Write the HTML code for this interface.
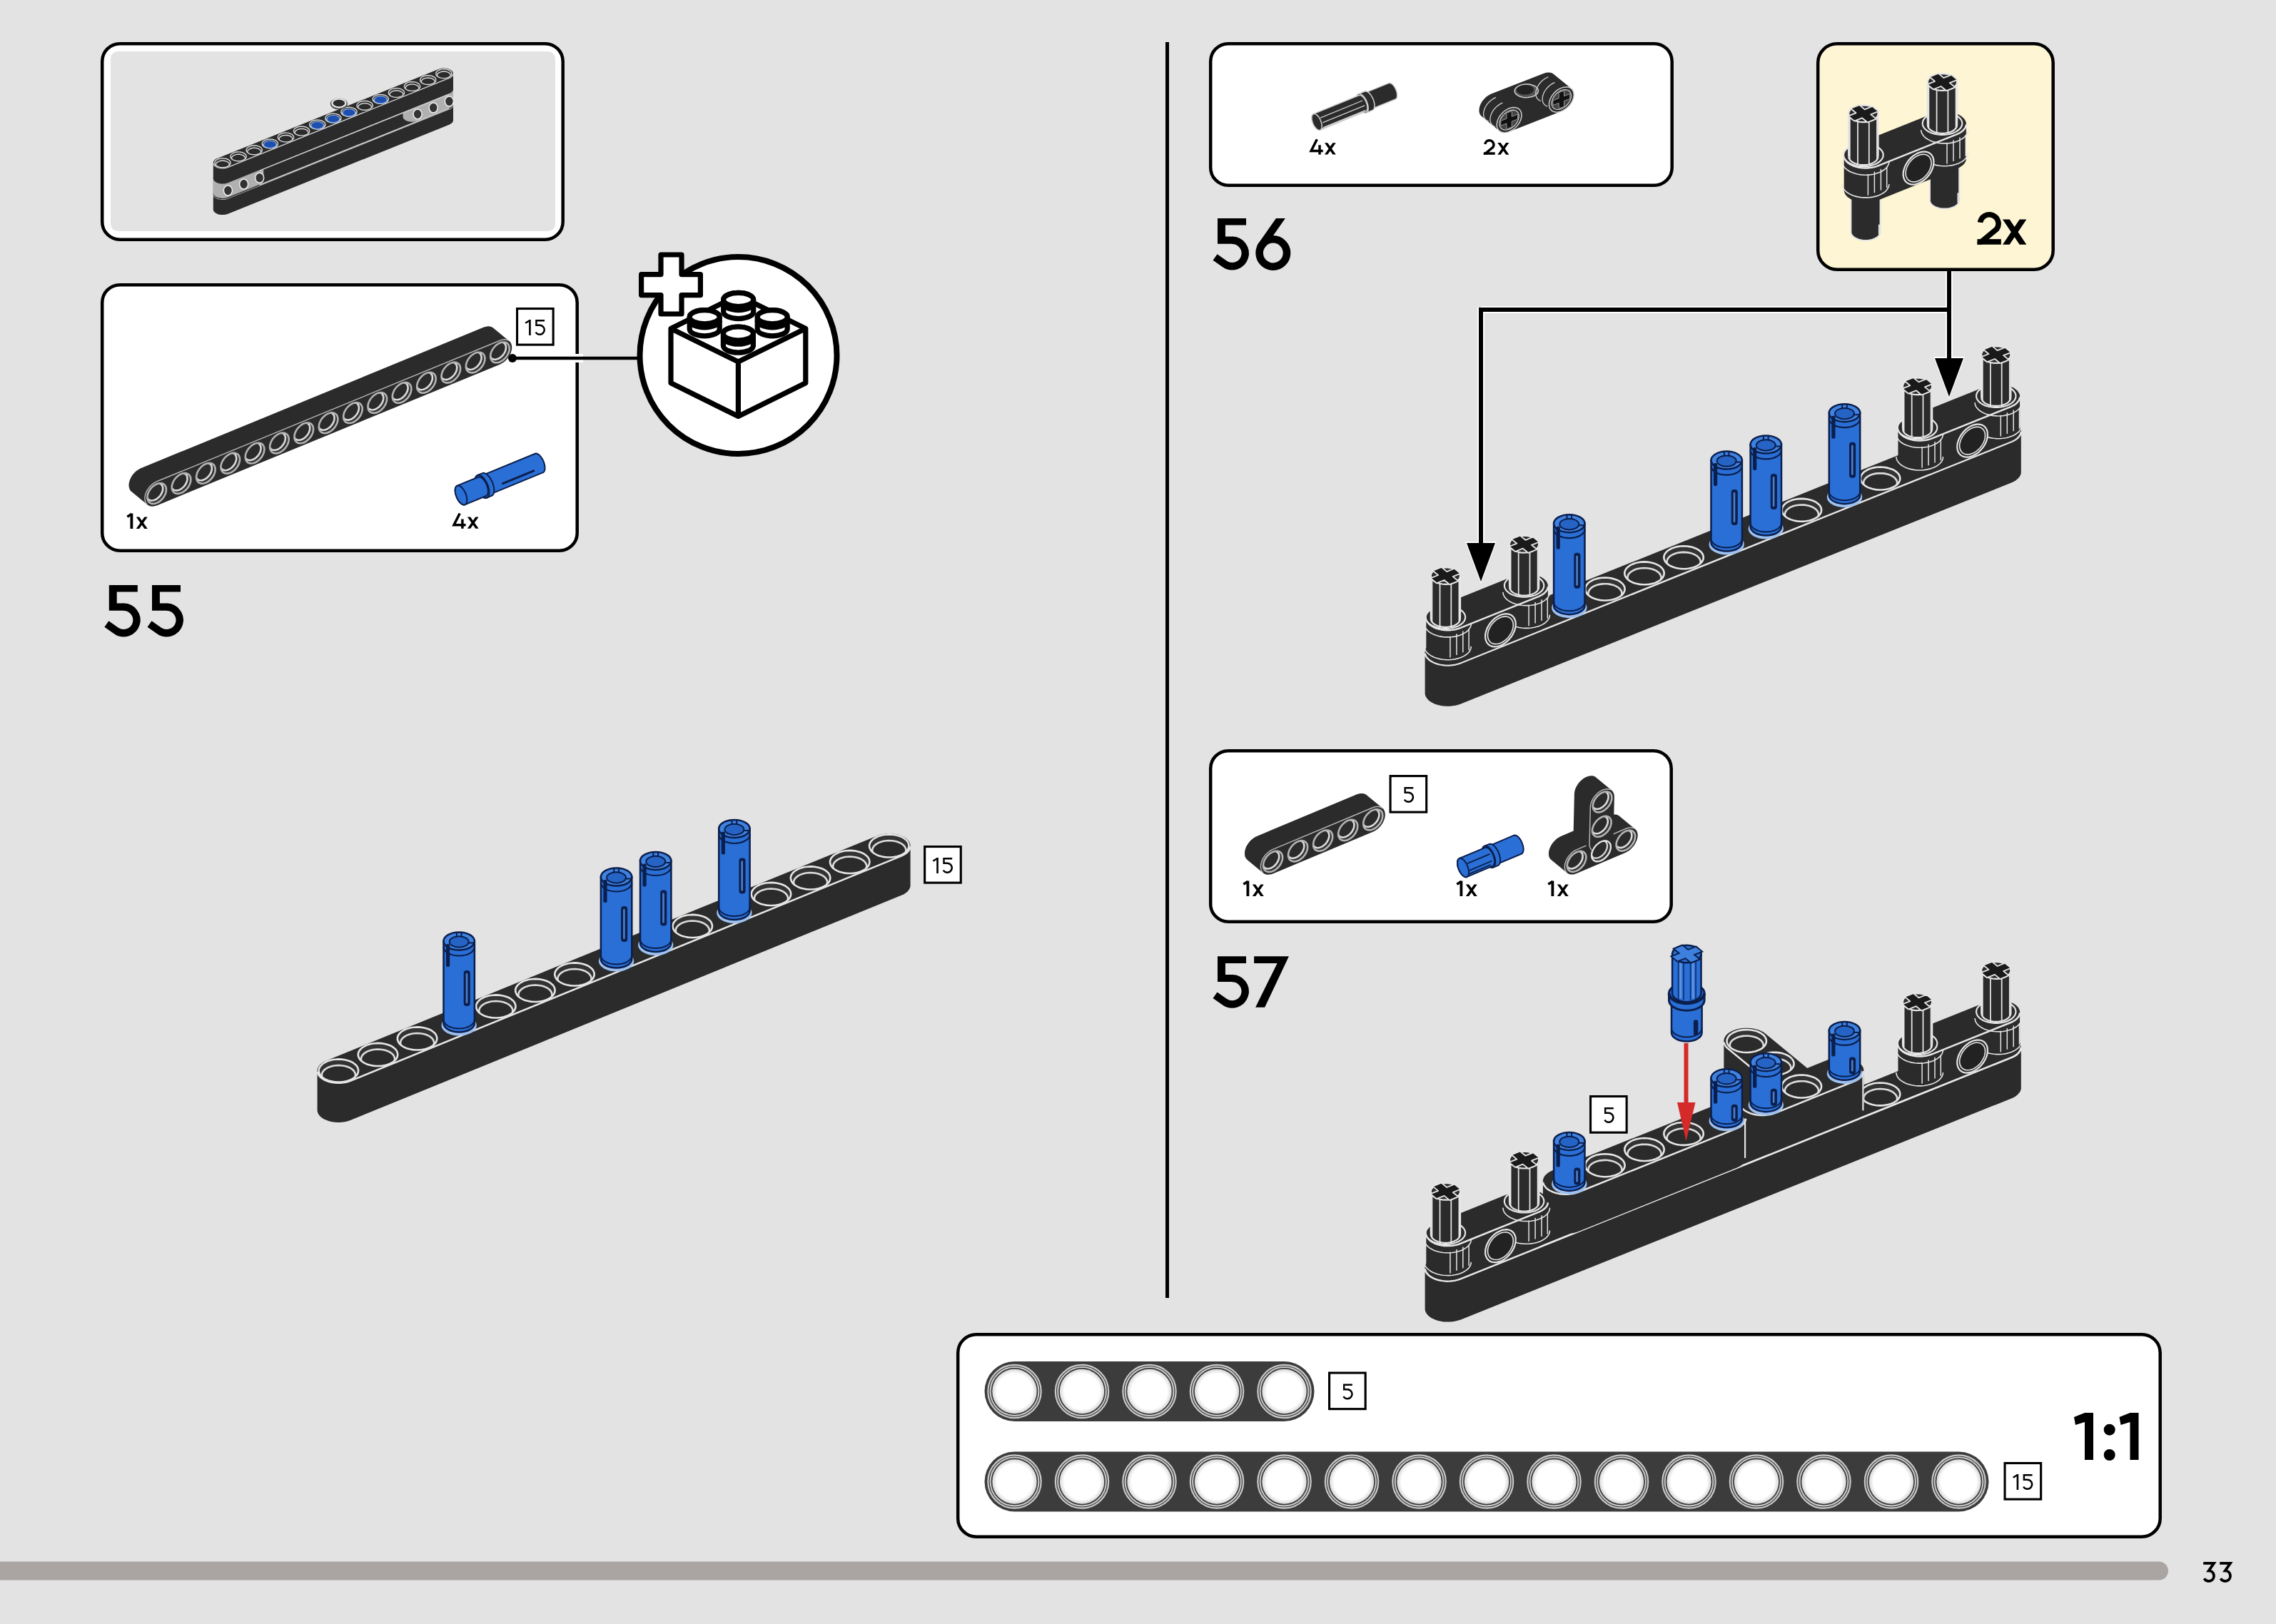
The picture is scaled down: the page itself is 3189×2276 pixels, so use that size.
<!DOCTYPE html><html><head><meta charset="utf-8"><style>
html,body{margin:0;padding:0;background:#e3e3e3;}
svg{display:block;font-family:"Liberation Sans",sans-serif;}
</style></head><body>
<svg width="3189" height="2276" viewBox="0 0 3189 2276" xmlns="http://www.w3.org/2000/svg">
<rect width="3189" height="2276" fill="#e3e3e3"/>
<defs><radialGradient id="holeg"><stop offset="0.8" stop-color="#fff"/><stop offset="1" stop-color="#d8d8d8"/></radialGradient></defs>
<rect x="1633" y="59" width="5" height="1760" fill="#000"/>
<rect x="143.2" y="61.2" width="645.5" height="274.5" rx="24.8" fill="#fff" stroke="#000" stroke-width="4.5"/>
<rect x="155" y="72" width="623" height="252" rx="10" fill="#e3e3e3"/>
<rect x="143.2" y="399.2" width="665.5" height="372.5" rx="24.8" fill="#fff" stroke="#000" stroke-width="4.5"/>
<rect x="1696.2" y="61.2" width="646.5" height="198.5" rx="24.8" fill="#fff" stroke="#000" stroke-width="4.5"/>
<rect x="2547.2" y="61.2" width="329.5" height="316.5" rx="26.8" fill="#fdf5d3" stroke="#000" stroke-width="4.5"/>
<rect x="1696.2" y="1052.2" width="645.5" height="239.5" rx="24.8" fill="#fff" stroke="#000" stroke-width="4.5"/>
<rect x="1342.2" y="1870.2" width="1684.5" height="283.5" rx="25.8" fill="#fff" stroke="#000" stroke-width="4.5"/>
<line x1="803" y1="502" x2="817" y2="502" stroke="#fff" stroke-width="12"/>
<line x1="718" y1="502" x2="900" y2="502" stroke="#000" stroke-width="4.5"/>
<circle cx="718" cy="502" r="6" fill="#000"/>
<circle cx="1034.5" cy="498" r="138" fill="#fff" stroke="#000" stroke-width="8"/>
<path d="M940,460.5 L1034.4,414 L1128.8,460.5 L1128.8,536.7 L1034.4,583.5 L940,536.7 Z" fill="#fff" stroke="#000" stroke-width="7.2" stroke-linejoin="round"/>
<path d="M940,460.5 L1034.4,507 L1128.8,460.5 M1034.4,507 L1034.4,583.5" fill="none" stroke="#000" stroke-width="7.2" stroke-linejoin="round"/>
<path d="M1013.7,420 L1013.7,437 A21,9.6 0 0 0 1055.7,437 L1055.7,420 A21,9.6 0 0 0 1013.7,420 Z" fill="#fff" stroke="#000" stroke-width="7.2"/><ellipse cx="1034.7" cy="420" rx="21" ry="9.6" fill="#fff" stroke="#000" stroke-width="7.2"/><path d="M1013.7,425 A21,9.6 0 0 0 1055.7,425" fill="none" stroke="#000" stroke-width="7.2"/>
<path d="M966.2,444.3 L966.2,461.3 A21,9.6 0 0 0 1008.2,461.3 L1008.2,444.3 A21,9.6 0 0 0 966.2,444.3 Z" fill="#fff" stroke="#000" stroke-width="7.2"/><ellipse cx="987.2" cy="444.3" rx="21" ry="9.6" fill="#fff" stroke="#000" stroke-width="7.2"/><path d="M966.2,449.3 A21,9.6 0 0 0 1008.2,449.3" fill="none" stroke="#000" stroke-width="7.2"/>
<path d="M1061.2,444.3 L1061.2,461.3 A21,9.6 0 0 0 1103.2,461.3 L1103.2,444.3 A21,9.6 0 0 0 1061.2,444.3 Z" fill="#fff" stroke="#000" stroke-width="7.2"/><ellipse cx="1082.2" cy="444.3" rx="21" ry="9.6" fill="#fff" stroke="#000" stroke-width="7.2"/><path d="M1061.2,449.3 A21,9.6 0 0 0 1103.2,449.3" fill="none" stroke="#000" stroke-width="7.2"/>
<path d="M1013.4000000000001,467.6 L1013.4000000000001,484.6 A21,9.6 0 0 0 1055.4,484.6 L1055.4,467.6 A21,9.6 0 0 0 1013.4000000000001,467.6 Z" fill="#fff" stroke="#000" stroke-width="7.2"/><ellipse cx="1034.4" cy="467.6" rx="21" ry="9.6" fill="#fff" stroke="#000" stroke-width="7.2"/><path d="M1013.4000000000001,472.6 A21,9.6 0 0 0 1055.4,472.6" fill="none" stroke="#000" stroke-width="7.2"/>
<path d="M926,357 L955,357 L955,384.6 L981.4,384.6 L981.4,413.6 L955,413.6 L955,440 L926,440 L926,413.6 L898.6,413.6 L898.6,384.6 L926,384.6 Z" fill="#fff" stroke="#000" stroke-width="7.2" stroke-linejoin="round"/>
<rect x="-20" y="2188.5" width="3058" height="26" rx="13" fill="#aaa5a2"/>
<path d="M152.8,819.9 H192.8 V829.6 H163.70000000000002 V845.6 H174.3 V855.8 H152.8 Z" fill="#000"/><path d="M173.3,850.8 A18.2,18.2 0 1 1 162.86,883.91 L149.35,874.44" fill="none" stroke="#000" stroke-width="10.4"/><path d="M213,819.9 H253 V829.6 H223.9 V845.6 H234.5 V855.8 H213 Z" fill="#000"/><path d="M233.5,850.8 A18.2,18.2 0 1 1 223.06,883.91 L209.55,874.44" fill="none" stroke="#000" stroke-width="10.4"/>
<path d="M1706,305.9 H1746 V315.59999999999997 H1716.9 V331.59999999999997 H1727.5 V341.79999999999995 H1706 Z" fill="#000"/><path d="M1726.5,336.8 A18.2,18.2 0 1 1 1716.06,369.91 L1702.55,360.44" fill="none" stroke="#000" stroke-width="10.4"/><circle cx="1783.8" cy="354.5" r="19.2" fill="none" stroke="#000" stroke-width="10.6"/><path d="M1770.12,349.80 L1800.86,305.90 L1787.92,305.90 L1761.44,343.72 Z" fill="#000"/>
<path d="M1706,1340.2 H1746 V1349.9 H1716.9 V1365.9 H1727.5 V1376.1000000000001 H1706 Z" fill="#000"/><path d="M1726.5,1371.1 A18.2,18.2 0 1 1 1716.06,1404.21 L1702.55,1394.74" fill="none" stroke="#000" stroke-width="10.4"/><path d="M1757.1,1340.2 H1805.8999999999999 L1772.1,1411.7 H1759.1 L1789.6,1349.9 H1757.1 Z" fill="#000"/>
<path d="M3087.20,2190.80 H3102.00 L3094.70,2201.30 A7.30,7.30 0 1 1 3088.38,2212.25" stroke="#000" stroke-width="3.80" fill="none" stroke-linejoin="miter"/><path d="M3110.20,2190.80 H3125.00 L3117.70,2201.30 A7.30,7.30 0 1 1 3111.38,2212.25" stroke="#000" stroke-width="3.80" fill="none" stroke-linejoin="miter"/>
<path d="M2921,1980 L2933,1980 L2933,2046 L2921,2046 L2921,1993 L2908,1997 L2906,1986 Z" fill="#000"/><path d="M2984.5,1980 L2996.5,1980 L2996.5,2046 L2984.5,2046 L2984.5,1993 L2971.5,1997 L2969.5,1986 Z" fill="#000"/>
<circle cx="2955.7" cy="2003.7" r="8" fill="#000"/><circle cx="2955.7" cy="2039" r="8" fill="#000"/>
<clipPath id="c1"><rect x="2770.5" y="292" width="45.7" height="50.7"/></clipPath><path d="M2774.61,311.81 A12.79,12.79 0 1 1 2797.75,320.92 L2770.36,343.77" stroke="#000" stroke-width="7.60" fill="none" clip-path="url(#c1)"/><rect x="2770.50" y="335.10" width="33.33" height="7.60" fill="#000"/><path d="M2806.00,307.51 H2815.67 L2839.36,342.70 H2829.69 Z" fill="#000"/><path d="M2839.36,307.51 H2829.69 L2806.00,342.70 H2815.67 Z" fill="#000"/>
<path d="M184.38,719.50 V741.00" stroke="#000" stroke-width="3.85" fill="none"/><path d="M178.29,724.21 L184.38,720.38" stroke="#000" stroke-width="3.50" fill="none"/><path d="M190.80,724.45 H195.14 L206.75,741.00 H202.41 Z" fill="#000"/><path d="M206.75,724.45 H202.41 L190.80,741.00 H195.14 Z" fill="#000"/>
<path d="M644.20,719.50 L636.00,735.70 H652.60" stroke="#000" stroke-width="3.50" fill="none" stroke-linejoin="miter"/><path d="M647.90,727.50 V740.80" stroke="#000" stroke-width="3.50" fill="none"/><path d="M654.81,724.40 H659.15 L670.62,740.80 H666.28 Z" fill="#000"/><path d="M670.62,724.40 H666.28 L654.81,740.80 H659.15 Z" fill="#000"/>
<path d="M1845.30,195.30 L1837.10,211.50 H1853.70" stroke="#000" stroke-width="3.50" fill="none" stroke-linejoin="miter"/><path d="M1849.00,203.30 V216.60" stroke="#000" stroke-width="3.50" fill="none"/><path d="M1855.91,200.20 H1860.25 L1871.72,216.60 H1867.38 Z" fill="#000"/><path d="M1871.72,200.20 H1867.38 L1855.91,216.60 H1860.25 Z" fill="#000"/>
<clipPath id="c2"><rect x="2078.8" y="190" width="21.8" height="26.8"/></clipPath><path d="M2080.76,202.00 A6.10,6.10 0 1 1 2091.80,206.35 L2078.74,217.30" stroke="#000" stroke-width="3.50" fill="none" clip-path="url(#c2)"/><rect x="2078.80" y="213.30" width="15.90" height="3.50" fill="#000"/><path d="M2098.27,200.01 H2102.61 L2114.44,216.80 H2110.10 Z" fill="#000"/><path d="M2114.44,200.01 H2110.10 L2098.27,216.80 H2102.61 Z" fill="#000"/>
<path d="M1748.38,1234.50 V1256.00" stroke="#000" stroke-width="3.85" fill="none"/><path d="M1742.29,1239.21 L1748.38,1235.38" stroke="#000" stroke-width="3.50" fill="none"/><path d="M1754.80,1239.44 H1759.14 L1770.75,1256.00 H1766.41 Z" fill="#000"/><path d="M1770.75,1239.44 H1766.41 L1754.80,1256.00 H1759.14 Z" fill="#000"/>
<path d="M2047.38,1234.50 V1256.00" stroke="#000" stroke-width="3.85" fill="none"/><path d="M2041.29,1239.21 L2047.38,1235.38" stroke="#000" stroke-width="3.50" fill="none"/><path d="M2053.80,1239.44 H2058.14 L2069.75,1256.00 H2065.41 Z" fill="#000"/><path d="M2069.75,1239.44 H2065.41 L2053.80,1256.00 H2058.14 Z" fill="#000"/>
<path d="M2175.38,1234.50 V1256.00" stroke="#000" stroke-width="3.85" fill="none"/><path d="M2169.29,1239.21 L2175.38,1235.38" stroke="#000" stroke-width="3.50" fill="none"/><path d="M2181.80,1239.44 H2186.14 L2197.75,1256.00 H2193.41 Z" fill="#000"/><path d="M2197.75,1239.44 H2193.41 L2181.80,1256.00 H2186.14 Z" fill="#000"/>
<rect x="724.55" y="432.55" width="50.60" height="50.60" fill="#fff" stroke="#000" stroke-width="3.1"/>
<path d="M742.43,448.00 V470.00" stroke="#000" stroke-width="2.64" fill="none"/><path d="M736.20,452.82 L742.43,448.90" stroke="#000" stroke-width="2.40" fill="none"/><path d="M763.06,449.20 H751.40 V455.74 H756.13 A6.53,6.53 0 1 1 750.59,465.73" stroke="#000" stroke-width="2.40" fill="none"/>
<rect x="1295.65" y="1186.55" width="50.60" height="50.60" fill="#fff" stroke="#000" stroke-width="3.1"/>
<path d="M1313.53,1202.00 V1224.00" stroke="#000" stroke-width="2.64" fill="none"/><path d="M1307.30,1206.82 L1313.53,1202.90" stroke="#000" stroke-width="2.40" fill="none"/><path d="M1334.16,1203.20 H1322.50 V1209.74 H1327.23 A6.53,6.53 0 1 1 1321.69,1219.73" stroke="#000" stroke-width="2.40" fill="none"/>
<rect x="1948.05" y="1087.55" width="50.60" height="50.60" fill="#fff" stroke="#000" stroke-width="3.1"/>
<path d="M1980.31,1104.20 H1968.65 V1110.74 H1973.38 A6.53,6.53 0 1 1 1967.84,1120.73" stroke="#000" stroke-width="2.40" fill="none"/>
<rect x="1862.55" y="1924.05" width="50.60" height="50.60" fill="#fff" stroke="#000" stroke-width="3.1"/>
<path d="M1894.81,1940.70 H1883.15 V1947.24 H1887.88 A6.53,6.53 0 1 1 1882.34,1957.23" stroke="#000" stroke-width="2.40" fill="none"/>
<rect x="2809.05" y="2050.55" width="50.60" height="50.60" fill="#fff" stroke="#000" stroke-width="3.1"/>
<path d="M2826.93,2066.00 V2088.00" stroke="#000" stroke-width="2.64" fill="none"/><path d="M2820.70,2070.82 L2826.93,2066.90" stroke="#000" stroke-width="2.40" fill="none"/><path d="M2847.56,2067.20 H2835.90 V2073.74 H2840.63 A6.53,6.53 0 1 1 2835.09,2083.73" stroke="#000" stroke-width="2.40" fill="none"/>
<path d="M444.6,1499.8 L445.0,1497.6 L445.9,1495.4 L447.4,1493.3 L449.2,1491.3 L451.5,1489.5 L454.2,1487.8 L457.3,1486.4 L1228.7,1171.4 L1232.0,1170.2 L1235.6,1169.3 L1239.3,1168.7 L1243.2,1168.3 L1247.1,1168.2 L1251.0,1168.5 L1254.8,1169.0 L1258.4,1169.8 L1261.8,1170.9 L1265.0,1172.2 L1267.8,1173.8 L1270.2,1175.5 L1272.3,1177.4 L1273.8,1179.5 L1274.9,1181.7 L1275.5,1183.9 L1275.6,1186.2 L1275.6,1241.4 L1275.2,1243.6 L1274.3,1245.8 L1272.8,1247.9 L1271.0,1249.9 L1268.7,1251.7 L1266.0,1253.4 L1262.9,1254.8 L491.5,1569.8 L488.2,1571.0 L484.6,1571.9 L480.9,1572.5 L477.0,1572.9 L473.1,1573.0 L469.2,1572.7 L465.4,1572.2 L461.8,1571.4 L458.4,1570.3 L455.2,1569.0 L452.4,1567.4 L449.9,1565.7 L447.9,1563.8 L446.4,1561.7 L445.3,1559.5 L444.7,1557.3 L444.6,1555.0Z" fill="#2b2b2b"/>
<path d="M444.7,1502.1 L445.3,1504.3 L446.4,1506.5 L447.9,1508.6 L449.9,1510.5 L452.4,1512.2 L455.2,1513.8 L458.4,1515.1 L461.8,1516.2 L465.4,1517.0 L469.2,1517.5 L473.1,1517.8 L477.0,1517.7 L480.9,1517.3 L484.6,1516.7 L488.2,1515.8 L491.5,1514.6 L1262.9,1199.6 L1266.0,1198.2 L1268.7,1196.5 L1271.0,1194.7 L1272.8,1192.7 L1274.3,1190.6 L1275.2,1188.4 L1275.6,1186.2" fill="none" stroke="#e6e6e6" stroke-width="2.5" stroke-linejoin="round"/>
<clipPath id="c3"><path d="M497.1,1491.2 L494.3,1489.2 L490.9,1487.5 L487.1,1486.2 L483.0,1485.2 L478.7,1484.6 L474.2,1484.4 L469.8,1484.7 L465.4,1485.3 L461.3,1486.4 L457.6,1487.8 L454.3,1489.5 L451.5,1491.5 L449.3,1493.8 L447.7,1496.2 L446.8,1498.8 L446.7,1501.3 L447.3,1503.9 L448.5,1506.4 L450.5,1508.7 L453.0,1510.8 L456.1,1512.6 L459.7,1514.2 L463.7,1515.3 L467.9,1516.1 L472.3,1516.5 L476.8,1516.5 L481.2,1516.0 L485.4,1515.2 L489.4,1514.0 L492.9,1512.4 L496.0,1510.5 L498.5,1508.4 L500.4,1506.0 L501.6,1503.5 L502.1,1501.0 L501.9,1498.4 L501.0,1495.8 L499.4,1493.4 L497.1,1491.2Z"/></clipPath><path d="M497.1,1491.2 L494.3,1489.2 L490.9,1487.5 L487.1,1486.2 L483.0,1485.2 L478.7,1484.6 L474.2,1484.4 L469.8,1484.7 L465.4,1485.3 L461.3,1486.4 L457.6,1487.8 L454.3,1489.5 L451.5,1491.5 L449.3,1493.8 L447.7,1496.2 L446.8,1498.8 L446.7,1501.3 L447.3,1503.9 L448.5,1506.4 L450.5,1508.7 L453.0,1510.8 L456.1,1512.6 L459.7,1514.2 L463.7,1515.3 L467.9,1516.1 L472.3,1516.5 L476.8,1516.5 L481.2,1516.0 L485.4,1515.2 L489.4,1514.0 L492.9,1512.4 L496.0,1510.5 L498.5,1508.4 L500.4,1506.0 L501.6,1503.5 L502.1,1501.0 L501.9,1498.4 L501.0,1495.8 L499.4,1493.4 L497.1,1491.2Z" fill="#333"/><g clip-path="url(#c3)"><path d="M493.7,1498.8 L491.3,1497.1 L488.4,1495.7 L485.2,1494.5 L481.7,1493.7 L478.0,1493.2 L474.2,1493.1 L470.5,1493.3 L466.8,1493.8 L463.3,1494.7 L460.1,1495.9 L457.3,1497.4 L454.9,1499.1 L453.0,1501.0 L451.7,1503.1 L451.0,1505.2 L450.8,1507.4 L451.3,1509.6 L452.4,1511.7 L454.1,1513.7 L456.2,1515.5 L458.9,1517.0 L461.9,1518.3 L465.3,1519.3 L468.9,1520.0 L472.7,1520.3 L476.4,1520.3 L480.2,1519.9 L483.8,1519.2 L487.1,1518.2 L490.2,1516.8 L492.8,1515.2 L494.9,1513.4 L496.5,1511.4 L497.5,1509.3 L498.0,1507.1 L497.8,1504.9 L497.0,1502.8 L495.6,1500.7 L493.7,1498.8Z" fill="#2b2b2b" stroke="#dcdcdc" stroke-width="2.60"/></g><path d="M497.1,1491.2 L494.3,1489.2 L490.9,1487.5 L487.1,1486.2 L483.0,1485.2 L478.7,1484.6 L474.2,1484.4 L469.8,1484.7 L465.4,1485.3 L461.3,1486.4 L457.6,1487.8 L454.3,1489.5 L451.5,1491.5 L449.3,1493.8 L447.7,1496.2 L446.8,1498.8 L446.7,1501.3 L447.3,1503.9 L448.5,1506.4 L450.5,1508.7 L453.0,1510.8 L456.1,1512.6 L459.7,1514.2 L463.7,1515.3 L467.9,1516.1 L472.3,1516.5 L476.8,1516.5 L481.2,1516.0 L485.4,1515.2 L489.4,1514.0 L492.9,1512.4 L496.0,1510.5 L498.5,1508.4 L500.4,1506.0 L501.6,1503.5 L502.1,1501.0 L501.9,1498.4 L501.0,1495.8 L499.4,1493.4 L497.1,1491.2Z" fill="none" stroke="#e6e6e6" stroke-width="2.6"/>
<clipPath id="c4"><path d="M552.2,1468.7 L549.4,1466.7 L546.0,1465.0 L542.2,1463.7 L538.1,1462.7 L533.8,1462.1 L529.3,1461.9 L524.9,1462.2 L520.5,1462.8 L516.4,1463.9 L512.7,1465.3 L509.4,1467.0 L506.6,1469.0 L504.4,1471.3 L502.8,1473.7 L501.9,1476.3 L501.8,1478.8 L502.4,1481.4 L503.6,1483.9 L505.6,1486.2 L508.1,1488.3 L511.2,1490.1 L514.8,1491.7 L518.8,1492.8 L523.0,1493.6 L527.4,1494.0 L531.9,1494.0 L536.3,1493.5 L540.5,1492.7 L544.5,1491.5 L548.0,1489.9 L551.1,1488.0 L553.6,1485.9 L555.5,1483.5 L556.7,1481.0 L557.2,1478.5 L557.0,1475.9 L556.1,1473.3 L554.5,1470.9 L552.2,1468.7Z"/></clipPath><path d="M552.2,1468.7 L549.4,1466.7 L546.0,1465.0 L542.2,1463.7 L538.1,1462.7 L533.8,1462.1 L529.3,1461.9 L524.9,1462.2 L520.5,1462.8 L516.4,1463.9 L512.7,1465.3 L509.4,1467.0 L506.6,1469.0 L504.4,1471.3 L502.8,1473.7 L501.9,1476.3 L501.8,1478.8 L502.4,1481.4 L503.6,1483.9 L505.6,1486.2 L508.1,1488.3 L511.2,1490.1 L514.8,1491.7 L518.8,1492.8 L523.0,1493.6 L527.4,1494.0 L531.9,1494.0 L536.3,1493.5 L540.5,1492.7 L544.5,1491.5 L548.0,1489.9 L551.1,1488.0 L553.6,1485.9 L555.5,1483.5 L556.7,1481.0 L557.2,1478.5 L557.0,1475.9 L556.1,1473.3 L554.5,1470.9 L552.2,1468.7Z" fill="#333"/><g clip-path="url(#c4)"><path d="M548.8,1476.3 L546.4,1474.6 L543.5,1473.2 L540.3,1472.0 L536.8,1471.2 L533.1,1470.7 L529.3,1470.6 L525.6,1470.8 L521.9,1471.3 L518.4,1472.2 L515.2,1473.4 L512.4,1474.9 L510.0,1476.6 L508.1,1478.5 L506.8,1480.6 L506.1,1482.7 L505.9,1484.9 L506.4,1487.1 L507.5,1489.2 L509.2,1491.2 L511.3,1493.0 L514.0,1494.5 L517.0,1495.8 L520.4,1496.8 L524.0,1497.5 L527.8,1497.8 L531.5,1497.8 L535.3,1497.4 L538.9,1496.7 L542.2,1495.7 L545.3,1494.3 L547.9,1492.7 L550.0,1490.9 L551.6,1488.9 L552.6,1486.8 L553.1,1484.6 L552.9,1482.4 L552.1,1480.3 L550.7,1478.2 L548.8,1476.3Z" fill="#2b2b2b" stroke="#dcdcdc" stroke-width="2.60"/></g><path d="M552.2,1468.7 L549.4,1466.7 L546.0,1465.0 L542.2,1463.7 L538.1,1462.7 L533.8,1462.1 L529.3,1461.9 L524.9,1462.2 L520.5,1462.8 L516.4,1463.9 L512.7,1465.3 L509.4,1467.0 L506.6,1469.0 L504.4,1471.3 L502.8,1473.7 L501.9,1476.3 L501.8,1478.8 L502.4,1481.4 L503.6,1483.9 L505.6,1486.2 L508.1,1488.3 L511.2,1490.1 L514.8,1491.7 L518.8,1492.8 L523.0,1493.6 L527.4,1494.0 L531.9,1494.0 L536.3,1493.5 L540.5,1492.7 L544.5,1491.5 L548.0,1489.9 L551.1,1488.0 L553.6,1485.9 L555.5,1483.5 L556.7,1481.0 L557.2,1478.5 L557.0,1475.9 L556.1,1473.3 L554.5,1470.9 L552.2,1468.7Z" fill="none" stroke="#e6e6e6" stroke-width="2.6"/>
<clipPath id="c5"><path d="M607.3,1446.2 L604.5,1444.2 L601.1,1442.5 L597.3,1441.2 L593.2,1440.2 L588.9,1439.6 L584.4,1439.4 L580.0,1439.7 L575.6,1440.3 L571.5,1441.4 L567.8,1442.8 L564.5,1444.5 L561.7,1446.5 L559.5,1448.8 L557.9,1451.2 L557.0,1453.8 L556.9,1456.3 L557.5,1458.9 L558.7,1461.4 L560.7,1463.7 L563.2,1465.8 L566.3,1467.6 L569.9,1469.2 L573.9,1470.3 L578.1,1471.1 L582.5,1471.5 L587.0,1471.5 L591.4,1471.0 L595.6,1470.2 L599.6,1469.0 L603.1,1467.4 L606.2,1465.5 L608.7,1463.4 L610.6,1461.0 L611.8,1458.5 L612.3,1456.0 L612.1,1453.4 L611.2,1450.8 L609.6,1448.4 L607.3,1446.2Z"/></clipPath><path d="M607.3,1446.2 L604.5,1444.2 L601.1,1442.5 L597.3,1441.2 L593.2,1440.2 L588.9,1439.6 L584.4,1439.4 L580.0,1439.7 L575.6,1440.3 L571.5,1441.4 L567.8,1442.8 L564.5,1444.5 L561.7,1446.5 L559.5,1448.8 L557.9,1451.2 L557.0,1453.8 L556.9,1456.3 L557.5,1458.9 L558.7,1461.4 L560.7,1463.7 L563.2,1465.8 L566.3,1467.6 L569.9,1469.2 L573.9,1470.3 L578.1,1471.1 L582.5,1471.5 L587.0,1471.5 L591.4,1471.0 L595.6,1470.2 L599.6,1469.0 L603.1,1467.4 L606.2,1465.5 L608.7,1463.4 L610.6,1461.0 L611.8,1458.5 L612.3,1456.0 L612.1,1453.4 L611.2,1450.8 L609.6,1448.4 L607.3,1446.2Z" fill="#333"/><g clip-path="url(#c5)"><path d="M603.9,1453.8 L601.5,1452.1 L598.6,1450.7 L595.4,1449.5 L591.9,1448.7 L588.2,1448.2 L584.4,1448.1 L580.7,1448.3 L577.0,1448.8 L573.5,1449.7 L570.3,1450.9 L567.5,1452.4 L565.1,1454.1 L563.2,1456.0 L561.9,1458.1 L561.2,1460.2 L561.0,1462.4 L561.5,1464.6 L562.6,1466.7 L564.3,1468.7 L566.4,1470.5 L569.1,1472.0 L572.1,1473.3 L575.5,1474.3 L579.1,1475.0 L582.9,1475.3 L586.6,1475.3 L590.4,1474.9 L594.0,1474.2 L597.3,1473.2 L600.4,1471.8 L603.0,1470.2 L605.1,1468.4 L606.7,1466.4 L607.7,1464.3 L608.2,1462.1 L608.0,1459.9 L607.2,1457.8 L605.8,1455.7 L603.9,1453.8Z" fill="#2b2b2b" stroke="#dcdcdc" stroke-width="2.60"/></g><path d="M607.3,1446.2 L604.5,1444.2 L601.1,1442.5 L597.3,1441.2 L593.2,1440.2 L588.9,1439.6 L584.4,1439.4 L580.0,1439.7 L575.6,1440.3 L571.5,1441.4 L567.8,1442.8 L564.5,1444.5 L561.7,1446.5 L559.5,1448.8 L557.9,1451.2 L557.0,1453.8 L556.9,1456.3 L557.5,1458.9 L558.7,1461.4 L560.7,1463.7 L563.2,1465.8 L566.3,1467.6 L569.9,1469.2 L573.9,1470.3 L578.1,1471.1 L582.5,1471.5 L587.0,1471.5 L591.4,1471.0 L595.6,1470.2 L599.6,1469.0 L603.1,1467.4 L606.2,1465.5 L608.7,1463.4 L610.6,1461.0 L611.8,1458.5 L612.3,1456.0 L612.1,1453.4 L611.2,1450.8 L609.6,1448.4 L607.3,1446.2Z" fill="none" stroke="#e6e6e6" stroke-width="2.6"/>
<clipPath id="c6"><path d="M717.5,1401.2 L714.7,1399.2 L711.3,1397.5 L707.5,1396.2 L703.4,1395.2 L699.1,1394.6 L694.6,1394.4 L690.2,1394.7 L685.8,1395.3 L681.7,1396.4 L678.0,1397.8 L674.7,1399.5 L671.9,1401.5 L669.7,1403.8 L668.1,1406.2 L667.2,1408.8 L667.1,1411.3 L667.7,1413.9 L668.9,1416.4 L670.9,1418.7 L673.4,1420.8 L676.5,1422.6 L680.1,1424.2 L684.1,1425.3 L688.3,1426.1 L692.7,1426.5 L697.2,1426.5 L701.6,1426.0 L705.8,1425.2 L709.8,1424.0 L713.3,1422.4 L716.4,1420.5 L718.9,1418.4 L720.8,1416.0 L722.0,1413.5 L722.5,1411.0 L722.3,1408.4 L721.4,1405.8 L719.8,1403.4 L717.5,1401.2Z"/></clipPath><path d="M717.5,1401.2 L714.7,1399.2 L711.3,1397.5 L707.5,1396.2 L703.4,1395.2 L699.1,1394.6 L694.6,1394.4 L690.2,1394.7 L685.8,1395.3 L681.7,1396.4 L678.0,1397.8 L674.7,1399.5 L671.9,1401.5 L669.7,1403.8 L668.1,1406.2 L667.2,1408.8 L667.1,1411.3 L667.7,1413.9 L668.9,1416.4 L670.9,1418.7 L673.4,1420.8 L676.5,1422.6 L680.1,1424.2 L684.1,1425.3 L688.3,1426.1 L692.7,1426.5 L697.2,1426.5 L701.6,1426.0 L705.8,1425.2 L709.8,1424.0 L713.3,1422.4 L716.4,1420.5 L718.9,1418.4 L720.8,1416.0 L722.0,1413.5 L722.5,1411.0 L722.3,1408.4 L721.4,1405.8 L719.8,1403.4 L717.5,1401.2Z" fill="#333"/><g clip-path="url(#c6)"><path d="M714.1,1408.8 L711.7,1407.1 L708.8,1405.7 L705.6,1404.5 L702.1,1403.7 L698.4,1403.2 L694.6,1403.1 L690.9,1403.3 L687.2,1403.8 L683.7,1404.7 L680.5,1405.9 L677.7,1407.4 L675.3,1409.1 L673.4,1411.0 L672.1,1413.1 L671.4,1415.2 L671.2,1417.4 L671.7,1419.6 L672.8,1421.7 L674.5,1423.7 L676.6,1425.5 L679.3,1427.0 L682.3,1428.3 L685.7,1429.3 L689.3,1430.0 L693.1,1430.3 L696.8,1430.3 L700.6,1429.9 L704.2,1429.2 L707.5,1428.2 L710.6,1426.8 L713.2,1425.2 L715.3,1423.4 L716.9,1421.4 L717.9,1419.3 L718.4,1417.1 L718.2,1414.9 L717.4,1412.8 L716.0,1410.7 L714.1,1408.8Z" fill="#2b2b2b" stroke="#dcdcdc" stroke-width="2.60"/></g><path d="M717.5,1401.2 L714.7,1399.2 L711.3,1397.5 L707.5,1396.2 L703.4,1395.2 L699.1,1394.6 L694.6,1394.4 L690.2,1394.7 L685.8,1395.3 L681.7,1396.4 L678.0,1397.8 L674.7,1399.5 L671.9,1401.5 L669.7,1403.8 L668.1,1406.2 L667.2,1408.8 L667.1,1411.3 L667.7,1413.9 L668.9,1416.4 L670.9,1418.7 L673.4,1420.8 L676.5,1422.6 L680.1,1424.2 L684.1,1425.3 L688.3,1426.1 L692.7,1426.5 L697.2,1426.5 L701.6,1426.0 L705.8,1425.2 L709.8,1424.0 L713.3,1422.4 L716.4,1420.5 L718.9,1418.4 L720.8,1416.0 L722.0,1413.5 L722.5,1411.0 L722.3,1408.4 L721.4,1405.8 L719.8,1403.4 L717.5,1401.2Z" fill="none" stroke="#e6e6e6" stroke-width="2.6"/>
<clipPath id="c7"><path d="M772.6,1378.7 L769.8,1376.7 L766.4,1375.0 L762.6,1373.7 L758.5,1372.7 L754.2,1372.1 L749.7,1371.9 L745.3,1372.2 L740.9,1372.8 L736.8,1373.9 L733.1,1375.3 L729.8,1377.0 L727.0,1379.0 L724.8,1381.3 L723.2,1383.7 L722.3,1386.3 L722.2,1388.8 L722.8,1391.4 L724.0,1393.9 L726.0,1396.2 L728.5,1398.3 L731.6,1400.1 L735.2,1401.7 L739.2,1402.8 L743.4,1403.6 L747.8,1404.0 L752.3,1404.0 L756.7,1403.5 L760.9,1402.7 L764.9,1401.5 L768.4,1399.9 L771.5,1398.0 L774.0,1395.9 L775.9,1393.5 L777.1,1391.0 L777.6,1388.5 L777.4,1385.9 L776.5,1383.3 L774.9,1380.9 L772.6,1378.7Z"/></clipPath><path d="M772.6,1378.7 L769.8,1376.7 L766.4,1375.0 L762.6,1373.7 L758.5,1372.7 L754.2,1372.1 L749.7,1371.9 L745.3,1372.2 L740.9,1372.8 L736.8,1373.9 L733.1,1375.3 L729.8,1377.0 L727.0,1379.0 L724.8,1381.3 L723.2,1383.7 L722.3,1386.3 L722.2,1388.8 L722.8,1391.4 L724.0,1393.9 L726.0,1396.2 L728.5,1398.3 L731.6,1400.1 L735.2,1401.7 L739.2,1402.8 L743.4,1403.6 L747.8,1404.0 L752.3,1404.0 L756.7,1403.5 L760.9,1402.7 L764.9,1401.5 L768.4,1399.9 L771.5,1398.0 L774.0,1395.9 L775.9,1393.5 L777.1,1391.0 L777.6,1388.5 L777.4,1385.9 L776.5,1383.3 L774.9,1380.9 L772.6,1378.7Z" fill="#333"/><g clip-path="url(#c7)"><path d="M769.2,1386.3 L766.8,1384.6 L763.9,1383.2 L760.7,1382.0 L757.2,1381.2 L753.5,1380.7 L749.7,1380.6 L746.0,1380.8 L742.3,1381.3 L738.8,1382.2 L735.6,1383.4 L732.8,1384.9 L730.4,1386.6 L728.5,1388.5 L727.2,1390.6 L726.5,1392.7 L726.3,1394.9 L726.8,1397.1 L727.9,1399.2 L729.6,1401.2 L731.7,1403.0 L734.4,1404.5 L737.4,1405.8 L740.8,1406.8 L744.4,1407.5 L748.2,1407.8 L751.9,1407.8 L755.7,1407.4 L759.3,1406.7 L762.6,1405.7 L765.7,1404.3 L768.3,1402.7 L770.4,1400.9 L772.0,1398.9 L773.0,1396.8 L773.5,1394.6 L773.3,1392.4 L772.5,1390.3 L771.1,1388.2 L769.2,1386.3Z" fill="#2b2b2b" stroke="#dcdcdc" stroke-width="2.60"/></g><path d="M772.6,1378.7 L769.8,1376.7 L766.4,1375.0 L762.6,1373.7 L758.5,1372.7 L754.2,1372.1 L749.7,1371.9 L745.3,1372.2 L740.9,1372.8 L736.8,1373.9 L733.1,1375.3 L729.8,1377.0 L727.0,1379.0 L724.8,1381.3 L723.2,1383.7 L722.3,1386.3 L722.2,1388.8 L722.8,1391.4 L724.0,1393.9 L726.0,1396.2 L728.5,1398.3 L731.6,1400.1 L735.2,1401.7 L739.2,1402.8 L743.4,1403.6 L747.8,1404.0 L752.3,1404.0 L756.7,1403.5 L760.9,1402.7 L764.9,1401.5 L768.4,1399.9 L771.5,1398.0 L774.0,1395.9 L775.9,1393.5 L777.1,1391.0 L777.6,1388.5 L777.4,1385.9 L776.5,1383.3 L774.9,1380.9 L772.6,1378.7Z" fill="none" stroke="#e6e6e6" stroke-width="2.6"/>
<clipPath id="c8"><path d="M827.7,1356.2 L824.9,1354.2 L821.5,1352.5 L817.7,1351.2 L813.6,1350.2 L809.3,1349.6 L804.8,1349.4 L800.4,1349.7 L796.0,1350.3 L791.9,1351.4 L788.2,1352.8 L784.9,1354.5 L782.1,1356.5 L779.9,1358.8 L778.3,1361.2 L777.4,1363.8 L777.3,1366.3 L777.9,1368.9 L779.1,1371.4 L781.1,1373.7 L783.6,1375.8 L786.7,1377.6 L790.3,1379.2 L794.3,1380.3 L798.5,1381.1 L802.9,1381.5 L807.4,1381.5 L811.8,1381.0 L816.0,1380.2 L820.0,1379.0 L823.5,1377.4 L826.6,1375.5 L829.1,1373.4 L831.0,1371.0 L832.2,1368.5 L832.7,1366.0 L832.5,1363.4 L831.6,1360.8 L830.0,1358.4 L827.7,1356.2Z"/></clipPath><path d="M827.7,1356.2 L824.9,1354.2 L821.5,1352.5 L817.7,1351.2 L813.6,1350.2 L809.3,1349.6 L804.8,1349.4 L800.4,1349.7 L796.0,1350.3 L791.9,1351.4 L788.2,1352.8 L784.9,1354.5 L782.1,1356.5 L779.9,1358.8 L778.3,1361.2 L777.4,1363.8 L777.3,1366.3 L777.9,1368.9 L779.1,1371.4 L781.1,1373.7 L783.6,1375.8 L786.7,1377.6 L790.3,1379.2 L794.3,1380.3 L798.5,1381.1 L802.9,1381.5 L807.4,1381.5 L811.8,1381.0 L816.0,1380.2 L820.0,1379.0 L823.5,1377.4 L826.6,1375.5 L829.1,1373.4 L831.0,1371.0 L832.2,1368.5 L832.7,1366.0 L832.5,1363.4 L831.6,1360.8 L830.0,1358.4 L827.7,1356.2Z" fill="#333"/><g clip-path="url(#c8)"><path d="M824.3,1363.8 L821.9,1362.1 L819.0,1360.7 L815.8,1359.5 L812.3,1358.7 L808.6,1358.2 L804.8,1358.1 L801.1,1358.3 L797.4,1358.8 L793.9,1359.7 L790.7,1360.9 L787.9,1362.4 L785.5,1364.1 L783.6,1366.0 L782.3,1368.1 L781.6,1370.2 L781.4,1372.4 L781.9,1374.6 L783.0,1376.7 L784.7,1378.7 L786.8,1380.5 L789.5,1382.0 L792.5,1383.3 L795.9,1384.3 L799.5,1385.0 L803.3,1385.3 L807.0,1385.3 L810.8,1384.9 L814.4,1384.2 L817.7,1383.2 L820.8,1381.8 L823.4,1380.2 L825.5,1378.4 L827.1,1376.4 L828.1,1374.3 L828.6,1372.1 L828.4,1369.9 L827.6,1367.8 L826.2,1365.7 L824.3,1363.8Z" fill="#2b2b2b" stroke="#dcdcdc" stroke-width="2.60"/></g><path d="M827.7,1356.2 L824.9,1354.2 L821.5,1352.5 L817.7,1351.2 L813.6,1350.2 L809.3,1349.6 L804.8,1349.4 L800.4,1349.7 L796.0,1350.3 L791.9,1351.4 L788.2,1352.8 L784.9,1354.5 L782.1,1356.5 L779.9,1358.8 L778.3,1361.2 L777.4,1363.8 L777.3,1366.3 L777.9,1368.9 L779.1,1371.4 L781.1,1373.7 L783.6,1375.8 L786.7,1377.6 L790.3,1379.2 L794.3,1380.3 L798.5,1381.1 L802.9,1381.5 L807.4,1381.5 L811.8,1381.0 L816.0,1380.2 L820.0,1379.0 L823.5,1377.4 L826.6,1375.5 L829.1,1373.4 L831.0,1371.0 L832.2,1368.5 L832.7,1366.0 L832.5,1363.4 L831.6,1360.8 L830.0,1358.4 L827.7,1356.2Z" fill="none" stroke="#e6e6e6" stroke-width="2.6"/>
<clipPath id="c9"><path d="M993.0,1288.7 L990.2,1286.7 L986.8,1285.0 L983.0,1283.7 L978.9,1282.7 L974.6,1282.1 L970.1,1281.9 L965.7,1282.2 L961.3,1282.8 L957.2,1283.9 L953.5,1285.3 L950.2,1287.0 L947.4,1289.0 L945.2,1291.3 L943.6,1293.7 L942.7,1296.3 L942.6,1298.8 L943.2,1301.4 L944.4,1303.9 L946.4,1306.2 L948.9,1308.3 L952.0,1310.1 L955.6,1311.7 L959.6,1312.8 L963.8,1313.6 L968.2,1314.0 L972.7,1314.0 L977.1,1313.5 L981.3,1312.7 L985.3,1311.5 L988.8,1309.9 L991.9,1308.0 L994.4,1305.9 L996.3,1303.5 L997.5,1301.0 L998.0,1298.5 L997.8,1295.9 L996.9,1293.3 L995.3,1290.9 L993.0,1288.7Z"/></clipPath><path d="M993.0,1288.7 L990.2,1286.7 L986.8,1285.0 L983.0,1283.7 L978.9,1282.7 L974.6,1282.1 L970.1,1281.9 L965.7,1282.2 L961.3,1282.8 L957.2,1283.9 L953.5,1285.3 L950.2,1287.0 L947.4,1289.0 L945.2,1291.3 L943.6,1293.7 L942.7,1296.3 L942.6,1298.8 L943.2,1301.4 L944.4,1303.9 L946.4,1306.2 L948.9,1308.3 L952.0,1310.1 L955.6,1311.7 L959.6,1312.8 L963.8,1313.6 L968.2,1314.0 L972.7,1314.0 L977.1,1313.5 L981.3,1312.7 L985.3,1311.5 L988.8,1309.9 L991.9,1308.0 L994.4,1305.9 L996.3,1303.5 L997.5,1301.0 L998.0,1298.5 L997.8,1295.9 L996.9,1293.3 L995.3,1290.9 L993.0,1288.7Z" fill="#333"/><g clip-path="url(#c9)"><path d="M989.6,1296.3 L987.2,1294.6 L984.3,1293.2 L981.1,1292.0 L977.6,1291.2 L973.9,1290.7 L970.1,1290.6 L966.4,1290.8 L962.7,1291.3 L959.2,1292.2 L956.0,1293.4 L953.2,1294.9 L950.8,1296.6 L948.9,1298.5 L947.6,1300.6 L946.9,1302.7 L946.7,1304.9 L947.2,1307.1 L948.3,1309.2 L950.0,1311.2 L952.1,1313.0 L954.8,1314.5 L957.8,1315.8 L961.2,1316.8 L964.8,1317.5 L968.6,1317.8 L972.3,1317.8 L976.1,1317.4 L979.7,1316.7 L983.0,1315.7 L986.1,1314.3 L988.7,1312.7 L990.8,1310.9 L992.4,1308.9 L993.4,1306.8 L993.9,1304.6 L993.7,1302.4 L992.9,1300.3 L991.5,1298.2 L989.6,1296.3Z" fill="#2b2b2b" stroke="#dcdcdc" stroke-width="2.60"/></g><path d="M993.0,1288.7 L990.2,1286.7 L986.8,1285.0 L983.0,1283.7 L978.9,1282.7 L974.6,1282.1 L970.1,1281.9 L965.7,1282.2 L961.3,1282.8 L957.2,1283.9 L953.5,1285.3 L950.2,1287.0 L947.4,1289.0 L945.2,1291.3 L943.6,1293.7 L942.7,1296.3 L942.6,1298.8 L943.2,1301.4 L944.4,1303.9 L946.4,1306.2 L948.9,1308.3 L952.0,1310.1 L955.6,1311.7 L959.6,1312.8 L963.8,1313.6 L968.2,1314.0 L972.7,1314.0 L977.1,1313.5 L981.3,1312.7 L985.3,1311.5 L988.8,1309.9 L991.9,1308.0 L994.4,1305.9 L996.3,1303.5 L997.5,1301.0 L998.0,1298.5 L997.8,1295.9 L996.9,1293.3 L995.3,1290.9 L993.0,1288.7Z" fill="none" stroke="#e6e6e6" stroke-width="2.6"/>
<clipPath id="c10"><path d="M1103.2,1243.7 L1100.4,1241.7 L1097.0,1240.0 L1093.2,1238.7 L1089.1,1237.7 L1084.8,1237.1 L1080.3,1236.9 L1075.9,1237.2 L1071.5,1237.8 L1067.4,1238.9 L1063.7,1240.3 L1060.4,1242.0 L1057.6,1244.0 L1055.4,1246.3 L1053.8,1248.7 L1052.9,1251.3 L1052.8,1253.8 L1053.4,1256.4 L1054.6,1258.9 L1056.6,1261.2 L1059.1,1263.3 L1062.2,1265.1 L1065.8,1266.7 L1069.8,1267.8 L1074.0,1268.6 L1078.4,1269.0 L1082.9,1269.0 L1087.3,1268.5 L1091.5,1267.7 L1095.5,1266.5 L1099.0,1264.9 L1102.1,1263.0 L1104.6,1260.9 L1106.5,1258.5 L1107.7,1256.0 L1108.2,1253.5 L1108.0,1250.9 L1107.1,1248.3 L1105.5,1245.9 L1103.2,1243.7Z"/></clipPath><path d="M1103.2,1243.7 L1100.4,1241.7 L1097.0,1240.0 L1093.2,1238.7 L1089.1,1237.7 L1084.8,1237.1 L1080.3,1236.9 L1075.9,1237.2 L1071.5,1237.8 L1067.4,1238.9 L1063.7,1240.3 L1060.4,1242.0 L1057.6,1244.0 L1055.4,1246.3 L1053.8,1248.7 L1052.9,1251.3 L1052.8,1253.8 L1053.4,1256.4 L1054.6,1258.9 L1056.6,1261.2 L1059.1,1263.3 L1062.2,1265.1 L1065.8,1266.7 L1069.8,1267.8 L1074.0,1268.6 L1078.4,1269.0 L1082.9,1269.0 L1087.3,1268.5 L1091.5,1267.7 L1095.5,1266.5 L1099.0,1264.9 L1102.1,1263.0 L1104.6,1260.9 L1106.5,1258.5 L1107.7,1256.0 L1108.2,1253.5 L1108.0,1250.9 L1107.1,1248.3 L1105.5,1245.9 L1103.2,1243.7Z" fill="#333"/><g clip-path="url(#c10)"><path d="M1099.8,1251.3 L1097.4,1249.6 L1094.5,1248.2 L1091.3,1247.0 L1087.8,1246.2 L1084.1,1245.7 L1080.3,1245.6 L1076.6,1245.8 L1072.9,1246.3 L1069.4,1247.2 L1066.2,1248.4 L1063.4,1249.9 L1061.0,1251.6 L1059.1,1253.5 L1057.8,1255.6 L1057.1,1257.7 L1056.9,1259.9 L1057.4,1262.1 L1058.5,1264.2 L1060.2,1266.2 L1062.3,1268.0 L1065.0,1269.5 L1068.0,1270.8 L1071.4,1271.8 L1075.0,1272.5 L1078.8,1272.8 L1082.5,1272.8 L1086.3,1272.4 L1089.9,1271.7 L1093.2,1270.7 L1096.3,1269.3 L1098.9,1267.7 L1101.0,1265.9 L1102.6,1263.9 L1103.6,1261.8 L1104.1,1259.6 L1103.9,1257.4 L1103.1,1255.3 L1101.7,1253.2 L1099.8,1251.3Z" fill="#2b2b2b" stroke="#dcdcdc" stroke-width="2.60"/></g><path d="M1103.2,1243.7 L1100.4,1241.7 L1097.0,1240.0 L1093.2,1238.7 L1089.1,1237.7 L1084.8,1237.1 L1080.3,1236.9 L1075.9,1237.2 L1071.5,1237.8 L1067.4,1238.9 L1063.7,1240.3 L1060.4,1242.0 L1057.6,1244.0 L1055.4,1246.3 L1053.8,1248.7 L1052.9,1251.3 L1052.8,1253.8 L1053.4,1256.4 L1054.6,1258.9 L1056.6,1261.2 L1059.1,1263.3 L1062.2,1265.1 L1065.8,1266.7 L1069.8,1267.8 L1074.0,1268.6 L1078.4,1269.0 L1082.9,1269.0 L1087.3,1268.5 L1091.5,1267.7 L1095.5,1266.5 L1099.0,1264.9 L1102.1,1263.0 L1104.6,1260.9 L1106.5,1258.5 L1107.7,1256.0 L1108.2,1253.5 L1108.0,1250.9 L1107.1,1248.3 L1105.5,1245.9 L1103.2,1243.7Z" fill="none" stroke="#e6e6e6" stroke-width="2.6"/>
<clipPath id="c11"><path d="M1158.3,1221.2 L1155.5,1219.2 L1152.1,1217.5 L1148.3,1216.2 L1144.2,1215.2 L1139.9,1214.6 L1135.4,1214.4 L1131.0,1214.7 L1126.6,1215.3 L1122.5,1216.4 L1118.8,1217.8 L1115.5,1219.5 L1112.7,1221.5 L1110.5,1223.8 L1108.9,1226.2 L1108.0,1228.8 L1107.9,1231.3 L1108.5,1233.9 L1109.7,1236.4 L1111.7,1238.7 L1114.2,1240.8 L1117.3,1242.6 L1120.9,1244.2 L1124.9,1245.3 L1129.1,1246.1 L1133.5,1246.5 L1138.0,1246.5 L1142.4,1246.0 L1146.6,1245.2 L1150.6,1244.0 L1154.1,1242.4 L1157.2,1240.5 L1159.7,1238.4 L1161.6,1236.0 L1162.8,1233.5 L1163.3,1231.0 L1163.1,1228.4 L1162.2,1225.8 L1160.6,1223.4 L1158.3,1221.2Z"/></clipPath><path d="M1158.3,1221.2 L1155.5,1219.2 L1152.1,1217.5 L1148.3,1216.2 L1144.2,1215.2 L1139.9,1214.6 L1135.4,1214.4 L1131.0,1214.7 L1126.6,1215.3 L1122.5,1216.4 L1118.8,1217.8 L1115.5,1219.5 L1112.7,1221.5 L1110.5,1223.8 L1108.9,1226.2 L1108.0,1228.8 L1107.9,1231.3 L1108.5,1233.9 L1109.7,1236.4 L1111.7,1238.7 L1114.2,1240.8 L1117.3,1242.6 L1120.9,1244.2 L1124.9,1245.3 L1129.1,1246.1 L1133.5,1246.5 L1138.0,1246.5 L1142.4,1246.0 L1146.6,1245.2 L1150.6,1244.0 L1154.1,1242.4 L1157.2,1240.5 L1159.7,1238.4 L1161.6,1236.0 L1162.8,1233.5 L1163.3,1231.0 L1163.1,1228.4 L1162.2,1225.8 L1160.6,1223.4 L1158.3,1221.2Z" fill="#333"/><g clip-path="url(#c11)"><path d="M1154.9,1228.8 L1152.5,1227.1 L1149.6,1225.7 L1146.4,1224.5 L1142.9,1223.7 L1139.2,1223.2 L1135.4,1223.1 L1131.7,1223.3 L1128.0,1223.8 L1124.5,1224.7 L1121.3,1225.9 L1118.5,1227.4 L1116.1,1229.1 L1114.2,1231.0 L1112.9,1233.1 L1112.2,1235.2 L1112.0,1237.4 L1112.5,1239.6 L1113.6,1241.7 L1115.3,1243.7 L1117.4,1245.5 L1120.1,1247.0 L1123.1,1248.3 L1126.5,1249.3 L1130.1,1250.0 L1133.9,1250.3 L1137.6,1250.3 L1141.4,1249.9 L1145.0,1249.2 L1148.3,1248.2 L1151.4,1246.8 L1154.0,1245.2 L1156.1,1243.4 L1157.7,1241.4 L1158.7,1239.3 L1159.2,1237.1 L1159.0,1234.9 L1158.2,1232.8 L1156.8,1230.7 L1154.9,1228.8Z" fill="#2b2b2b" stroke="#dcdcdc" stroke-width="2.60"/></g><path d="M1158.3,1221.2 L1155.5,1219.2 L1152.1,1217.5 L1148.3,1216.2 L1144.2,1215.2 L1139.9,1214.6 L1135.4,1214.4 L1131.0,1214.7 L1126.6,1215.3 L1122.5,1216.4 L1118.8,1217.8 L1115.5,1219.5 L1112.7,1221.5 L1110.5,1223.8 L1108.9,1226.2 L1108.0,1228.8 L1107.9,1231.3 L1108.5,1233.9 L1109.7,1236.4 L1111.7,1238.7 L1114.2,1240.8 L1117.3,1242.6 L1120.9,1244.2 L1124.9,1245.3 L1129.1,1246.1 L1133.5,1246.5 L1138.0,1246.5 L1142.4,1246.0 L1146.6,1245.2 L1150.6,1244.0 L1154.1,1242.4 L1157.2,1240.5 L1159.7,1238.4 L1161.6,1236.0 L1162.8,1233.5 L1163.3,1231.0 L1163.1,1228.4 L1162.2,1225.8 L1160.6,1223.4 L1158.3,1221.2Z" fill="none" stroke="#e6e6e6" stroke-width="2.6"/>
<clipPath id="c12"><path d="M1213.4,1198.7 L1210.6,1196.7 L1207.2,1195.0 L1203.4,1193.7 L1199.3,1192.7 L1195.0,1192.1 L1190.5,1191.9 L1186.1,1192.2 L1181.7,1192.8 L1177.6,1193.9 L1173.9,1195.3 L1170.6,1197.0 L1167.8,1199.0 L1165.6,1201.3 L1164.0,1203.7 L1163.1,1206.3 L1163.0,1208.8 L1163.6,1211.4 L1164.8,1213.9 L1166.8,1216.2 L1169.3,1218.3 L1172.4,1220.1 L1176.0,1221.7 L1180.0,1222.8 L1184.2,1223.6 L1188.6,1224.0 L1193.1,1224.0 L1197.5,1223.5 L1201.7,1222.7 L1205.7,1221.5 L1209.2,1219.9 L1212.3,1218.0 L1214.8,1215.9 L1216.7,1213.5 L1217.9,1211.0 L1218.4,1208.5 L1218.2,1205.9 L1217.3,1203.3 L1215.7,1200.9 L1213.4,1198.7Z"/></clipPath><path d="M1213.4,1198.7 L1210.6,1196.7 L1207.2,1195.0 L1203.4,1193.7 L1199.3,1192.7 L1195.0,1192.1 L1190.5,1191.9 L1186.1,1192.2 L1181.7,1192.8 L1177.6,1193.9 L1173.9,1195.3 L1170.6,1197.0 L1167.8,1199.0 L1165.6,1201.3 L1164.0,1203.7 L1163.1,1206.3 L1163.0,1208.8 L1163.6,1211.4 L1164.8,1213.9 L1166.8,1216.2 L1169.3,1218.3 L1172.4,1220.1 L1176.0,1221.7 L1180.0,1222.8 L1184.2,1223.6 L1188.6,1224.0 L1193.1,1224.0 L1197.5,1223.5 L1201.7,1222.7 L1205.7,1221.5 L1209.2,1219.9 L1212.3,1218.0 L1214.8,1215.9 L1216.7,1213.5 L1217.9,1211.0 L1218.4,1208.5 L1218.2,1205.9 L1217.3,1203.3 L1215.7,1200.9 L1213.4,1198.7Z" fill="#333"/><g clip-path="url(#c12)"><path d="M1210.0,1206.3 L1207.6,1204.6 L1204.7,1203.2 L1201.5,1202.0 L1198.0,1201.2 L1194.3,1200.7 L1190.5,1200.6 L1186.8,1200.8 L1183.1,1201.3 L1179.6,1202.2 L1176.4,1203.4 L1173.6,1204.9 L1171.2,1206.6 L1169.3,1208.5 L1168.0,1210.6 L1167.3,1212.7 L1167.1,1214.9 L1167.6,1217.1 L1168.7,1219.2 L1170.4,1221.2 L1172.5,1223.0 L1175.2,1224.5 L1178.2,1225.8 L1181.6,1226.8 L1185.2,1227.5 L1189.0,1227.8 L1192.7,1227.8 L1196.5,1227.4 L1200.1,1226.7 L1203.4,1225.7 L1206.5,1224.3 L1209.1,1222.7 L1211.2,1220.9 L1212.8,1218.9 L1213.8,1216.8 L1214.3,1214.6 L1214.1,1212.4 L1213.3,1210.3 L1211.9,1208.2 L1210.0,1206.3Z" fill="#2b2b2b" stroke="#dcdcdc" stroke-width="2.60"/></g><path d="M1213.4,1198.7 L1210.6,1196.7 L1207.2,1195.0 L1203.4,1193.7 L1199.3,1192.7 L1195.0,1192.1 L1190.5,1191.9 L1186.1,1192.2 L1181.7,1192.8 L1177.6,1193.9 L1173.9,1195.3 L1170.6,1197.0 L1167.8,1199.0 L1165.6,1201.3 L1164.0,1203.7 L1163.1,1206.3 L1163.0,1208.8 L1163.6,1211.4 L1164.8,1213.9 L1166.8,1216.2 L1169.3,1218.3 L1172.4,1220.1 L1176.0,1221.7 L1180.0,1222.8 L1184.2,1223.6 L1188.6,1224.0 L1193.1,1224.0 L1197.5,1223.5 L1201.7,1222.7 L1205.7,1221.5 L1209.2,1219.9 L1212.3,1218.0 L1214.8,1215.9 L1216.7,1213.5 L1217.9,1211.0 L1218.4,1208.5 L1218.2,1205.9 L1217.3,1203.3 L1215.7,1200.9 L1213.4,1198.7Z" fill="none" stroke="#e6e6e6" stroke-width="2.6"/>
<clipPath id="c13"><path d="M1268.5,1176.2 L1265.7,1174.2 L1262.3,1172.5 L1258.5,1171.2 L1254.4,1170.2 L1250.1,1169.6 L1245.6,1169.4 L1241.2,1169.7 L1236.8,1170.3 L1232.7,1171.4 L1229.0,1172.8 L1225.7,1174.5 L1222.9,1176.5 L1220.7,1178.8 L1219.1,1181.2 L1218.2,1183.8 L1218.1,1186.3 L1218.7,1188.9 L1219.9,1191.4 L1221.9,1193.7 L1224.4,1195.8 L1227.5,1197.6 L1231.1,1199.2 L1235.1,1200.3 L1239.3,1201.1 L1243.7,1201.5 L1248.2,1201.5 L1252.6,1201.0 L1256.8,1200.2 L1260.8,1199.0 L1264.3,1197.4 L1267.4,1195.5 L1269.9,1193.4 L1271.8,1191.0 L1273.0,1188.5 L1273.5,1186.0 L1273.3,1183.4 L1272.4,1180.8 L1270.8,1178.4 L1268.5,1176.2Z"/></clipPath><path d="M1268.5,1176.2 L1265.7,1174.2 L1262.3,1172.5 L1258.5,1171.2 L1254.4,1170.2 L1250.1,1169.6 L1245.6,1169.4 L1241.2,1169.7 L1236.8,1170.3 L1232.7,1171.4 L1229.0,1172.8 L1225.7,1174.5 L1222.9,1176.5 L1220.7,1178.8 L1219.1,1181.2 L1218.2,1183.8 L1218.1,1186.3 L1218.7,1188.9 L1219.9,1191.4 L1221.9,1193.7 L1224.4,1195.8 L1227.5,1197.6 L1231.1,1199.2 L1235.1,1200.3 L1239.3,1201.1 L1243.7,1201.5 L1248.2,1201.5 L1252.6,1201.0 L1256.8,1200.2 L1260.8,1199.0 L1264.3,1197.4 L1267.4,1195.5 L1269.9,1193.4 L1271.8,1191.0 L1273.0,1188.5 L1273.5,1186.0 L1273.3,1183.4 L1272.4,1180.8 L1270.8,1178.4 L1268.5,1176.2Z" fill="#333"/><g clip-path="url(#c13)"><path d="M1265.1,1183.8 L1262.7,1182.1 L1259.8,1180.7 L1256.6,1179.5 L1253.1,1178.7 L1249.4,1178.2 L1245.6,1178.1 L1241.9,1178.3 L1238.2,1178.8 L1234.7,1179.7 L1231.5,1180.9 L1228.7,1182.4 L1226.3,1184.1 L1224.4,1186.0 L1223.1,1188.1 L1222.4,1190.2 L1222.2,1192.4 L1222.7,1194.6 L1223.8,1196.7 L1225.5,1198.7 L1227.6,1200.5 L1230.3,1202.0 L1233.3,1203.3 L1236.7,1204.3 L1240.3,1205.0 L1244.1,1205.3 L1247.8,1205.3 L1251.6,1204.9 L1255.2,1204.2 L1258.5,1203.2 L1261.6,1201.8 L1264.2,1200.2 L1266.3,1198.4 L1267.9,1196.4 L1268.9,1194.3 L1269.4,1192.1 L1269.2,1189.9 L1268.4,1187.8 L1267.0,1185.7 L1265.1,1183.8Z" fill="#2b2b2b" stroke="#dcdcdc" stroke-width="2.60"/></g><path d="M1268.5,1176.2 L1265.7,1174.2 L1262.3,1172.5 L1258.5,1171.2 L1254.4,1170.2 L1250.1,1169.6 L1245.6,1169.4 L1241.2,1169.7 L1236.8,1170.3 L1232.7,1171.4 L1229.0,1172.8 L1225.7,1174.5 L1222.9,1176.5 L1220.7,1178.8 L1219.1,1181.2 L1218.2,1183.8 L1218.1,1186.3 L1218.7,1188.9 L1219.9,1191.4 L1221.9,1193.7 L1224.4,1195.8 L1227.5,1197.6 L1231.1,1199.2 L1235.1,1200.3 L1239.3,1201.1 L1243.7,1201.5 L1248.2,1201.5 L1252.6,1201.0 L1256.8,1200.2 L1260.8,1199.0 L1264.3,1197.4 L1267.4,1195.5 L1269.9,1193.4 L1271.8,1191.0 L1273.0,1188.5 L1273.5,1186.0 L1273.3,1183.4 L1272.4,1180.8 L1270.8,1178.4 L1268.5,1176.2Z" fill="none" stroke="#e6e6e6" stroke-width="2.6"/>
<ellipse cx="1028.9" cy="1279.5" rx="24.7" ry="14.5" fill="#9cc0f0"/>
<path d="M1007.2,1161.5 L1007.2,1276.5 A21.7,12.5 0 0 0 1050.6,1276.5 L1050.6,1161.5 Z" fill="#2a6fd6" stroke="#0b1f4d" stroke-width="2.5"/>
<path d="M1007.2,1271.5 A21.7,12.5 0 0 0 1050.6,1271.5" fill="none" stroke="#0b1f4d" stroke-width="2"/>
<path d="M1007.2,1169.5 A21.7,12.5 0 0 0 1050.6,1169.5" fill="none" stroke="#0b1f4d" stroke-width="2.2"/>
<ellipse cx="1028.9" cy="1161.5" rx="21.7" ry="12.5" fill="#3f82e0" stroke="#0b1f4d" stroke-width="2.5"/>
<ellipse cx="1028.9" cy="1162.5" rx="13.5" ry="7.7" fill="#2563c4" stroke="#0b1f4d" stroke-width="2"/>
<path d="M1025.6,1149.0 L1025.6,1155.9 M1032.2,1149.0 L1032.2,1155.9" stroke="#0b1f4d" stroke-width="2"/>
<path d="M1040.8,1164.0 L1050.6,1164.0" stroke="#0b1f4d" stroke-width="2"/>
<rect x="1010.7" y="1165.5" width="5.2" height="32" fill="#0b1f4d" rx="2"/>
<rect x="1035.4" y="1202.5" width="9.1" height="50.0" fill="#0b1f4d" rx="4"/>
<rect x="1038.4" y="1206.5" width="2.6" height="42.0" fill="#4d7fc9" rx="1"/>
<ellipse cx="918.7" cy="1324.5" rx="24.7" ry="14.5" fill="#9cc0f0"/>
<path d="M897.0,1206.5 L897.0,1321.5 A21.7,12.5 0 0 0 940.4,1321.5 L940.4,1206.5 Z" fill="#2a6fd6" stroke="#0b1f4d" stroke-width="2.5"/>
<path d="M897.0,1316.5 A21.7,12.5 0 0 0 940.4,1316.5" fill="none" stroke="#0b1f4d" stroke-width="2"/>
<path d="M897.0,1214.5 A21.7,12.5 0 0 0 940.4,1214.5" fill="none" stroke="#0b1f4d" stroke-width="2.2"/>
<ellipse cx="918.7" cy="1206.5" rx="21.7" ry="12.5" fill="#3f82e0" stroke="#0b1f4d" stroke-width="2.5"/>
<ellipse cx="918.7" cy="1207.5" rx="13.5" ry="7.7" fill="#2563c4" stroke="#0b1f4d" stroke-width="2"/>
<path d="M915.4,1194.0 L915.4,1200.9 M922.0,1194.0 L922.0,1200.9" stroke="#0b1f4d" stroke-width="2"/>
<path d="M930.6,1209.0 L940.4,1209.0" stroke="#0b1f4d" stroke-width="2"/>
<rect x="900.5" y="1210.5" width="5.2" height="32" fill="#0b1f4d" rx="2"/>
<rect x="925.2" y="1247.5" width="9.1" height="50.0" fill="#0b1f4d" rx="4"/>
<rect x="928.2" y="1251.5" width="2.6" height="42.0" fill="#4d7fc9" rx="1"/>
<ellipse cx="863.6" cy="1347.0" rx="24.7" ry="14.5" fill="#9cc0f0"/>
<path d="M841.9,1229.0 L841.9,1344.0 A21.7,12.5 0 0 0 885.3,1344.0 L885.3,1229.0 Z" fill="#2a6fd6" stroke="#0b1f4d" stroke-width="2.5"/>
<path d="M841.9,1339.0 A21.7,12.5 0 0 0 885.3,1339.0" fill="none" stroke="#0b1f4d" stroke-width="2"/>
<path d="M841.9,1237.0 A21.7,12.5 0 0 0 885.3,1237.0" fill="none" stroke="#0b1f4d" stroke-width="2.2"/>
<ellipse cx="863.6" cy="1229.0" rx="21.7" ry="12.5" fill="#3f82e0" stroke="#0b1f4d" stroke-width="2.5"/>
<ellipse cx="863.6" cy="1230.0" rx="13.5" ry="7.7" fill="#2563c4" stroke="#0b1f4d" stroke-width="2"/>
<path d="M860.3,1216.5 L860.3,1223.4 M866.9,1216.5 L866.9,1223.4" stroke="#0b1f4d" stroke-width="2"/>
<path d="M875.5,1231.5 L885.3,1231.5" stroke="#0b1f4d" stroke-width="2"/>
<rect x="845.4" y="1233.0" width="5.2" height="32" fill="#0b1f4d" rx="2"/>
<rect x="870.1" y="1270.0" width="9.1" height="50.0" fill="#0b1f4d" rx="4"/>
<rect x="873.1" y="1274.0" width="2.6" height="42.0" fill="#4d7fc9" rx="1"/>
<ellipse cx="643.2" cy="1437.0" rx="24.7" ry="14.5" fill="#9cc0f0"/>
<path d="M621.5,1319.0 L621.5,1434.0 A21.7,12.5 0 0 0 664.9,1434.0 L664.9,1319.0 Z" fill="#2a6fd6" stroke="#0b1f4d" stroke-width="2.5"/>
<path d="M621.5,1429.0 A21.7,12.5 0 0 0 664.9,1429.0" fill="none" stroke="#0b1f4d" stroke-width="2"/>
<path d="M621.5,1327.0 A21.7,12.5 0 0 0 664.9,1327.0" fill="none" stroke="#0b1f4d" stroke-width="2.2"/>
<ellipse cx="643.2" cy="1319.0" rx="21.7" ry="12.5" fill="#3f82e0" stroke="#0b1f4d" stroke-width="2.5"/>
<ellipse cx="643.2" cy="1320.0" rx="13.5" ry="7.7" fill="#2563c4" stroke="#0b1f4d" stroke-width="2"/>
<path d="M639.9,1306.5 L639.9,1313.4 M646.5,1306.5 L646.5,1313.4" stroke="#0b1f4d" stroke-width="2"/>
<path d="M655.1,1321.5 L664.9,1321.5" stroke="#0b1f4d" stroke-width="2"/>
<rect x="625.0" y="1323.0" width="5.2" height="32" fill="#0b1f4d" rx="2"/>
<rect x="649.7" y="1360.0" width="9.1" height="50.0" fill="#0b1f4d" rx="4"/>
<rect x="652.7" y="1364.0" width="2.6" height="42.0" fill="#4d7fc9" rx="1"/>
<path d="M180.5,680.0 L180.6,677.7 L181.1,675.4 L181.8,673.0 L182.7,670.7 L183.9,668.4 L185.4,666.1 L187.0,664.0 L188.9,662.0 L190.8,660.2 L192.9,658.7 L195.1,657.4 L197.2,656.3 L678.0,458.6 L680.2,457.9 L682.3,457.4 L684.4,457.3 L686.4,457.4 L688.2,457.9 L689.8,458.7 L691.3,459.8 L713.7,478.2 L715.0,479.6 L715.9,481.1 L716.6,482.9 L717.1,484.9 L717.2,487.0 L717.1,489.3 L716.6,491.6 L715.9,494.0 L715.0,496.3 L713.7,498.7 L712.3,500.9 L710.6,503.0 L708.8,505.0 L706.9,506.8 L704.8,508.3 L702.6,509.6 L700.5,510.7 L219.7,708.4 L217.5,709.1 L215.4,709.6 L213.3,709.7 L211.3,709.6 L209.5,709.1 L207.9,708.3 L206.4,707.3 L183.9,688.8 L182.7,687.4 L181.8,685.9 L181.1,684.1 L180.6,682.1Z" fill="#2b2b2b"/>
<path d="M712.3,477.2 L710.7,476.4 L708.8,476.0 L706.9,475.8 L704.8,475.9 L702.6,476.4 L700.5,477.2 L219.7,674.8 L217.5,675.9 L215.4,677.2 L213.3,678.7 L211.3,680.5 L209.5,682.5 L207.9,684.6 L206.4,686.9 L205.2,689.2 L204.2,691.5 L203.5,693.9 L203.1,696.2 L203.0,698.5 L203.1,700.6 L203.5,702.6 L204.2,704.4 L205.2,705.9 L206.4,707.3" fill="none" stroke="#b4b4b4" stroke-width="1.5" stroke-linejoin="round"/>
<clipPath id="c14"><path d="M233.0,686.1 L232.8,684.1 L232.3,682.2 L231.5,680.6 L230.3,679.2 L228.9,678.2 L227.3,677.5 L225.4,677.2 L223.4,677.3 L221.3,677.7 L219.2,678.5 L217.0,679.6 L215.0,681.1 L213.0,682.8 L211.3,684.7 L209.7,686.9 L208.5,689.1 L207.5,691.4 L206.8,693.7 L206.4,696.0 L206.4,698.1 L206.8,700.1 L207.5,701.9 L208.5,703.3 L209.7,704.5 L211.3,705.4 L213.0,705.9 L215.0,706.0 L217.0,705.8 L219.2,705.1 L221.3,704.2 L223.4,702.9 L225.4,701.3 L227.3,699.5 L228.9,697.4 L230.3,695.2 L231.5,692.9 L232.3,690.6 L232.8,688.3 L233.0,686.1Z"/></clipPath><path d="M233.0,686.1 L232.8,684.1 L232.3,682.2 L231.5,680.6 L230.3,679.2 L228.9,678.2 L227.3,677.5 L225.4,677.2 L223.4,677.3 L221.3,677.7 L219.2,678.5 L217.0,679.6 L215.0,681.1 L213.0,682.8 L211.3,684.7 L209.7,686.9 L208.5,689.1 L207.5,691.4 L206.8,693.7 L206.4,696.0 L206.4,698.1 L206.8,700.1 L207.5,701.9 L208.5,703.3 L209.7,704.5 L211.3,705.4 L213.0,705.9 L215.0,706.0 L217.0,705.8 L219.2,705.1 L221.3,704.2 L223.4,702.9 L225.4,701.3 L227.3,699.5 L228.9,697.4 L230.3,695.2 L231.5,692.9 L232.3,690.6 L232.8,688.3 L233.0,686.1Z" fill="#333"/><g clip-path="url(#c14)"><path d="M228.2,684.6 L228.1,682.9 L227.6,681.3 L226.9,679.9 L225.9,678.8 L224.7,677.9 L223.3,677.3 L221.7,677.1 L220.0,677.1 L218.3,677.5 L216.4,678.2 L214.6,679.1 L212.9,680.3 L211.2,681.8 L209.7,683.5 L208.4,685.3 L207.3,687.2 L206.5,689.1 L205.9,691.1 L205.6,693.0 L205.6,694.8 L205.9,696.5 L206.5,698.0 L207.3,699.3 L208.4,700.3 L209.7,701.0 L211.2,701.4 L212.9,701.5 L214.6,701.3 L216.4,700.8 L218.3,700.0 L220.0,698.9 L221.7,697.5 L223.3,696.0 L224.7,694.2 L225.9,692.4 L226.9,690.4 L227.6,688.5 L228.1,686.5 L228.2,684.6Z" fill="#2b2b2b" stroke="#dcdcdc" stroke-width="2.60"/></g><path d="M233.0,686.1 L232.8,684.1 L232.3,682.2 L231.5,680.6 L230.3,679.2 L228.9,678.2 L227.3,677.5 L225.4,677.2 L223.4,677.3 L221.3,677.7 L219.2,678.5 L217.0,679.6 L215.0,681.1 L213.0,682.8 L211.3,684.7 L209.7,686.9 L208.5,689.1 L207.5,691.4 L206.8,693.7 L206.4,696.0 L206.4,698.1 L206.8,700.1 L207.5,701.9 L208.5,703.3 L209.7,704.5 L211.3,705.4 L213.0,705.9 L215.0,706.0 L217.0,705.8 L219.2,705.1 L221.3,704.2 L223.4,702.9 L225.4,701.3 L227.3,699.5 L228.9,697.4 L230.3,695.2 L231.5,692.9 L232.3,690.6 L232.8,688.3 L233.0,686.1Z" fill="none" stroke="#b4b4b4" stroke-width="2.6"/>
<clipPath id="c15"><path d="M267.3,672.0 L267.2,669.9 L266.7,668.1 L265.8,666.4 L264.7,665.1 L263.3,664.1 L261.6,663.4 L259.7,663.1 L257.7,663.2 L255.6,663.6 L253.5,664.4 L251.4,665.5 L249.3,667.0 L247.4,668.7 L245.6,670.6 L244.1,672.7 L242.8,675.0 L241.8,677.3 L241.1,679.6 L240.8,681.9 L240.8,684.0 L241.1,686.0 L241.8,687.7 L242.8,689.2 L244.1,690.4 L245.6,691.3 L247.4,691.8 L249.3,691.9 L251.4,691.6 L253.5,691.0 L255.6,690.1 L257.7,688.8 L259.7,687.2 L261.6,685.3 L263.3,683.3 L264.7,681.1 L265.8,678.8 L266.7,676.5 L267.2,674.2 L267.3,672.0Z"/></clipPath><path d="M267.3,672.0 L267.2,669.9 L266.7,668.1 L265.8,666.4 L264.7,665.1 L263.3,664.1 L261.6,663.4 L259.7,663.1 L257.7,663.2 L255.6,663.6 L253.5,664.4 L251.4,665.5 L249.3,667.0 L247.4,668.7 L245.6,670.6 L244.1,672.7 L242.8,675.0 L241.8,677.3 L241.1,679.6 L240.8,681.9 L240.8,684.0 L241.1,686.0 L241.8,687.7 L242.8,689.2 L244.1,690.4 L245.6,691.3 L247.4,691.8 L249.3,691.9 L251.4,691.6 L253.5,691.0 L255.6,690.1 L257.7,688.8 L259.7,687.2 L261.6,685.3 L263.3,683.3 L264.7,681.1 L265.8,678.8 L266.7,676.5 L267.2,674.2 L267.3,672.0Z" fill="#333"/><g clip-path="url(#c15)"><path d="M262.5,670.5 L262.4,668.8 L262.0,667.2 L261.2,665.8 L260.3,664.6 L259.1,663.8 L257.7,663.2 L256.1,662.9 L254.4,663.0 L252.6,663.4 L250.8,664.0 L249.0,665.0 L247.2,666.2 L245.6,667.7 L244.1,669.3 L242.8,671.1 L241.7,673.0 L240.8,675.0 L240.2,677.0 L240.0,678.9 L240.0,680.7 L240.2,682.4 L240.8,683.9 L241.7,685.2 L242.8,686.2 L244.1,686.9 L245.6,687.3 L247.2,687.4 L249.0,687.2 L250.8,686.7 L252.6,685.9 L254.4,684.8 L256.1,683.4 L257.7,681.8 L259.1,680.1 L260.3,678.3 L261.2,676.3 L262.0,674.3 L262.4,672.4 L262.5,670.5Z" fill="#2b2b2b" stroke="#dcdcdc" stroke-width="2.60"/></g><path d="M267.3,672.0 L267.2,669.9 L266.7,668.1 L265.8,666.4 L264.7,665.1 L263.3,664.1 L261.6,663.4 L259.7,663.1 L257.7,663.2 L255.6,663.6 L253.5,664.4 L251.4,665.5 L249.3,667.0 L247.4,668.7 L245.6,670.6 L244.1,672.7 L242.8,675.0 L241.8,677.3 L241.1,679.6 L240.8,681.9 L240.8,684.0 L241.1,686.0 L241.8,687.7 L242.8,689.2 L244.1,690.4 L245.6,691.3 L247.4,691.8 L249.3,691.9 L251.4,691.6 L253.5,691.0 L255.6,690.1 L257.7,688.8 L259.7,687.2 L261.6,685.3 L263.3,683.3 L264.7,681.1 L265.8,678.8 L266.7,676.5 L267.2,674.2 L267.3,672.0Z" fill="none" stroke="#b4b4b4" stroke-width="2.6"/>
<clipPath id="c16"><path d="M301.7,657.9 L301.5,655.8 L301.0,653.9 L300.2,652.3 L299.0,651.0 L297.6,650.0 L295.9,649.3 L294.1,649.0 L292.1,649.0 L290.0,649.5 L287.8,650.3 L285.7,651.4 L283.7,652.8 L281.7,654.6 L280.0,656.5 L278.4,658.6 L277.1,660.9 L276.1,663.2 L275.5,665.5 L275.1,667.7 L275.1,669.9 L275.5,671.9 L276.1,673.6 L277.1,675.1 L278.4,676.3 L280.0,677.1 L281.7,677.6 L283.7,677.8 L285.7,677.5 L287.8,676.9 L290.0,675.9 L292.1,674.6 L294.1,673.1 L295.9,671.2 L297.6,669.2 L299.0,667.0 L300.2,664.7 L301.0,662.4 L301.5,660.1 L301.7,657.9Z"/></clipPath><path d="M301.7,657.9 L301.5,655.8 L301.0,653.9 L300.2,652.3 L299.0,651.0 L297.6,650.0 L295.9,649.3 L294.1,649.0 L292.1,649.0 L290.0,649.5 L287.8,650.3 L285.7,651.4 L283.7,652.8 L281.7,654.6 L280.0,656.5 L278.4,658.6 L277.1,660.9 L276.1,663.2 L275.5,665.5 L275.1,667.7 L275.1,669.9 L275.5,671.9 L276.1,673.6 L277.1,675.1 L278.4,676.3 L280.0,677.1 L281.7,677.6 L283.7,677.8 L285.7,677.5 L287.8,676.9 L290.0,675.9 L292.1,674.6 L294.1,673.1 L295.9,671.2 L297.6,669.2 L299.0,667.0 L300.2,664.7 L301.0,662.4 L301.5,660.1 L301.7,657.9Z" fill="#333"/><g clip-path="url(#c16)"><path d="M296.9,656.4 L296.7,654.6 L296.3,653.0 L295.6,651.7 L294.6,650.5 L293.4,649.7 L292.0,649.1 L290.4,648.8 L288.7,648.9 L286.9,649.2 L285.1,649.9 L283.3,650.9 L281.6,652.1 L279.9,653.6 L278.4,655.2 L277.1,657.0 L276.0,658.9 L275.2,660.9 L274.6,662.9 L274.3,664.8 L274.3,666.6 L274.6,668.3 L275.2,669.8 L276.0,671.0 L277.1,672.0 L278.4,672.8 L279.9,673.2 L281.6,673.3 L283.3,673.1 L285.1,672.6 L286.9,671.7 L288.7,670.6 L290.4,669.3 L292.0,667.7 L293.4,666.0 L294.6,664.1 L295.6,662.2 L296.3,660.2 L296.7,658.3 L296.9,656.4Z" fill="#2b2b2b" stroke="#dcdcdc" stroke-width="2.60"/></g><path d="M301.7,657.9 L301.5,655.8 L301.0,653.9 L300.2,652.3 L299.0,651.0 L297.6,650.0 L295.9,649.3 L294.1,649.0 L292.1,649.0 L290.0,649.5 L287.8,650.3 L285.7,651.4 L283.7,652.8 L281.7,654.6 L280.0,656.5 L278.4,658.6 L277.1,660.9 L276.1,663.2 L275.5,665.5 L275.1,667.7 L275.1,669.9 L275.5,671.9 L276.1,673.6 L277.1,675.1 L278.4,676.3 L280.0,677.1 L281.7,677.6 L283.7,677.8 L285.7,677.5 L287.8,676.9 L290.0,675.9 L292.1,674.6 L294.1,673.1 L295.9,671.2 L297.6,669.2 L299.0,667.0 L300.2,664.7 L301.0,662.4 L301.5,660.1 L301.7,657.9Z" fill="none" stroke="#b4b4b4" stroke-width="2.6"/>
<clipPath id="c17"><path d="M336.0,643.8 L335.9,641.7 L335.3,639.8 L334.5,638.2 L333.4,636.9 L331.9,635.8 L330.3,635.2 L328.4,634.9 L326.4,634.9 L324.3,635.3 L322.2,636.1 L320.1,637.3 L318.0,638.7 L316.1,640.4 L314.3,642.4 L312.8,644.5 L311.5,646.7 L310.5,649.0 L309.8,651.4 L309.5,653.6 L309.5,655.8 L309.8,657.7 L310.5,659.5 L311.5,661.0 L312.8,662.2 L314.3,663.0 L316.1,663.5 L318.0,663.6 L320.1,663.4 L322.2,662.8 L324.3,661.8 L326.4,660.5 L328.4,658.9 L330.3,657.1 L331.9,655.1 L333.4,652.9 L334.5,650.6 L335.3,648.3 L335.9,646.0 L336.0,643.8Z"/></clipPath><path d="M336.0,643.8 L335.9,641.7 L335.3,639.8 L334.5,638.2 L333.4,636.9 L331.9,635.8 L330.3,635.2 L328.4,634.9 L326.4,634.9 L324.3,635.3 L322.2,636.1 L320.1,637.3 L318.0,638.7 L316.1,640.4 L314.3,642.4 L312.8,644.5 L311.5,646.7 L310.5,649.0 L309.8,651.4 L309.5,653.6 L309.5,655.8 L309.8,657.7 L310.5,659.5 L311.5,661.0 L312.8,662.2 L314.3,663.0 L316.1,663.5 L318.0,663.6 L320.1,663.4 L322.2,662.8 L324.3,661.8 L326.4,660.5 L328.4,658.9 L330.3,657.1 L331.9,655.1 L333.4,652.9 L334.5,650.6 L335.3,648.3 L335.9,646.0 L336.0,643.8Z" fill="#333"/><g clip-path="url(#c17)"><path d="M331.2,642.3 L331.1,640.5 L330.6,638.9 L329.9,637.5 L329.0,636.4 L327.7,635.5 L326.3,635.0 L324.8,634.7 L323.1,634.7 L321.3,635.1 L319.5,635.8 L317.6,636.8 L315.9,638.0 L314.3,639.4 L312.8,641.1 L311.4,642.9 L310.4,644.8 L309.5,646.8 L308.9,648.7 L308.6,650.7 L308.6,652.5 L308.9,654.2 L309.5,655.6 L310.4,656.9 L311.4,657.9 L312.8,658.6 L314.3,659.1 L315.9,659.2 L317.6,659.0 L319.5,658.4 L321.3,657.6 L323.1,656.5 L324.8,655.2 L326.3,653.6 L327.7,651.9 L329.0,650.0 L329.9,648.1 L330.6,646.1 L331.1,644.2 L331.2,642.3Z" fill="#2b2b2b" stroke="#dcdcdc" stroke-width="2.60"/></g><path d="M336.0,643.8 L335.9,641.7 L335.3,639.8 L334.5,638.2 L333.4,636.9 L331.9,635.8 L330.3,635.2 L328.4,634.9 L326.4,634.9 L324.3,635.3 L322.2,636.1 L320.1,637.3 L318.0,638.7 L316.1,640.4 L314.3,642.4 L312.8,644.5 L311.5,646.7 L310.5,649.0 L309.8,651.4 L309.5,653.6 L309.5,655.8 L309.8,657.7 L310.5,659.5 L311.5,661.0 L312.8,662.2 L314.3,663.0 L316.1,663.5 L318.0,663.6 L320.1,663.4 L322.2,662.8 L324.3,661.8 L326.4,660.5 L328.4,658.9 L330.3,657.1 L331.9,655.1 L333.4,652.9 L334.5,650.6 L335.3,648.3 L335.9,646.0 L336.0,643.8Z" fill="none" stroke="#b4b4b4" stroke-width="2.6"/>
<clipPath id="c18"><path d="M370.4,629.6 L370.2,627.6 L369.7,625.7 L368.8,624.1 L367.7,622.7 L366.3,621.7 L364.6,621.0 L362.8,620.7 L360.8,620.8 L358.7,621.2 L356.5,622.0 L354.4,623.2 L352.3,624.6 L350.4,626.3 L348.6,628.3 L347.1,630.4 L345.8,632.6 L344.8,634.9 L344.1,637.2 L343.8,639.5 L343.8,641.6 L344.1,643.6 L344.8,645.4 L345.8,646.9 L347.1,648.1 L348.6,648.9 L350.4,649.4 L352.3,649.5 L354.4,649.3 L356.5,648.7 L358.7,647.7 L360.8,646.4 L362.8,644.8 L364.6,643.0 L366.3,640.9 L367.7,638.8 L368.8,636.5 L369.7,634.2 L370.2,631.9 L370.4,629.6Z"/></clipPath><path d="M370.4,629.6 L370.2,627.6 L369.7,625.7 L368.8,624.1 L367.7,622.7 L366.3,621.7 L364.6,621.0 L362.8,620.7 L360.8,620.8 L358.7,621.2 L356.5,622.0 L354.4,623.2 L352.3,624.6 L350.4,626.3 L348.6,628.3 L347.1,630.4 L345.8,632.6 L344.8,634.9 L344.1,637.2 L343.8,639.5 L343.8,641.6 L344.1,643.6 L344.8,645.4 L345.8,646.9 L347.1,648.1 L348.6,648.9 L350.4,649.4 L352.3,649.5 L354.4,649.3 L356.5,648.7 L358.7,647.7 L360.8,646.4 L362.8,644.8 L364.6,643.0 L366.3,640.9 L367.7,638.8 L368.8,636.5 L369.7,634.2 L370.2,631.9 L370.4,629.6Z" fill="#333"/><g clip-path="url(#c18)"><path d="M365.6,628.2 L365.4,626.4 L365.0,624.8 L364.3,623.4 L363.3,622.3 L362.1,621.4 L360.7,620.8 L359.1,620.6 L357.4,620.6 L355.6,621.0 L353.8,621.7 L352.0,622.6 L350.2,623.9 L348.6,625.3 L347.1,627.0 L345.8,628.8 L344.7,630.7 L343.8,632.6 L343.3,634.6 L343.0,636.5 L343.0,638.4 L343.3,640.0 L343.8,641.5 L344.7,642.8 L345.8,643.8 L347.1,644.5 L348.6,644.9 L350.2,645.1 L352.0,644.8 L353.8,644.3 L355.6,643.5 L357.4,642.4 L359.1,641.0 L360.7,639.5 L362.1,637.8 L363.3,635.9 L364.3,634.0 L365.0,632.0 L365.4,630.0 L365.6,628.2Z" fill="#2b2b2b" stroke="#dcdcdc" stroke-width="2.60"/></g><path d="M370.4,629.6 L370.2,627.6 L369.7,625.7 L368.8,624.1 L367.7,622.7 L366.3,621.7 L364.6,621.0 L362.8,620.7 L360.8,620.8 L358.7,621.2 L356.5,622.0 L354.4,623.2 L352.3,624.6 L350.4,626.3 L348.6,628.3 L347.1,630.4 L345.8,632.6 L344.8,634.9 L344.1,637.2 L343.8,639.5 L343.8,641.6 L344.1,643.6 L344.8,645.4 L345.8,646.9 L347.1,648.1 L348.6,648.9 L350.4,649.4 L352.3,649.5 L354.4,649.3 L356.5,648.7 L358.7,647.7 L360.8,646.4 L362.8,644.8 L364.6,643.0 L366.3,640.9 L367.7,638.8 L368.8,636.5 L369.7,634.2 L370.2,631.9 L370.4,629.6Z" fill="none" stroke="#b4b4b4" stroke-width="2.6"/>
<clipPath id="c19"><path d="M404.7,615.5 L404.5,613.5 L404.0,611.6 L403.2,610.0 L402.0,608.6 L400.6,607.6 L399.0,606.9 L397.1,606.6 L395.1,606.7 L393.0,607.1 L390.9,607.9 L388.7,609.0 L386.7,610.5 L384.7,612.2 L383.0,614.1 L381.4,616.3 L380.2,618.5 L379.2,620.8 L378.5,623.1 L378.1,625.4 L378.1,627.5 L378.5,629.5 L379.2,631.3 L380.2,632.7 L381.4,633.9 L383.0,634.8 L384.7,635.3 L386.7,635.4 L388.7,635.2 L390.9,634.5 L393.0,633.6 L395.1,632.3 L397.1,630.7 L399.0,628.9 L400.6,626.8 L402.0,624.6 L403.2,622.3 L404.0,620.0 L404.5,617.7 L404.7,615.5Z"/></clipPath><path d="M404.7,615.5 L404.5,613.5 L404.0,611.6 L403.2,610.0 L402.0,608.6 L400.6,607.6 L399.0,606.9 L397.1,606.6 L395.1,606.7 L393.0,607.1 L390.9,607.9 L388.7,609.0 L386.7,610.5 L384.7,612.2 L383.0,614.1 L381.4,616.3 L380.2,618.5 L379.2,620.8 L378.5,623.1 L378.1,625.4 L378.1,627.5 L378.5,629.5 L379.2,631.3 L380.2,632.7 L381.4,633.9 L383.0,634.8 L384.7,635.3 L386.7,635.4 L388.7,635.2 L390.9,634.5 L393.0,633.6 L395.1,632.3 L397.1,630.7 L399.0,628.9 L400.6,626.8 L402.0,624.6 L403.2,622.3 L404.0,620.0 L404.5,617.7 L404.7,615.5Z" fill="#333"/><g clip-path="url(#c19)"><path d="M399.9,614.0 L399.8,612.3 L399.3,610.7 L398.6,609.3 L397.6,608.2 L396.4,607.3 L395.0,606.7 L393.4,606.5 L391.7,606.5 L390.0,606.9 L388.1,607.6 L386.3,608.5 L384.6,609.7 L382.9,611.2 L381.4,612.9 L380.1,614.7 L379.0,616.6 L378.2,618.5 L377.6,620.5 L377.3,622.4 L377.3,624.2 L377.6,625.9 L378.2,627.4 L379.0,628.7 L380.1,629.7 L381.4,630.4 L382.9,630.8 L384.6,630.9 L386.3,630.7 L388.1,630.2 L390.0,629.4 L391.7,628.3 L393.4,626.9 L395.0,625.4 L396.4,623.6 L397.6,621.8 L398.6,619.8 L399.3,617.9 L399.8,615.9 L399.9,614.0Z" fill="#2b2b2b" stroke="#dcdcdc" stroke-width="2.60"/></g><path d="M404.7,615.5 L404.5,613.5 L404.0,611.6 L403.2,610.0 L402.0,608.6 L400.6,607.6 L399.0,606.9 L397.1,606.6 L395.1,606.7 L393.0,607.1 L390.9,607.9 L388.7,609.0 L386.7,610.5 L384.7,612.2 L383.0,614.1 L381.4,616.3 L380.2,618.5 L379.2,620.8 L378.5,623.1 L378.1,625.4 L378.1,627.5 L378.5,629.5 L379.2,631.3 L380.2,632.7 L381.4,633.9 L383.0,634.8 L384.7,635.3 L386.7,635.4 L388.7,635.2 L390.9,634.5 L393.0,633.6 L395.1,632.3 L397.1,630.7 L399.0,628.9 L400.6,626.8 L402.0,624.6 L403.2,622.3 L404.0,620.0 L404.5,617.7 L404.7,615.5Z" fill="none" stroke="#b4b4b4" stroke-width="2.6"/>
<clipPath id="c20"><path d="M439.0,601.4 L438.9,599.3 L438.4,597.5 L437.5,595.8 L436.4,594.5 L435.0,593.5 L433.3,592.8 L431.4,592.5 L429.4,592.6 L427.3,593.0 L425.2,593.8 L423.1,594.9 L421.0,596.4 L419.1,598.1 L417.3,600.0 L415.8,602.1 L414.5,604.4 L413.5,606.7 L412.8,609.0 L412.5,611.3 L412.5,613.4 L412.8,615.4 L413.5,617.1 L414.5,618.6 L415.8,619.8 L417.3,620.7 L419.1,621.2 L421.0,621.3 L423.1,621.0 L425.2,620.4 L427.3,619.5 L429.4,618.2 L431.4,616.6 L433.3,614.7 L435.0,612.7 L436.4,610.5 L437.5,608.2 L438.4,605.9 L438.9,603.6 L439.0,601.4Z"/></clipPath><path d="M439.0,601.4 L438.9,599.3 L438.4,597.5 L437.5,595.8 L436.4,594.5 L435.0,593.5 L433.3,592.8 L431.4,592.5 L429.4,592.6 L427.3,593.0 L425.2,593.8 L423.1,594.9 L421.0,596.4 L419.1,598.1 L417.3,600.0 L415.8,602.1 L414.5,604.4 L413.5,606.7 L412.8,609.0 L412.5,611.3 L412.5,613.4 L412.8,615.4 L413.5,617.1 L414.5,618.6 L415.8,619.8 L417.3,620.7 L419.1,621.2 L421.0,621.3 L423.1,621.0 L425.2,620.4 L427.3,619.5 L429.4,618.2 L431.4,616.6 L433.3,614.7 L435.0,612.7 L436.4,610.5 L437.5,608.2 L438.4,605.9 L438.9,603.6 L439.0,601.4Z" fill="#333"/><g clip-path="url(#c20)"><path d="M434.2,599.9 L434.1,598.2 L433.7,596.6 L432.9,595.2 L432.0,594.0 L430.8,593.2 L429.4,592.6 L427.8,592.3 L426.1,592.4 L424.3,592.8 L422.5,593.4 L420.7,594.4 L418.9,595.6 L417.3,597.1 L415.8,598.7 L414.5,600.5 L413.4,602.4 L412.5,604.4 L411.9,606.4 L411.7,608.3 L411.7,610.1 L411.9,611.8 L412.5,613.3 L413.4,614.6 L414.5,615.6 L415.8,616.3 L417.3,616.7 L418.9,616.8 L420.7,616.6 L422.5,616.1 L424.3,615.3 L426.1,614.2 L427.8,612.8 L429.4,611.2 L430.8,609.5 L432.0,607.7 L432.9,605.7 L433.7,603.7 L434.1,601.8 L434.2,599.9Z" fill="#2b2b2b" stroke="#dcdcdc" stroke-width="2.60"/></g><path d="M439.0,601.4 L438.9,599.3 L438.4,597.5 L437.5,595.8 L436.4,594.5 L435.0,593.5 L433.3,592.8 L431.4,592.5 L429.4,592.6 L427.3,593.0 L425.2,593.8 L423.1,594.9 L421.0,596.4 L419.1,598.1 L417.3,600.0 L415.8,602.1 L414.5,604.4 L413.5,606.7 L412.8,609.0 L412.5,611.3 L412.5,613.4 L412.8,615.4 L413.5,617.1 L414.5,618.6 L415.8,619.8 L417.3,620.7 L419.1,621.2 L421.0,621.3 L423.1,621.0 L425.2,620.4 L427.3,619.5 L429.4,618.2 L431.4,616.6 L433.3,614.7 L435.0,612.7 L436.4,610.5 L437.5,608.2 L438.4,605.9 L438.9,603.6 L439.0,601.4Z" fill="none" stroke="#b4b4b4" stroke-width="2.6"/>
<clipPath id="c21"><path d="M473.4,587.3 L473.2,585.2 L472.7,583.3 L471.9,581.7 L470.7,580.4 L469.3,579.4 L467.6,578.7 L465.8,578.4 L463.8,578.4 L461.7,578.9 L459.5,579.7 L457.4,580.8 L455.4,582.2 L453.4,584.0 L451.7,585.9 L450.1,588.0 L448.8,590.3 L447.8,592.6 L447.2,594.9 L446.8,597.1 L446.8,599.3 L447.2,601.3 L447.8,603.0 L448.8,604.5 L450.1,605.7 L451.7,606.5 L453.4,607.0 L455.4,607.2 L457.4,606.9 L459.5,606.3 L461.7,605.3 L463.8,604.0 L465.8,602.5 L467.6,600.6 L469.3,598.6 L470.7,596.4 L471.9,594.1 L472.7,591.8 L473.2,589.5 L473.4,587.3Z"/></clipPath><path d="M473.4,587.3 L473.2,585.2 L472.7,583.3 L471.9,581.7 L470.7,580.4 L469.3,579.4 L467.6,578.7 L465.8,578.4 L463.8,578.4 L461.7,578.9 L459.5,579.7 L457.4,580.8 L455.4,582.2 L453.4,584.0 L451.7,585.9 L450.1,588.0 L448.8,590.3 L447.8,592.6 L447.2,594.9 L446.8,597.1 L446.8,599.3 L447.2,601.3 L447.8,603.0 L448.8,604.5 L450.1,605.7 L451.7,606.5 L453.4,607.0 L455.4,607.2 L457.4,606.9 L459.5,606.3 L461.7,605.3 L463.8,604.0 L465.8,602.5 L467.6,600.6 L469.3,598.6 L470.7,596.4 L471.9,594.1 L472.7,591.8 L473.2,589.5 L473.4,587.3Z" fill="#333"/><g clip-path="url(#c21)"><path d="M468.6,585.8 L468.4,584.0 L468.0,582.4 L467.3,581.1 L466.3,579.9 L465.1,579.1 L463.7,578.5 L462.1,578.2 L460.4,578.3 L458.6,578.6 L456.8,579.3 L455.0,580.3 L453.3,581.5 L451.6,583.0 L450.1,584.6 L448.8,586.4 L447.7,588.3 L446.9,590.3 L446.3,592.3 L446.0,594.2 L446.0,596.0 L446.3,597.7 L446.9,599.2 L447.7,600.4 L448.8,601.4 L450.1,602.2 L451.6,602.6 L453.3,602.7 L455.0,602.5 L456.8,602.0 L458.6,601.1 L460.4,600.0 L462.1,598.7 L463.7,597.1 L465.1,595.4 L466.3,593.5 L467.3,591.6 L468.0,589.6 L468.4,587.7 L468.6,585.8Z" fill="#2b2b2b" stroke="#dcdcdc" stroke-width="2.60"/></g><path d="M473.4,587.3 L473.2,585.2 L472.7,583.3 L471.9,581.7 L470.7,580.4 L469.3,579.4 L467.6,578.7 L465.8,578.4 L463.8,578.4 L461.7,578.9 L459.5,579.7 L457.4,580.8 L455.4,582.2 L453.4,584.0 L451.7,585.9 L450.1,588.0 L448.8,590.3 L447.8,592.6 L447.2,594.9 L446.8,597.1 L446.8,599.3 L447.2,601.3 L447.8,603.0 L448.8,604.5 L450.1,605.7 L451.7,606.5 L453.4,607.0 L455.4,607.2 L457.4,606.9 L459.5,606.3 L461.7,605.3 L463.8,604.0 L465.8,602.5 L467.6,600.6 L469.3,598.6 L470.7,596.4 L471.9,594.1 L472.7,591.8 L473.2,589.5 L473.4,587.3Z" fill="none" stroke="#b4b4b4" stroke-width="2.6"/>
<clipPath id="c22"><path d="M507.7,573.2 L507.6,571.1 L507.0,569.2 L506.2,567.6 L505.1,566.3 L503.6,565.2 L502.0,564.6 L500.1,564.3 L498.1,564.3 L496.0,564.7 L493.9,565.5 L491.8,566.7 L489.7,568.1 L487.8,569.8 L486.0,571.8 L484.5,573.9 L483.2,576.1 L482.2,578.4 L481.5,580.8 L481.2,583.0 L481.2,585.2 L481.5,587.1 L482.2,588.9 L483.2,590.4 L484.5,591.6 L486.0,592.4 L487.8,592.9 L489.7,593.0 L491.8,592.8 L493.9,592.2 L496.0,591.2 L498.1,589.9 L500.1,588.3 L502.0,586.5 L503.6,584.5 L505.1,582.3 L506.2,580.0 L507.0,577.7 L507.6,575.4 L507.7,573.2Z"/></clipPath><path d="M507.7,573.2 L507.6,571.1 L507.0,569.2 L506.2,567.6 L505.1,566.3 L503.6,565.2 L502.0,564.6 L500.1,564.3 L498.1,564.3 L496.0,564.7 L493.9,565.5 L491.8,566.7 L489.7,568.1 L487.8,569.8 L486.0,571.8 L484.5,573.9 L483.2,576.1 L482.2,578.4 L481.5,580.8 L481.2,583.0 L481.2,585.2 L481.5,587.1 L482.2,588.9 L483.2,590.4 L484.5,591.6 L486.0,592.4 L487.8,592.9 L489.7,593.0 L491.8,592.8 L493.9,592.2 L496.0,591.2 L498.1,589.9 L500.1,588.3 L502.0,586.5 L503.6,584.5 L505.1,582.3 L506.2,580.0 L507.0,577.7 L507.6,575.4 L507.7,573.2Z" fill="#333"/><g clip-path="url(#c22)"><path d="M502.9,571.7 L502.8,569.9 L502.3,568.3 L501.6,566.9 L500.7,565.8 L499.4,564.9 L498.0,564.4 L496.5,564.1 L494.8,564.1 L493.0,564.5 L491.2,565.2 L489.3,566.2 L487.6,567.4 L486.0,568.8 L484.5,570.5 L483.1,572.3 L482.1,574.2 L481.2,576.2 L480.6,578.1 L480.3,580.1 L480.3,581.9 L480.6,583.6 L481.2,585.0 L482.1,586.3 L483.1,587.3 L484.5,588.0 L486.0,588.5 L487.6,588.6 L489.3,588.4 L491.2,587.8 L493.0,587.0 L494.8,585.9 L496.5,584.6 L498.0,583.0 L499.4,581.3 L500.7,579.4 L501.6,577.5 L502.3,575.5 L502.8,573.6 L502.9,571.7Z" fill="#2b2b2b" stroke="#dcdcdc" stroke-width="2.60"/></g><path d="M507.7,573.2 L507.6,571.1 L507.0,569.2 L506.2,567.6 L505.1,566.3 L503.6,565.2 L502.0,564.6 L500.1,564.3 L498.1,564.3 L496.0,564.7 L493.9,565.5 L491.8,566.7 L489.7,568.1 L487.8,569.8 L486.0,571.8 L484.5,573.9 L483.2,576.1 L482.2,578.4 L481.5,580.8 L481.2,583.0 L481.2,585.2 L481.5,587.1 L482.2,588.9 L483.2,590.4 L484.5,591.6 L486.0,592.4 L487.8,592.9 L489.7,593.0 L491.8,592.8 L493.9,592.2 L496.0,591.2 L498.1,589.9 L500.1,588.3 L502.0,586.5 L503.6,584.5 L505.1,582.3 L506.2,580.0 L507.0,577.7 L507.6,575.4 L507.7,573.2Z" fill="none" stroke="#b4b4b4" stroke-width="2.6"/>
<clipPath id="c23"><path d="M542.1,559.0 L541.9,557.0 L541.4,555.1 L540.5,553.5 L539.4,552.1 L538.0,551.1 L536.3,550.4 L534.5,550.1 L532.5,550.2 L530.4,550.6 L528.2,551.4 L526.1,552.6 L524.0,554.0 L522.1,555.7 L520.3,557.7 L518.8,559.8 L517.5,562.0 L516.5,564.3 L515.8,566.6 L515.5,568.9 L515.5,571.0 L515.8,573.0 L516.5,574.8 L517.5,576.3 L518.8,577.5 L520.3,578.3 L522.1,578.8 L524.0,578.9 L526.1,578.7 L528.2,578.1 L530.4,577.1 L532.5,575.8 L534.5,574.2 L536.3,572.4 L538.0,570.3 L539.4,568.2 L540.5,565.9 L541.4,563.6 L541.9,561.3 L542.1,559.0Z"/></clipPath><path d="M542.1,559.0 L541.9,557.0 L541.4,555.1 L540.5,553.5 L539.4,552.1 L538.0,551.1 L536.3,550.4 L534.5,550.1 L532.5,550.2 L530.4,550.6 L528.2,551.4 L526.1,552.6 L524.0,554.0 L522.1,555.7 L520.3,557.7 L518.8,559.8 L517.5,562.0 L516.5,564.3 L515.8,566.6 L515.5,568.9 L515.5,571.0 L515.8,573.0 L516.5,574.8 L517.5,576.3 L518.8,577.5 L520.3,578.3 L522.1,578.8 L524.0,578.9 L526.1,578.7 L528.2,578.1 L530.4,577.1 L532.5,575.8 L534.5,574.2 L536.3,572.4 L538.0,570.3 L539.4,568.2 L540.5,565.9 L541.4,563.6 L541.9,561.3 L542.1,559.0Z" fill="#333"/><g clip-path="url(#c23)"><path d="M537.3,557.6 L537.1,555.8 L536.7,554.2 L536.0,552.8 L535.0,551.7 L533.8,550.8 L532.4,550.2 L530.8,550.0 L529.1,550.0 L527.3,550.4 L525.5,551.1 L523.7,552.0 L521.9,553.3 L520.3,554.7 L518.8,556.4 L517.5,558.2 L516.4,560.1 L515.5,562.0 L515.0,564.0 L514.7,565.9 L514.7,567.8 L515.0,569.4 L515.5,570.9 L516.4,572.2 L517.5,573.2 L518.8,573.9 L520.3,574.3 L521.9,574.5 L523.7,574.2 L525.5,573.7 L527.3,572.9 L529.1,571.8 L530.8,570.4 L532.4,568.9 L533.8,567.2 L535.0,565.3 L536.0,563.4 L536.7,561.4 L537.1,559.4 L537.3,557.6Z" fill="#2b2b2b" stroke="#dcdcdc" stroke-width="2.60"/></g><path d="M542.1,559.0 L541.9,557.0 L541.4,555.1 L540.5,553.5 L539.4,552.1 L538.0,551.1 L536.3,550.4 L534.5,550.1 L532.5,550.2 L530.4,550.6 L528.2,551.4 L526.1,552.6 L524.0,554.0 L522.1,555.7 L520.3,557.7 L518.8,559.8 L517.5,562.0 L516.5,564.3 L515.8,566.6 L515.5,568.9 L515.5,571.0 L515.8,573.0 L516.5,574.8 L517.5,576.3 L518.8,577.5 L520.3,578.3 L522.1,578.8 L524.0,578.9 L526.1,578.7 L528.2,578.1 L530.4,577.1 L532.5,575.8 L534.5,574.2 L536.3,572.4 L538.0,570.3 L539.4,568.2 L540.5,565.9 L541.4,563.6 L541.9,561.3 L542.1,559.0Z" fill="none" stroke="#b4b4b4" stroke-width="2.6"/>
<clipPath id="c24"><path d="M576.4,544.9 L576.2,542.9 L575.7,541.0 L574.9,539.4 L573.7,538.0 L572.3,537.0 L570.7,536.3 L568.8,536.0 L566.8,536.1 L564.7,536.5 L562.6,537.3 L560.4,538.4 L558.4,539.9 L556.4,541.6 L554.7,543.5 L553.1,545.7 L551.9,547.9 L550.9,550.2 L550.2,552.5 L549.8,554.8 L549.8,556.9 L550.2,558.9 L550.9,560.7 L551.9,562.1 L553.1,563.3 L554.7,564.2 L556.4,564.7 L558.4,564.8 L560.4,564.6 L562.6,563.9 L564.7,563.0 L566.8,561.7 L568.8,560.1 L570.7,558.3 L572.3,556.2 L573.7,554.0 L574.9,551.7 L575.7,549.4 L576.2,547.1 L576.4,544.9Z"/></clipPath><path d="M576.4,544.9 L576.2,542.9 L575.7,541.0 L574.9,539.4 L573.7,538.0 L572.3,537.0 L570.7,536.3 L568.8,536.0 L566.8,536.1 L564.7,536.5 L562.6,537.3 L560.4,538.4 L558.4,539.9 L556.4,541.6 L554.7,543.5 L553.1,545.7 L551.9,547.9 L550.9,550.2 L550.2,552.5 L549.8,554.8 L549.8,556.9 L550.2,558.9 L550.9,560.7 L551.9,562.1 L553.1,563.3 L554.7,564.2 L556.4,564.7 L558.4,564.8 L560.4,564.6 L562.6,563.9 L564.7,563.0 L566.8,561.7 L568.8,560.1 L570.7,558.3 L572.3,556.2 L573.7,554.0 L574.9,551.7 L575.7,549.4 L576.2,547.1 L576.4,544.9Z" fill="#333"/><g clip-path="url(#c24)"><path d="M571.6,543.4 L571.5,541.7 L571.0,540.1 L570.3,538.7 L569.3,537.6 L568.1,536.7 L566.7,536.1 L565.1,535.9 L563.4,535.9 L561.7,536.3 L559.8,537.0 L558.0,537.9 L556.3,539.1 L554.6,540.6 L553.1,542.3 L551.8,544.1 L550.7,546.0 L549.9,547.9 L549.3,549.9 L549.0,551.8 L549.0,553.6 L549.3,555.3 L549.9,556.8 L550.7,558.1 L551.8,559.1 L553.1,559.8 L554.6,560.2 L556.3,560.3 L558.0,560.1 L559.8,559.6 L561.7,558.8 L563.4,557.7 L565.1,556.3 L566.7,554.8 L568.1,553.0 L569.3,551.2 L570.3,549.2 L571.0,547.3 L571.5,545.3 L571.6,543.4Z" fill="#2b2b2b" stroke="#dcdcdc" stroke-width="2.60"/></g><path d="M576.4,544.9 L576.2,542.9 L575.7,541.0 L574.9,539.4 L573.7,538.0 L572.3,537.0 L570.7,536.3 L568.8,536.0 L566.8,536.1 L564.7,536.5 L562.6,537.3 L560.4,538.4 L558.4,539.9 L556.4,541.6 L554.7,543.5 L553.1,545.7 L551.9,547.9 L550.9,550.2 L550.2,552.5 L549.8,554.8 L549.8,556.9 L550.2,558.9 L550.9,560.7 L551.9,562.1 L553.1,563.3 L554.7,564.2 L556.4,564.7 L558.4,564.8 L560.4,564.6 L562.6,563.9 L564.7,563.0 L566.8,561.7 L568.8,560.1 L570.7,558.3 L572.3,556.2 L573.7,554.0 L574.9,551.7 L575.7,549.4 L576.2,547.1 L576.4,544.9Z" fill="none" stroke="#b4b4b4" stroke-width="2.6"/>
<clipPath id="c25"><path d="M610.7,530.8 L610.6,528.7 L610.1,526.9 L609.2,525.2 L608.1,523.9 L606.7,522.9 L605.0,522.2 L603.1,521.9 L601.1,522.0 L599.0,522.4 L596.9,523.2 L594.8,524.3 L592.7,525.8 L590.8,527.5 L589.0,529.4 L587.5,531.5 L586.2,533.8 L585.2,536.1 L584.5,538.4 L584.2,540.7 L584.2,542.8 L584.5,544.8 L585.2,546.5 L586.2,548.0 L587.5,549.2 L589.0,550.1 L590.8,550.6 L592.7,550.7 L594.8,550.4 L596.9,549.8 L599.0,548.9 L601.1,547.6 L603.1,546.0 L605.0,544.1 L606.7,542.1 L608.1,539.9 L609.2,537.6 L610.1,535.3 L610.6,533.0 L610.7,530.8Z"/></clipPath><path d="M610.7,530.8 L610.6,528.7 L610.1,526.9 L609.2,525.2 L608.1,523.9 L606.7,522.9 L605.0,522.2 L603.1,521.9 L601.1,522.0 L599.0,522.4 L596.9,523.2 L594.8,524.3 L592.7,525.8 L590.8,527.5 L589.0,529.4 L587.5,531.5 L586.2,533.8 L585.2,536.1 L584.5,538.4 L584.2,540.7 L584.2,542.8 L584.5,544.8 L585.2,546.5 L586.2,548.0 L587.5,549.2 L589.0,550.1 L590.8,550.6 L592.7,550.7 L594.8,550.4 L596.9,549.8 L599.0,548.9 L601.1,547.6 L603.1,546.0 L605.0,544.1 L606.7,542.1 L608.1,539.9 L609.2,537.6 L610.1,535.3 L610.6,533.0 L610.7,530.8Z" fill="#333"/><g clip-path="url(#c25)"><path d="M605.9,529.3 L605.8,527.6 L605.4,526.0 L604.6,524.6 L603.7,523.4 L602.5,522.6 L601.1,522.0 L599.5,521.7 L597.8,521.8 L596.0,522.2 L594.2,522.8 L592.4,523.8 L590.6,525.0 L589.0,526.5 L587.5,528.1 L586.2,529.9 L585.1,531.8 L584.2,533.8 L583.6,535.8 L583.4,537.7 L583.4,539.5 L583.6,541.2 L584.2,542.7 L585.1,544.0 L586.2,545.0 L587.5,545.7 L589.0,546.1 L590.6,546.2 L592.4,546.0 L594.2,545.5 L596.0,544.7 L597.8,543.6 L599.5,542.2 L601.1,540.6 L602.5,538.9 L603.7,537.1 L604.6,535.1 L605.4,533.1 L605.8,531.2 L605.9,529.3Z" fill="#2b2b2b" stroke="#dcdcdc" stroke-width="2.60"/></g><path d="M610.7,530.8 L610.6,528.7 L610.1,526.9 L609.2,525.2 L608.1,523.9 L606.7,522.9 L605.0,522.2 L603.1,521.9 L601.1,522.0 L599.0,522.4 L596.9,523.2 L594.8,524.3 L592.7,525.8 L590.8,527.5 L589.0,529.4 L587.5,531.5 L586.2,533.8 L585.2,536.1 L584.5,538.4 L584.2,540.7 L584.2,542.8 L584.5,544.8 L585.2,546.5 L586.2,548.0 L587.5,549.2 L589.0,550.1 L590.8,550.6 L592.7,550.7 L594.8,550.4 L596.9,549.8 L599.0,548.9 L601.1,547.6 L603.1,546.0 L605.0,544.1 L606.7,542.1 L608.1,539.9 L609.2,537.6 L610.1,535.3 L610.6,533.0 L610.7,530.8Z" fill="none" stroke="#b4b4b4" stroke-width="2.6"/>
<clipPath id="c26"><path d="M645.1,516.7 L644.9,514.6 L644.4,512.7 L643.6,511.1 L642.4,509.8 L641.0,508.8 L639.3,508.1 L637.5,507.8 L635.5,507.8 L633.4,508.3 L631.2,509.1 L629.1,510.2 L627.1,511.6 L625.1,513.4 L623.4,515.3 L621.8,517.4 L620.5,519.7 L619.5,522.0 L618.9,524.3 L618.5,526.5 L618.5,528.7 L618.9,530.7 L619.5,532.4 L620.5,533.9 L621.8,535.1 L623.4,535.9 L625.1,536.4 L627.1,536.6 L629.1,536.3 L631.2,535.7 L633.4,534.7 L635.5,533.4 L637.5,531.9 L639.3,530.0 L641.0,528.0 L642.4,525.8 L643.6,523.5 L644.4,521.2 L644.9,518.9 L645.1,516.7Z"/></clipPath><path d="M645.1,516.7 L644.9,514.6 L644.4,512.7 L643.6,511.1 L642.4,509.8 L641.0,508.8 L639.3,508.1 L637.5,507.8 L635.5,507.8 L633.4,508.3 L631.2,509.1 L629.1,510.2 L627.1,511.6 L625.1,513.4 L623.4,515.3 L621.8,517.4 L620.5,519.7 L619.5,522.0 L618.9,524.3 L618.5,526.5 L618.5,528.7 L618.9,530.7 L619.5,532.4 L620.5,533.9 L621.8,535.1 L623.4,535.9 L625.1,536.4 L627.1,536.6 L629.1,536.3 L631.2,535.7 L633.4,534.7 L635.5,533.4 L637.5,531.9 L639.3,530.0 L641.0,528.0 L642.4,525.8 L643.6,523.5 L644.4,521.2 L644.9,518.9 L645.1,516.7Z" fill="#333"/><g clip-path="url(#c26)"><path d="M640.3,515.2 L640.1,513.4 L639.7,511.8 L639.0,510.5 L638.0,509.3 L636.8,508.5 L635.4,507.9 L633.8,507.6 L632.1,507.7 L630.3,508.0 L628.5,508.7 L626.7,509.7 L625.0,510.9 L623.3,512.4 L621.8,514.0 L620.5,515.8 L619.4,517.7 L618.6,519.7 L618.0,521.7 L617.7,523.6 L617.7,525.4 L618.0,527.1 L618.6,528.6 L619.4,529.8 L620.5,530.8 L621.8,531.6 L623.3,532.0 L625.0,532.1 L626.7,531.9 L628.5,531.4 L630.3,530.5 L632.1,529.4 L633.8,528.1 L635.4,526.5 L636.8,524.8 L638.0,522.9 L639.0,521.0 L639.7,519.0 L640.1,517.1 L640.3,515.2Z" fill="#2b2b2b" stroke="#dcdcdc" stroke-width="2.60"/></g><path d="M645.1,516.7 L644.9,514.6 L644.4,512.7 L643.6,511.1 L642.4,509.8 L641.0,508.8 L639.3,508.1 L637.5,507.8 L635.5,507.8 L633.4,508.3 L631.2,509.1 L629.1,510.2 L627.1,511.6 L625.1,513.4 L623.4,515.3 L621.8,517.4 L620.5,519.7 L619.5,522.0 L618.9,524.3 L618.5,526.5 L618.5,528.7 L618.9,530.7 L619.5,532.4 L620.5,533.9 L621.8,535.1 L623.4,535.9 L625.1,536.4 L627.1,536.6 L629.1,536.3 L631.2,535.7 L633.4,534.7 L635.5,533.4 L637.5,531.9 L639.3,530.0 L641.0,528.0 L642.4,525.8 L643.6,523.5 L644.4,521.2 L644.9,518.9 L645.1,516.7Z" fill="none" stroke="#b4b4b4" stroke-width="2.6"/>
<clipPath id="c27"><path d="M679.4,502.6 L679.3,500.5 L678.7,498.6 L677.9,497.0 L676.8,495.7 L675.3,494.6 L673.7,494.0 L671.8,493.7 L669.8,493.7 L667.7,494.1 L665.6,494.9 L663.5,496.1 L661.4,497.5 L659.5,499.2 L657.7,501.2 L656.2,503.3 L654.9,505.5 L653.9,507.8 L653.2,510.2 L652.9,512.4 L652.9,514.6 L653.2,516.5 L653.9,518.3 L654.9,519.8 L656.2,521.0 L657.7,521.8 L659.5,522.3 L661.4,522.4 L663.5,522.2 L665.6,521.6 L667.7,520.6 L669.8,519.3 L671.8,517.7 L673.7,515.9 L675.3,513.9 L676.8,511.7 L677.9,509.4 L678.7,507.1 L679.3,504.8 L679.4,502.6Z"/></clipPath><path d="M679.4,502.6 L679.3,500.5 L678.7,498.6 L677.9,497.0 L676.8,495.7 L675.3,494.6 L673.7,494.0 L671.8,493.7 L669.8,493.7 L667.7,494.1 L665.6,494.9 L663.5,496.1 L661.4,497.5 L659.5,499.2 L657.7,501.2 L656.2,503.3 L654.9,505.5 L653.9,507.8 L653.2,510.2 L652.9,512.4 L652.9,514.6 L653.2,516.5 L653.9,518.3 L654.9,519.8 L656.2,521.0 L657.7,521.8 L659.5,522.3 L661.4,522.4 L663.5,522.2 L665.6,521.6 L667.7,520.6 L669.8,519.3 L671.8,517.7 L673.7,515.9 L675.3,513.9 L676.8,511.7 L677.9,509.4 L678.7,507.1 L679.3,504.8 L679.4,502.6Z" fill="#333"/><g clip-path="url(#c27)"><path d="M674.6,501.1 L674.5,499.3 L674.0,497.7 L673.3,496.3 L672.4,495.2 L671.1,494.3 L669.7,493.8 L668.2,493.5 L666.5,493.5 L664.7,493.9 L662.9,494.6 L661.0,495.6 L659.3,496.8 L657.7,498.2 L656.2,499.9 L654.8,501.7 L653.8,503.6 L652.9,505.6 L652.3,507.5 L652.0,509.5 L652.0,511.3 L652.3,513.0 L652.9,514.4 L653.8,515.7 L654.8,516.7 L656.2,517.4 L657.7,517.9 L659.3,518.0 L661.0,517.8 L662.9,517.2 L664.7,516.4 L666.5,515.3 L668.2,514.0 L669.7,512.4 L671.1,510.7 L672.4,508.8 L673.3,506.9 L674.0,504.9 L674.5,503.0 L674.6,501.1Z" fill="#2b2b2b" stroke="#dcdcdc" stroke-width="2.60"/></g><path d="M679.4,502.6 L679.3,500.5 L678.7,498.6 L677.9,497.0 L676.8,495.7 L675.3,494.6 L673.7,494.0 L671.8,493.7 L669.8,493.7 L667.7,494.1 L665.6,494.9 L663.5,496.1 L661.4,497.5 L659.5,499.2 L657.7,501.2 L656.2,503.3 L654.9,505.5 L653.9,507.8 L653.2,510.2 L652.9,512.4 L652.9,514.6 L653.2,516.5 L653.9,518.3 L654.9,519.8 L656.2,521.0 L657.7,521.8 L659.5,522.3 L661.4,522.4 L663.5,522.2 L665.6,521.6 L667.7,520.6 L669.8,519.3 L671.8,517.7 L673.7,515.9 L675.3,513.9 L676.8,511.7 L677.9,509.4 L678.7,507.1 L679.3,504.8 L679.4,502.6Z" fill="none" stroke="#b4b4b4" stroke-width="2.6"/>
<clipPath id="c28"><path d="M713.8,488.4 L713.6,486.4 L713.1,484.5 L712.2,482.9 L711.1,481.5 L709.7,480.5 L708.0,479.8 L706.2,479.5 L704.2,479.6 L702.1,480.0 L699.9,480.8 L697.8,482.0 L695.7,483.4 L693.8,485.1 L692.0,487.1 L690.5,489.2 L689.2,491.4 L688.2,493.7 L687.5,496.0 L687.2,498.3 L687.2,500.4 L687.5,502.4 L688.2,504.2 L689.2,505.7 L690.5,506.9 L692.0,507.7 L693.8,508.2 L695.7,508.3 L697.8,508.1 L699.9,507.5 L702.1,506.5 L704.2,505.2 L706.2,503.6 L708.0,501.8 L709.7,499.7 L711.1,497.6 L712.2,495.3 L713.1,493.0 L713.6,490.7 L713.8,488.4Z"/></clipPath><path d="M713.8,488.4 L713.6,486.4 L713.1,484.5 L712.2,482.9 L711.1,481.5 L709.7,480.5 L708.0,479.8 L706.2,479.5 L704.2,479.6 L702.1,480.0 L699.9,480.8 L697.8,482.0 L695.7,483.4 L693.8,485.1 L692.0,487.1 L690.5,489.2 L689.2,491.4 L688.2,493.7 L687.5,496.0 L687.2,498.3 L687.2,500.4 L687.5,502.4 L688.2,504.2 L689.2,505.7 L690.5,506.9 L692.0,507.7 L693.8,508.2 L695.7,508.3 L697.8,508.1 L699.9,507.5 L702.1,506.5 L704.2,505.2 L706.2,503.6 L708.0,501.8 L709.7,499.7 L711.1,497.6 L712.2,495.3 L713.1,493.0 L713.6,490.7 L713.8,488.4Z" fill="#333"/><g clip-path="url(#c28)"><path d="M709.0,487.0 L708.8,485.2 L708.4,483.6 L707.7,482.2 L706.7,481.1 L705.5,480.2 L704.1,479.6 L702.5,479.4 L700.8,479.4 L699.0,479.8 L697.2,480.5 L695.4,481.4 L693.6,482.7 L692.0,484.1 L690.5,485.8 L689.2,487.6 L688.1,489.5 L687.2,491.4 L686.7,493.4 L686.4,495.3 L686.4,497.2 L686.7,498.8 L687.2,500.3 L688.1,501.6 L689.2,502.6 L690.5,503.3 L692.0,503.7 L693.6,503.9 L695.4,503.6 L697.2,503.1 L699.0,502.3 L700.8,501.2 L702.5,499.8 L704.1,498.3 L705.5,496.6 L706.7,494.7 L707.7,492.8 L708.4,490.8 L708.8,488.8 L709.0,487.0Z" fill="#2b2b2b" stroke="#dcdcdc" stroke-width="2.60"/></g><path d="M713.8,488.4 L713.6,486.4 L713.1,484.5 L712.2,482.9 L711.1,481.5 L709.7,480.5 L708.0,479.8 L706.2,479.5 L704.2,479.6 L702.1,480.0 L699.9,480.8 L697.8,482.0 L695.7,483.4 L693.8,485.1 L692.0,487.1 L690.5,489.2 L689.2,491.4 L688.2,493.7 L687.5,496.0 L687.2,498.3 L687.2,500.4 L687.5,502.4 L688.2,504.2 L689.2,505.7 L690.5,506.9 L692.0,507.7 L693.8,508.2 L695.7,508.3 L697.8,508.1 L699.9,507.5 L702.1,506.5 L704.2,505.2 L706.2,503.6 L708.0,501.8 L709.7,499.7 L711.1,497.6 L712.2,495.3 L713.1,493.0 L713.6,490.7 L713.8,488.4Z" fill="none" stroke="#b4b4b4" stroke-width="2.6"/>
<path d="M665.0,675.1 L665.2,673.4 L665.6,672.0 L666.3,670.8 L667.1,670.0 L668.0,669.4 L749.9,635.8 L751.0,635.6 L752.2,635.8 L753.5,636.3 L754.9,637.2 L756.2,638.3 L757.5,639.8 L758.8,641.5 L759.9,643.3 L761.0,645.4 L761.9,647.5 L762.6,649.7 L763.1,651.8 L763.4,653.9 L763.5,655.9 L763.4,657.7 L763.1,659.2 L762.6,660.5 L761.9,661.5 L761.0,662.2 L679.1,695.9 L678.0,696.2 L676.9,696.2 L675.6,695.9 L674.3,695.2 L673.0,694.2 L671.6,692.9 L670.4,691.3 L669.1,689.5 L668.0,687.6 L667.1,685.5 L666.3,683.3 L665.6,681.1 L665.2,679.0 L665.0,677.0Z" fill="#2a6fd6" stroke="#0b1f4d" stroke-width="2" stroke-linejoin="round"/>
<path d="M681.6,689.5 L681.5,691.3 L681.2,692.9 L680.7,694.2 L680.0,695.2 L679.1,695.9 L678.0,696.2 L676.9,696.2 L675.6,695.9 L674.3,695.2 L673.0,694.2 L671.6,692.9 L670.3,691.3 L669.1,689.5 L668.0,687.6 L667.1,685.5 L666.3,683.3 L665.6,681.1 L665.2,679.0 L665.0,677.0 L665.0,675.1 L665.2,673.4 L665.6,672.0 L666.3,670.8 L667.1,670.0 L668.0,669.4 L669.1,669.3 L670.3,669.4 L671.6,670.0 L673.0,670.8 L674.3,672.0 L675.6,673.4 L676.9,675.1 L678.0,677.0 L679.1,679.0 L680.0,681.2 L680.7,683.3 L681.2,685.5 L681.5,687.6 L681.6,689.5Z" fill="#2a6fd6" stroke="#0b1f4d" stroke-width="2"/>
<path d="M665.7,672.7 L665.9,670.7 L666.5,669.0 L667.2,667.6 L668.1,666.6 L669.3,665.9 L676.1,663.1 L677.4,662.9 L678.9,663.1 L680.4,663.8 L682.0,664.8 L683.6,666.2 L685.2,667.9 L686.6,669.9 L688.0,672.1 L689.3,674.6 L690.3,677.1 L691.2,679.7 L691.8,682.3 L692.2,684.8 L692.3,687.1 L692.2,689.2 L691.8,691.1 L691.2,692.7 L690.3,693.9 L689.3,694.7 L682.5,697.5 L681.2,697.9 L679.8,697.9 L678.3,697.5 L676.8,696.7 L675.2,695.5 L673.6,693.9 L672.1,692.0 L670.6,689.9 L669.3,687.5 L668.1,685.1 L667.2,682.5 L666.5,679.9 L665.9,677.4 L665.7,674.9Z" fill="#2a6fd6" stroke="#0b1f4d" stroke-width="2" stroke-linejoin="round"/>
<path d="M685.5,689.9 L685.4,692.0 L685.0,693.9 L684.4,695.5 L683.5,696.7 L682.4,697.5 L681.2,697.9 L679.8,697.9 L678.3,697.5 L676.8,696.7 L675.2,695.5 L673.6,693.9 L672.1,692.0 L670.6,689.9 L669.3,687.6 L668.1,685.1 L667.2,682.5 L666.4,679.9 L665.9,677.4 L665.7,674.9 L665.7,672.7 L665.9,670.7 L666.4,669.0 L667.2,667.6 L668.1,666.6 L669.3,665.9 L670.6,665.7 L672.1,665.9 L673.6,666.6 L675.2,667.6 L676.8,669.0 L678.3,670.7 L679.8,672.7 L681.2,674.9 L682.4,677.4 L683.5,679.9 L684.4,682.5 L685.0,685.1 L685.4,687.6 L685.5,689.9Z" fill="#2a6fd6" stroke="#0b1f4d" stroke-width="2"/>
<path d="M637.7,686.3 L637.9,684.6 L638.4,683.2 L639.0,682.0 L639.8,681.2 L640.7,680.7 L670.3,668.5 L671.4,668.3 L672.6,668.5 L673.9,669.0 L675.2,669.9 L676.6,671.0 L677.9,672.5 L679.1,674.2 L680.3,676.1 L681.3,678.1 L682.2,680.2 L682.9,682.4 L683.5,684.5 L683.8,686.6 L683.9,688.6 L683.8,690.4 L683.5,692.0 L682.9,693.3 L682.2,694.3 L681.3,695.0 L651.8,707.1 L650.7,707.5 L649.6,707.5 L648.3,707.1 L647.0,706.4 L645.7,705.4 L644.3,704.1 L643.0,702.5 L641.8,700.8 L640.7,698.8 L639.8,696.7 L639.0,694.5 L638.4,692.4 L637.9,690.2 L637.7,688.2Z" fill="#2a6fd6" stroke="#0b1f4d" stroke-width="2" stroke-linejoin="round"/>
<path d="M654.3,700.8 L654.2,702.5 L653.9,704.1 L653.4,705.4 L652.7,706.4 L651.8,707.1 L650.7,707.5 L649.6,707.5 L648.3,707.1 L647.0,706.4 L645.7,705.4 L644.3,704.1 L643.0,702.5 L641.8,700.8 L640.7,698.8 L639.8,696.7 L639.0,694.5 L638.3,692.4 L637.9,690.2 L637.7,688.2 L637.7,686.3 L637.9,684.6 L638.3,683.2 L639.0,682.0 L639.8,681.2 L640.7,680.7 L641.8,680.5 L643.0,680.7 L644.3,681.2 L645.7,682.0 L647.0,683.2 L648.3,684.6 L649.6,686.3 L650.7,688.2 L651.8,690.2 L652.7,692.4 L653.4,694.5 L653.9,696.7 L654.2,698.8 L654.3,700.8Z" fill="#2a6fd6" stroke="#0b1f4d" stroke-width="2"/>
<path d="M703.4,678.1 L748.9,659.4" stroke="#0b1f4d" stroke-width="3"/>
<path d="M1744.0,1196.0 L1744.1,1193.8 L1744.5,1191.4 L1745.2,1189.0 L1746.2,1186.6 L1747.5,1184.2 L1749.0,1182.0 L1750.6,1179.8 L1752.5,1177.8 L1754.5,1176.0 L1756.6,1174.4 L1758.8,1173.0 L1761.0,1171.9 L1901.2,1113.3 L1903.5,1112.5 L1905.7,1112.1 L1907.8,1111.9 L1909.8,1112.0 L1911.6,1112.5 L1913.3,1113.2 L1914.8,1114.3 L1937.3,1132.8 L1938.5,1134.1 L1939.5,1135.7 L1940.2,1137.5 L1940.6,1139.5 L1940.8,1141.7 L1940.6,1143.9 L1940.2,1146.3 L1939.5,1148.7 L1938.5,1151.1 L1937.3,1153.5 L1935.8,1155.8 L1934.1,1157.9 L1932.2,1159.9 L1930.2,1161.7 L1928.1,1163.3 L1925.9,1164.7 L1923.7,1165.8 L1783.5,1224.4 L1781.3,1225.2 L1779.1,1225.6 L1777.0,1225.8 L1775.0,1225.7 L1773.1,1225.2 L1771.4,1224.5 L1769.9,1223.4 L1747.5,1204.9 L1746.2,1203.6 L1745.2,1202.0 L1744.5,1200.2 L1744.1,1198.2Z" fill="#2b2b2b"/>
<path d="M1937.3,1132.8 L1935.8,1131.8 L1934.1,1131.0 L1932.2,1130.5 L1930.2,1130.4 L1928.1,1130.6 L1925.9,1131.0 L1923.7,1131.8 L1783.5,1190.4 L1781.3,1191.5 L1779.1,1192.9 L1777.0,1194.5 L1775.0,1196.3 L1773.1,1198.3 L1771.4,1200.5 L1769.9,1202.7 L1768.7,1205.1 L1767.7,1207.5 L1767.0,1209.9 L1766.6,1212.3 L1766.4,1214.5 L1766.6,1216.7 L1767.0,1218.7 L1767.7,1220.5 L1768.7,1222.1 L1769.9,1223.4" fill="none" stroke="#b4b4b4" stroke-width="1.5" stroke-linejoin="round"/>
<clipPath id="c29"><path d="M1797.1,1201.7 L1796.9,1199.6 L1796.4,1197.7 L1795.5,1196.1 L1794.4,1194.8 L1792.9,1193.7 L1791.2,1193.1 L1789.3,1192.8 L1787.3,1192.9 L1785.1,1193.3 L1783.0,1194.2 L1780.8,1195.3 L1778.7,1196.8 L1776.7,1198.6 L1774.9,1200.5 L1773.3,1202.7 L1772.0,1205.0 L1771.0,1207.3 L1770.3,1209.7 L1770.0,1212.0 L1770.0,1214.1 L1770.3,1216.1 L1771.0,1217.9 L1772.0,1219.4 L1773.3,1220.6 L1774.9,1221.4 L1776.7,1221.9 L1778.7,1222.0 L1780.8,1221.7 L1783.0,1221.1 L1785.1,1220.1 L1787.3,1218.8 L1789.3,1217.1 L1791.2,1215.3 L1792.9,1213.2 L1794.4,1211.0 L1795.5,1208.6 L1796.4,1206.3 L1796.9,1204.0 L1797.1,1201.7Z"/></clipPath><path d="M1797.1,1201.7 L1796.9,1199.6 L1796.4,1197.7 L1795.5,1196.1 L1794.4,1194.8 L1792.9,1193.7 L1791.2,1193.1 L1789.3,1192.8 L1787.3,1192.9 L1785.1,1193.3 L1783.0,1194.2 L1780.8,1195.3 L1778.7,1196.8 L1776.7,1198.6 L1774.9,1200.5 L1773.3,1202.7 L1772.0,1205.0 L1771.0,1207.3 L1770.3,1209.7 L1770.0,1212.0 L1770.0,1214.1 L1770.3,1216.1 L1771.0,1217.9 L1772.0,1219.4 L1773.3,1220.6 L1774.9,1221.4 L1776.7,1221.9 L1778.7,1222.0 L1780.8,1221.7 L1783.0,1221.1 L1785.1,1220.1 L1787.3,1218.8 L1789.3,1217.1 L1791.2,1215.3 L1792.9,1213.2 L1794.4,1211.0 L1795.5,1208.6 L1796.4,1206.3 L1796.9,1204.0 L1797.1,1201.7Z" fill="#333"/><g clip-path="url(#c29)"><path d="M1792.2,1200.3 L1792.1,1198.5 L1791.6,1196.9 L1790.9,1195.5 L1789.9,1194.3 L1788.7,1193.5 L1787.3,1192.9 L1785.6,1192.7 L1783.9,1192.7 L1782.1,1193.1 L1780.2,1193.8 L1778.4,1194.8 L1776.6,1196.1 L1774.9,1197.6 L1773.4,1199.3 L1772.1,1201.1 L1770.9,1203.0 L1770.1,1205.0 L1769.5,1207.0 L1769.2,1209.0 L1769.2,1210.8 L1769.5,1212.5 L1770.1,1214.0 L1770.9,1215.3 L1772.1,1216.3 L1773.4,1217.0 L1774.9,1217.4 L1776.6,1217.5 L1778.4,1217.3 L1780.2,1216.7 L1782.1,1215.9 L1783.9,1214.8 L1785.6,1213.4 L1787.3,1211.8 L1788.7,1210.0 L1789.9,1208.1 L1790.9,1206.1 L1791.6,1204.1 L1792.1,1202.2 L1792.2,1200.3Z" fill="#2b2b2b" stroke="#dcdcdc" stroke-width="2.60"/></g><path d="M1797.1,1201.7 L1796.9,1199.6 L1796.4,1197.7 L1795.5,1196.1 L1794.4,1194.8 L1792.9,1193.7 L1791.2,1193.1 L1789.3,1192.8 L1787.3,1192.9 L1785.1,1193.3 L1783.0,1194.2 L1780.8,1195.3 L1778.7,1196.8 L1776.7,1198.6 L1774.9,1200.5 L1773.3,1202.7 L1772.0,1205.0 L1771.0,1207.3 L1770.3,1209.7 L1770.0,1212.0 L1770.0,1214.1 L1770.3,1216.1 L1771.0,1217.9 L1772.0,1219.4 L1773.3,1220.6 L1774.9,1221.4 L1776.7,1221.9 L1778.7,1222.0 L1780.8,1221.7 L1783.0,1221.1 L1785.1,1220.1 L1787.3,1218.8 L1789.3,1217.1 L1791.2,1215.3 L1792.9,1213.2 L1794.4,1211.0 L1795.5,1208.6 L1796.4,1206.3 L1796.9,1204.0 L1797.1,1201.7Z" fill="none" stroke="#b4b4b4" stroke-width="2.6"/>
<clipPath id="c30"><path d="M1832.1,1187.1 L1832.0,1185.0 L1831.4,1183.1 L1830.6,1181.5 L1829.4,1180.1 L1828.0,1179.1 L1826.3,1178.4 L1824.4,1178.1 L1822.3,1178.2 L1820.2,1178.7 L1818.0,1179.5 L1815.8,1180.7 L1813.7,1182.2 L1811.8,1183.9 L1810.0,1185.9 L1808.4,1188.1 L1807.1,1190.3 L1806.1,1192.7 L1805.4,1195.0 L1805.0,1197.3 L1805.0,1199.5 L1805.4,1201.5 L1806.1,1203.3 L1807.1,1204.8 L1808.4,1205.9 L1810.0,1206.8 L1811.8,1207.3 L1813.7,1207.4 L1815.8,1207.1 L1818.0,1206.5 L1820.2,1205.5 L1822.3,1204.1 L1824.4,1202.5 L1826.3,1200.6 L1828.0,1198.5 L1829.4,1196.3 L1830.6,1194.0 L1831.4,1191.6 L1832.0,1189.3 L1832.1,1187.1Z"/></clipPath><path d="M1832.1,1187.1 L1832.0,1185.0 L1831.4,1183.1 L1830.6,1181.5 L1829.4,1180.1 L1828.0,1179.1 L1826.3,1178.4 L1824.4,1178.1 L1822.3,1178.2 L1820.2,1178.7 L1818.0,1179.5 L1815.8,1180.7 L1813.7,1182.2 L1811.8,1183.9 L1810.0,1185.9 L1808.4,1188.1 L1807.1,1190.3 L1806.1,1192.7 L1805.4,1195.0 L1805.0,1197.3 L1805.0,1199.5 L1805.4,1201.5 L1806.1,1203.3 L1807.1,1204.8 L1808.4,1205.9 L1810.0,1206.8 L1811.8,1207.3 L1813.7,1207.4 L1815.8,1207.1 L1818.0,1206.5 L1820.2,1205.5 L1822.3,1204.1 L1824.4,1202.5 L1826.3,1200.6 L1828.0,1198.5 L1829.4,1196.3 L1830.6,1194.0 L1831.4,1191.6 L1832.0,1189.3 L1832.1,1187.1Z" fill="#333"/><g clip-path="url(#c30)"><path d="M1827.3,1185.6 L1827.1,1183.8 L1826.7,1182.2 L1826.0,1180.8 L1825.0,1179.7 L1823.7,1178.8 L1822.3,1178.3 L1820.7,1178.0 L1819.0,1178.1 L1817.1,1178.5 L1815.3,1179.2 L1813.4,1180.2 L1811.6,1181.4 L1810.0,1182.9 L1808.4,1184.6 L1807.1,1186.4 L1806.0,1188.4 L1805.1,1190.4 L1804.5,1192.4 L1804.2,1194.3 L1804.2,1196.2 L1804.5,1197.9 L1805.1,1199.4 L1806.0,1200.6 L1807.1,1201.6 L1808.4,1202.4 L1810.0,1202.8 L1811.6,1202.9 L1813.4,1202.6 L1815.3,1202.1 L1817.1,1201.2 L1819.0,1200.1 L1820.7,1198.7 L1822.3,1197.1 L1823.7,1195.4 L1825.0,1193.5 L1826.0,1191.5 L1826.7,1189.5 L1827.1,1187.5 L1827.3,1185.6Z" fill="#2b2b2b" stroke="#dcdcdc" stroke-width="2.60"/></g><path d="M1832.1,1187.1 L1832.0,1185.0 L1831.4,1183.1 L1830.6,1181.5 L1829.4,1180.1 L1828.0,1179.1 L1826.3,1178.4 L1824.4,1178.1 L1822.3,1178.2 L1820.2,1178.7 L1818.0,1179.5 L1815.8,1180.7 L1813.7,1182.2 L1811.8,1183.9 L1810.0,1185.9 L1808.4,1188.1 L1807.1,1190.3 L1806.1,1192.7 L1805.4,1195.0 L1805.0,1197.3 L1805.0,1199.5 L1805.4,1201.5 L1806.1,1203.3 L1807.1,1204.8 L1808.4,1205.9 L1810.0,1206.8 L1811.8,1207.3 L1813.7,1207.4 L1815.8,1207.1 L1818.0,1206.5 L1820.2,1205.5 L1822.3,1204.1 L1824.4,1202.5 L1826.3,1200.6 L1828.0,1198.5 L1829.4,1196.3 L1830.6,1194.0 L1831.4,1191.6 L1832.0,1189.3 L1832.1,1187.1Z" fill="none" stroke="#b4b4b4" stroke-width="2.6"/>
<clipPath id="c31"><path d="M1867.2,1172.4 L1867.0,1170.3 L1866.5,1168.4 L1865.6,1166.8 L1864.5,1165.5 L1863.0,1164.4 L1861.3,1163.8 L1859.4,1163.5 L1857.4,1163.6 L1855.2,1164.0 L1853.1,1164.9 L1850.9,1166.0 L1848.8,1167.5 L1846.8,1169.3 L1845.0,1171.2 L1843.4,1173.4 L1842.1,1175.7 L1841.1,1178.0 L1840.4,1180.4 L1840.1,1182.7 L1840.1,1184.8 L1840.4,1186.8 L1841.1,1188.6 L1842.1,1190.1 L1843.4,1191.3 L1845.0,1192.1 L1846.8,1192.6 L1848.8,1192.7 L1850.9,1192.4 L1853.1,1191.8 L1855.2,1190.8 L1857.4,1189.5 L1859.4,1187.8 L1861.3,1186.0 L1863.0,1183.9 L1864.5,1181.7 L1865.6,1179.3 L1866.5,1177.0 L1867.0,1174.7 L1867.2,1172.4Z"/></clipPath><path d="M1867.2,1172.4 L1867.0,1170.3 L1866.5,1168.4 L1865.6,1166.8 L1864.5,1165.5 L1863.0,1164.4 L1861.3,1163.8 L1859.4,1163.5 L1857.4,1163.6 L1855.2,1164.0 L1853.1,1164.9 L1850.9,1166.0 L1848.8,1167.5 L1846.8,1169.3 L1845.0,1171.2 L1843.4,1173.4 L1842.1,1175.7 L1841.1,1178.0 L1840.4,1180.4 L1840.1,1182.7 L1840.1,1184.8 L1840.4,1186.8 L1841.1,1188.6 L1842.1,1190.1 L1843.4,1191.3 L1845.0,1192.1 L1846.8,1192.6 L1848.8,1192.7 L1850.9,1192.4 L1853.1,1191.8 L1855.2,1190.8 L1857.4,1189.5 L1859.4,1187.8 L1861.3,1186.0 L1863.0,1183.9 L1864.5,1181.7 L1865.6,1179.3 L1866.5,1177.0 L1867.0,1174.7 L1867.2,1172.4Z" fill="#333"/><g clip-path="url(#c31)"><path d="M1862.3,1171.0 L1862.2,1169.2 L1861.7,1167.6 L1861.0,1166.2 L1860.0,1165.0 L1858.8,1164.2 L1857.4,1163.6 L1855.7,1163.4 L1854.0,1163.4 L1852.2,1163.8 L1850.3,1164.5 L1848.5,1165.5 L1846.7,1166.8 L1845.0,1168.3 L1843.5,1170.0 L1842.2,1171.8 L1841.0,1173.7 L1840.2,1175.7 L1839.6,1177.7 L1839.3,1179.7 L1839.3,1181.5 L1839.6,1183.2 L1840.2,1184.7 L1841.0,1186.0 L1842.2,1187.0 L1843.5,1187.7 L1845.0,1188.1 L1846.7,1188.2 L1848.5,1188.0 L1850.3,1187.4 L1852.2,1186.6 L1854.0,1185.5 L1855.7,1184.1 L1857.4,1182.5 L1858.8,1180.7 L1860.0,1178.8 L1861.0,1176.8 L1861.7,1174.8 L1862.2,1172.9 L1862.3,1171.0Z" fill="#2b2b2b" stroke="#dcdcdc" stroke-width="2.60"/></g><path d="M1867.2,1172.4 L1867.0,1170.3 L1866.5,1168.4 L1865.6,1166.8 L1864.5,1165.5 L1863.0,1164.4 L1861.3,1163.8 L1859.4,1163.5 L1857.4,1163.6 L1855.2,1164.0 L1853.1,1164.9 L1850.9,1166.0 L1848.8,1167.5 L1846.8,1169.3 L1845.0,1171.2 L1843.4,1173.4 L1842.1,1175.7 L1841.1,1178.0 L1840.4,1180.4 L1840.1,1182.7 L1840.1,1184.8 L1840.4,1186.8 L1841.1,1188.6 L1842.1,1190.1 L1843.4,1191.3 L1845.0,1192.1 L1846.8,1192.6 L1848.8,1192.7 L1850.9,1192.4 L1853.1,1191.8 L1855.2,1190.8 L1857.4,1189.5 L1859.4,1187.8 L1861.3,1186.0 L1863.0,1183.9 L1864.5,1181.7 L1865.6,1179.3 L1866.5,1177.0 L1867.0,1174.7 L1867.2,1172.4Z" fill="none" stroke="#b4b4b4" stroke-width="2.6"/>
<clipPath id="c32"><path d="M1902.2,1157.8 L1902.1,1155.7 L1901.5,1153.8 L1900.7,1152.2 L1899.5,1150.8 L1898.1,1149.8 L1896.4,1149.1 L1894.5,1148.8 L1892.4,1148.9 L1890.3,1149.4 L1888.1,1150.2 L1885.9,1151.4 L1883.8,1152.9 L1881.9,1154.6 L1880.1,1156.6 L1878.5,1158.8 L1877.2,1161.0 L1876.2,1163.4 L1875.5,1165.7 L1875.1,1168.0 L1875.1,1170.2 L1875.5,1172.2 L1876.2,1174.0 L1877.2,1175.5 L1878.5,1176.6 L1880.1,1177.5 L1881.9,1178.0 L1883.8,1178.1 L1885.9,1177.8 L1888.1,1177.2 L1890.3,1176.2 L1892.4,1174.8 L1894.5,1173.2 L1896.4,1171.3 L1898.1,1169.2 L1899.5,1167.0 L1900.7,1164.7 L1901.5,1162.3 L1902.1,1160.0 L1902.2,1157.8Z"/></clipPath><path d="M1902.2,1157.8 L1902.1,1155.7 L1901.5,1153.8 L1900.7,1152.2 L1899.5,1150.8 L1898.1,1149.8 L1896.4,1149.1 L1894.5,1148.8 L1892.4,1148.9 L1890.3,1149.4 L1888.1,1150.2 L1885.9,1151.4 L1883.8,1152.9 L1881.9,1154.6 L1880.1,1156.6 L1878.5,1158.8 L1877.2,1161.0 L1876.2,1163.4 L1875.5,1165.7 L1875.1,1168.0 L1875.1,1170.2 L1875.5,1172.2 L1876.2,1174.0 L1877.2,1175.5 L1878.5,1176.6 L1880.1,1177.5 L1881.9,1178.0 L1883.8,1178.1 L1885.9,1177.8 L1888.1,1177.2 L1890.3,1176.2 L1892.4,1174.8 L1894.5,1173.2 L1896.4,1171.3 L1898.1,1169.2 L1899.5,1167.0 L1900.7,1164.7 L1901.5,1162.3 L1902.1,1160.0 L1902.2,1157.8Z" fill="#333"/><g clip-path="url(#c32)"><path d="M1897.4,1156.3 L1897.2,1154.5 L1896.8,1152.9 L1896.1,1151.5 L1895.1,1150.4 L1893.8,1149.5 L1892.4,1149.0 L1890.8,1148.7 L1889.1,1148.8 L1887.2,1149.2 L1885.4,1149.9 L1883.5,1150.9 L1881.7,1152.1 L1880.1,1153.6 L1878.5,1155.3 L1877.2,1157.1 L1876.1,1159.1 L1875.2,1161.1 L1874.6,1163.1 L1874.3,1165.0 L1874.3,1166.9 L1874.6,1168.6 L1875.2,1170.1 L1876.1,1171.3 L1877.2,1172.3 L1878.5,1173.1 L1880.1,1173.5 L1881.7,1173.6 L1883.5,1173.3 L1885.4,1172.8 L1887.2,1171.9 L1889.1,1170.8 L1890.8,1169.4 L1892.4,1167.8 L1893.8,1166.1 L1895.1,1164.2 L1896.1,1162.2 L1896.8,1160.2 L1897.2,1158.2 L1897.4,1156.3Z" fill="#2b2b2b" stroke="#dcdcdc" stroke-width="2.60"/></g><path d="M1902.2,1157.8 L1902.1,1155.7 L1901.5,1153.8 L1900.7,1152.2 L1899.5,1150.8 L1898.1,1149.8 L1896.4,1149.1 L1894.5,1148.8 L1892.4,1148.9 L1890.3,1149.4 L1888.1,1150.2 L1885.9,1151.4 L1883.8,1152.9 L1881.9,1154.6 L1880.1,1156.6 L1878.5,1158.8 L1877.2,1161.0 L1876.2,1163.4 L1875.5,1165.7 L1875.1,1168.0 L1875.1,1170.2 L1875.5,1172.2 L1876.2,1174.0 L1877.2,1175.5 L1878.5,1176.6 L1880.1,1177.5 L1881.9,1178.0 L1883.8,1178.1 L1885.9,1177.8 L1888.1,1177.2 L1890.3,1176.2 L1892.4,1174.8 L1894.5,1173.2 L1896.4,1171.3 L1898.1,1169.2 L1899.5,1167.0 L1900.7,1164.7 L1901.5,1162.3 L1902.1,1160.0 L1902.2,1157.8Z" fill="none" stroke="#b4b4b4" stroke-width="2.6"/>
<clipPath id="c33"><path d="M1937.3,1143.1 L1937.1,1141.0 L1936.6,1139.1 L1935.7,1137.5 L1934.6,1136.2 L1933.1,1135.1 L1931.4,1134.5 L1929.5,1134.2 L1927.5,1134.3 L1925.3,1134.7 L1923.2,1135.6 L1921.0,1136.7 L1918.9,1138.2 L1916.9,1140.0 L1915.1,1141.9 L1913.5,1144.1 L1912.2,1146.4 L1911.2,1148.7 L1910.5,1151.1 L1910.2,1153.4 L1910.2,1155.5 L1910.5,1157.5 L1911.2,1159.3 L1912.2,1160.8 L1913.5,1162.0 L1915.1,1162.8 L1916.9,1163.3 L1918.9,1163.4 L1921.0,1163.1 L1923.2,1162.5 L1925.3,1161.5 L1927.5,1160.2 L1929.5,1158.5 L1931.4,1156.7 L1933.1,1154.6 L1934.6,1152.4 L1935.7,1150.0 L1936.6,1147.7 L1937.1,1145.4 L1937.3,1143.1Z"/></clipPath><path d="M1937.3,1143.1 L1937.1,1141.0 L1936.6,1139.1 L1935.7,1137.5 L1934.6,1136.2 L1933.1,1135.1 L1931.4,1134.5 L1929.5,1134.2 L1927.5,1134.3 L1925.3,1134.7 L1923.2,1135.6 L1921.0,1136.7 L1918.9,1138.2 L1916.9,1140.0 L1915.1,1141.9 L1913.5,1144.1 L1912.2,1146.4 L1911.2,1148.7 L1910.5,1151.1 L1910.2,1153.4 L1910.2,1155.5 L1910.5,1157.5 L1911.2,1159.3 L1912.2,1160.8 L1913.5,1162.0 L1915.1,1162.8 L1916.9,1163.3 L1918.9,1163.4 L1921.0,1163.1 L1923.2,1162.5 L1925.3,1161.5 L1927.5,1160.2 L1929.5,1158.5 L1931.4,1156.7 L1933.1,1154.6 L1934.6,1152.4 L1935.7,1150.0 L1936.6,1147.7 L1937.1,1145.4 L1937.3,1143.1Z" fill="#333"/><g clip-path="url(#c33)"><path d="M1932.4,1141.7 L1932.3,1139.9 L1931.8,1138.3 L1931.1,1136.9 L1930.1,1135.7 L1928.9,1134.9 L1927.5,1134.3 L1925.8,1134.1 L1924.1,1134.1 L1922.3,1134.5 L1920.4,1135.2 L1918.6,1136.2 L1916.8,1137.5 L1915.1,1139.0 L1913.6,1140.7 L1912.3,1142.5 L1911.1,1144.4 L1910.3,1146.4 L1909.7,1148.4 L1909.4,1150.4 L1909.4,1152.2 L1909.7,1153.9 L1910.3,1155.4 L1911.1,1156.7 L1912.3,1157.7 L1913.6,1158.4 L1915.1,1158.8 L1916.8,1158.9 L1918.6,1158.7 L1920.4,1158.1 L1922.3,1157.3 L1924.1,1156.2 L1925.8,1154.8 L1927.5,1153.2 L1928.9,1151.4 L1930.1,1149.5 L1931.1,1147.5 L1931.8,1145.5 L1932.3,1143.6 L1932.4,1141.7Z" fill="#2b2b2b" stroke="#dcdcdc" stroke-width="2.60"/></g><path d="M1937.3,1143.1 L1937.1,1141.0 L1936.6,1139.1 L1935.7,1137.5 L1934.6,1136.2 L1933.1,1135.1 L1931.4,1134.5 L1929.5,1134.2 L1927.5,1134.3 L1925.3,1134.7 L1923.2,1135.6 L1921.0,1136.7 L1918.9,1138.2 L1916.9,1140.0 L1915.1,1141.9 L1913.5,1144.1 L1912.2,1146.4 L1911.2,1148.7 L1910.5,1151.1 L1910.2,1153.4 L1910.2,1155.5 L1910.5,1157.5 L1911.2,1159.3 L1912.2,1160.8 L1913.5,1162.0 L1915.1,1162.8 L1916.9,1163.3 L1918.9,1163.4 L1921.0,1163.1 L1923.2,1162.5 L1925.3,1161.5 L1927.5,1160.2 L1929.5,1158.5 L1931.4,1156.7 L1933.1,1154.6 L1934.6,1152.4 L1935.7,1150.0 L1936.6,1147.7 L1937.1,1145.4 L1937.3,1143.1Z" fill="none" stroke="#b4b4b4" stroke-width="2.6"/>
<path d="M2169.9,1196.0 L2170.1,1193.8 L2170.5,1191.5 L2171.3,1189.1 L2172.3,1186.7 L2173.6,1184.3 L2175.1,1182.1 L2176.7,1179.9 L2178.6,1177.9 L2180.6,1176.1 L2182.7,1174.5 L2184.8,1173.2 L2187.0,1172.1 L2255.8,1142.8 L2258.0,1142.0 L2260.2,1141.5 L2262.2,1141.4 L2264.2,1141.5 L2265.9,1141.9 L2267.6,1142.7 L2269.0,1143.7 L2291.4,1162.2 L2292.6,1163.5 L2293.5,1165.1 L2294.2,1166.9 L2294.6,1168.8 L2294.7,1171.0 L2294.5,1173.2 L2294.0,1175.5 L2293.2,1177.9 L2292.2,1180.3 L2291.0,1182.6 L2289.5,1184.9 L2287.8,1187.1 L2285.9,1189.0 L2284.0,1190.9 L2281.9,1192.5 L2279.7,1193.8 L2277.5,1194.9 L2208.7,1224.2 L2206.5,1225.0 L2204.4,1225.5 L2202.3,1225.6 L2200.4,1225.5 L2198.6,1225.0 L2197.0,1224.3 L2195.6,1223.3 L2173.1,1204.8 L2171.9,1203.5 L2171.0,1201.9 L2170.3,1200.1 L2170.0,1198.2Z" fill="#2b2b2b"/>
<path d="M2290.0,1161.2 L2288.4,1160.4 L2286.6,1160.0 L2284.7,1159.9 L2282.6,1160.1 L2280.5,1160.5 L2278.3,1161.3 L2209.5,1190.6 L2207.3,1191.7 L2205.1,1193.0 L2203.0,1194.6 L2201.1,1196.4 L2199.2,1198.4 L2197.5,1200.6 L2196.0,1202.9 L2194.8,1205.2 L2193.8,1207.6 L2193.0,1210.0 L2192.5,1212.3 L2192.3,1214.5 L2192.4,1216.7 L2192.8,1218.6 L2193.5,1220.4 L2194.4,1222.0 L2195.6,1223.3" fill="none" stroke="#b4b4b4" stroke-width="1.5" stroke-linejoin="round"/>
<clipPath id="c34"><path d="M2222.4,1201.7 L2222.3,1199.7 L2221.8,1197.8 L2221.0,1196.2 L2219.9,1194.9 L2218.6,1193.9 L2216.9,1193.2 L2215.1,1192.9 L2213.1,1193.0 L2211.0,1193.5 L2208.9,1194.3 L2206.7,1195.5 L2204.7,1196.9 L2202.7,1198.7 L2200.9,1200.7 L2199.3,1202.8 L2198.0,1205.1 L2197.0,1207.4 L2196.2,1209.7 L2195.8,1212.0 L2195.8,1214.1 L2196.1,1216.1 L2196.7,1217.8 L2197.7,1219.3 L2198.9,1220.5 L2200.4,1221.3 L2202.2,1221.8 L2204.1,1221.9 L2206.1,1221.6 L2208.3,1220.9 L2210.4,1219.9 L2212.5,1218.6 L2214.5,1217.0 L2216.4,1215.1 L2218.1,1213.1 L2219.6,1210.9 L2220.8,1208.6 L2221.6,1206.2 L2222.2,1203.9 L2222.4,1201.7Z"/></clipPath><path d="M2222.4,1201.7 L2222.3,1199.7 L2221.8,1197.8 L2221.0,1196.2 L2219.9,1194.9 L2218.6,1193.9 L2216.9,1193.2 L2215.1,1192.9 L2213.1,1193.0 L2211.0,1193.5 L2208.9,1194.3 L2206.7,1195.5 L2204.7,1196.9 L2202.7,1198.7 L2200.9,1200.7 L2199.3,1202.8 L2198.0,1205.1 L2197.0,1207.4 L2196.2,1209.7 L2195.8,1212.0 L2195.8,1214.1 L2196.1,1216.1 L2196.7,1217.8 L2197.7,1219.3 L2198.9,1220.5 L2200.4,1221.3 L2202.2,1221.8 L2204.1,1221.9 L2206.1,1221.6 L2208.3,1220.9 L2210.4,1219.9 L2212.5,1218.6 L2214.5,1217.0 L2216.4,1215.1 L2218.1,1213.1 L2219.6,1210.9 L2220.8,1208.6 L2221.6,1206.2 L2222.2,1203.9 L2222.4,1201.7Z" fill="#333"/><g clip-path="url(#c34)"><path d="M2217.6,1200.3 L2217.5,1198.5 L2217.1,1196.9 L2216.4,1195.5 L2215.5,1194.4 L2214.3,1193.6 L2212.9,1193.0 L2211.4,1192.8 L2209.7,1192.9 L2207.9,1193.3 L2206.1,1194.0 L2204.3,1195.0 L2202.5,1196.2 L2200.9,1197.7 L2199.3,1199.4 L2198.0,1201.2 L2196.9,1203.1 L2196.0,1205.1 L2195.4,1207.1 L2195.0,1209.0 L2195.0,1210.8 L2195.2,1212.5 L2195.8,1214.0 L2196.6,1215.2 L2197.6,1216.2 L2198.9,1216.9 L2200.4,1217.3 L2202.0,1217.4 L2203.8,1217.2 L2205.6,1216.6 L2207.4,1215.8 L2209.2,1214.6 L2210.9,1213.3 L2212.5,1211.7 L2214.0,1209.9 L2215.2,1208.0 L2216.2,1206.1 L2217.0,1204.1 L2217.4,1202.1 L2217.6,1200.3Z" fill="#2b2b2b" stroke="#dcdcdc" stroke-width="2.60"/></g><path d="M2222.4,1201.7 L2222.3,1199.7 L2221.8,1197.8 L2221.0,1196.2 L2219.9,1194.9 L2218.6,1193.9 L2216.9,1193.2 L2215.1,1192.9 L2213.1,1193.0 L2211.0,1193.5 L2208.9,1194.3 L2206.7,1195.5 L2204.7,1196.9 L2202.7,1198.7 L2200.9,1200.7 L2199.3,1202.8 L2198.0,1205.1 L2197.0,1207.4 L2196.2,1209.7 L2195.8,1212.0 L2195.8,1214.1 L2196.1,1216.1 L2196.7,1217.8 L2197.7,1219.3 L2198.9,1220.5 L2200.4,1221.3 L2202.2,1221.8 L2204.1,1221.9 L2206.1,1221.6 L2208.3,1220.9 L2210.4,1219.9 L2212.5,1218.6 L2214.5,1217.0 L2216.4,1215.1 L2218.1,1213.1 L2219.6,1210.9 L2220.8,1208.6 L2221.6,1206.2 L2222.2,1203.9 L2222.4,1201.7Z" fill="none" stroke="#b4b4b4" stroke-width="2.6"/>
<clipPath id="c35"><path d="M2256.8,1187.1 L2256.7,1185.0 L2256.2,1183.1 L2255.4,1181.5 L2254.3,1180.2 L2253.0,1179.2 L2251.3,1178.6 L2249.5,1178.3 L2247.5,1178.4 L2245.4,1178.8 L2243.3,1179.7 L2241.1,1180.8 L2239.1,1182.3 L2237.1,1184.0 L2235.3,1186.0 L2233.7,1188.2 L2232.4,1190.4 L2231.4,1192.7 L2230.6,1195.1 L2230.2,1197.3 L2230.2,1199.5 L2230.5,1201.5 L2231.1,1203.2 L2232.1,1204.7 L2233.3,1205.8 L2234.8,1206.7 L2236.6,1207.1 L2238.5,1207.2 L2240.5,1206.9 L2242.7,1206.3 L2244.8,1205.3 L2246.9,1204.0 L2248.9,1202.4 L2250.8,1200.5 L2252.5,1198.4 L2254.0,1196.2 L2255.2,1193.9 L2256.0,1191.6 L2256.6,1189.3 L2256.8,1187.1Z"/></clipPath><path d="M2256.8,1187.1 L2256.7,1185.0 L2256.2,1183.1 L2255.4,1181.5 L2254.3,1180.2 L2253.0,1179.2 L2251.3,1178.6 L2249.5,1178.3 L2247.5,1178.4 L2245.4,1178.8 L2243.3,1179.7 L2241.1,1180.8 L2239.1,1182.3 L2237.1,1184.0 L2235.3,1186.0 L2233.7,1188.2 L2232.4,1190.4 L2231.4,1192.7 L2230.6,1195.1 L2230.2,1197.3 L2230.2,1199.5 L2230.5,1201.5 L2231.1,1203.2 L2232.1,1204.7 L2233.3,1205.8 L2234.8,1206.7 L2236.6,1207.1 L2238.5,1207.2 L2240.5,1206.9 L2242.7,1206.3 L2244.8,1205.3 L2246.9,1204.0 L2248.9,1202.4 L2250.8,1200.5 L2252.5,1198.4 L2254.0,1196.2 L2255.2,1193.9 L2256.0,1191.6 L2256.6,1189.3 L2256.8,1187.1Z" fill="#333"/><g clip-path="url(#c35)"><path d="M2252.0,1185.6 L2251.9,1183.9 L2251.5,1182.3 L2250.8,1180.9 L2249.9,1179.8 L2248.7,1178.9 L2247.3,1178.4 L2245.8,1178.1 L2244.1,1178.2 L2242.3,1178.6 L2240.5,1179.3 L2238.7,1180.3 L2236.9,1181.6 L2235.3,1183.0 L2233.7,1184.7 L2232.4,1186.5 L2231.3,1188.5 L2230.4,1190.4 L2229.8,1192.4 L2229.4,1194.3 L2229.4,1196.2 L2229.6,1197.8 L2230.2,1199.3 L2231.0,1200.6 L2232.0,1201.6 L2233.3,1202.3 L2234.8,1202.7 L2236.4,1202.7 L2238.2,1202.5 L2240.0,1202.0 L2241.8,1201.1 L2243.6,1200.0 L2245.3,1198.6 L2246.9,1197.0 L2248.4,1195.3 L2249.6,1193.4 L2250.6,1191.4 L2251.4,1189.4 L2251.8,1187.5 L2252.0,1185.6Z" fill="#2b2b2b" stroke="#dcdcdc" stroke-width="2.60"/></g><path d="M2256.8,1187.1 L2256.7,1185.0 L2256.2,1183.1 L2255.4,1181.5 L2254.3,1180.2 L2253.0,1179.2 L2251.3,1178.6 L2249.5,1178.3 L2247.5,1178.4 L2245.4,1178.8 L2243.3,1179.7 L2241.1,1180.8 L2239.1,1182.3 L2237.1,1184.0 L2235.3,1186.0 L2233.7,1188.2 L2232.4,1190.4 L2231.4,1192.7 L2230.6,1195.1 L2230.2,1197.3 L2230.2,1199.5 L2230.5,1201.5 L2231.1,1203.2 L2232.1,1204.7 L2233.3,1205.8 L2234.8,1206.7 L2236.6,1207.1 L2238.5,1207.2 L2240.5,1206.9 L2242.7,1206.3 L2244.8,1205.3 L2246.9,1204.0 L2248.9,1202.4 L2250.8,1200.5 L2252.5,1198.4 L2254.0,1196.2 L2255.2,1193.9 L2256.0,1191.6 L2256.6,1189.3 L2256.8,1187.1Z" fill="none" stroke="#b4b4b4" stroke-width="2.6"/>
<clipPath id="c36"><path d="M2291.2,1172.4 L2291.1,1170.4 L2290.6,1168.5 L2289.8,1166.9 L2288.7,1165.6 L2287.4,1164.6 L2285.7,1163.9 L2283.9,1163.6 L2281.9,1163.7 L2279.8,1164.2 L2277.7,1165.0 L2275.5,1166.2 L2273.5,1167.6 L2271.5,1169.4 L2269.7,1171.4 L2268.1,1173.5 L2266.8,1175.8 L2265.8,1178.1 L2265.0,1180.4 L2264.6,1182.7 L2264.6,1184.8 L2264.9,1186.8 L2265.5,1188.5 L2266.5,1190.0 L2267.7,1191.2 L2269.2,1192.0 L2271.0,1192.5 L2272.9,1192.6 L2274.9,1192.3 L2277.1,1191.6 L2279.2,1190.6 L2281.3,1189.3 L2283.3,1187.7 L2285.2,1185.8 L2286.9,1183.8 L2288.4,1181.6 L2289.6,1179.3 L2290.4,1176.9 L2291.0,1174.6 L2291.2,1172.4Z"/></clipPath><path d="M2291.2,1172.4 L2291.1,1170.4 L2290.6,1168.5 L2289.8,1166.9 L2288.7,1165.6 L2287.4,1164.6 L2285.7,1163.9 L2283.9,1163.6 L2281.9,1163.7 L2279.8,1164.2 L2277.7,1165.0 L2275.5,1166.2 L2273.5,1167.6 L2271.5,1169.4 L2269.7,1171.4 L2268.1,1173.5 L2266.8,1175.8 L2265.8,1178.1 L2265.0,1180.4 L2264.6,1182.7 L2264.6,1184.8 L2264.9,1186.8 L2265.5,1188.5 L2266.5,1190.0 L2267.7,1191.2 L2269.2,1192.0 L2271.0,1192.5 L2272.9,1192.6 L2274.9,1192.3 L2277.1,1191.6 L2279.2,1190.6 L2281.3,1189.3 L2283.3,1187.7 L2285.2,1185.8 L2286.9,1183.8 L2288.4,1181.6 L2289.6,1179.3 L2290.4,1176.9 L2291.0,1174.6 L2291.2,1172.4Z" fill="#333"/><g clip-path="url(#c36)"><path d="M2286.4,1171.0 L2286.3,1169.2 L2285.9,1167.6 L2285.2,1166.2 L2284.3,1165.1 L2283.1,1164.3 L2281.7,1163.7 L2280.2,1163.5 L2278.5,1163.6 L2276.7,1164.0 L2274.9,1164.7 L2273.1,1165.7 L2271.3,1166.9 L2269.7,1168.4 L2268.1,1170.1 L2266.8,1171.9 L2265.7,1173.8 L2264.8,1175.8 L2264.2,1177.8 L2263.8,1179.7 L2263.8,1181.5 L2264.0,1183.2 L2264.6,1184.7 L2265.4,1185.9 L2266.4,1186.9 L2267.7,1187.6 L2269.2,1188.0 L2270.8,1188.1 L2272.6,1187.9 L2274.4,1187.3 L2276.2,1186.5 L2278.0,1185.3 L2279.7,1184.0 L2281.3,1182.4 L2282.8,1180.6 L2284.0,1178.7 L2285.0,1176.8 L2285.8,1174.8 L2286.2,1172.8 L2286.4,1171.0Z" fill="#2b2b2b" stroke="#dcdcdc" stroke-width="2.60"/></g><path d="M2291.2,1172.4 L2291.1,1170.4 L2290.6,1168.5 L2289.8,1166.9 L2288.7,1165.6 L2287.4,1164.6 L2285.7,1163.9 L2283.9,1163.6 L2281.9,1163.7 L2279.8,1164.2 L2277.7,1165.0 L2275.5,1166.2 L2273.5,1167.6 L2271.5,1169.4 L2269.7,1171.4 L2268.1,1173.5 L2266.8,1175.8 L2265.8,1178.1 L2265.0,1180.4 L2264.6,1182.7 L2264.6,1184.8 L2264.9,1186.8 L2265.5,1188.5 L2266.5,1190.0 L2267.7,1191.2 L2269.2,1192.0 L2271.0,1192.5 L2272.9,1192.6 L2274.9,1192.3 L2277.1,1191.6 L2279.2,1190.6 L2281.3,1189.3 L2283.3,1187.7 L2285.2,1185.8 L2286.9,1183.8 L2288.4,1181.6 L2289.6,1179.3 L2290.4,1176.9 L2291.0,1174.6 L2291.2,1172.4Z" fill="none" stroke="#b4b4b4" stroke-width="2.6"/>
<path d="M2204.7,1164.2 L2205.9,1112.6 L2206.1,1110.3 L2206.5,1108.0 L2207.3,1105.6 L2208.3,1103.2 L2209.6,1100.9 L2211.1,1098.6 L2212.7,1096.5 L2214.6,1094.5 L2216.6,1092.7 L2218.7,1091.1 L2220.8,1089.8 L2223.0,1088.7 L2225.2,1087.9 L2227.3,1087.4 L2229.4,1087.2 L2231.4,1087.3 L2233.2,1087.8 L2234.8,1088.5 L2236.2,1089.6 L2258.6,1108.1 L2259.8,1109.4 L2260.7,1110.9 L2261.4,1112.7 L2261.8,1114.7 L2261.9,1116.8 L2260.7,1168.4 L2260.5,1170.7 L2260.0,1173.0 L2259.2,1175.4 L2258.2,1177.8 L2257.0,1180.1 L2255.5,1182.4 L2253.8,1184.5 L2251.9,1186.5 L2250.0,1188.3 L2247.9,1189.9 L2245.7,1191.2 L2243.5,1192.3 L2241.3,1193.1 L2239.2,1193.6 L2237.1,1193.8 L2235.2,1193.6 L2233.4,1193.2 L2231.8,1192.5 L2230.4,1191.4 L2207.9,1172.9 L2206.7,1171.6 L2205.8,1170.1 L2205.1,1168.3 L2204.8,1166.3Z" fill="#2b2b2b"/>
<path d="M2257.2,1107.0 L2255.6,1106.3 L2253.8,1105.9 L2251.9,1105.7 L2249.8,1105.9 L2247.7,1106.4 L2245.5,1107.2 L2243.3,1108.3 L2241.1,1109.6 L2239.0,1111.2 L2237.1,1113.0 L2235.2,1115.0 L2233.5,1117.1 L2232.0,1119.4 L2230.8,1121.8 L2229.8,1124.1 L2229.0,1126.5 L2228.5,1128.8 L2228.3,1131.1 L2227.1,1182.7 L2227.2,1184.8 L2227.6,1186.8 L2228.3,1188.6 L2229.2,1190.1 L2230.4,1191.4" fill="none" stroke="#b4b4b4" stroke-width="1.5" stroke-linejoin="round"/>
<clipPath id="c37"><path d="M2244.8,1137.3 L2246.9,1136.2 L2249.0,1134.8 L2251.0,1133.1 L2252.9,1131.2 L2254.5,1129.1 L2255.9,1126.9 L2257.0,1124.5 L2257.8,1122.2 L2258.3,1119.9 L2258.4,1117.7 L2258.2,1115.7 L2257.7,1113.9 L2256.8,1112.4 L2255.6,1111.1 L2254.2,1110.2 L2252.5,1109.6 L2250.6,1109.5 L2248.6,1109.6 L2246.5,1110.2 L2244.3,1111.1 L2242.2,1112.4 L2240.2,1113.9 L2238.2,1115.7 L2236.5,1117.7 L2235.0,1119.9 L2233.7,1122.2 L2232.7,1124.5 L2232.1,1126.8 L2231.8,1129.1 L2231.8,1131.2 L2232.2,1133.1 L2232.9,1134.8 L2234.0,1136.2 L2235.3,1137.3 L2236.8,1138.0 L2238.6,1138.4 L2240.6,1138.4 L2242.7,1138.0 L2244.8,1137.3Z"/></clipPath><path d="M2244.8,1137.3 L2246.9,1136.2 L2249.0,1134.8 L2251.0,1133.1 L2252.9,1131.2 L2254.5,1129.1 L2255.9,1126.9 L2257.0,1124.5 L2257.8,1122.2 L2258.3,1119.9 L2258.4,1117.7 L2258.2,1115.7 L2257.7,1113.9 L2256.8,1112.4 L2255.6,1111.1 L2254.2,1110.2 L2252.5,1109.6 L2250.6,1109.5 L2248.6,1109.6 L2246.5,1110.2 L2244.3,1111.1 L2242.2,1112.4 L2240.2,1113.9 L2238.2,1115.7 L2236.5,1117.7 L2235.0,1119.9 L2233.7,1122.2 L2232.7,1124.5 L2232.1,1126.8 L2231.8,1129.1 L2231.8,1131.2 L2232.2,1133.1 L2232.9,1134.8 L2234.0,1136.2 L2235.3,1137.3 L2236.8,1138.0 L2238.6,1138.4 L2240.6,1138.4 L2242.7,1138.0 L2244.8,1137.3Z" fill="#333"/><g clip-path="url(#c37)"><path d="M2242.0,1133.0 L2243.8,1132.0 L2245.6,1130.9 L2247.3,1129.4 L2248.9,1127.8 L2250.3,1126.0 L2251.5,1124.1 L2252.4,1122.1 L2253.1,1120.2 L2253.5,1118.2 L2253.6,1116.4 L2253.4,1114.6 L2253.0,1113.1 L2252.2,1111.8 L2251.2,1110.7 L2250.0,1110.0 L2248.6,1109.5 L2247.0,1109.3 L2245.3,1109.5 L2243.5,1110.0 L2241.6,1110.7 L2239.8,1111.8 L2238.1,1113.1 L2236.5,1114.6 L2235.0,1116.4 L2233.7,1118.2 L2232.6,1120.2 L2231.8,1122.1 L2231.2,1124.1 L2231.0,1126.0 L2231.0,1127.8 L2231.3,1129.4 L2231.9,1130.9 L2232.8,1132.0 L2233.9,1133.0 L2235.3,1133.6 L2236.8,1133.9 L2238.5,1133.9 L2240.2,1133.6 L2242.0,1133.0Z" fill="#2b2b2b" stroke="#dcdcdc" stroke-width="2.60"/></g><path d="M2244.8,1137.3 L2246.9,1136.2 L2249.0,1134.8 L2251.0,1133.1 L2252.9,1131.2 L2254.5,1129.1 L2255.9,1126.9 L2257.0,1124.5 L2257.8,1122.2 L2258.3,1119.9 L2258.4,1117.7 L2258.2,1115.7 L2257.7,1113.9 L2256.8,1112.4 L2255.6,1111.1 L2254.2,1110.2 L2252.5,1109.6 L2250.6,1109.5 L2248.6,1109.6 L2246.5,1110.2 L2244.3,1111.1 L2242.2,1112.4 L2240.2,1113.9 L2238.2,1115.7 L2236.5,1117.7 L2235.0,1119.9 L2233.7,1122.2 L2232.7,1124.5 L2232.1,1126.8 L2231.8,1129.1 L2231.8,1131.2 L2232.2,1133.1 L2232.9,1134.8 L2234.0,1136.2 L2235.3,1137.3 L2236.8,1138.0 L2238.6,1138.4 L2240.6,1138.4 L2242.7,1138.0 L2244.8,1137.3Z" fill="none" stroke="#b4b4b4" stroke-width="2.6"/>
<clipPath id="c38"><path d="M2244.0,1171.7 L2246.1,1170.6 L2248.2,1169.2 L2250.2,1167.5 L2252.1,1165.6 L2253.7,1163.5 L2255.1,1161.3 L2256.2,1158.9 L2257.0,1156.6 L2257.5,1154.3 L2257.6,1152.1 L2257.4,1150.1 L2256.9,1148.3 L2256.0,1146.8 L2254.8,1145.5 L2253.4,1144.6 L2251.7,1144.0 L2249.8,1143.9 L2247.8,1144.0 L2245.7,1144.6 L2243.5,1145.5 L2241.4,1146.8 L2239.4,1148.3 L2237.4,1150.1 L2235.7,1152.1 L2234.2,1154.3 L2232.9,1156.6 L2231.9,1158.9 L2231.3,1161.2 L2231.0,1163.5 L2231.0,1165.6 L2231.4,1167.5 L2232.1,1169.2 L2233.2,1170.6 L2234.5,1171.7 L2236.0,1172.4 L2237.8,1172.8 L2239.8,1172.8 L2241.9,1172.4 L2244.0,1171.7Z"/></clipPath><path d="M2244.0,1171.7 L2246.1,1170.6 L2248.2,1169.2 L2250.2,1167.5 L2252.1,1165.6 L2253.7,1163.5 L2255.1,1161.3 L2256.2,1158.9 L2257.0,1156.6 L2257.5,1154.3 L2257.6,1152.1 L2257.4,1150.1 L2256.9,1148.3 L2256.0,1146.8 L2254.8,1145.5 L2253.4,1144.6 L2251.7,1144.0 L2249.8,1143.9 L2247.8,1144.0 L2245.7,1144.6 L2243.5,1145.5 L2241.4,1146.8 L2239.4,1148.3 L2237.4,1150.1 L2235.7,1152.1 L2234.2,1154.3 L2232.9,1156.6 L2231.9,1158.9 L2231.3,1161.2 L2231.0,1163.5 L2231.0,1165.6 L2231.4,1167.5 L2232.1,1169.2 L2233.2,1170.6 L2234.5,1171.7 L2236.0,1172.4 L2237.8,1172.8 L2239.8,1172.8 L2241.9,1172.4 L2244.0,1171.7Z" fill="#333"/><g clip-path="url(#c38)"><path d="M2241.2,1167.4 L2243.0,1166.4 L2244.8,1165.3 L2246.5,1163.8 L2248.1,1162.2 L2249.5,1160.4 L2250.7,1158.5 L2251.6,1156.5 L2252.3,1154.6 L2252.7,1152.6 L2252.8,1150.8 L2252.6,1149.0 L2252.2,1147.5 L2251.4,1146.2 L2250.4,1145.1 L2249.2,1144.4 L2247.8,1143.9 L2246.2,1143.7 L2244.5,1143.9 L2242.7,1144.4 L2240.8,1145.1 L2239.0,1146.2 L2237.3,1147.5 L2235.7,1149.0 L2234.2,1150.8 L2232.9,1152.6 L2231.8,1154.6 L2231.0,1156.5 L2230.4,1158.5 L2230.2,1160.4 L2230.2,1162.2 L2230.5,1163.8 L2231.1,1165.3 L2232.0,1166.4 L2233.1,1167.4 L2234.5,1168.0 L2236.0,1168.3 L2237.7,1168.3 L2239.4,1168.0 L2241.2,1167.4Z" fill="#2b2b2b" stroke="#dcdcdc" stroke-width="2.60"/></g><path d="M2244.0,1171.7 L2246.1,1170.6 L2248.2,1169.2 L2250.2,1167.5 L2252.1,1165.6 L2253.7,1163.5 L2255.1,1161.3 L2256.2,1158.9 L2257.0,1156.6 L2257.5,1154.3 L2257.6,1152.1 L2257.4,1150.1 L2256.9,1148.3 L2256.0,1146.8 L2254.8,1145.5 L2253.4,1144.6 L2251.7,1144.0 L2249.8,1143.9 L2247.8,1144.0 L2245.7,1144.6 L2243.5,1145.5 L2241.4,1146.8 L2239.4,1148.3 L2237.4,1150.1 L2235.7,1152.1 L2234.2,1154.3 L2232.9,1156.6 L2231.9,1158.9 L2231.3,1161.2 L2231.0,1163.5 L2231.0,1165.6 L2231.4,1167.5 L2232.1,1169.2 L2233.2,1170.6 L2234.5,1171.7 L2236.0,1172.4 L2237.8,1172.8 L2239.8,1172.8 L2241.9,1172.4 L2244.0,1171.7Z" fill="none" stroke="#b4b4b4" stroke-width="2.6"/>
<clipPath id="c39"><path d="M2256.8,1187.1 L2256.7,1185.0 L2256.2,1183.1 L2255.4,1181.5 L2254.3,1180.2 L2253.0,1179.2 L2251.3,1178.6 L2249.5,1178.3 L2247.5,1178.4 L2245.4,1178.8 L2243.3,1179.7 L2241.1,1180.8 L2239.1,1182.3 L2237.1,1184.0 L2235.3,1186.0 L2233.7,1188.2 L2232.4,1190.4 L2231.4,1192.7 L2230.6,1195.1 L2230.2,1197.3 L2230.2,1199.5 L2230.5,1201.5 L2231.1,1203.2 L2232.1,1204.7 L2233.3,1205.8 L2234.8,1206.7 L2236.6,1207.1 L2238.5,1207.2 L2240.5,1206.9 L2242.7,1206.3 L2244.8,1205.3 L2246.9,1204.0 L2248.9,1202.4 L2250.8,1200.5 L2252.5,1198.4 L2254.0,1196.2 L2255.2,1193.9 L2256.0,1191.6 L2256.6,1189.3 L2256.8,1187.1Z"/></clipPath><path d="M2256.8,1187.1 L2256.7,1185.0 L2256.2,1183.1 L2255.4,1181.5 L2254.3,1180.2 L2253.0,1179.2 L2251.3,1178.6 L2249.5,1178.3 L2247.5,1178.4 L2245.4,1178.8 L2243.3,1179.7 L2241.1,1180.8 L2239.1,1182.3 L2237.1,1184.0 L2235.3,1186.0 L2233.7,1188.2 L2232.4,1190.4 L2231.4,1192.7 L2230.6,1195.1 L2230.2,1197.3 L2230.2,1199.5 L2230.5,1201.5 L2231.1,1203.2 L2232.1,1204.7 L2233.3,1205.8 L2234.8,1206.7 L2236.6,1207.1 L2238.5,1207.2 L2240.5,1206.9 L2242.7,1206.3 L2244.8,1205.3 L2246.9,1204.0 L2248.9,1202.4 L2250.8,1200.5 L2252.5,1198.4 L2254.0,1196.2 L2255.2,1193.9 L2256.0,1191.6 L2256.6,1189.3 L2256.8,1187.1Z" fill="#333"/><g clip-path="url(#c39)"><path d="M2252.0,1185.6 L2251.9,1183.9 L2251.5,1182.3 L2250.8,1180.9 L2249.9,1179.8 L2248.7,1178.9 L2247.3,1178.4 L2245.8,1178.1 L2244.1,1178.2 L2242.3,1178.6 L2240.5,1179.3 L2238.7,1180.3 L2236.9,1181.6 L2235.3,1183.0 L2233.7,1184.7 L2232.4,1186.5 L2231.3,1188.5 L2230.4,1190.4 L2229.8,1192.4 L2229.4,1194.3 L2229.4,1196.2 L2229.6,1197.8 L2230.2,1199.3 L2231.0,1200.6 L2232.0,1201.6 L2233.3,1202.3 L2234.8,1202.7 L2236.4,1202.7 L2238.2,1202.5 L2240.0,1202.0 L2241.8,1201.1 L2243.6,1200.0 L2245.3,1198.6 L2246.9,1197.0 L2248.4,1195.3 L2249.6,1193.4 L2250.6,1191.4 L2251.4,1189.4 L2251.8,1187.5 L2252.0,1185.6Z" fill="#2b2b2b" stroke="#dcdcdc" stroke-width="2.20"/></g><path d="M2256.8,1187.1 L2256.7,1185.0 L2256.2,1183.1 L2255.4,1181.5 L2254.3,1180.2 L2253.0,1179.2 L2251.3,1178.6 L2249.5,1178.3 L2247.5,1178.4 L2245.4,1178.8 L2243.3,1179.7 L2241.1,1180.8 L2239.1,1182.3 L2237.1,1184.0 L2235.3,1186.0 L2233.7,1188.2 L2232.4,1190.4 L2231.4,1192.7 L2230.6,1195.1 L2230.2,1197.3 L2230.2,1199.5 L2230.5,1201.5 L2231.1,1203.2 L2232.1,1204.7 L2233.3,1205.8 L2234.8,1206.7 L2236.6,1207.1 L2238.5,1207.2 L2240.5,1206.9 L2242.7,1206.3 L2244.8,1205.3 L2246.9,1204.0 L2248.9,1202.4 L2250.8,1200.5 L2252.5,1198.4 L2254.0,1196.2 L2255.2,1193.9 L2256.0,1191.6 L2256.6,1189.3 L2256.8,1187.1Z" fill="none" stroke="#e6e6e6" stroke-width="2.2"/>
<path d="M2078.0,1193.3 L2078.2,1191.6 L2078.6,1190.2 L2079.2,1189.1 L2080.0,1188.2 L2080.9,1187.8 L2121.4,1170.7 L2122.5,1170.5 L2123.6,1170.7 L2124.9,1171.2 L2126.2,1172.0 L2127.5,1173.1 L2128.7,1174.6 L2130.0,1176.2 L2131.1,1178.0 L2132.1,1180.0 L2132.9,1182.1 L2133.6,1184.2 L2134.2,1186.4 L2134.5,1188.4 L2134.6,1190.3 L2134.5,1192.1 L2134.2,1193.6 L2133.6,1194.9 L2132.9,1195.9 L2132.1,1196.5 L2091.6,1213.6 L2090.6,1214.0 L2089.5,1214.0 L2088.2,1213.6 L2087.0,1213.0 L2085.7,1212.0 L2084.4,1210.7 L2083.1,1209.2 L2082.0,1207.4 L2080.9,1205.5 L2080.0,1203.4 L2079.2,1201.3 L2078.6,1199.2 L2078.2,1197.1 L2078.0,1195.1Z" fill="#2a6fd6" stroke="#0b1f4d" stroke-width="2" stroke-linejoin="round"/>
<path d="M2094.1,1207.4 L2094.0,1209.2 L2093.6,1210.7 L2093.1,1212.0 L2092.4,1213.0 L2091.6,1213.6 L2090.6,1214.0 L2089.5,1214.0 L2088.2,1213.6 L2087.0,1213.0 L2085.7,1212.0 L2084.4,1210.7 L2083.1,1209.1 L2082.0,1207.4 L2080.9,1205.5 L2080.0,1203.4 L2079.2,1201.3 L2078.6,1199.2 L2078.2,1197.1 L2078.0,1195.1 L2078.0,1193.3 L2078.2,1191.6 L2078.6,1190.2 L2079.2,1189.1 L2080.0,1188.3 L2080.9,1187.7 L2082.0,1187.6 L2083.1,1187.8 L2084.4,1188.3 L2085.7,1189.1 L2087.0,1190.2 L2088.2,1191.7 L2089.5,1193.3 L2090.6,1195.2 L2091.6,1197.1 L2092.4,1199.2 L2093.1,1201.4 L2093.6,1203.5 L2094.0,1205.5 L2094.1,1207.4Z" fill="#2a6fd6" stroke="#0b1f4d" stroke-width="2"/>
<path d="M2076.7,1192.1 L2077.0,1190.2 L2077.4,1188.6 L2078.1,1187.3 L2079.0,1186.3 L2080.1,1185.7 L2086.9,1182.9 L2088.1,1182.7 L2089.4,1182.9 L2090.9,1183.5 L2092.4,1184.5 L2093.9,1185.8 L2095.3,1187.4 L2096.7,1189.3 L2098.0,1191.4 L2099.2,1193.7 L2100.2,1196.1 L2101.0,1198.6 L2101.6,1201.0 L2101.9,1203.4 L2102.1,1205.6 L2101.9,1207.6 L2101.6,1209.4 L2101.0,1210.9 L2100.2,1212.0 L2099.2,1212.8 L2092.4,1215.6 L2091.3,1216.0 L2090.0,1216.0 L2088.6,1215.6 L2087.1,1214.8 L2085.6,1213.7 L2084.1,1212.2 L2082.7,1210.4 L2081.3,1208.4 L2080.1,1206.2 L2079.0,1203.8 L2078.1,1201.4 L2077.4,1198.9 L2077.0,1196.5 L2076.7,1194.2Z" fill="#2a6fd6" stroke="#0b1f4d" stroke-width="2" stroke-linejoin="round"/>
<path d="M2095.3,1208.5 L2095.2,1210.5 L2094.8,1212.2 L2094.2,1213.7 L2093.4,1214.8 L2092.4,1215.6 L2091.3,1216.0 L2090.0,1216.0 L2088.6,1215.6 L2087.1,1214.8 L2085.6,1213.7 L2084.1,1212.2 L2082.7,1210.4 L2081.3,1208.4 L2080.1,1206.2 L2079.0,1203.8 L2078.1,1201.4 L2077.4,1198.9 L2077.0,1196.5 L2076.7,1194.2 L2076.7,1192.1 L2077.0,1190.2 L2077.4,1188.6 L2078.1,1187.3 L2079.0,1186.3 L2080.1,1185.7 L2081.3,1185.5 L2082.7,1185.7 L2084.1,1186.3 L2085.6,1187.3 L2087.1,1188.6 L2088.6,1190.2 L2090.0,1192.2 L2091.3,1194.3 L2092.4,1196.6 L2093.4,1199.0 L2094.2,1201.4 L2094.8,1203.9 L2095.2,1206.2 L2095.3,1208.5Z" fill="#2a6fd6" stroke="#0b1f4d" stroke-width="2"/>
<path d="M2042.0,1208.5 L2042.2,1206.8 L2042.6,1205.4 L2043.2,1204.3 L2044.0,1203.5 L2044.9,1203.0 L2080.9,1187.8 L2082.0,1187.6 L2083.1,1187.8 L2084.4,1188.3 L2085.7,1189.1 L2087.0,1190.2 L2088.2,1191.7 L2089.5,1193.3 L2090.6,1195.2 L2091.6,1197.1 L2092.4,1199.2 L2093.1,1201.3 L2093.7,1203.5 L2094.0,1205.5 L2094.1,1207.4 L2094.0,1209.2 L2093.7,1210.7 L2093.1,1212.0 L2092.4,1213.0 L2091.6,1213.6 L2055.6,1228.8 L2054.6,1229.2 L2053.5,1229.2 L2052.2,1228.8 L2051.0,1228.2 L2049.7,1227.2 L2048.4,1225.9 L2047.1,1224.3 L2046.0,1222.6 L2044.9,1220.7 L2044.0,1218.6 L2043.2,1216.5 L2042.6,1214.4 L2042.2,1212.3 L2042.0,1210.3Z" fill="#2a6fd6" stroke="#0b1f4d" stroke-width="2" stroke-linejoin="round"/>
<path d="M2058.1,1222.6 L2058.0,1224.4 L2057.6,1225.9 L2057.1,1227.2 L2056.4,1228.2 L2055.6,1228.8 L2054.6,1229.2 L2053.5,1229.2 L2052.2,1228.8 L2051.0,1228.2 L2049.7,1227.2 L2048.4,1225.9 L2047.1,1224.3 L2046.0,1222.6 L2044.9,1220.7 L2044.0,1218.6 L2043.2,1216.5 L2042.6,1214.4 L2042.2,1212.3 L2042.0,1210.3 L2042.0,1208.5 L2042.2,1206.8 L2042.6,1205.4 L2043.2,1204.3 L2044.0,1203.5 L2044.9,1202.9 L2046.0,1202.8 L2047.1,1203.0 L2048.4,1203.5 L2049.7,1204.3 L2051.0,1205.4 L2052.2,1206.9 L2053.5,1208.5 L2054.6,1210.4 L2055.6,1212.3 L2056.4,1214.4 L2057.1,1216.6 L2057.6,1218.7 L2058.0,1220.7 L2058.1,1222.6Z" fill="#2a6fd6" stroke="#0b1f4d" stroke-width="2"/>
<path d="M2056.0,1210.2 L2087.5,1196.9" stroke="#0b1f4d" stroke-width="1.8"/>
<path d="M2059.1,1219.8 L2090.6,1206.5" stroke="#0b1f4d" stroke-width="1.8"/>
<path d="M2057.2,1225.3 L2088.7,1212.0" stroke="#0b1f4d" stroke-width="1.8"/>
<path d="M1910.5,134.7 L1910.7,133.2 L1911.0,132.0 L1911.6,131.1 L1912.3,130.3 L1913.1,129.9 L1946.1,116.4 L1947.0,116.3 L1948.1,116.5 L1949.2,116.9 L1950.3,117.7 L1951.5,118.7 L1952.6,119.9 L1953.7,121.4 L1954.7,123.0 L1955.5,124.7 L1956.3,126.5 L1956.9,128.4 L1957.4,130.2 L1957.6,132.0 L1957.7,133.7 L1957.6,135.2 L1957.4,136.5 L1956.9,137.6 L1956.3,138.4 L1955.5,139.0 L1922.5,152.5 L1921.7,152.8 L1920.7,152.8 L1919.6,152.4 L1918.5,151.8 L1917.3,150.9 L1916.2,149.8 L1915.1,148.5 L1914.0,146.9 L1913.1,145.2 L1912.3,143.5 L1911.6,141.6 L1911.0,139.8 L1910.7,138.0 L1910.5,136.2Z" fill="#2b2b2b" stroke="#d0d0d0" stroke-width="1.5" stroke-linejoin="round"/>
<path d="M1924.7,147.2 L1924.6,148.7 L1924.4,150.0 L1923.9,151.1 L1923.3,151.9 L1922.5,152.5 L1921.7,152.8 L1920.7,152.7 L1919.6,152.4 L1918.5,151.8 L1917.3,150.9 L1916.2,149.8 L1915.1,148.5 L1914.0,146.9 L1913.1,145.3 L1912.3,143.5 L1911.6,141.6 L1911.0,139.8 L1910.7,138.0 L1910.5,136.2 L1910.5,134.7 L1910.7,133.2 L1911.0,132.0 L1911.6,131.1 L1912.3,130.4 L1913.1,129.9 L1914.0,129.8 L1915.1,130.0 L1916.2,130.4 L1917.3,131.2 L1918.5,132.2 L1919.6,133.4 L1920.7,134.9 L1921.7,136.5 L1922.5,138.2 L1923.3,140.0 L1923.9,141.9 L1924.4,143.7 L1924.6,145.5 L1924.7,147.2Z" fill="#2b2b2b" stroke="#d0d0d0" stroke-width="1.5"/>
<path d="M1900.5,137.1 L1900.7,135.4 L1901.1,134.0 L1901.7,132.9 L1902.5,132.1 L1903.5,131.6 L1912.3,128.0 L1913.4,127.8 L1914.6,128.0 L1915.9,128.6 L1917.3,129.4 L1918.6,130.6 L1919.9,132.1 L1921.2,133.8 L1922.3,135.7 L1923.4,137.7 L1924.3,139.8 L1925.0,142.0 L1925.5,144.2 L1925.9,146.2 L1926.0,148.2 L1925.9,150.0 L1925.5,151.5 L1925.0,152.8 L1924.3,153.8 L1923.4,154.4 L1914.6,158.0 L1913.5,158.4 L1912.4,158.3 L1911.1,158.0 L1909.8,157.3 L1908.5,156.2 L1907.1,154.9 L1905.8,153.3 L1904.6,151.5 L1903.5,149.5 L1902.5,147.4 L1901.7,145.3 L1901.1,143.1 L1900.7,141.0 L1900.5,139.0Z" fill="#2b2b2b" stroke="#d0d0d0" stroke-width="1.5" stroke-linejoin="round"/>
<path d="M1917.2,151.8 L1917.1,153.6 L1916.7,155.1 L1916.2,156.4 L1915.5,157.4 L1914.6,158.0 L1913.6,158.4 L1912.4,158.3 L1911.1,158.0 L1909.8,157.3 L1908.5,156.2 L1907.1,154.9 L1905.8,153.3 L1904.6,151.5 L1903.5,149.5 L1902.5,147.4 L1901.7,145.3 L1901.1,143.1 L1900.7,141.0 L1900.5,139.0 L1900.5,137.1 L1900.7,135.4 L1901.1,134.0 L1901.7,132.9 L1902.5,132.0 L1903.5,131.6 L1904.6,131.4 L1905.8,131.6 L1907.1,132.1 L1908.5,133.0 L1909.8,134.2 L1911.1,135.7 L1912.4,137.4 L1913.6,139.3 L1914.6,141.3 L1915.5,143.4 L1916.2,145.6 L1916.7,147.8 L1917.1,149.8 L1917.2,151.8Z" fill="#2b2b2b" stroke="#d0d0d0" stroke-width="1.5"/>
<path d="M1837.9,164.4 L1838.1,162.9 L1838.4,161.7 L1839.0,160.8 L1839.7,160.1 L1840.5,159.6 L1904.3,133.5 L1905.2,133.4 L1906.3,133.6 L1907.4,134.0 L1908.5,134.8 L1909.7,135.8 L1910.8,137.0 L1911.9,138.5 L1912.8,140.1 L1913.7,141.8 L1914.5,143.7 L1915.1,145.5 L1915.6,147.3 L1915.8,149.1 L1915.9,150.8 L1915.8,152.3 L1915.6,153.6 L1915.1,154.7 L1914.5,155.5 L1913.7,156.1 L1849.9,182.2 L1849.0,182.5 L1848.1,182.4 L1847.0,182.1 L1845.9,181.5 L1844.7,180.7 L1843.6,179.5 L1842.5,178.2 L1841.4,176.6 L1840.5,174.9 L1839.7,173.2 L1839.0,171.3 L1838.4,169.5 L1838.1,167.7 L1837.9,165.9Z" fill="#2b2b2b" stroke="#d0d0d0" stroke-width="1.5" stroke-linejoin="round"/>
<path d="M1852.1,176.9 L1852.0,178.4 L1851.8,179.7 L1851.3,180.8 L1850.7,181.6 L1849.9,182.2 L1849.1,182.5 L1848.1,182.4 L1847.0,182.1 L1845.9,181.5 L1844.7,180.6 L1843.6,179.5 L1842.5,178.2 L1841.4,176.6 L1840.5,175.0 L1839.7,173.2 L1839.0,171.3 L1838.4,169.5 L1838.1,167.7 L1837.9,165.9 L1837.9,164.4 L1838.1,162.9 L1838.4,161.7 L1839.0,160.8 L1839.7,160.1 L1840.5,159.6 L1841.4,159.5 L1842.5,159.7 L1843.6,160.1 L1844.7,160.9 L1845.9,161.9 L1847.0,163.1 L1848.1,164.6 L1849.1,166.2 L1849.9,167.9 L1850.7,169.7 L1851.3,171.6 L1851.8,173.4 L1852.0,175.2 L1852.1,176.9Z" fill="#2b2b2b" stroke="#d0d0d0" stroke-width="1.5"/>
<path d="M1850.1,165.1 L1909.1,141.0" stroke="#d0d0d0" stroke-width="1.3"/>
<path d="M1853.2,171.9 L1912.2,147.8" stroke="#d0d0d0" stroke-width="1.3"/>
<path d="M1854.2,178.7 L1913.1,154.6" stroke="#d0d0d0" stroke-width="1.3"/>
<path d="M1851.4,180.7 L1910.3,156.6" stroke="#d0d0d0" stroke-width="1.3"/>
<path d="M2072.5,152.9 L2073.2,149.4 L2074.6,145.8 L2076.6,142.3 L2079.2,139.0 L2082.1,136.1 L2085.4,133.7 L2088.9,131.8 L2162.1,103.2 L2165.6,102.0 L2169.0,101.5 L2172.2,101.7 L2175.0,102.6 L2177.3,104.2 L2202.1,124.6 L2203.8,126.9 L2204.8,129.6 L2205.2,132.8 L2204.8,136.2 L2203.8,139.8 L2202.1,143.3 L2199.8,146.7 L2197.0,149.8 L2193.8,152.5 L2190.4,154.7 L2186.9,156.2 L2113.7,184.9 L2110.2,185.7 L2106.9,185.9 L2104.0,185.3 L2101.4,184.0 L2076.6,163.6 L2074.6,161.7 L2073.2,159.2 L2072.5,156.2Z" fill="#2b2b2b"/>
<path d="M2152.5,122.0 L2154.1,123.6 L2155.1,125.4 L2155.4,127.3 L2155.0,129.2 L2154.0,131.0 L2152.3,132.6 L2150.1,134.1 L2147.4,135.3 L2144.4,136.1 L2141.1,136.6 L2137.8,136.7 L2134.4,136.4 L2131.3,135.7 L2128.5,134.8 L2126.1,133.5 L2124.2,131.9 L2122.9,130.2 L2122.3,128.3 L2122.3,126.4 L2123.0,124.6 L2124.4,122.8 L2126.4,121.3 L2128.8,120.0 L2131.7,119.0 L2134.8,118.3 L2138.2,118.0 L2141.5,118.1 L2144.8,118.6 L2147.7,119.4 L2150.4,120.5 L2152.5,122.0Z" fill="#555" stroke="#d0d0d0" stroke-width="1.5"/>
<path d="M2147.0,121.9 L2148.2,123.1 L2148.9,124.4 L2149.1,125.8 L2148.8,127.2 L2148.1,128.5 L2146.8,129.7 L2145.2,130.8 L2143.2,131.6 L2141.0,132.2 L2138.6,132.6 L2136.2,132.7 L2133.7,132.5 L2131.4,132.0 L2129.4,131.2 L2127.6,130.3 L2126.2,129.2 L2125.3,127.9 L2124.8,126.5 L2124.9,125.1 L2125.4,123.8 L2126.4,122.5 L2127.8,121.4 L2129.6,120.4 L2131.7,119.7 L2134.0,119.2 L2136.5,119.0 L2138.9,119.0 L2141.3,119.4 L2143.5,120.0 L2145.4,120.8 L2147.0,121.9Z" fill="#222"/>
<path d="M2178.5,115.6 L2176.2,116.6 L2174.0,117.9 L2171.8,119.5 L2169.7,121.2 L2167.8,123.2 L2166.1,125.3 L2164.6,127.5 L2163.3,129.8 L2162.4,132.2 L2161.6,134.5 L2161.2,136.8 L2161.1,139.0 L2161.3,141.1 L2161.8,143.0 L2162.6,144.7 L2163.6,146.2 L2165.0,147.5 L2166.5,148.4 L2168.3,149.1" fill="none" stroke="#d0d0d0" stroke-width="1.3"/>
<path d="M2169.2,107.9 L2166.9,109.0 L2164.7,110.3 L2162.5,111.8 L2160.4,113.6 L2158.5,115.5 L2156.8,117.7 L2155.3,119.9 L2154.0,122.2 L2153.1,124.5 L2152.3,126.8 L2151.9,129.1 L2151.8,131.3 L2152.0,133.4 L2152.5,135.3 L2153.3,137.1 L2154.3,138.6 L2155.7,139.8 L2157.2,140.8 L2159.0,141.5" fill="none" stroke="#d0d0d0" stroke-width="1.3"/>
<path d="M2205.2,132.8 L2204.8,129.6 L2203.8,126.9 L2202.1,124.6 L2199.8,123.0 L2197.0,122.1 L2193.8,121.9 L2190.4,122.4 L2186.9,123.6 L2183.4,125.4 L2180.1,127.9 L2177.2,130.8 L2174.6,134.1 L2172.6,137.6 L2171.2,141.2 L2170.5,144.7 L2170.5,148.0 L2171.2,150.9 L2172.6,153.4 L2174.6,155.4 L2177.2,156.6 L2180.1,157.2 L2183.4,157.1 L2186.9,156.2 L2190.4,154.7 L2193.8,152.5 L2197.0,149.8 L2199.8,146.7 L2202.1,143.3 L2203.8,139.8 L2204.8,136.2 L2205.2,132.8Z" fill="#2b2b2b" stroke="#d0d0d0" stroke-width="1.5"/>
<path d="M2201.5,134.2 L2201.2,131.7 L2200.4,129.5 L2199.1,127.8 L2197.3,126.5 L2195.1,125.8 L2192.6,125.6 L2189.9,126.0 L2187.1,126.9 L2184.4,128.4 L2181.8,130.3 L2179.4,132.6 L2177.4,135.2 L2175.8,138.0 L2174.7,140.8 L2174.1,143.6 L2174.1,146.2 L2174.7,148.5 L2175.8,150.5 L2177.4,152.0 L2179.4,153.0 L2181.8,153.5 L2184.4,153.4 L2187.1,152.7 L2189.9,151.5 L2192.6,149.8 L2195.1,147.7 L2197.3,145.2 L2199.1,142.5 L2200.4,139.7 L2201.2,136.9 L2201.5,134.2Z" fill="#444" stroke="#d0d0d0" stroke-width="1.2"/>
<path d="M2175.9,140.8 L2184.1,137.6 L2184.1,129.8 L2191.5,126.9 L2191.5,134.7 L2199.7,131.5 L2199.7,138.3 L2191.5,141.6 L2191.5,149.3 L2184.1,152.2 L2184.1,144.4 L2175.9,147.7Z" fill="#111" stroke="#999" stroke-width="1"/>
<path d="M2105.3,144.2 L2103.0,145.2 L2100.8,146.6 L2098.6,148.1 L2096.5,149.9 L2094.6,151.8 L2092.9,153.9 L2091.4,156.2 L2090.1,158.5 L2089.2,160.8 L2088.4,163.1 L2088.0,165.4 L2087.9,167.6 L2088.1,169.7 L2088.6,171.6 L2089.4,173.3 L2090.4,174.8 L2091.8,176.1 L2093.3,177.1 L2095.1,177.8" fill="none" stroke="#d0d0d0" stroke-width="1.3"/>
<path d="M2096.0,136.6 L2093.7,137.6 L2091.5,138.9 L2089.3,140.5 L2087.2,142.2 L2085.3,144.2 L2083.6,146.3 L2082.1,148.5 L2080.8,150.8 L2079.9,153.2 L2079.1,155.5 L2078.7,157.8 L2078.6,160.0 L2078.8,162.0 L2079.3,164.0 L2080.1,165.7 L2081.1,167.2 L2082.5,168.4 L2084.0,169.4 L2085.8,170.1" fill="none" stroke="#d0d0d0" stroke-width="1.3"/>
<path d="M2132.0,161.4 L2131.6,158.2 L2130.6,155.5 L2128.9,153.3 L2126.6,151.7 L2123.8,150.7 L2120.6,150.5 L2117.2,151.0 L2113.7,152.2 L2110.2,154.1 L2106.9,156.5 L2104.0,159.4 L2101.4,162.7 L2099.4,166.2 L2098.0,169.8 L2097.3,173.3 L2097.3,176.6 L2098.0,179.6 L2099.4,182.1 L2101.4,184.0 L2104.0,185.3 L2106.9,185.9 L2110.2,185.7 L2113.7,184.9 L2117.2,183.3 L2120.6,181.2 L2123.8,178.5 L2126.6,175.4 L2128.9,172.0 L2130.6,168.4 L2131.6,164.8 L2132.0,161.4Z" fill="#2b2b2b" stroke="#d0d0d0" stroke-width="1.5"/>
<path d="M2128.3,162.8 L2128.0,160.3 L2127.2,158.2 L2125.9,156.4 L2124.1,155.2 L2121.9,154.4 L2119.4,154.2 L2116.7,154.6 L2113.9,155.6 L2111.2,157.1 L2108.6,159.0 L2106.2,161.3 L2104.2,163.9 L2102.6,166.6 L2101.5,169.5 L2100.9,172.2 L2100.9,174.8 L2101.5,177.2 L2102.6,179.2 L2104.2,180.7 L2106.2,181.7 L2108.6,182.1 L2111.2,182.0 L2113.9,181.4 L2116.7,180.1 L2119.4,178.4 L2121.9,176.3 L2124.1,173.9 L2125.9,171.2 L2127.2,168.4 L2128.0,165.5 L2128.3,162.8Z" fill="#444" stroke="#d0d0d0" stroke-width="1.2"/>
<path d="M2102.7,169.4 L2110.9,166.2 L2110.9,158.5 L2118.3,155.6 L2118.3,163.3 L2126.5,160.1 L2126.5,167.0 L2118.3,170.2 L2118.3,177.9 L2110.9,180.8 L2110.9,173.1 L2102.7,176.3Z" fill="#111" stroke="#999" stroke-width="1"/>
<path d="M2704.0,222.0 L2704.1,220.1 L2704.7,218.2 L2705.9,216.4 L2707.6,214.7 L2709.6,213.3 L2712.1,212.0 L2714.9,211.0 L2718.0,210.2 L2721.2,209.7 L2724.5,209.6 L2727.8,209.7 L2731.0,210.2 L2734.1,210.9 L2736.9,211.9 L2739.4,213.2 L2741.5,214.7 L2743.2,216.3 L2744.4,218.1 L2745.1,219.9 L2745.2,221.8 L2745.2,281.2 L2744.8,283.1 L2743.9,284.9 L2742.5,286.6 L2740.7,288.2 L2738.4,289.6 L2735.7,290.8 L2732.8,291.7 L2729.6,292.3 L2726.4,292.6 L2723.0,292.6 L2719.8,292.3 L2716.6,291.7 L2713.7,290.8 L2711.0,289.7 L2708.7,288.3 L2706.8,286.8 L2705.3,285.0 L2704.4,283.2 L2704.0,281.3Z" fill="#2b2b2b"/>
<path d="M2745.2,280.8 L2745.1,282.4 L2744.5,284.0 L2743.5,285.5 L2742.2,286.9 L2740.6,288.3 L2738.7,289.4 L2736.5,290.5 L2734.1,291.3 L2731.5,291.9 L2728.8,292.4 L2726.0,292.6 L2723.2,292.6 L2720.4,292.4 L2717.7,291.9 L2715.1,291.3 L2712.7,290.5 L2710.5,289.4 L2708.6,288.3 L2707.0,286.9 L2705.7,285.5 L2704.7,284.0 L2704.1,282.4 L2704.0,280.8" fill="none" stroke="#e6e6e6" stroke-width="2"/>
<path d="M2745.2,280.8 L2745.2,221.4" stroke="#e6e6e6" stroke-width="2"/>
<path d="M2704.0,280.8 L2704.0,221.4" stroke="#e6e6e6" stroke-width="2"/>
<path d="M2743.5,284.1 L2743.5,270.3" stroke="#e6e6e6" stroke-width="2"/>
<path d="M2593.4,266.2 L2593.5,264.3 L2594.1,262.5 L2595.3,260.7 L2596.9,259.0 L2599.0,257.5 L2601.5,256.3 L2604.3,255.2 L2607.4,254.5 L2610.6,254.0 L2613.9,253.8 L2617.2,254.0 L2620.4,254.4 L2623.5,255.2 L2626.3,256.2 L2628.8,257.5 L2630.9,258.9 L2632.6,260.6 L2633.8,262.4 L2634.5,264.2 L2634.6,266.1 L2634.6,325.5 L2634.2,327.4 L2633.3,329.2 L2631.9,330.9 L2630.1,332.5 L2627.8,333.9 L2625.1,335.0 L2622.2,335.9 L2619.0,336.6 L2615.8,336.9 L2612.4,336.9 L2609.2,336.6 L2606.0,336.0 L2603.1,335.1 L2600.4,334.0 L2598.1,332.6 L2596.2,331.0 L2594.7,329.3 L2593.8,327.5 L2593.4,325.6Z" fill="#2b2b2b"/>
<path d="M2634.6,325.1 L2634.5,326.7 L2633.9,328.3 L2632.9,329.8 L2631.6,331.2 L2630.0,332.5 L2628.1,333.7 L2625.9,334.7 L2623.5,335.6 L2620.9,336.2 L2618.2,336.7 L2615.4,336.9 L2612.6,336.9 L2609.8,336.7 L2607.1,336.2 L2604.5,335.6 L2602.1,334.7 L2599.9,333.7 L2598.0,332.5 L2596.4,331.2 L2595.1,329.8 L2594.1,328.2 L2593.5,326.7 L2593.4,325.0" fill="none" stroke="#e6e6e6" stroke-width="2"/>
<path d="M2634.6,325.1 L2634.6,265.7" stroke="#e6e6e6" stroke-width="2"/>
<path d="M2593.4,325.0 L2593.4,265.7" stroke="#e6e6e6" stroke-width="2"/>
<path d="M2632.9,328.4 L2632.9,314.6" stroke="#e6e6e6" stroke-width="2"/>
<path d="M2583.7,217.3 L2584.1,215.0 L2585.1,212.8 L2586.5,210.7 L2588.4,208.7 L2590.8,206.9 L2593.6,205.2 L2596.7,203.8 L2707.2,159.5 L2710.6,158.3 L2714.3,157.4 L2718.1,156.8 L2722.0,156.5 L2726.0,156.4 L2729.9,156.7 L2733.8,157.2 L2737.5,158.1 L2740.9,159.2 L2744.2,160.5 L2747.0,162.1 L2749.5,163.9 L2751.5,165.8 L2753.1,167.9 L2754.2,170.1 L2754.8,172.3 L2754.9,174.6 L2754.9,222.9 L2754.5,225.2 L2753.5,227.4 L2752.1,229.5 L2750.2,231.5 L2747.8,233.3 L2745.1,235.0 L2741.9,236.4 L2631.3,280.7 L2628.0,281.9 L2624.3,282.8 L2620.5,283.4 L2616.6,283.8 L2612.6,283.8 L2608.7,283.6 L2604.8,283.0 L2601.1,282.2 L2597.7,281.1 L2594.4,279.7 L2591.6,278.1 L2589.1,276.4 L2587.1,274.4 L2585.5,272.3 L2584.4,270.1 L2583.8,267.9 L2583.7,265.6Z" fill="#2b2b2b"/>
<path d="M2583.8,219.6 L2584.4,221.8 L2585.5,224.0 L2587.1,226.1 L2589.1,228.1 L2591.6,229.8 L2594.5,231.4 L2597.6,232.8 L2601.1,233.9 L2604.8,234.7 L2608.7,235.3 L2612.6,235.5 L2616.6,235.5 L2620.5,235.1 L2624.3,234.5 L2628.0,233.6 L2631.4,232.4 L2742.0,188.1 L2745.1,186.7 L2747.8,185.0 L2750.2,183.2 L2752.1,181.2 L2753.5,179.1 L2754.5,176.9 L2754.9,174.6" fill="none" stroke="#e6e6e6" stroke-width="2.5" stroke-linejoin="round"/>
<path d="M2646.9,258.1 L2646.6,260.7 L2645.6,263.2 L2644.1,265.6 L2642.1,267.9 L2639.5,270.0 L2636.4,271.9 L2633.0,273.5 L2629.1,274.9 L2625.0,275.9 L2620.7,276.6 L2616.2,276.9 L2611.8,276.9 L2607.3,276.6 L2603.0,275.9 L2598.9,274.9 L2595.0,273.5 L2591.6,271.9 L2588.5,270.0 L2585.9,267.9 L2583.9,265.6 L2582.4,263.2 L2581.4,260.7 L2581.1,258.1" fill="none" stroke="#e6e6e6" stroke-width="1.6"/>
<path d="M2646.9,226.4 L2646.6,229.0 L2645.6,231.5 L2644.1,233.9 L2642.1,236.2 L2639.5,238.3 L2636.4,240.2 L2633.0,241.8 L2629.1,243.1 L2625.0,244.2 L2620.7,244.9 L2616.2,245.2 L2611.8,245.2 L2607.3,244.9 L2603.0,244.2 L2598.9,243.1 L2595.0,241.8 L2591.6,240.2 L2588.5,238.3 L2585.9,236.2 L2583.9,233.9 L2582.4,231.5 L2581.4,228.9 L2581.1,226.4" fill="none" stroke="#e6e6e6" stroke-width="1.6"/>
<path d="M2617.4,273.8 L2617.4,244.1" stroke="#e6e6e6" stroke-width="1.5"/>
<path d="M2626.4,270.2 L2626.4,240.5" stroke="#e6e6e6" stroke-width="1.5"/>
<path d="M2635.4,266.6 L2635.4,236.9" stroke="#e6e6e6" stroke-width="1.5"/>
<path d="M2643.7,263.3 L2643.7,233.6" stroke="#e6e6e6" stroke-width="1.5"/>
<path d="M2757.5,213.8 L2757.2,216.4 L2756.2,218.9 L2754.7,221.4 L2752.7,223.6 L2750.1,225.8 L2747.0,227.6 L2743.6,229.3 L2739.7,230.6 L2735.6,231.6 L2731.3,232.3 L2726.8,232.7 L2722.4,232.7 L2717.9,232.3 L2713.6,231.6 L2709.5,230.6 L2705.6,229.3 L2702.2,227.6 L2699.1,225.7 L2696.5,223.6 L2694.5,221.4 L2693.0,218.9 L2692.0,216.4 L2691.7,213.8" fill="none" stroke="#e6e6e6" stroke-width="1.6"/>
<path d="M2757.5,182.1 L2757.2,184.7 L2756.2,187.2 L2754.7,189.6 L2752.7,191.9 L2750.1,194.0 L2747.0,195.9 L2743.6,197.5 L2739.7,198.9 L2735.6,199.9 L2731.3,200.6 L2726.8,200.9 L2722.4,200.9 L2717.9,200.6 L2713.6,199.9 L2709.5,198.9 L2705.6,197.5 L2702.2,195.9 L2699.1,194.0 L2696.5,191.9 L2694.5,189.6 L2693.0,187.2 L2692.0,184.7 L2691.7,182.1" fill="none" stroke="#e6e6e6" stroke-width="1.6"/>
<path d="M2728.0,229.5 L2728.0,199.8" stroke="#e6e6e6" stroke-width="1.5"/>
<path d="M2737.0,225.9 L2737.0,196.2" stroke="#e6e6e6" stroke-width="1.5"/>
<path d="M2746.0,222.3 L2746.0,192.6" stroke="#e6e6e6" stroke-width="1.5"/>
<path d="M2754.3,219.0 L2754.3,189.3" stroke="#e6e6e6" stroke-width="1.5"/>
<path d="M2709.5,227.0 L2709.2,223.7 L2708.4,220.7 L2707.1,218.1 L2705.2,215.9 L2702.9,214.2 L2700.3,213.1 L2697.3,212.6 L2694.1,212.7 L2690.7,213.3 L2687.2,214.6 L2683.8,216.4 L2680.5,218.6 L2677.4,221.4 L2674.5,224.5 L2672.1,227.8 L2670.0,231.4 L2668.4,235.1 L2667.3,238.8 L2666.7,242.4 L2666.7,245.9 L2667.3,249.0 L2668.4,251.9 L2670.0,254.3 L2672.1,256.2 L2674.5,257.6 L2677.4,258.4 L2680.5,258.6 L2683.8,258.3 L2687.2,257.3 L2690.7,255.8 L2694.1,253.8 L2697.3,251.2 L2700.3,248.3 L2702.9,245.1 L2705.2,241.6 L2707.1,237.9 L2708.4,234.2 L2709.2,230.6 L2709.5,227.0Z" fill="#2b2b2b" stroke="#e6e6e6" stroke-width="2.2"/>
<path d="M2706.1,228.4 L2705.8,225.6 L2705.1,223.1 L2704.0,220.9 L2702.5,219.1 L2700.5,217.7 L2698.3,216.7 L2695.8,216.3 L2693.1,216.4 L2690.3,216.9 L2687.4,218.0 L2684.5,219.5 L2681.7,221.4 L2679.1,223.7 L2676.7,226.2 L2674.6,229.1 L2672.9,232.1 L2671.6,235.2 L2670.6,238.3 L2670.2,241.3 L2670.2,244.2 L2670.6,246.9 L2671.6,249.2 L2672.9,251.3 L2674.6,252.9 L2676.7,254.0 L2679.1,254.7 L2681.7,254.9 L2684.5,254.6 L2687.4,253.8 L2690.3,252.5 L2693.1,250.8 L2695.8,248.7 L2698.3,246.3 L2700.5,243.5 L2702.5,240.6 L2704.0,237.6 L2705.1,234.4 L2705.8,231.4 L2706.1,228.4Z" fill="#222" stroke="#e6e6e6" stroke-width="1.6"/>
<path d="M2744.3,163.9 L2746.6,166.1 L2748.2,168.5 L2749.1,171.0 L2749.3,173.6 L2748.8,176.1 L2747.5,178.6 L2745.6,180.9 L2743.1,183.0 L2740.0,184.9 L2736.5,186.5 L2732.5,187.7 L2728.3,188.5 L2723.9,188.9 L2719.4,188.9 L2715.0,188.5 L2710.7,187.7 L2706.7,186.5 L2703.1,185.0 L2700.0,183.2 L2697.5,181.0 L2695.5,178.7 L2694.3,176.3 L2693.7,173.7 L2693.9,171.1 L2694.7,168.6 L2696.3,166.2 L2698.5,164.0 L2701.3,162.0 L2704.7,160.3 L2708.4,158.9 L2712.6,157.9 L2716.9,157.2 L2721.4,157.0 L2725.8,157.2 L2730.2,157.8 L2734.3,158.8 L2738.1,160.2 L2741.5,161.9 L2744.3,163.9Z" fill="#2b2b2b" stroke="#e6e6e6" stroke-width="2.2"/>
<path d="M2700.9,115.6 L2701.0,113.7 L2701.6,111.8 L2702.8,110.0 L2704.4,108.3 L2706.5,106.9 L2709.0,105.6 L2711.8,104.6 L2714.9,103.8 L2718.1,103.3 L2721.4,103.2 L2724.7,103.3 L2727.9,103.8 L2731.0,104.5 L2733.8,105.5 L2736.3,106.8 L2738.4,108.2 L2740.1,109.9 L2741.3,111.7 L2742.0,113.5 L2742.1,115.5 L2742.1,175.5 L2741.7,177.4 L2740.8,179.2 L2739.4,180.9 L2737.5,182.5 L2735.2,183.9 L2732.6,185.1 L2729.7,185.9 L2726.5,186.6 L2723.2,186.9 L2719.9,186.9 L2716.6,186.6 L2713.5,186.0 L2710.5,185.1 L2707.9,184.0 L2705.6,182.6 L2703.7,181.0 L2702.2,179.3 L2701.3,177.5 L2700.9,175.6Z" fill="#2b2b2b"/>
<path d="M2742.1,175.1 L2741.9,176.7 L2741.4,178.3 L2740.4,179.8 L2739.1,181.2 L2737.5,182.5 L2735.6,183.7 L2733.4,184.8 L2731.0,185.6 L2728.4,186.2 L2725.7,186.7 L2722.9,186.9 L2720.1,186.9 L2717.3,186.7 L2714.6,186.2 L2712.0,185.6 L2709.6,184.8 L2707.4,183.7 L2705.5,182.5 L2703.8,181.2 L2702.6,179.8 L2701.6,178.3 L2701.0,176.7 L2700.8,175.1" fill="none" stroke="#e6e6e6" stroke-width="2.2"/>
<path d="M2742.1,175.1 L2742.1,115.0" stroke="#e6e6e6" stroke-width="2.2"/>
<path d="M2700.8,175.1 L2700.8,115.0" stroke="#e6e6e6" stroke-width="2.2"/>
<path d="M2740.6,179.6 L2740.6,119.6" stroke="#e6e6e6" stroke-width="1.7600000000000002"/>
<path d="M2729.4,186.0 L2729.4,126.0" stroke="#e6e6e6" stroke-width="1.7600000000000002"/>
<path d="M2713.6,186.0 L2713.6,126.0" stroke="#e6e6e6" stroke-width="1.7600000000000002"/>
<path d="M2702.4,179.6 L2702.4,119.6" stroke="#e6e6e6" stroke-width="1.7600000000000002"/>
<path d="M2738.4,108.3 L2740.1,109.9 L2741.3,111.7 L2742.0,113.6 L2742.1,115.5 L2741.7,117.4 L2740.8,119.2 L2739.4,120.9 L2737.5,122.5 L2735.3,123.9 L2732.6,125.0 L2729.7,125.9 L2726.5,126.5 L2723.2,126.8 L2719.9,126.9 L2716.6,126.6 L2713.5,126.0 L2710.5,125.1 L2707.9,123.9 L2705.6,122.6 L2703.7,121.0 L2702.2,119.3 L2701.3,117.5 L2700.9,115.6 L2701.0,113.7 L2701.6,111.8 L2702.8,110.0 L2704.4,108.3 L2706.5,106.9 L2709.0,105.6 L2711.8,104.6 L2714.9,103.8 L2718.1,103.3 L2721.4,103.2 L2724.7,103.3 L2727.9,103.8 L2731.0,104.5 L2733.8,105.5 L2736.3,106.8 L2738.4,108.3Z" fill="#2b2b2b" stroke="#e6e6e6" stroke-width="2.2"/>
<path d="M2708.8,125.3 L2719.6,121.0 L2727.2,127.2 L2739.4,122.3 L2731.8,116.1 L2742.7,111.8 L2734.2,104.8 L2723.3,109.1 L2715.8,102.9 L2703.6,107.7 L2711.1,114.0 L2700.3,118.3Z" fill="#1a1a1a" stroke="#e6e6e6" stroke-width="1.8" stroke-linejoin="round"/>
<path d="M2633.7,208.1 L2636.0,210.4 L2637.6,212.8 L2638.5,215.3 L2638.7,217.8 L2638.2,220.4 L2636.9,222.9 L2635.0,225.2 L2632.5,227.3 L2629.4,229.2 L2625.9,230.7 L2621.9,231.9 L2617.7,232.8 L2613.3,233.2 L2608.8,233.2 L2604.4,232.8 L2600.1,232.0 L2596.1,230.8 L2592.5,229.3 L2589.4,227.4 L2586.9,225.3 L2584.9,223.0 L2583.7,220.5 L2583.1,218.0 L2583.3,215.4 L2584.1,212.9 L2585.7,210.5 L2587.9,208.3 L2590.7,206.3 L2594.1,204.6 L2597.8,203.2 L2602.0,202.2 L2606.3,201.5 L2610.8,201.3 L2615.2,201.5 L2619.6,202.1 L2623.7,203.1 L2627.5,204.5 L2630.9,206.2 L2633.7,208.1Z" fill="#2b2b2b" stroke="#e6e6e6" stroke-width="2.2"/>
<path d="M2590.3,159.8 L2590.4,157.9 L2591.0,156.1 L2592.2,154.3 L2593.8,152.6 L2595.9,151.1 L2598.4,149.9 L2601.2,148.8 L2604.3,148.1 L2607.5,147.6 L2610.8,147.5 L2614.1,147.6 L2617.3,148.1 L2620.4,148.8 L2623.2,149.8 L2625.7,151.1 L2627.8,152.5 L2629.5,154.2 L2630.7,156.0 L2631.4,157.8 L2631.5,159.7 L2631.5,219.8 L2631.1,221.7 L2630.2,223.5 L2628.8,225.2 L2626.9,226.8 L2624.7,228.2 L2622.0,229.3 L2619.1,230.2 L2615.9,230.8 L2612.7,231.2 L2609.3,231.2 L2606.0,230.9 L2602.9,230.3 L2599.9,229.4 L2597.3,228.3 L2595.0,226.9 L2593.1,225.3 L2591.6,223.6 L2590.7,221.8 L2590.3,219.9Z" fill="#2b2b2b"/>
<path d="M2631.5,219.3 L2631.3,221.0 L2630.8,222.5 L2629.8,224.1 L2628.5,225.5 L2626.9,226.8 L2625.0,228.0 L2622.8,229.0 L2620.4,229.9 L2617.8,230.5 L2615.1,231.0 L2612.3,231.2 L2609.5,231.2 L2606.7,231.0 L2604.0,230.5 L2601.4,229.9 L2599.0,229.0 L2596.8,228.0 L2594.9,226.8 L2593.2,225.5 L2592.0,224.1 L2591.0,222.5 L2590.4,221.0 L2590.2,219.3" fill="none" stroke="#e6e6e6" stroke-width="2.2"/>
<path d="M2631.5,219.3 L2631.5,159.3" stroke="#e6e6e6" stroke-width="2.2"/>
<path d="M2590.2,219.3 L2590.2,159.3" stroke="#e6e6e6" stroke-width="2.2"/>
<path d="M2630.0,223.9 L2630.0,163.9" stroke="#e6e6e6" stroke-width="1.7600000000000002"/>
<path d="M2618.8,230.3 L2618.8,170.3" stroke="#e6e6e6" stroke-width="1.7600000000000002"/>
<path d="M2603.0,230.3 L2603.0,170.3" stroke="#e6e6e6" stroke-width="1.7600000000000002"/>
<path d="M2591.8,223.9 L2591.8,163.9" stroke="#e6e6e6" stroke-width="1.7600000000000002"/>
<path d="M2627.8,152.5 L2629.5,154.2 L2630.7,156.0 L2631.4,157.8 L2631.5,159.7 L2631.1,161.6 L2630.2,163.5 L2628.8,165.2 L2626.9,166.8 L2624.7,168.2 L2622.0,169.3 L2619.1,170.2 L2615.9,170.8 L2612.6,171.1 L2609.3,171.1 L2606.0,170.8 L2602.9,170.2 L2599.9,169.4 L2597.3,168.2 L2595.0,166.9 L2593.1,165.3 L2591.6,163.6 L2590.7,161.7 L2590.3,159.8 L2590.4,157.9 L2591.0,156.1 L2592.2,154.3 L2593.8,152.6 L2595.9,151.1 L2598.4,149.9 L2601.2,148.8 L2604.3,148.1 L2607.5,147.6 L2610.8,147.5 L2614.1,147.6 L2617.3,148.1 L2620.4,148.8 L2623.2,149.8 L2625.7,151.1 L2627.8,152.5Z" fill="#2b2b2b" stroke="#e6e6e6" stroke-width="2.2"/>
<path d="M2598.2,169.6 L2609.0,165.3 L2616.6,171.5 L2628.8,166.6 L2621.2,160.4 L2632.1,156.0 L2623.6,149.0 L2612.7,153.4 L2605.2,147.1 L2593.0,152.0 L2600.5,158.3 L2589.7,162.6Z" fill="#1a1a1a" stroke="#e6e6e6" stroke-width="1.8" stroke-linejoin="round"/>
<path d="M298.8,271.4 L298.9,270.4 L299.4,269.4 L300.0,268.5 L300.8,267.7 L301.8,266.9 L303.0,266.1 L304.4,265.5 L614.3,140.5 L615.8,140.0 L617.4,139.6 L619.0,139.3 L620.7,139.2 L622.5,139.1 L624.2,139.2 L625.8,139.5 L627.4,139.8 L629.0,140.3 L630.3,140.9 L631.6,141.6 L632.6,142.3 L633.5,143.2 L634.2,144.1 L634.7,145.1 L635.0,146.0 L635.0,147.0 L635.0,168.8 L634.8,169.8 L634.4,170.7 L633.8,171.7 L632.9,172.5 L631.9,173.3 L630.7,174.0 L629.4,174.7 L319.4,299.7 L317.9,300.2 L316.4,300.6 L314.7,300.9 L313.0,301.0 L311.3,301.1 L309.6,300.9 L307.9,300.7 L306.3,300.4 L304.8,299.9 L303.4,299.3 L302.2,298.6 L301.1,297.8 L300.2,297.0 L299.5,296.1 L299.1,295.1 L298.8,294.1 L298.8,293.2Z" fill="#2b2b2b"/>
<path d="M298.8,272.4 L299.0,273.4 L299.5,274.3 L300.2,275.2 L301.1,276.1 L302.2,276.8 L303.4,277.5 L304.8,278.1 L306.3,278.6 L307.9,278.9 L309.6,279.2 L311.3,279.3 L313.0,279.3 L314.7,279.1 L316.4,278.8 L318.0,278.4 L319.4,277.9 L629.4,152.9 L630.7,152.3 L631.9,151.6 L632.9,150.8 L633.8,149.9 L634.4,149.0 L634.8,148.0 L635.0,147.0" fill="none" stroke="#d8d8d8" stroke-width="1.3" stroke-linejoin="round"/>
<path d="M298.8,249.6 L298.9,248.7 L299.4,247.7 L300.0,246.8 L300.8,245.9 L301.8,245.1 L303.0,244.4 L304.4,243.8 L614.3,118.7 L615.8,118.2 L617.4,117.8 L619.0,117.5 L620.7,117.4 L622.5,117.4 L624.2,117.5 L625.8,117.7 L627.4,118.1 L629.0,118.5 L630.3,119.1 L631.6,119.8 L632.6,120.6 L633.5,121.4 L634.2,122.3 L634.7,123.3 L635.0,124.3 L635.0,125.3 L635.0,147.0 L634.8,148.0 L634.4,149.0 L633.8,149.9 L632.9,150.8 L631.9,151.6 L630.7,152.3 L629.4,152.9 L319.4,277.9 L317.9,278.4 L316.4,278.8 L314.7,279.1 L313.0,279.3 L311.3,279.3 L309.6,279.2 L307.9,278.9 L306.3,278.6 L304.8,278.1 L303.4,277.5 L302.2,276.9 L301.1,276.1 L300.2,275.2 L299.5,274.3 L299.1,273.4 L298.8,272.4 L298.8,271.4Z" fill="#2b2b2b"/>
<path d="M298.8,250.6 L299.0,251.6 L299.5,252.6 L300.2,253.5 L301.1,254.3 L302.2,255.1 L303.4,255.8 L304.8,256.4 L306.3,256.8 L307.9,257.2 L309.6,257.4 L311.3,257.5 L313.0,257.5 L314.7,257.4 L316.4,257.1 L318.0,256.7 L319.4,256.2 L629.4,131.1 L630.7,130.5 L631.9,129.8 L632.9,129.0 L633.8,128.1 L634.4,127.2 L634.8,126.2 L635.0,125.3" fill="none" stroke="#d8d8d8" stroke-width="1.3" stroke-linejoin="round"/>
<path d="M298.8,250.8 L299.5,248.8 L301.2,246.9 L303.6,245.4 L347.9,227.6 L351.0,226.5 L354.5,225.9 L358.1,226.0 L361.5,226.5 L364.5,227.6 L367.0,229.1 L368.6,230.9 L369.3,233.0 L369.3,252.0 L369.1,254.1 L367.8,256.0 L365.8,257.7 L362.9,259.0 L318.7,276.8 L315.4,277.7 L311.8,277.9 L308.3,277.6 L305.0,276.8 L302.2,275.5 L300.2,273.8 L299.0,271.9 L298.8,269.8Z" fill="#b0b0b0"/>
<ellipse cx="319.4" cy="267.0" rx="6" ry="7" fill="#333" stroke="#eee" stroke-width="1.5"/>
<ellipse cx="341.6" cy="258.1" rx="6" ry="7" fill="#333" stroke="#eee" stroke-width="1.5"/>
<ellipse cx="363.7" cy="249.2" rx="6" ry="7" fill="#333" stroke="#eee" stroke-width="1.5"/>
<path d="M564.5,143.6 L565.2,141.6 L566.9,139.8 L569.3,138.3 L613.6,120.4 L616.7,119.3 L620.1,118.8 L623.7,118.8 L627.2,119.4 L630.2,120.4 L632.6,122.0 L634.3,123.8 L635.0,125.8 L635.0,144.8 L634.7,146.9 L633.5,148.8 L631.4,150.5 L628.6,151.8 L584.4,169.7 L581.1,170.5 L577.5,170.8 L574.0,170.5 L570.7,169.7 L567.9,168.4 L565.9,166.7 L564.7,164.7 L564.5,162.7Z" fill="#b0b0b0"/>
<ellipse cx="585.1" cy="159.9" rx="6" ry="7" fill="#333" stroke="#eee" stroke-width="1.5"/>
<ellipse cx="607.2" cy="151.0" rx="6" ry="7" fill="#333" stroke="#eee" stroke-width="1.5"/>
<ellipse cx="629.4" cy="142.0" rx="6" ry="7" fill="#333" stroke="#eee" stroke-width="1.5"/>
<path d="M363.7,239.1 L629.4,132.0" stroke="#d0d0d0" stroke-width="1.6"/>
<path d="M363.7,259.2 L629.4,152.1" stroke="#d0d0d0" stroke-width="1.6"/>
<path d="M298.8,227.9 L298.9,226.9 L299.4,225.9 L300.0,225.0 L300.8,224.1 L301.8,223.3 L303.0,222.6 L304.4,222.0 L614.3,97.0 L615.8,96.5 L617.4,96.1 L619.0,95.8 L620.7,95.6 L622.5,95.6 L624.2,95.7 L625.8,96.0 L627.4,96.3 L629.0,96.8 L630.3,97.4 L631.6,98.0 L632.6,98.8 L633.5,99.7 L634.2,100.6 L634.7,101.5 L635.0,102.5 L635.0,103.5 L635.0,125.3 L634.8,126.2 L634.4,127.2 L633.8,128.1 L632.9,129.0 L631.9,129.8 L630.7,130.5 L629.4,131.1 L319.4,256.2 L317.9,256.7 L316.4,257.1 L314.7,257.4 L313.0,257.5 L311.3,257.5 L309.6,257.4 L307.9,257.2 L306.3,256.8 L304.8,256.4 L303.4,255.8 L302.2,255.1 L301.1,254.3 L300.2,253.5 L299.5,252.6 L299.1,251.6 L298.8,250.6 L298.8,249.6Z" fill="#2b2b2b"/>
<path d="M298.8,228.9 L299.0,229.8 L299.5,230.8 L300.2,231.7 L301.1,232.6 L302.2,233.3 L303.4,234.0 L304.8,234.6 L306.3,235.1 L307.9,235.4 L309.6,235.7 L311.3,235.8 L313.0,235.7 L314.7,235.6 L316.4,235.3 L318.0,234.9 L319.4,234.4 L629.4,109.4 L630.7,108.8 L631.9,108.0 L632.9,107.2 L633.8,106.4 L634.4,105.4 L634.8,104.5 L635.0,103.5" fill="none" stroke="#d8d8d8" stroke-width="1.3" stroke-linejoin="round"/>
<clipPath id="c40"><path d="M321.0,224.5 L319.9,223.7 L318.5,223.0 L317.0,222.5 L315.4,222.1 L313.6,221.9 L311.8,221.8 L310.1,221.9 L308.3,222.1 L306.7,222.5 L305.2,223.1 L303.8,223.8 L302.7,224.6 L301.8,225.5 L301.2,226.5 L300.8,227.5 L300.8,228.5 L301.0,229.5 L301.5,230.5 L302.3,231.4 L303.3,232.3 L304.6,233.0 L306.0,233.6 L307.6,234.1 L309.3,234.4 L311.1,234.6 L312.8,234.6 L314.6,234.4 L316.3,234.1 L317.9,233.6 L319.3,233.0 L320.6,232.2 L321.6,231.4 L322.3,230.4 L322.8,229.4 L323.0,228.4 L322.9,227.4 L322.6,226.4 L321.9,225.4 L321.0,224.5Z"/></clipPath><path d="M321.0,224.5 L319.9,223.7 L318.5,223.0 L317.0,222.5 L315.4,222.1 L313.6,221.9 L311.8,221.8 L310.1,221.9 L308.3,222.1 L306.7,222.5 L305.2,223.1 L303.8,223.8 L302.7,224.6 L301.8,225.5 L301.2,226.5 L300.8,227.5 L300.8,228.5 L301.0,229.5 L301.5,230.5 L302.3,231.4 L303.3,232.3 L304.6,233.0 L306.0,233.6 L307.6,234.1 L309.3,234.4 L311.1,234.6 L312.8,234.6 L314.6,234.4 L316.3,234.1 L317.9,233.6 L319.3,233.0 L320.6,232.2 L321.6,231.4 L322.3,230.4 L322.8,229.4 L323.0,228.4 L322.9,227.4 L322.6,226.4 L321.9,225.4 L321.0,224.5Z" fill="#333"/><g clip-path="url(#c40)"><path d="M319.7,227.5 L318.7,226.8 L317.5,226.3 L316.3,225.8 L314.9,225.5 L313.4,225.3 L311.9,225.2 L310.3,225.3 L308.9,225.5 L307.5,225.8 L306.2,226.3 L305.0,226.9 L304.1,227.6 L303.3,228.4 L302.8,229.2 L302.5,230.0 L302.4,230.9 L302.6,231.8 L303.1,232.6 L303.7,233.4 L304.6,234.1 L305.7,234.8 L306.9,235.3 L308.2,235.7 L309.7,235.9 L311.2,236.1 L312.7,236.1 L314.2,235.9 L315.7,235.6 L317.0,235.2 L318.2,234.7 L319.3,234.1 L320.1,233.3 L320.8,232.5 L321.2,231.7 L321.4,230.8 L321.3,229.9 L321.0,229.1 L320.4,228.3 L319.7,227.5Z" fill="#2b2b2b" stroke="#dcdcdc" stroke-width="1.40"/></g><path d="M321.0,224.5 L319.9,223.7 L318.5,223.0 L317.0,222.5 L315.4,222.1 L313.6,221.9 L311.8,221.8 L310.1,221.9 L308.3,222.1 L306.7,222.5 L305.2,223.1 L303.8,223.8 L302.7,224.6 L301.8,225.5 L301.2,226.5 L300.8,227.5 L300.8,228.5 L301.0,229.5 L301.5,230.5 L302.3,231.4 L303.3,232.3 L304.6,233.0 L306.0,233.6 L307.6,234.1 L309.3,234.4 L311.1,234.6 L312.8,234.6 L314.6,234.4 L316.3,234.1 L317.9,233.6 L319.3,233.0 L320.6,232.2 L321.6,231.4 L322.3,230.4 L322.8,229.4 L323.0,228.4 L322.9,227.4 L322.6,226.4 L321.9,225.4 L321.0,224.5Z" fill="none" stroke="#d8d8d8" stroke-width="1.4"/>
<clipPath id="c41"><path d="M343.2,215.6 L342.0,214.8 L340.7,214.1 L339.2,213.6 L337.5,213.2 L335.8,212.9 L334.0,212.9 L332.2,213.0 L330.5,213.2 L328.8,213.6 L327.3,214.2 L326.0,214.9 L324.8,215.7 L324.0,216.6 L323.3,217.5 L323.0,218.5 L322.9,219.6 L323.1,220.6 L323.6,221.6 L324.4,222.5 L325.4,223.4 L326.7,224.1 L328.1,224.7 L329.7,225.2 L331.4,225.5 L333.2,225.7 L335.0,225.7 L336.8,225.5 L338.5,225.1 L340.0,224.7 L341.5,224.0 L342.7,223.3 L343.7,222.4 L344.5,221.5 L345.0,220.5 L345.2,219.5 L345.1,218.4 L344.7,217.4 L344.1,216.5 L343.2,215.6Z"/></clipPath><path d="M343.2,215.6 L342.0,214.8 L340.7,214.1 L339.2,213.6 L337.5,213.2 L335.8,212.9 L334.0,212.9 L332.2,213.0 L330.5,213.2 L328.8,213.6 L327.3,214.2 L326.0,214.9 L324.8,215.7 L324.0,216.6 L323.3,217.5 L323.0,218.5 L322.9,219.6 L323.1,220.6 L323.6,221.6 L324.4,222.5 L325.4,223.4 L326.7,224.1 L328.1,224.7 L329.7,225.2 L331.4,225.5 L333.2,225.7 L335.0,225.7 L336.8,225.5 L338.5,225.1 L340.0,224.7 L341.5,224.0 L342.7,223.3 L343.7,222.4 L344.5,221.5 L345.0,220.5 L345.2,219.5 L345.1,218.4 L344.7,217.4 L344.1,216.5 L343.2,215.6Z" fill="#333"/><g clip-path="url(#c41)"><path d="M341.8,218.6 L340.8,217.9 L339.7,217.3 L338.4,216.9 L337.0,216.5 L335.5,216.3 L334.0,216.3 L332.5,216.3 L331.0,216.6 L329.6,216.9 L328.3,217.4 L327.2,218.0 L326.2,218.7 L325.5,219.4 L324.9,220.2 L324.6,221.1 L324.6,222.0 L324.8,222.9 L325.2,223.7 L325.9,224.5 L326.7,225.2 L327.8,225.8 L329.0,226.3 L330.4,226.7 L331.8,227.0 L333.3,227.2 L334.8,227.1 L336.3,227.0 L337.8,226.7 L339.1,226.3 L340.3,225.8 L341.4,225.1 L342.3,224.4 L342.9,223.6 L343.3,222.8 L343.5,221.9 L343.4,221.0 L343.1,220.2 L342.6,219.3 L341.8,218.6Z" fill="#2b2b2b" stroke="#dcdcdc" stroke-width="1.40"/></g><path d="M343.2,215.6 L342.0,214.8 L340.7,214.1 L339.2,213.6 L337.5,213.2 L335.8,212.9 L334.0,212.9 L332.2,213.0 L330.5,213.2 L328.8,213.6 L327.3,214.2 L326.0,214.9 L324.8,215.7 L324.0,216.6 L323.3,217.5 L323.0,218.5 L322.9,219.6 L323.1,220.6 L323.6,221.6 L324.4,222.5 L325.4,223.4 L326.7,224.1 L328.1,224.7 L329.7,225.2 L331.4,225.5 L333.2,225.7 L335.0,225.7 L336.8,225.5 L338.5,225.1 L340.0,224.7 L341.5,224.0 L342.7,223.3 L343.7,222.4 L344.5,221.5 L345.0,220.5 L345.2,219.5 L345.1,218.4 L344.7,217.4 L344.1,216.5 L343.2,215.6Z" fill="none" stroke="#d8d8d8" stroke-width="1.4"/>
<clipPath id="c42"><path d="M365.3,206.7 L364.2,205.9 L362.8,205.2 L361.3,204.6 L359.7,204.2 L357.9,204.0 L356.1,203.9 L354.3,204.0 L352.6,204.3 L351.0,204.7 L349.4,205.2 L348.1,205.9 L347.0,206.7 L346.1,207.6 L345.5,208.6 L345.1,209.6 L345.1,210.6 L345.3,211.7 L345.8,212.7 L346.6,213.6 L347.6,214.4 L348.8,215.2 L350.3,215.8 L351.9,216.3 L353.6,216.6 L355.3,216.7 L357.1,216.7 L358.9,216.6 L360.6,216.2 L362.2,215.7 L363.6,215.1 L364.8,214.4 L365.8,213.5 L366.6,212.6 L367.1,211.6 L367.3,210.5 L367.2,209.5 L366.9,208.5 L366.2,207.5 L365.3,206.7Z"/></clipPath><path d="M365.3,206.7 L364.2,205.9 L362.8,205.2 L361.3,204.6 L359.7,204.2 L357.9,204.0 L356.1,203.9 L354.3,204.0 L352.6,204.3 L351.0,204.7 L349.4,205.2 L348.1,205.9 L347.0,206.7 L346.1,207.6 L345.5,208.6 L345.1,209.6 L345.1,210.6 L345.3,211.7 L345.8,212.7 L346.6,213.6 L347.6,214.4 L348.8,215.2 L350.3,215.8 L351.9,216.3 L353.6,216.6 L355.3,216.7 L357.1,216.7 L358.9,216.6 L360.6,216.2 L362.2,215.7 L363.6,215.1 L364.8,214.4 L365.8,213.5 L366.6,212.6 L367.1,211.6 L367.3,210.5 L367.2,209.5 L366.9,208.5 L366.2,207.5 L365.3,206.7Z" fill="#333"/><g clip-path="url(#c42)"><path d="M363.9,209.7 L363.0,209.0 L361.8,208.4 L360.5,207.9 L359.1,207.6 L357.7,207.4 L356.1,207.3 L354.6,207.4 L353.1,207.6 L351.7,208.0 L350.5,208.5 L349.3,209.0 L348.4,209.7 L347.6,210.5 L347.1,211.3 L346.8,212.2 L346.7,213.1 L346.9,213.9 L347.3,214.8 L348.0,215.6 L348.9,216.3 L349.9,216.9 L351.2,217.4 L352.5,217.8 L354.0,218.1 L355.5,218.2 L357.0,218.2 L358.5,218.1 L359.9,217.8 L361.3,217.4 L362.5,216.8 L363.5,216.2 L364.4,215.5 L365.0,214.7 L365.5,213.8 L365.6,213.0 L365.6,212.1 L365.3,211.2 L364.7,210.4 L363.9,209.7Z" fill="#2b2b2b" stroke="#dcdcdc" stroke-width="1.40"/></g><path d="M365.3,206.7 L364.2,205.9 L362.8,205.2 L361.3,204.6 L359.7,204.2 L357.9,204.0 L356.1,203.9 L354.3,204.0 L352.6,204.3 L351.0,204.7 L349.4,205.2 L348.1,205.9 L347.0,206.7 L346.1,207.6 L345.5,208.6 L345.1,209.6 L345.1,210.6 L345.3,211.7 L345.8,212.7 L346.6,213.6 L347.6,214.4 L348.8,215.2 L350.3,215.8 L351.9,216.3 L353.6,216.6 L355.3,216.7 L357.1,216.7 L358.9,216.6 L360.6,216.2 L362.2,215.7 L363.6,215.1 L364.8,214.4 L365.8,213.5 L366.6,212.6 L367.1,211.6 L367.3,210.5 L367.2,209.5 L366.9,208.5 L366.2,207.5 L365.3,206.7Z" fill="none" stroke="#d8d8d8" stroke-width="1.4"/>
<clipPath id="c43"><path d="M387.5,197.7 L386.3,196.9 L385.0,196.3 L383.4,195.7 L381.8,195.3 L380.1,195.1 L378.3,195.0 L376.5,195.1 L374.7,195.3 L373.1,195.8 L371.6,196.3 L370.3,197.0 L369.1,197.8 L368.2,198.7 L367.6,199.7 L367.3,200.7 L367.2,201.7 L367.4,202.7 L367.9,203.7 L368.7,204.7 L369.7,205.5 L371.0,206.2 L372.4,206.9 L374.0,207.3 L375.7,207.6 L377.5,207.8 L379.3,207.8 L381.0,207.6 L382.7,207.3 L384.3,206.8 L385.7,206.2 L387.0,205.4 L388.0,204.6 L388.7,203.6 L389.2,202.6 L389.4,201.6 L389.4,200.6 L389.0,199.6 L388.4,198.6 L387.5,197.7Z"/></clipPath><path d="M387.5,197.7 L386.3,196.9 L385.0,196.3 L383.4,195.7 L381.8,195.3 L380.1,195.1 L378.3,195.0 L376.5,195.1 L374.7,195.3 L373.1,195.8 L371.6,196.3 L370.3,197.0 L369.1,197.8 L368.2,198.7 L367.6,199.7 L367.3,200.7 L367.2,201.7 L367.4,202.7 L367.9,203.7 L368.7,204.7 L369.7,205.5 L371.0,206.2 L372.4,206.9 L374.0,207.3 L375.7,207.6 L377.5,207.8 L379.3,207.8 L381.0,207.6 L382.7,207.3 L384.3,206.8 L385.7,206.2 L387.0,205.4 L388.0,204.6 L388.7,203.6 L389.2,202.6 L389.4,201.6 L389.4,200.6 L389.0,199.6 L388.4,198.6 L387.5,197.7Z" fill="#333"/><g clip-path="url(#c43)"><path d="M386.1,200.7 L385.1,200.1 L384.0,199.5 L382.7,199.0 L381.3,198.7 L379.8,198.5 L378.3,198.4 L376.8,198.5 L375.3,198.7 L373.9,199.1 L372.6,199.5 L371.5,200.1 L370.5,200.8 L369.8,201.6 L369.2,202.4 L368.9,203.2 L368.9,204.1 L369.1,205.0 L369.5,205.8 L370.1,206.6 L371.0,207.3 L372.1,208.0 L373.3,208.5 L374.7,208.9 L376.1,209.2 L377.6,209.3 L379.1,209.3 L380.6,209.1 L382.1,208.9 L383.4,208.4 L384.6,207.9 L385.7,207.3 L386.5,206.5 L387.2,205.7 L387.6,204.9 L387.8,204.0 L387.7,203.2 L387.4,202.3 L386.9,201.5 L386.1,200.7Z" fill="#2b2b2b" stroke="#dcdcdc" stroke-width="1.40"/></g><path d="M387.5,197.7 L386.3,196.9 L385.0,196.3 L383.4,195.7 L381.8,195.3 L380.1,195.1 L378.3,195.0 L376.5,195.1 L374.7,195.3 L373.1,195.8 L371.6,196.3 L370.3,197.0 L369.1,197.8 L368.2,198.7 L367.6,199.7 L367.3,200.7 L367.2,201.7 L367.4,202.7 L367.9,203.7 L368.7,204.7 L369.7,205.5 L371.0,206.2 L372.4,206.9 L374.0,207.3 L375.7,207.6 L377.5,207.8 L379.3,207.8 L381.0,207.6 L382.7,207.3 L384.3,206.8 L385.7,206.2 L387.0,205.4 L388.0,204.6 L388.7,203.6 L389.2,202.6 L389.4,201.6 L389.4,200.6 L389.0,199.6 L388.4,198.6 L387.5,197.7Z" fill="none" stroke="#d8d8d8" stroke-width="1.4"/>
<clipPath id="c44"><path d="M409.6,188.8 L408.5,188.0 L407.1,187.3 L405.6,186.8 L403.9,186.4 L402.2,186.1 L400.4,186.1 L398.6,186.2 L396.9,186.4 L395.2,186.8 L393.7,187.4 L392.4,188.1 L391.3,188.9 L390.4,189.8 L389.8,190.7 L389.4,191.8 L389.3,192.8 L389.6,193.8 L390.1,194.8 L390.8,195.7 L391.9,196.6 L393.1,197.3 L394.6,197.9 L396.1,198.4 L397.8,198.7 L399.6,198.9 L401.4,198.9 L403.2,198.7 L404.9,198.4 L406.5,197.9 L407.9,197.2 L409.1,196.5 L410.1,195.6 L410.9,194.7 L411.4,193.7 L411.6,192.7 L411.5,191.7 L411.1,190.6 L410.5,189.7 L409.6,188.8Z"/></clipPath><path d="M409.6,188.8 L408.5,188.0 L407.1,187.3 L405.6,186.8 L403.9,186.4 L402.2,186.1 L400.4,186.1 L398.6,186.2 L396.9,186.4 L395.2,186.8 L393.7,187.4 L392.4,188.1 L391.3,188.9 L390.4,189.8 L389.8,190.7 L389.4,191.8 L389.3,192.8 L389.6,193.8 L390.1,194.8 L390.8,195.7 L391.9,196.6 L393.1,197.3 L394.6,197.9 L396.1,198.4 L397.8,198.7 L399.6,198.9 L401.4,198.9 L403.2,198.7 L404.9,198.4 L406.5,197.9 L407.9,197.2 L409.1,196.5 L410.1,195.6 L410.9,194.7 L411.4,193.7 L411.6,192.7 L411.5,191.7 L411.1,190.6 L410.5,189.7 L409.6,188.8Z" fill="#333"/><g clip-path="url(#c44)"><path d="M408.2,191.8 L407.3,191.1 L406.1,190.5 L404.8,190.1 L403.4,189.7 L401.9,189.5 L400.4,189.5 L398.9,189.6 L397.4,189.8 L396.0,190.1 L394.7,190.6 L393.6,191.2 L392.6,191.9 L391.9,192.6 L391.4,193.5 L391.1,194.3 L391.0,195.2 L391.2,196.1 L391.6,196.9 L392.3,197.7 L393.2,198.4 L394.2,199.0 L395.4,199.6 L396.8,200.0 L398.2,200.2 L399.7,200.4 L401.3,200.4 L402.8,200.2 L404.2,199.9 L405.6,199.5 L406.8,199.0 L407.8,198.3 L408.7,197.6 L409.3,196.8 L409.7,196.0 L409.9,195.1 L409.8,194.2 L409.5,193.4 L409.0,192.6 L408.2,191.8Z" fill="#2b2b2b" stroke="#dcdcdc" stroke-width="1.40"/></g><path d="M409.6,188.8 L408.5,188.0 L407.1,187.3 L405.6,186.8 L403.9,186.4 L402.2,186.1 L400.4,186.1 L398.6,186.2 L396.9,186.4 L395.2,186.8 L393.7,187.4 L392.4,188.1 L391.3,188.9 L390.4,189.8 L389.8,190.7 L389.4,191.8 L389.3,192.8 L389.6,193.8 L390.1,194.8 L390.8,195.7 L391.9,196.6 L393.1,197.3 L394.6,197.9 L396.1,198.4 L397.8,198.7 L399.6,198.9 L401.4,198.9 L403.2,198.7 L404.9,198.4 L406.5,197.9 L407.9,197.2 L409.1,196.5 L410.1,195.6 L410.9,194.7 L411.4,193.7 L411.6,192.7 L411.5,191.7 L411.1,190.6 L410.5,189.7 L409.6,188.8Z" fill="none" stroke="#d8d8d8" stroke-width="1.4"/>
<clipPath id="c45"><path d="M431.7,179.9 L430.6,179.1 L429.2,178.4 L427.7,177.8 L426.1,177.5 L424.3,177.2 L422.5,177.1 L420.8,177.2 L419.0,177.5 L417.4,177.9 L415.9,178.5 L414.5,179.1 L413.4,180.0 L412.5,180.8 L411.9,181.8 L411.5,182.8 L411.5,183.9 L411.7,184.9 L412.2,185.9 L413.0,186.8 L414.0,187.6 L415.3,188.4 L416.7,189.0 L418.3,189.5 L420.0,189.8 L421.8,189.9 L423.5,189.9 L425.3,189.8 L427.0,189.4 L428.6,188.9 L430.0,188.3 L431.3,187.6 L432.3,186.7 L433.0,185.8 L433.5,184.8 L433.7,183.8 L433.6,182.7 L433.3,181.7 L432.6,180.8 L431.7,179.9Z"/></clipPath><path d="M431.7,179.9 L430.6,179.1 L429.2,178.4 L427.7,177.8 L426.1,177.5 L424.3,177.2 L422.5,177.1 L420.8,177.2 L419.0,177.5 L417.4,177.9 L415.9,178.5 L414.5,179.1 L413.4,180.0 L412.5,180.8 L411.9,181.8 L411.5,182.8 L411.5,183.9 L411.7,184.9 L412.2,185.9 L413.0,186.8 L414.0,187.6 L415.3,188.4 L416.7,189.0 L418.3,189.5 L420.0,189.8 L421.8,189.9 L423.5,189.9 L425.3,189.8 L427.0,189.4 L428.6,188.9 L430.0,188.3 L431.3,187.6 L432.3,186.7 L433.0,185.8 L433.5,184.8 L433.7,183.8 L433.6,182.7 L433.3,181.7 L432.6,180.8 L431.7,179.9Z" fill="#333"/><g clip-path="url(#c45)"><path d="M430.4,182.9 L429.4,182.2 L428.2,181.6 L427.0,181.2 L425.6,180.8 L424.1,180.6 L422.6,180.5 L421.0,180.6 L419.6,180.8 L418.2,181.2 L416.9,181.7 L415.7,182.3 L414.8,182.9 L414.0,183.7 L413.5,184.5 L413.2,185.4 L413.1,186.3 L413.3,187.1 L413.8,188.0 L414.4,188.8 L415.3,189.5 L416.4,190.1 L417.6,190.6 L418.9,191.0 L420.4,191.3 L421.9,191.4 L423.4,191.4 L424.9,191.3 L426.4,191.0 L427.7,190.6 L428.9,190.0 L430.0,189.4 L430.8,188.7 L431.5,187.9 L431.9,187.0 L432.1,186.2 L432.0,185.3 L431.7,184.4 L431.1,183.6 L430.4,182.9Z" fill="#2b2b2b" stroke="#dcdcdc" stroke-width="1.40"/></g><path d="M431.7,179.9 L430.6,179.1 L429.2,178.4 L427.7,177.8 L426.1,177.5 L424.3,177.2 L422.5,177.1 L420.8,177.2 L419.0,177.5 L417.4,177.9 L415.9,178.5 L414.5,179.1 L413.4,180.0 L412.5,180.8 L411.9,181.8 L411.5,182.8 L411.5,183.9 L411.7,184.9 L412.2,185.9 L413.0,186.8 L414.0,187.6 L415.3,188.4 L416.7,189.0 L418.3,189.5 L420.0,189.8 L421.8,189.9 L423.5,189.9 L425.3,189.8 L427.0,189.4 L428.6,188.9 L430.0,188.3 L431.3,187.6 L432.3,186.7 L433.0,185.8 L433.5,184.8 L433.7,183.8 L433.6,182.7 L433.3,181.7 L432.6,180.8 L431.7,179.9Z" fill="none" stroke="#d8d8d8" stroke-width="1.4"/>
<clipPath id="c46"><path d="M453.9,170.9 L452.7,170.1 L451.4,169.5 L449.9,168.9 L448.2,168.5 L446.5,168.3 L444.7,168.2 L442.9,168.3 L441.2,168.6 L439.5,169.0 L438.0,169.5 L436.7,170.2 L435.5,171.0 L434.7,171.9 L434.0,172.9 L433.7,173.9 L433.6,174.9 L433.8,176.0 L434.3,176.9 L435.1,177.9 L436.1,178.7 L437.4,179.5 L438.8,180.1 L440.4,180.5 L442.1,180.9 L443.9,181.0 L445.7,181.0 L447.5,180.8 L449.2,180.5 L450.7,180.0 L452.2,179.4 L453.4,178.6 L454.4,177.8 L455.2,176.8 L455.7,175.9 L455.9,174.8 L455.8,173.8 L455.4,172.8 L454.8,171.8 L453.9,170.9Z"/></clipPath><path d="M453.9,170.9 L452.7,170.1 L451.4,169.5 L449.9,168.9 L448.2,168.5 L446.5,168.3 L444.7,168.2 L442.9,168.3 L441.2,168.6 L439.5,169.0 L438.0,169.5 L436.7,170.2 L435.5,171.0 L434.7,171.9 L434.0,172.9 L433.7,173.9 L433.6,174.9 L433.8,176.0 L434.3,176.9 L435.1,177.9 L436.1,178.7 L437.4,179.5 L438.8,180.1 L440.4,180.5 L442.1,180.9 L443.9,181.0 L445.7,181.0 L447.5,180.8 L449.2,180.5 L450.7,180.0 L452.2,179.4 L453.4,178.6 L454.4,177.8 L455.2,176.8 L455.7,175.9 L455.9,174.8 L455.8,173.8 L455.4,172.8 L454.8,171.8 L453.9,170.9Z" fill="#333"/><g clip-path="url(#c46)"><path d="M452.5,173.9 L451.5,173.3 L450.4,172.7 L449.1,172.2 L447.7,171.9 L446.2,171.7 L444.7,171.6 L443.2,171.7 L441.7,171.9 L440.3,172.3 L439.0,172.7 L437.9,173.3 L436.9,174.0 L436.2,174.8 L435.6,175.6 L435.3,176.5 L435.3,177.3 L435.5,178.2 L435.9,179.0 L436.6,179.8 L437.4,180.5 L438.5,181.2 L439.7,181.7 L441.1,182.1 L442.5,182.4 L444.0,182.5 L445.5,182.5 L447.0,182.3 L448.5,182.1 L449.8,181.7 L451.0,181.1 L452.1,180.5 L453.0,179.8 L453.6,179.0 L454.0,178.1 L454.2,177.2 L454.1,176.4 L453.8,175.5 L453.3,174.7 L452.5,173.9Z" fill="#2b2b2b" stroke="#dcdcdc" stroke-width="1.40"/></g><path d="M453.9,170.9 L452.7,170.1 L451.4,169.5 L449.9,168.9 L448.2,168.5 L446.5,168.3 L444.7,168.2 L442.9,168.3 L441.2,168.6 L439.5,169.0 L438.0,169.5 L436.7,170.2 L435.5,171.0 L434.7,171.9 L434.0,172.9 L433.7,173.9 L433.6,174.9 L433.8,176.0 L434.3,176.9 L435.1,177.9 L436.1,178.7 L437.4,179.5 L438.8,180.1 L440.4,180.5 L442.1,180.9 L443.9,181.0 L445.7,181.0 L447.5,180.8 L449.2,180.5 L450.7,180.0 L452.2,179.4 L453.4,178.6 L454.4,177.8 L455.2,176.8 L455.7,175.9 L455.9,174.8 L455.8,173.8 L455.4,172.8 L454.8,171.8 L453.9,170.9Z" fill="none" stroke="#d8d8d8" stroke-width="1.4"/>
<clipPath id="c47"><path d="M476.0,162.0 L474.9,161.2 L473.5,160.5 L472.0,160.0 L470.4,159.6 L468.6,159.4 L466.8,159.3 L465.0,159.4 L463.3,159.6 L461.7,160.0 L460.1,160.6 L458.8,161.3 L457.7,162.1 L456.8,163.0 L456.2,164.0 L455.8,165.0 L455.8,166.0 L456.0,167.0 L456.5,168.0 L457.3,168.9 L458.3,169.8 L459.5,170.5 L461.0,171.1 L462.6,171.6 L464.3,171.9 L466.0,172.1 L467.8,172.1 L469.6,171.9 L471.3,171.6 L472.9,171.1 L474.3,170.5 L475.5,169.7 L476.5,168.9 L477.3,167.9 L477.8,166.9 L478.0,165.9 L477.9,164.9 L477.6,163.9 L476.9,162.9 L476.0,162.0Z"/></clipPath><path d="M476.0,162.0 L474.9,161.2 L473.5,160.5 L472.0,160.0 L470.4,159.6 L468.6,159.4 L466.8,159.3 L465.0,159.4 L463.3,159.6 L461.7,160.0 L460.1,160.6 L458.8,161.3 L457.7,162.1 L456.8,163.0 L456.2,164.0 L455.8,165.0 L455.8,166.0 L456.0,167.0 L456.5,168.0 L457.3,168.9 L458.3,169.8 L459.5,170.5 L461.0,171.1 L462.6,171.6 L464.3,171.9 L466.0,172.1 L467.8,172.1 L469.6,171.9 L471.3,171.6 L472.9,171.1 L474.3,170.5 L475.5,169.7 L476.5,168.9 L477.3,167.9 L477.8,166.9 L478.0,165.9 L477.9,164.9 L477.6,163.9 L476.9,162.9 L476.0,162.0Z" fill="#333"/><g clip-path="url(#c47)"><path d="M474.6,165.0 L473.7,164.3 L472.5,163.8 L471.2,163.3 L469.8,163.0 L468.4,162.8 L466.8,162.7 L465.3,162.8 L463.8,163.0 L462.4,163.3 L461.2,163.8 L460.0,164.4 L459.1,165.1 L458.3,165.8 L457.8,166.7 L457.5,167.5 L457.4,168.4 L457.6,169.3 L458.0,170.1 L458.7,170.9 L459.6,171.6 L460.6,172.2 L461.9,172.8 L463.2,173.2 L464.7,173.4 L466.2,173.6 L467.7,173.6 L469.2,173.4 L470.6,173.1 L472.0,172.7 L473.2,172.2 L474.2,171.6 L475.1,170.8 L475.7,170.0 L476.2,169.2 L476.3,168.3 L476.3,167.4 L476.0,166.6 L475.4,165.8 L474.6,165.0Z" fill="#2b2b2b" stroke="#dcdcdc" stroke-width="1.40"/></g><path d="M476.0,162.0 L474.9,161.2 L473.5,160.5 L472.0,160.0 L470.4,159.6 L468.6,159.4 L466.8,159.3 L465.0,159.4 L463.3,159.6 L461.7,160.0 L460.1,160.6 L458.8,161.3 L457.7,162.1 L456.8,163.0 L456.2,164.0 L455.8,165.0 L455.8,166.0 L456.0,167.0 L456.5,168.0 L457.3,168.9 L458.3,169.8 L459.5,170.5 L461.0,171.1 L462.6,171.6 L464.3,171.9 L466.0,172.1 L467.8,172.1 L469.6,171.9 L471.3,171.6 L472.9,171.1 L474.3,170.5 L475.5,169.7 L476.5,168.9 L477.3,167.9 L477.8,166.9 L478.0,165.9 L477.9,164.9 L477.6,163.9 L476.9,162.9 L476.0,162.0Z" fill="none" stroke="#d8d8d8" stroke-width="1.4"/>
<clipPath id="c48"><path d="M498.2,153.1 L497.0,152.3 L495.7,151.6 L494.1,151.1 L492.5,150.7 L490.8,150.4 L489.0,150.3 L487.2,150.4 L485.4,150.7 L483.8,151.1 L482.3,151.7 L481.0,152.4 L479.8,153.2 L478.9,154.1 L478.3,155.0 L478.0,156.0 L477.9,157.1 L478.1,158.1 L478.6,159.1 L479.4,160.0 L480.4,160.9 L481.7,161.6 L483.1,162.2 L484.7,162.7 L486.4,163.0 L488.2,163.2 L490.0,163.1 L491.7,163.0 L493.4,162.6 L495.0,162.2 L496.4,161.5 L497.7,160.8 L498.7,159.9 L499.4,159.0 L499.9,158.0 L500.1,157.0 L500.1,155.9 L499.7,154.9 L499.1,154.0 L498.2,153.1Z"/></clipPath><path d="M498.2,153.1 L497.0,152.3 L495.7,151.6 L494.1,151.1 L492.5,150.7 L490.8,150.4 L489.0,150.3 L487.2,150.4 L485.4,150.7 L483.8,151.1 L482.3,151.7 L481.0,152.4 L479.8,153.2 L478.9,154.1 L478.3,155.0 L478.0,156.0 L477.9,157.1 L478.1,158.1 L478.6,159.1 L479.4,160.0 L480.4,160.9 L481.7,161.6 L483.1,162.2 L484.7,162.7 L486.4,163.0 L488.2,163.2 L490.0,163.1 L491.7,163.0 L493.4,162.6 L495.0,162.2 L496.4,161.5 L497.7,160.8 L498.7,159.9 L499.4,159.0 L499.9,158.0 L500.1,157.0 L500.1,155.9 L499.7,154.9 L499.1,154.0 L498.2,153.1Z" fill="#333"/><g clip-path="url(#c48)"><path d="M496.8,156.1 L495.8,155.4 L494.7,154.8 L493.4,154.4 L492.0,154.0 L490.5,153.8 L489.0,153.8 L487.5,153.8 L486.0,154.1 L484.6,154.4 L483.3,154.9 L482.2,155.5 L481.2,156.1 L480.5,156.9 L479.9,157.7 L479.6,158.6 L479.6,159.5 L479.8,160.3 L480.2,161.2 L480.8,162.0 L481.7,162.7 L482.8,163.3 L484.0,163.8 L485.4,164.2 L486.8,164.5 L488.3,164.6 L489.8,164.6 L491.3,164.5 L492.8,164.2 L494.1,163.8 L495.3,163.3 L496.4,162.6 L497.2,161.9 L497.9,161.1 L498.3,160.3 L498.5,159.4 L498.4,158.5 L498.1,157.7 L497.6,156.8 L496.8,156.1Z" fill="#2b2b2b" stroke="#dcdcdc" stroke-width="1.40"/></g><path d="M498.2,153.1 L497.0,152.3 L495.7,151.6 L494.1,151.1 L492.5,150.7 L490.8,150.4 L489.0,150.3 L487.2,150.4 L485.4,150.7 L483.8,151.1 L482.3,151.7 L481.0,152.4 L479.8,153.2 L478.9,154.1 L478.3,155.0 L478.0,156.0 L477.9,157.1 L478.1,158.1 L478.6,159.1 L479.4,160.0 L480.4,160.9 L481.7,161.6 L483.1,162.2 L484.7,162.7 L486.4,163.0 L488.2,163.2 L490.0,163.1 L491.7,163.0 L493.4,162.6 L495.0,162.2 L496.4,161.5 L497.7,160.8 L498.7,159.9 L499.4,159.0 L499.9,158.0 L500.1,157.0 L500.1,155.9 L499.7,154.9 L499.1,154.0 L498.2,153.1Z" fill="none" stroke="#d8d8d8" stroke-width="1.4"/>
<clipPath id="c49"><path d="M520.3,144.1 L519.2,143.4 L517.8,142.7 L516.3,142.1 L514.6,141.7 L512.9,141.5 L511.1,141.4 L509.3,141.5 L507.6,141.8 L505.9,142.2 L504.4,142.7 L503.1,143.4 L502.0,144.2 L501.1,145.1 L500.5,146.1 L500.1,147.1 L500.0,148.1 L500.3,149.2 L500.8,150.2 L501.5,151.1 L502.6,151.9 L503.8,152.7 L505.3,153.3 L506.8,153.7 L508.5,154.1 L510.3,154.2 L512.1,154.2 L513.9,154.0 L515.6,153.7 L517.2,153.2 L518.6,152.6 L519.8,151.8 L520.8,151.0 L521.6,150.1 L522.1,149.1 L522.3,148.0 L522.2,147.0 L521.8,146.0 L521.2,145.0 L520.3,144.1Z"/></clipPath><path d="M520.3,144.1 L519.2,143.4 L517.8,142.7 L516.3,142.1 L514.6,141.7 L512.9,141.5 L511.1,141.4 L509.3,141.5 L507.6,141.8 L505.9,142.2 L504.4,142.7 L503.1,143.4 L502.0,144.2 L501.1,145.1 L500.5,146.1 L500.1,147.1 L500.0,148.1 L500.3,149.2 L500.8,150.2 L501.5,151.1 L502.6,151.9 L503.8,152.7 L505.3,153.3 L506.8,153.7 L508.5,154.1 L510.3,154.2 L512.1,154.2 L513.9,154.0 L515.6,153.7 L517.2,153.2 L518.6,152.6 L519.8,151.8 L520.8,151.0 L521.6,150.1 L522.1,149.1 L522.3,148.0 L522.2,147.0 L521.8,146.0 L521.2,145.0 L520.3,144.1Z" fill="#333"/><g clip-path="url(#c49)"><path d="M518.9,147.1 L518.0,146.5 L516.8,145.9 L515.5,145.4 L514.1,145.1 L512.6,144.9 L511.1,144.8 L509.6,144.9 L508.1,145.1 L506.7,145.5 L505.4,145.9 L504.3,146.5 L503.3,147.2 L502.6,148.0 L502.1,148.8 L501.8,149.7 L501.7,150.5 L501.9,151.4 L502.3,152.3 L503.0,153.0 L503.9,153.8 L504.9,154.4 L506.1,154.9 L507.5,155.3 L508.9,155.6 L510.4,155.7 L512.0,155.7 L513.5,155.6 L514.9,155.3 L516.3,154.9 L517.5,154.3 L518.5,153.7 L519.4,153.0 L520.0,152.2 L520.4,151.3 L520.6,150.5 L520.5,149.6 L520.2,148.7 L519.7,147.9 L518.9,147.1Z" fill="#2b2b2b" stroke="#dcdcdc" stroke-width="1.40"/></g><path d="M520.3,144.1 L519.2,143.4 L517.8,142.7 L516.3,142.1 L514.6,141.7 L512.9,141.5 L511.1,141.4 L509.3,141.5 L507.6,141.8 L505.9,142.2 L504.4,142.7 L503.1,143.4 L502.0,144.2 L501.1,145.1 L500.5,146.1 L500.1,147.1 L500.0,148.1 L500.3,149.2 L500.8,150.2 L501.5,151.1 L502.6,151.9 L503.8,152.7 L505.3,153.3 L506.8,153.7 L508.5,154.1 L510.3,154.2 L512.1,154.2 L513.9,154.0 L515.6,153.7 L517.2,153.2 L518.6,152.6 L519.8,151.8 L520.8,151.0 L521.6,150.1 L522.1,149.1 L522.3,148.0 L522.2,147.0 L521.8,146.0 L521.2,145.0 L520.3,144.1Z" fill="none" stroke="#d8d8d8" stroke-width="1.4"/>
<clipPath id="c50"><path d="M542.4,135.2 L541.3,134.4 L539.9,133.7 L538.4,133.2 L536.8,132.8 L535.0,132.6 L533.2,132.5 L531.5,132.6 L529.7,132.8 L528.1,133.2 L526.6,133.8 L525.2,134.5 L524.1,135.3 L523.2,136.2 L522.6,137.2 L522.2,138.2 L522.2,139.2 L522.4,140.2 L522.9,141.2 L523.7,142.1 L524.7,143.0 L526.0,143.7 L527.4,144.3 L529.0,144.8 L530.7,145.1 L532.5,145.3 L534.2,145.3 L536.0,145.1 L537.7,144.8 L539.3,144.3 L540.7,143.7 L542.0,142.9 L543.0,142.1 L543.7,141.1 L544.2,140.1 L544.4,139.1 L544.3,138.1 L544.0,137.1 L543.3,136.1 L542.4,135.2Z"/></clipPath><path d="M542.4,135.2 L541.3,134.4 L539.9,133.7 L538.4,133.2 L536.8,132.8 L535.0,132.6 L533.2,132.5 L531.5,132.6 L529.7,132.8 L528.1,133.2 L526.6,133.8 L525.2,134.5 L524.1,135.3 L523.2,136.2 L522.6,137.2 L522.2,138.2 L522.2,139.2 L522.4,140.2 L522.9,141.2 L523.7,142.1 L524.7,143.0 L526.0,143.7 L527.4,144.3 L529.0,144.8 L530.7,145.1 L532.5,145.3 L534.2,145.3 L536.0,145.1 L537.7,144.8 L539.3,144.3 L540.7,143.7 L542.0,142.9 L543.0,142.1 L543.7,141.1 L544.2,140.1 L544.4,139.1 L544.3,138.1 L544.0,137.1 L543.3,136.1 L542.4,135.2Z" fill="#333"/><g clip-path="url(#c50)"><path d="M541.1,138.2 L540.1,137.5 L538.9,137.0 L537.7,136.5 L536.3,136.2 L534.8,136.0 L533.3,135.9 L531.7,136.0 L530.3,136.2 L528.9,136.5 L527.6,137.0 L526.4,137.6 L525.5,138.3 L524.7,139.1 L524.2,139.9 L523.9,140.7 L523.8,141.6 L524.0,142.5 L524.5,143.3 L525.1,144.1 L526.0,144.8 L527.1,145.5 L528.3,146.0 L529.6,146.4 L531.1,146.6 L532.6,146.8 L534.1,146.8 L535.6,146.6 L537.1,146.3 L538.4,145.9 L539.6,145.4 L540.7,144.8 L541.5,144.0 L542.2,143.2 L542.6,142.4 L542.8,141.5 L542.7,140.6 L542.4,139.8 L541.8,139.0 L541.1,138.2Z" fill="#2b2b2b" stroke="#dcdcdc" stroke-width="1.40"/></g><path d="M542.4,135.2 L541.3,134.4 L539.9,133.7 L538.4,133.2 L536.8,132.8 L535.0,132.6 L533.2,132.5 L531.5,132.6 L529.7,132.8 L528.1,133.2 L526.6,133.8 L525.2,134.5 L524.1,135.3 L523.2,136.2 L522.6,137.2 L522.2,138.2 L522.2,139.2 L522.4,140.2 L522.9,141.2 L523.7,142.1 L524.7,143.0 L526.0,143.7 L527.4,144.3 L529.0,144.8 L530.7,145.1 L532.5,145.3 L534.2,145.3 L536.0,145.1 L537.7,144.8 L539.3,144.3 L540.7,143.7 L542.0,142.9 L543.0,142.1 L543.7,141.1 L544.2,140.1 L544.4,139.1 L544.3,138.1 L544.0,137.1 L543.3,136.1 L542.4,135.2Z" fill="none" stroke="#d8d8d8" stroke-width="1.4"/>
<clipPath id="c51"><path d="M564.6,126.3 L563.4,125.5 L562.1,124.8 L560.6,124.3 L558.9,123.9 L557.2,123.6 L555.4,123.6 L553.6,123.7 L551.9,123.9 L550.2,124.3 L548.7,124.9 L547.4,125.6 L546.2,126.4 L545.4,127.3 L544.7,128.2 L544.4,129.2 L544.3,130.3 L544.5,131.3 L545.0,132.3 L545.8,133.2 L546.8,134.1 L548.1,134.8 L549.5,135.4 L551.1,135.9 L552.8,136.2 L554.6,136.4 L556.4,136.4 L558.2,136.2 L559.9,135.8 L561.4,135.4 L562.9,134.7 L564.1,134.0 L565.1,133.1 L565.9,132.2 L566.4,131.2 L566.6,130.2 L566.5,129.1 L566.1,128.1 L565.5,127.2 L564.6,126.3Z"/></clipPath><path d="M564.6,126.3 L563.4,125.5 L562.1,124.8 L560.6,124.3 L558.9,123.9 L557.2,123.6 L555.4,123.6 L553.6,123.7 L551.9,123.9 L550.2,124.3 L548.7,124.9 L547.4,125.6 L546.2,126.4 L545.4,127.3 L544.7,128.2 L544.4,129.2 L544.3,130.3 L544.5,131.3 L545.0,132.3 L545.8,133.2 L546.8,134.1 L548.1,134.8 L549.5,135.4 L551.1,135.9 L552.8,136.2 L554.6,136.4 L556.4,136.4 L558.2,136.2 L559.9,135.8 L561.4,135.4 L562.9,134.7 L564.1,134.0 L565.1,133.1 L565.9,132.2 L566.4,131.2 L566.6,130.2 L566.5,129.1 L566.1,128.1 L565.5,127.2 L564.6,126.3Z" fill="#333"/><g clip-path="url(#c51)"><path d="M563.2,129.3 L562.2,128.6 L561.1,128.0 L559.8,127.6 L558.4,127.2 L556.9,127.0 L555.4,127.0 L553.9,127.0 L552.4,127.3 L551.0,127.6 L549.7,128.1 L548.6,128.7 L547.6,129.4 L546.9,130.1 L546.3,130.9 L546.0,131.8 L546.0,132.7 L546.2,133.6 L546.6,134.4 L547.3,135.2 L548.1,135.9 L549.2,136.5 L550.4,137.0 L551.8,137.4 L553.2,137.7 L554.7,137.9 L556.2,137.8 L557.7,137.7 L559.2,137.4 L560.5,137.0 L561.7,136.5 L562.8,135.8 L563.7,135.1 L564.3,134.3 L564.7,133.5 L564.9,132.6 L564.8,131.7 L564.5,130.9 L564.0,130.0 L563.2,129.3Z" fill="#2b2b2b" stroke="#dcdcdc" stroke-width="1.40"/></g><path d="M564.6,126.3 L563.4,125.5 L562.1,124.8 L560.6,124.3 L558.9,123.9 L557.2,123.6 L555.4,123.6 L553.6,123.7 L551.9,123.9 L550.2,124.3 L548.7,124.9 L547.4,125.6 L546.2,126.4 L545.4,127.3 L544.7,128.2 L544.4,129.2 L544.3,130.3 L544.5,131.3 L545.0,132.3 L545.8,133.2 L546.8,134.1 L548.1,134.8 L549.5,135.4 L551.1,135.9 L552.8,136.2 L554.6,136.4 L556.4,136.4 L558.2,136.2 L559.9,135.8 L561.4,135.4 L562.9,134.7 L564.1,134.0 L565.1,133.1 L565.9,132.2 L566.4,131.2 L566.6,130.2 L566.5,129.1 L566.1,128.1 L565.5,127.2 L564.6,126.3Z" fill="none" stroke="#d8d8d8" stroke-width="1.4"/>
<clipPath id="c52"><path d="M586.7,117.4 L585.6,116.6 L584.2,115.9 L582.7,115.3 L581.1,114.9 L579.3,114.7 L577.5,114.6 L575.7,114.7 L574.0,115.0 L572.4,115.4 L570.8,115.9 L569.5,116.6 L568.4,117.4 L567.5,118.3 L566.9,119.3 L566.5,120.3 L566.5,121.3 L566.7,122.4 L567.2,123.4 L568.0,124.3 L569.0,125.1 L570.2,125.9 L571.7,126.5 L573.3,127.0 L575.0,127.3 L576.7,127.4 L578.5,127.4 L580.3,127.3 L582.0,126.9 L583.6,126.4 L585.0,125.8 L586.2,125.1 L587.2,124.2 L588.0,123.3 L588.5,122.3 L588.7,121.2 L588.6,120.2 L588.3,119.2 L587.6,118.2 L586.7,117.4Z"/></clipPath><path d="M586.7,117.4 L585.6,116.6 L584.2,115.9 L582.7,115.3 L581.1,114.9 L579.3,114.7 L577.5,114.6 L575.7,114.7 L574.0,115.0 L572.4,115.4 L570.8,115.9 L569.5,116.6 L568.4,117.4 L567.5,118.3 L566.9,119.3 L566.5,120.3 L566.5,121.3 L566.7,122.4 L567.2,123.4 L568.0,124.3 L569.0,125.1 L570.2,125.9 L571.7,126.5 L573.3,127.0 L575.0,127.3 L576.7,127.4 L578.5,127.4 L580.3,127.3 L582.0,126.9 L583.6,126.4 L585.0,125.8 L586.2,125.1 L587.2,124.2 L588.0,123.3 L588.5,122.3 L588.7,121.2 L588.6,120.2 L588.3,119.2 L587.6,118.2 L586.7,117.4Z" fill="#333"/><g clip-path="url(#c52)"><path d="M585.3,120.4 L584.4,119.7 L583.2,119.1 L581.9,118.6 L580.5,118.3 L579.1,118.1 L577.5,118.0 L576.0,118.1 L574.5,118.3 L573.1,118.7 L571.9,119.2 L570.7,119.7 L569.8,120.4 L569.0,121.2 L568.5,122.0 L568.2,122.9 L568.1,123.8 L568.3,124.6 L568.7,125.5 L569.4,126.3 L570.3,127.0 L571.3,127.6 L572.6,128.1 L573.9,128.5 L575.4,128.8 L576.9,128.9 L578.4,128.9 L579.9,128.8 L581.3,128.5 L582.7,128.1 L583.9,127.5 L584.9,126.9 L585.8,126.2 L586.4,125.4 L586.9,124.5 L587.0,123.7 L587.0,122.8 L586.7,121.9 L586.1,121.1 L585.3,120.4Z" fill="#2b2b2b" stroke="#dcdcdc" stroke-width="1.40"/></g><path d="M586.7,117.4 L585.6,116.6 L584.2,115.9 L582.7,115.3 L581.1,114.9 L579.3,114.7 L577.5,114.6 L575.7,114.7 L574.0,115.0 L572.4,115.4 L570.8,115.9 L569.5,116.6 L568.4,117.4 L567.5,118.3 L566.9,119.3 L566.5,120.3 L566.5,121.3 L566.7,122.4 L567.2,123.4 L568.0,124.3 L569.0,125.1 L570.2,125.9 L571.7,126.5 L573.3,127.0 L575.0,127.3 L576.7,127.4 L578.5,127.4 L580.3,127.3 L582.0,126.9 L583.6,126.4 L585.0,125.8 L586.2,125.1 L587.2,124.2 L588.0,123.3 L588.5,122.3 L588.7,121.2 L588.6,120.2 L588.3,119.2 L587.6,118.2 L586.7,117.4Z" fill="none" stroke="#d8d8d8" stroke-width="1.4"/>
<clipPath id="c53"><path d="M608.9,108.4 L607.7,107.6 L606.4,107.0 L604.8,106.4 L603.2,106.0 L601.5,105.8 L599.7,105.7 L597.9,105.8 L596.1,106.0 L594.5,106.5 L593.0,107.0 L591.7,107.7 L590.5,108.5 L589.6,109.4 L589.0,110.4 L588.7,111.4 L588.6,112.4 L588.8,113.4 L589.3,114.4 L590.1,115.4 L591.1,116.2 L592.4,116.9 L593.8,117.6 L595.4,118.0 L597.1,118.3 L598.9,118.5 L600.7,118.5 L602.4,118.3 L604.1,118.0 L605.7,117.5 L607.1,116.9 L608.4,116.1 L609.4,115.3 L610.1,114.3 L610.6,113.3 L610.8,112.3 L610.8,111.3 L610.4,110.3 L609.8,109.3 L608.9,108.4Z"/></clipPath><path d="M608.9,108.4 L607.7,107.6 L606.4,107.0 L604.8,106.4 L603.2,106.0 L601.5,105.8 L599.7,105.7 L597.9,105.8 L596.1,106.0 L594.5,106.5 L593.0,107.0 L591.7,107.7 L590.5,108.5 L589.6,109.4 L589.0,110.4 L588.7,111.4 L588.6,112.4 L588.8,113.4 L589.3,114.4 L590.1,115.4 L591.1,116.2 L592.4,116.9 L593.8,117.6 L595.4,118.0 L597.1,118.3 L598.9,118.5 L600.7,118.5 L602.4,118.3 L604.1,118.0 L605.7,117.5 L607.1,116.9 L608.4,116.1 L609.4,115.3 L610.1,114.3 L610.6,113.3 L610.8,112.3 L610.8,111.3 L610.4,110.3 L609.8,109.3 L608.9,108.4Z" fill="#333"/><g clip-path="url(#c53)"><path d="M607.5,111.4 L606.5,110.8 L605.4,110.2 L604.1,109.7 L602.7,109.4 L601.2,109.2 L599.7,109.1 L598.2,109.2 L596.7,109.4 L595.3,109.8 L594.0,110.2 L592.9,110.8 L591.9,111.5 L591.2,112.3 L590.6,113.1 L590.3,113.9 L590.3,114.8 L590.5,115.7 L590.9,116.5 L591.5,117.3 L592.4,118.0 L593.5,118.7 L594.7,119.2 L596.1,119.6 L597.5,119.9 L599.0,120.0 L600.5,120.0 L602.0,119.8 L603.5,119.6 L604.8,119.1 L606.0,118.6 L607.1,118.0 L607.9,117.2 L608.6,116.4 L609.0,115.6 L609.2,114.7 L609.1,113.9 L608.8,113.0 L608.3,112.2 L607.5,111.4Z" fill="#2b2b2b" stroke="#dcdcdc" stroke-width="1.40"/></g><path d="M608.9,108.4 L607.7,107.6 L606.4,107.0 L604.8,106.4 L603.2,106.0 L601.5,105.8 L599.7,105.7 L597.9,105.8 L596.1,106.0 L594.5,106.5 L593.0,107.0 L591.7,107.7 L590.5,108.5 L589.6,109.4 L589.0,110.4 L588.7,111.4 L588.6,112.4 L588.8,113.4 L589.3,114.4 L590.1,115.4 L591.1,116.2 L592.4,116.9 L593.8,117.6 L595.4,118.0 L597.1,118.3 L598.9,118.5 L600.7,118.5 L602.4,118.3 L604.1,118.0 L605.7,117.5 L607.1,116.9 L608.4,116.1 L609.4,115.3 L610.1,114.3 L610.6,113.3 L610.8,112.3 L610.8,111.3 L610.4,110.3 L609.8,109.3 L608.9,108.4Z" fill="none" stroke="#d8d8d8" stroke-width="1.4"/>
<clipPath id="c54"><path d="M631.0,99.5 L629.9,98.7 L628.5,98.0 L627.0,97.5 L625.3,97.1 L623.6,96.8 L621.8,96.8 L620.0,96.9 L618.3,97.1 L616.6,97.5 L615.1,98.1 L613.8,98.8 L612.7,99.6 L611.8,100.5 L611.2,101.4 L610.8,102.5 L610.7,103.5 L611.0,104.5 L611.5,105.5 L612.2,106.4 L613.3,107.3 L614.5,108.0 L616.0,108.6 L617.5,109.1 L619.2,109.4 L621.0,109.6 L622.8,109.6 L624.6,109.4 L626.3,109.1 L627.9,108.6 L629.3,107.9 L630.5,107.2 L631.5,106.3 L632.3,105.4 L632.8,104.4 L633.0,103.4 L632.9,102.4 L632.5,101.3 L631.9,100.4 L631.0,99.5Z"/></clipPath><path d="M631.0,99.5 L629.9,98.7 L628.5,98.0 L627.0,97.5 L625.3,97.1 L623.6,96.8 L621.8,96.8 L620.0,96.9 L618.3,97.1 L616.6,97.5 L615.1,98.1 L613.8,98.8 L612.7,99.6 L611.8,100.5 L611.2,101.4 L610.8,102.5 L610.7,103.5 L611.0,104.5 L611.5,105.5 L612.2,106.4 L613.3,107.3 L614.5,108.0 L616.0,108.6 L617.5,109.1 L619.2,109.4 L621.0,109.6 L622.8,109.6 L624.6,109.4 L626.3,109.1 L627.9,108.6 L629.3,107.9 L630.5,107.2 L631.5,106.3 L632.3,105.4 L632.8,104.4 L633.0,103.4 L632.9,102.4 L632.5,101.3 L631.9,100.4 L631.0,99.5Z" fill="#333"/><g clip-path="url(#c54)"><path d="M629.6,102.5 L628.7,101.8 L627.5,101.2 L626.2,100.8 L624.8,100.4 L623.3,100.2 L621.8,100.2 L620.3,100.3 L618.8,100.5 L617.4,100.8 L616.1,101.3 L615.0,101.9 L614.0,102.6 L613.3,103.3 L612.8,104.2 L612.5,105.0 L612.4,105.9 L612.6,106.8 L613.0,107.6 L613.7,108.4 L614.6,109.1 L615.6,109.7 L616.8,110.3 L618.2,110.7 L619.6,110.9 L621.1,111.1 L622.7,111.1 L624.2,110.9 L625.6,110.6 L627.0,110.2 L628.2,109.7 L629.2,109.0 L630.1,108.3 L630.7,107.5 L631.1,106.7 L631.3,105.8 L631.2,104.9 L630.9,104.1 L630.4,103.3 L629.6,102.5Z" fill="#2b2b2b" stroke="#dcdcdc" stroke-width="1.40"/></g><path d="M631.0,99.5 L629.9,98.7 L628.5,98.0 L627.0,97.5 L625.3,97.1 L623.6,96.8 L621.8,96.8 L620.0,96.9 L618.3,97.1 L616.6,97.5 L615.1,98.1 L613.8,98.8 L612.7,99.6 L611.8,100.5 L611.2,101.4 L610.8,102.5 L610.7,103.5 L611.0,104.5 L611.5,105.5 L612.2,106.4 L613.3,107.3 L614.5,108.0 L616.0,108.6 L617.5,109.1 L619.2,109.4 L621.0,109.6 L622.8,109.6 L624.6,109.4 L626.3,109.1 L627.9,108.6 L629.3,107.9 L630.5,107.2 L631.5,106.3 L632.3,105.4 L632.8,104.4 L633.0,103.4 L632.9,102.4 L632.5,101.3 L631.9,100.4 L631.0,99.5Z" fill="none" stroke="#d8d8d8" stroke-width="1.4"/>
<ellipse cx="378.3" cy="202.4" rx="9" ry="5.2" fill="#1c4fae" stroke="#8fb0e0" stroke-width="1.2"/>
<ellipse cx="444.7" cy="175.6" rx="9" ry="5.2" fill="#1c4fae" stroke="#8fb0e0" stroke-width="1.2"/>
<ellipse cx="466.9" cy="166.7" rx="9" ry="5.2" fill="#1c4fae" stroke="#8fb0e0" stroke-width="1.2"/>
<ellipse cx="489.0" cy="157.8" rx="9" ry="5.2" fill="#1c4fae" stroke="#8fb0e0" stroke-width="1.2"/>
<ellipse cx="533.3" cy="139.9" rx="9" ry="5.2" fill="#1c4fae" stroke="#8fb0e0" stroke-width="1.2"/>
<ellipse cx="474.9" cy="145.5" rx="12" ry="8" fill="#444"/>
<ellipse cx="474.9" cy="144.5" rx="9.5" ry="6" fill="#2b2b2b" stroke="#e0e0e0" stroke-width="2.5"/>
<path d="M1421.5,1908.0 L1799.5,1908.0 A42,42 0 0 1 1799.5,1992.0 L1421.5,1992.0 A42,42 0 0 1 1421.5,1908.0 Z" fill="#3c3c3c"/>
<circle cx="1421.5" cy="1950" r="37.2" fill="none" stroke="#c9c9c9" stroke-width="2.2"/>
<circle cx="1421.5" cy="1950" r="33.9" fill="none" stroke="#c9c9c9" stroke-width="2"/>
<circle cx="1421.5" cy="1950" r="31.2" fill="url(#holeg)"/>
<circle cx="1516.0" cy="1950" r="37.2" fill="none" stroke="#c9c9c9" stroke-width="2.2"/>
<circle cx="1516.0" cy="1950" r="33.9" fill="none" stroke="#c9c9c9" stroke-width="2"/>
<circle cx="1516.0" cy="1950" r="31.2" fill="url(#holeg)"/>
<circle cx="1610.5" cy="1950" r="37.2" fill="none" stroke="#c9c9c9" stroke-width="2.2"/>
<circle cx="1610.5" cy="1950" r="33.9" fill="none" stroke="#c9c9c9" stroke-width="2"/>
<circle cx="1610.5" cy="1950" r="31.2" fill="url(#holeg)"/>
<circle cx="1705.0" cy="1950" r="37.2" fill="none" stroke="#c9c9c9" stroke-width="2.2"/>
<circle cx="1705.0" cy="1950" r="33.9" fill="none" stroke="#c9c9c9" stroke-width="2"/>
<circle cx="1705.0" cy="1950" r="31.2" fill="url(#holeg)"/>
<circle cx="1799.5" cy="1950" r="37.2" fill="none" stroke="#c9c9c9" stroke-width="2.2"/>
<circle cx="1799.5" cy="1950" r="33.9" fill="none" stroke="#c9c9c9" stroke-width="2"/>
<circle cx="1799.5" cy="1950" r="31.2" fill="url(#holeg)"/>
<path d="M1421.5,2034.5 L2744.5,2034.5 A42,42 0 0 1 2744.5,2118.5 L1421.5,2118.5 A42,42 0 0 1 1421.5,2034.5 Z" fill="#3c3c3c"/>
<circle cx="1421.5" cy="2076.5" r="37.2" fill="none" stroke="#c9c9c9" stroke-width="2.2"/>
<circle cx="1421.5" cy="2076.5" r="33.9" fill="none" stroke="#c9c9c9" stroke-width="2"/>
<circle cx="1421.5" cy="2076.5" r="31.2" fill="url(#holeg)"/>
<circle cx="1516.0" cy="2076.5" r="37.2" fill="none" stroke="#c9c9c9" stroke-width="2.2"/>
<circle cx="1516.0" cy="2076.5" r="33.9" fill="none" stroke="#c9c9c9" stroke-width="2"/>
<circle cx="1516.0" cy="2076.5" r="31.2" fill="url(#holeg)"/>
<circle cx="1610.5" cy="2076.5" r="37.2" fill="none" stroke="#c9c9c9" stroke-width="2.2"/>
<circle cx="1610.5" cy="2076.5" r="33.9" fill="none" stroke="#c9c9c9" stroke-width="2"/>
<circle cx="1610.5" cy="2076.5" r="31.2" fill="url(#holeg)"/>
<circle cx="1705.0" cy="2076.5" r="37.2" fill="none" stroke="#c9c9c9" stroke-width="2.2"/>
<circle cx="1705.0" cy="2076.5" r="33.9" fill="none" stroke="#c9c9c9" stroke-width="2"/>
<circle cx="1705.0" cy="2076.5" r="31.2" fill="url(#holeg)"/>
<circle cx="1799.5" cy="2076.5" r="37.2" fill="none" stroke="#c9c9c9" stroke-width="2.2"/>
<circle cx="1799.5" cy="2076.5" r="33.9" fill="none" stroke="#c9c9c9" stroke-width="2"/>
<circle cx="1799.5" cy="2076.5" r="31.2" fill="url(#holeg)"/>
<circle cx="1894.0" cy="2076.5" r="37.2" fill="none" stroke="#c9c9c9" stroke-width="2.2"/>
<circle cx="1894.0" cy="2076.5" r="33.9" fill="none" stroke="#c9c9c9" stroke-width="2"/>
<circle cx="1894.0" cy="2076.5" r="31.2" fill="url(#holeg)"/>
<circle cx="1988.5" cy="2076.5" r="37.2" fill="none" stroke="#c9c9c9" stroke-width="2.2"/>
<circle cx="1988.5" cy="2076.5" r="33.9" fill="none" stroke="#c9c9c9" stroke-width="2"/>
<circle cx="1988.5" cy="2076.5" r="31.2" fill="url(#holeg)"/>
<circle cx="2083.0" cy="2076.5" r="37.2" fill="none" stroke="#c9c9c9" stroke-width="2.2"/>
<circle cx="2083.0" cy="2076.5" r="33.9" fill="none" stroke="#c9c9c9" stroke-width="2"/>
<circle cx="2083.0" cy="2076.5" r="31.2" fill="url(#holeg)"/>
<circle cx="2177.5" cy="2076.5" r="37.2" fill="none" stroke="#c9c9c9" stroke-width="2.2"/>
<circle cx="2177.5" cy="2076.5" r="33.9" fill="none" stroke="#c9c9c9" stroke-width="2"/>
<circle cx="2177.5" cy="2076.5" r="31.2" fill="url(#holeg)"/>
<circle cx="2272.0" cy="2076.5" r="37.2" fill="none" stroke="#c9c9c9" stroke-width="2.2"/>
<circle cx="2272.0" cy="2076.5" r="33.9" fill="none" stroke="#c9c9c9" stroke-width="2"/>
<circle cx="2272.0" cy="2076.5" r="31.2" fill="url(#holeg)"/>
<circle cx="2366.5" cy="2076.5" r="37.2" fill="none" stroke="#c9c9c9" stroke-width="2.2"/>
<circle cx="2366.5" cy="2076.5" r="33.9" fill="none" stroke="#c9c9c9" stroke-width="2"/>
<circle cx="2366.5" cy="2076.5" r="31.2" fill="url(#holeg)"/>
<circle cx="2461.0" cy="2076.5" r="37.2" fill="none" stroke="#c9c9c9" stroke-width="2.2"/>
<circle cx="2461.0" cy="2076.5" r="33.9" fill="none" stroke="#c9c9c9" stroke-width="2"/>
<circle cx="2461.0" cy="2076.5" r="31.2" fill="url(#holeg)"/>
<circle cx="2555.5" cy="2076.5" r="37.2" fill="none" stroke="#c9c9c9" stroke-width="2.2"/>
<circle cx="2555.5" cy="2076.5" r="33.9" fill="none" stroke="#c9c9c9" stroke-width="2"/>
<circle cx="2555.5" cy="2076.5" r="31.2" fill="url(#holeg)"/>
<circle cx="2650.0" cy="2076.5" r="37.2" fill="none" stroke="#c9c9c9" stroke-width="2.2"/>
<circle cx="2650.0" cy="2076.5" r="33.9" fill="none" stroke="#c9c9c9" stroke-width="2"/>
<circle cx="2650.0" cy="2076.5" r="31.2" fill="url(#holeg)"/>
<circle cx="2744.5" cy="2076.5" r="37.2" fill="none" stroke="#c9c9c9" stroke-width="2.2"/>
<circle cx="2744.5" cy="2076.5" r="33.9" fill="none" stroke="#c9c9c9" stroke-width="2"/>
<circle cx="2744.5" cy="2076.5" r="31.2" fill="url(#holeg)"/>
<path d="M1996.6,913.3 L1997.0,910.9 L1998.0,908.5 L1999.5,906.3 L2001.6,904.2 L2004.0,902.2 L2006.9,900.5 L2010.2,899.0 L2781.6,589.0 L2785.2,587.8 L2789.0,586.9 L2793.0,586.2 L2797.1,585.8 L2801.3,585.8 L2805.5,586.0 L2809.5,586.6 L2813.4,587.5 L2817.1,588.6 L2820.4,590.1 L2823.5,591.7 L2826.1,593.6 L2828.2,595.7 L2829.9,597.9 L2831.1,600.2 L2831.7,602.6 L2831.8,605.0 L2831.8,662.2 L2831.4,664.6 L2830.4,667.0 L2828.8,669.2 L2826.8,671.3 L2824.4,673.3 L2821.5,675.0 L2818.2,676.5 L2046.8,986.5 L2043.2,987.7 L2039.4,988.7 L2035.4,989.3 L2031.3,989.7 L2027.1,989.7 L2022.9,989.5 L2018.9,988.9 L2015.0,988.0 L2011.3,986.9 L2008.0,985.4 L2004.9,983.8 L2002.3,981.9 L2000.2,979.8 L1998.5,977.6 L1997.3,975.3 L1996.7,972.9 L1996.6,970.5Z" fill="#2b2b2b"/>
<path d="M1996.7,915.7 L1997.3,918.0 L1998.5,920.4 L2000.2,922.6 L2002.3,924.6 L2004.9,926.5 L2008.0,928.2 L2011.3,929.6 L2015.0,930.8 L2018.9,931.6 L2022.9,932.2 L2027.1,932.5 L2031.3,932.4 L2035.4,932.1 L2039.4,931.4 L2043.2,930.4 L2046.8,929.2 L2818.2,619.2 L2821.5,617.7 L2824.4,616.0 L2826.8,614.1 L2828.8,611.9 L2830.4,609.7 L2831.4,607.4 L2831.8,605.0" fill="none" stroke="#e6e6e6" stroke-width="2.5" stroke-linejoin="round"/>
<clipPath id="c55"><path d="M2271.6,816.4 L2268.8,814.4 L2265.4,812.7 L2261.6,811.4 L2257.5,810.4 L2253.2,809.8 L2248.7,809.6 L2244.3,809.8 L2239.9,810.4 L2235.8,811.4 L2232.1,812.8 L2228.8,814.5 L2226.0,816.5 L2223.8,818.8 L2222.2,821.2 L2221.3,823.7 L2221.2,826.3 L2221.8,828.8 L2223.0,831.3 L2225.0,833.6 L2227.5,835.7 L2230.6,837.5 L2234.2,839.1 L2238.2,840.3 L2242.4,841.1 L2246.8,841.5 L2251.3,841.5 L2255.7,841.0 L2259.9,840.2 L2263.9,839.0 L2267.4,837.4 L2270.5,835.6 L2273.0,833.5 L2274.9,831.1 L2276.1,828.7 L2276.6,826.1 L2276.4,823.5 L2275.5,821.0 L2273.9,818.6 L2271.6,816.4Z"/></clipPath><path d="M2271.6,816.4 L2268.8,814.4 L2265.4,812.7 L2261.6,811.4 L2257.5,810.4 L2253.2,809.8 L2248.7,809.6 L2244.3,809.8 L2239.9,810.4 L2235.8,811.4 L2232.1,812.8 L2228.8,814.5 L2226.0,816.5 L2223.8,818.8 L2222.2,821.2 L2221.3,823.7 L2221.2,826.3 L2221.8,828.8 L2223.0,831.3 L2225.0,833.6 L2227.5,835.7 L2230.6,837.5 L2234.2,839.1 L2238.2,840.3 L2242.4,841.1 L2246.8,841.5 L2251.3,841.5 L2255.7,841.0 L2259.9,840.2 L2263.9,839.0 L2267.4,837.4 L2270.5,835.6 L2273.0,833.5 L2274.9,831.1 L2276.1,828.7 L2276.6,826.1 L2276.4,823.5 L2275.5,821.0 L2273.9,818.6 L2271.6,816.4Z" fill="#333"/><g clip-path="url(#c55)"><path d="M2268.2,824.0 L2265.8,822.3 L2262.9,820.9 L2259.7,819.7 L2256.2,818.9 L2252.5,818.3 L2248.7,818.2 L2245.0,818.4 L2241.3,818.9 L2237.8,819.8 L2234.6,820.9 L2231.8,822.4 L2229.4,824.1 L2227.5,826.0 L2226.2,828.0 L2225.5,830.2 L2225.3,832.4 L2225.8,834.5 L2226.9,836.6 L2228.6,838.6 L2230.7,840.4 L2233.4,842.0 L2236.4,843.3 L2239.8,844.3 L2243.4,844.9 L2247.2,845.3 L2250.9,845.3 L2254.7,844.9 L2258.3,844.2 L2261.6,843.2 L2264.7,841.9 L2267.3,840.3 L2269.4,838.5 L2271.0,836.5 L2272.0,834.4 L2272.5,832.2 L2272.3,830.1 L2271.5,827.9 L2270.1,825.9 L2268.2,824.0Z" fill="#2b2b2b" stroke="#dcdcdc" stroke-width="2.60"/></g><path d="M2271.6,816.4 L2268.8,814.4 L2265.4,812.7 L2261.6,811.4 L2257.5,810.4 L2253.2,809.8 L2248.7,809.6 L2244.3,809.8 L2239.9,810.4 L2235.8,811.4 L2232.1,812.8 L2228.8,814.5 L2226.0,816.5 L2223.8,818.8 L2222.2,821.2 L2221.3,823.7 L2221.2,826.3 L2221.8,828.8 L2223.0,831.3 L2225.0,833.6 L2227.5,835.7 L2230.6,837.5 L2234.2,839.1 L2238.2,840.3 L2242.4,841.1 L2246.8,841.5 L2251.3,841.5 L2255.7,841.0 L2259.9,840.2 L2263.9,839.0 L2267.4,837.4 L2270.5,835.6 L2273.0,833.5 L2274.9,831.1 L2276.1,828.7 L2276.6,826.1 L2276.4,823.5 L2275.5,821.0 L2273.9,818.6 L2271.6,816.4Z" fill="none" stroke="#e6e6e6" stroke-width="2.6"/>
<clipPath id="c56"><path d="M2326.7,794.3 L2323.9,792.3 L2320.5,790.6 L2316.7,789.2 L2312.6,788.2 L2308.3,787.6 L2303.8,787.4 L2299.4,787.6 L2295.0,788.3 L2290.9,789.3 L2287.2,790.7 L2283.9,792.4 L2281.1,794.4 L2278.9,796.6 L2277.3,799.0 L2276.4,801.5 L2276.3,804.1 L2276.9,806.7 L2278.1,809.1 L2280.1,811.4 L2282.6,813.6 L2285.7,815.4 L2289.3,816.9 L2293.3,818.1 L2297.5,818.9 L2301.9,819.3 L2306.4,819.3 L2310.8,818.9 L2315.0,818.1 L2319.0,816.9 L2322.5,815.3 L2325.6,813.4 L2328.1,811.3 L2330.0,809.0 L2331.2,806.5 L2331.7,804.0 L2331.5,801.4 L2330.6,798.9 L2329.0,796.5 L2326.7,794.3Z"/></clipPath><path d="M2326.7,794.3 L2323.9,792.3 L2320.5,790.6 L2316.7,789.2 L2312.6,788.2 L2308.3,787.6 L2303.8,787.4 L2299.4,787.6 L2295.0,788.3 L2290.9,789.3 L2287.2,790.7 L2283.9,792.4 L2281.1,794.4 L2278.9,796.6 L2277.3,799.0 L2276.4,801.5 L2276.3,804.1 L2276.9,806.7 L2278.1,809.1 L2280.1,811.4 L2282.6,813.6 L2285.7,815.4 L2289.3,816.9 L2293.3,818.1 L2297.5,818.9 L2301.9,819.3 L2306.4,819.3 L2310.8,818.9 L2315.0,818.1 L2319.0,816.9 L2322.5,815.3 L2325.6,813.4 L2328.1,811.3 L2330.0,809.0 L2331.2,806.5 L2331.7,804.0 L2331.5,801.4 L2330.6,798.9 L2329.0,796.5 L2326.7,794.3Z" fill="#333"/><g clip-path="url(#c56)"><path d="M2323.3,801.8 L2320.9,800.2 L2318.0,798.7 L2314.8,797.6 L2311.3,796.7 L2307.6,796.2 L2303.8,796.0 L2300.1,796.2 L2296.4,796.8 L2292.9,797.6 L2289.7,798.8 L2286.9,800.3 L2284.5,802.0 L2282.6,803.8 L2281.3,805.9 L2280.6,808.0 L2280.4,810.2 L2280.9,812.4 L2282.0,814.5 L2283.7,816.5 L2285.8,818.2 L2288.5,819.8 L2291.5,821.1 L2294.9,822.1 L2298.5,822.8 L2302.3,823.1 L2306.0,823.1 L2309.8,822.8 L2313.4,822.1 L2316.7,821.0 L2319.8,819.7 L2322.4,818.1 L2324.5,816.3 L2326.1,814.4 L2327.1,812.3 L2327.6,810.1 L2327.4,807.9 L2326.6,805.8 L2325.2,803.7 L2323.3,801.8Z" fill="#2b2b2b" stroke="#dcdcdc" stroke-width="2.60"/></g><path d="M2326.7,794.3 L2323.9,792.3 L2320.5,790.6 L2316.7,789.2 L2312.6,788.2 L2308.3,787.6 L2303.8,787.4 L2299.4,787.6 L2295.0,788.3 L2290.9,789.3 L2287.2,790.7 L2283.9,792.4 L2281.1,794.4 L2278.9,796.6 L2277.3,799.0 L2276.4,801.5 L2276.3,804.1 L2276.9,806.7 L2278.1,809.1 L2280.1,811.4 L2282.6,813.6 L2285.7,815.4 L2289.3,816.9 L2293.3,818.1 L2297.5,818.9 L2301.9,819.3 L2306.4,819.3 L2310.8,818.9 L2315.0,818.1 L2319.0,816.9 L2322.5,815.3 L2325.6,813.4 L2328.1,811.3 L2330.0,809.0 L2331.2,806.5 L2331.7,804.0 L2331.5,801.4 L2330.6,798.9 L2329.0,796.5 L2326.7,794.3Z" fill="none" stroke="#e6e6e6" stroke-width="2.6"/>
<clipPath id="c57"><path d="M2381.8,772.1 L2379.0,770.1 L2375.6,768.4 L2371.8,767.1 L2367.7,766.1 L2363.4,765.5 L2358.9,765.3 L2354.5,765.5 L2350.1,766.1 L2346.0,767.2 L2342.3,768.5 L2339.0,770.3 L2336.2,772.2 L2334.0,774.5 L2332.4,776.9 L2331.5,779.4 L2331.4,782.0 L2332.0,784.5 L2333.2,787.0 L2335.2,789.3 L2337.7,791.4 L2340.8,793.3 L2344.4,794.8 L2348.4,796.0 L2352.6,796.8 L2357.0,797.2 L2361.5,797.2 L2365.9,796.7 L2370.1,795.9 L2374.1,794.7 L2377.6,793.2 L2380.7,791.3 L2383.2,789.2 L2385.1,786.9 L2386.3,784.4 L2386.8,781.8 L2386.6,779.3 L2385.7,776.7 L2384.1,774.3 L2381.8,772.1Z"/></clipPath><path d="M2381.8,772.1 L2379.0,770.1 L2375.6,768.4 L2371.8,767.1 L2367.7,766.1 L2363.4,765.5 L2358.9,765.3 L2354.5,765.5 L2350.1,766.1 L2346.0,767.2 L2342.3,768.5 L2339.0,770.3 L2336.2,772.2 L2334.0,774.5 L2332.4,776.9 L2331.5,779.4 L2331.4,782.0 L2332.0,784.5 L2333.2,787.0 L2335.2,789.3 L2337.7,791.4 L2340.8,793.3 L2344.4,794.8 L2348.4,796.0 L2352.6,796.8 L2357.0,797.2 L2361.5,797.2 L2365.9,796.7 L2370.1,795.9 L2374.1,794.7 L2377.6,793.2 L2380.7,791.3 L2383.2,789.2 L2385.1,786.9 L2386.3,784.4 L2386.8,781.8 L2386.6,779.3 L2385.7,776.7 L2384.1,774.3 L2381.8,772.1Z" fill="#333"/><g clip-path="url(#c57)"><path d="M2378.4,779.7 L2376.0,778.0 L2373.1,776.6 L2369.9,775.4 L2366.4,774.6 L2362.7,774.1 L2358.9,773.9 L2355.2,774.1 L2351.5,774.6 L2348.0,775.5 L2344.8,776.7 L2342.0,778.1 L2339.6,779.8 L2337.7,781.7 L2336.4,783.8 L2335.7,785.9 L2335.5,788.1 L2336.0,790.2 L2337.1,792.3 L2338.8,794.3 L2340.9,796.1 L2343.6,797.7 L2346.6,799.0 L2350.0,800.0 L2353.6,800.7 L2357.4,801.0 L2361.1,801.0 L2364.9,800.6 L2368.5,799.9 L2371.8,798.9 L2374.9,797.6 L2377.5,796.0 L2379.6,794.2 L2381.2,792.2 L2382.2,790.1 L2382.7,788.0 L2382.5,785.8 L2381.7,783.6 L2380.3,781.6 L2378.4,779.7Z" fill="#2b2b2b" stroke="#dcdcdc" stroke-width="2.60"/></g><path d="M2381.8,772.1 L2379.0,770.1 L2375.6,768.4 L2371.8,767.1 L2367.7,766.1 L2363.4,765.5 L2358.9,765.3 L2354.5,765.5 L2350.1,766.1 L2346.0,767.2 L2342.3,768.5 L2339.0,770.3 L2336.2,772.2 L2334.0,774.5 L2332.4,776.9 L2331.5,779.4 L2331.4,782.0 L2332.0,784.5 L2333.2,787.0 L2335.2,789.3 L2337.7,791.4 L2340.8,793.3 L2344.4,794.8 L2348.4,796.0 L2352.6,796.8 L2357.0,797.2 L2361.5,797.2 L2365.9,796.7 L2370.1,795.9 L2374.1,794.7 L2377.6,793.2 L2380.7,791.3 L2383.2,789.2 L2385.1,786.9 L2386.3,784.4 L2386.8,781.8 L2386.6,779.3 L2385.7,776.7 L2384.1,774.3 L2381.8,772.1Z" fill="none" stroke="#e6e6e6" stroke-width="2.6"/>
<clipPath id="c58"><path d="M2547.1,705.7 L2544.3,703.7 L2540.9,702.0 L2537.1,700.7 L2533.0,699.7 L2528.7,699.1 L2524.2,698.9 L2519.8,699.1 L2515.4,699.7 L2511.3,700.7 L2507.6,702.1 L2504.3,703.8 L2501.5,705.8 L2499.3,708.1 L2497.7,710.5 L2496.8,713.0 L2496.7,715.6 L2497.3,718.1 L2498.5,720.6 L2500.5,722.9 L2503.0,725.0 L2506.1,726.8 L2509.7,728.4 L2513.7,729.6 L2517.9,730.4 L2522.3,730.8 L2526.8,730.8 L2531.2,730.3 L2535.4,729.5 L2539.4,728.3 L2542.9,726.7 L2546.0,724.9 L2548.5,722.8 L2550.4,720.4 L2551.6,718.0 L2552.1,715.4 L2551.9,712.8 L2551.0,710.3 L2549.4,707.9 L2547.1,705.7Z"/></clipPath><path d="M2547.1,705.7 L2544.3,703.7 L2540.9,702.0 L2537.1,700.7 L2533.0,699.7 L2528.7,699.1 L2524.2,698.9 L2519.8,699.1 L2515.4,699.7 L2511.3,700.7 L2507.6,702.1 L2504.3,703.8 L2501.5,705.8 L2499.3,708.1 L2497.7,710.5 L2496.8,713.0 L2496.7,715.6 L2497.3,718.1 L2498.5,720.6 L2500.5,722.9 L2503.0,725.0 L2506.1,726.8 L2509.7,728.4 L2513.7,729.6 L2517.9,730.4 L2522.3,730.8 L2526.8,730.8 L2531.2,730.3 L2535.4,729.5 L2539.4,728.3 L2542.9,726.7 L2546.0,724.9 L2548.5,722.8 L2550.4,720.4 L2551.6,718.0 L2552.1,715.4 L2551.9,712.8 L2551.0,710.3 L2549.4,707.9 L2547.1,705.7Z" fill="#333"/><g clip-path="url(#c58)"><path d="M2543.7,713.3 L2541.3,711.6 L2538.4,710.2 L2535.2,709.0 L2531.7,708.2 L2528.0,707.6 L2524.2,707.5 L2520.5,707.7 L2516.8,708.2 L2513.3,709.1 L2510.1,710.2 L2507.3,711.7 L2504.9,713.4 L2503.0,715.3 L2501.7,717.3 L2501.0,719.5 L2500.8,721.7 L2501.3,723.8 L2502.4,725.9 L2504.1,727.9 L2506.2,729.7 L2508.9,731.3 L2511.9,732.6 L2515.3,733.6 L2518.9,734.2 L2522.7,734.6 L2526.4,734.6 L2530.2,734.2 L2533.8,733.5 L2537.1,732.5 L2540.2,731.2 L2542.8,729.6 L2544.9,727.8 L2546.5,725.8 L2547.5,723.7 L2548.0,721.5 L2547.8,719.4 L2547.0,717.2 L2545.6,715.2 L2543.7,713.3Z" fill="#2b2b2b" stroke="#dcdcdc" stroke-width="2.60"/></g><path d="M2547.1,705.7 L2544.3,703.7 L2540.9,702.0 L2537.1,700.7 L2533.0,699.7 L2528.7,699.1 L2524.2,698.9 L2519.8,699.1 L2515.4,699.7 L2511.3,700.7 L2507.6,702.1 L2504.3,703.8 L2501.5,705.8 L2499.3,708.1 L2497.7,710.5 L2496.8,713.0 L2496.7,715.6 L2497.3,718.1 L2498.5,720.6 L2500.5,722.9 L2503.0,725.0 L2506.1,726.8 L2509.7,728.4 L2513.7,729.6 L2517.9,730.4 L2522.3,730.8 L2526.8,730.8 L2531.2,730.3 L2535.4,729.5 L2539.4,728.3 L2542.9,726.7 L2546.0,724.9 L2548.5,722.8 L2550.4,720.4 L2551.6,718.0 L2552.1,715.4 L2551.9,712.8 L2551.0,710.3 L2549.4,707.9 L2547.1,705.7Z" fill="none" stroke="#e6e6e6" stroke-width="2.6"/>
<clipPath id="c59"><path d="M2657.3,661.4 L2654.5,659.4 L2651.1,657.7 L2647.3,656.4 L2643.2,655.4 L2638.9,654.8 L2634.4,654.6 L2630.0,654.8 L2625.6,655.4 L2621.5,656.5 L2617.8,657.8 L2614.5,659.6 L2611.7,661.5 L2609.5,663.8 L2607.9,666.2 L2607.0,668.7 L2606.9,671.3 L2607.5,673.8 L2608.7,676.3 L2610.7,678.6 L2613.2,680.7 L2616.3,682.6 L2619.9,684.1 L2623.9,685.3 L2628.1,686.1 L2632.5,686.5 L2637.0,686.5 L2641.4,686.0 L2645.6,685.2 L2649.6,684.0 L2653.1,682.5 L2656.2,680.6 L2658.7,678.5 L2660.6,676.2 L2661.8,673.7 L2662.3,671.1 L2662.1,668.6 L2661.2,666.0 L2659.6,663.6 L2657.3,661.4Z"/></clipPath><path d="M2657.3,661.4 L2654.5,659.4 L2651.1,657.7 L2647.3,656.4 L2643.2,655.4 L2638.9,654.8 L2634.4,654.6 L2630.0,654.8 L2625.6,655.4 L2621.5,656.5 L2617.8,657.8 L2614.5,659.6 L2611.7,661.5 L2609.5,663.8 L2607.9,666.2 L2607.0,668.7 L2606.9,671.3 L2607.5,673.8 L2608.7,676.3 L2610.7,678.6 L2613.2,680.7 L2616.3,682.6 L2619.9,684.1 L2623.9,685.3 L2628.1,686.1 L2632.5,686.5 L2637.0,686.5 L2641.4,686.0 L2645.6,685.2 L2649.6,684.0 L2653.1,682.5 L2656.2,680.6 L2658.7,678.5 L2660.6,676.2 L2661.8,673.7 L2662.3,671.1 L2662.1,668.6 L2661.2,666.0 L2659.6,663.6 L2657.3,661.4Z" fill="#333"/><g clip-path="url(#c59)"><path d="M2653.9,669.0 L2651.5,667.3 L2648.6,665.9 L2645.4,664.7 L2641.9,663.9 L2638.2,663.4 L2634.4,663.2 L2630.7,663.4 L2627.0,663.9 L2623.5,664.8 L2620.3,666.0 L2617.5,667.4 L2615.1,669.1 L2613.2,671.0 L2611.9,673.1 L2611.2,675.2 L2611.0,677.4 L2611.5,679.5 L2612.6,681.6 L2614.3,683.6 L2616.4,685.4 L2619.1,687.0 L2622.1,688.3 L2625.5,689.3 L2629.1,690.0 L2632.9,690.3 L2636.6,690.3 L2640.4,689.9 L2644.0,689.2 L2647.3,688.2 L2650.4,686.9 L2653.0,685.3 L2655.1,683.5 L2656.7,681.5 L2657.7,679.4 L2658.2,677.3 L2658.0,675.1 L2657.2,672.9 L2655.8,670.9 L2653.9,669.0Z" fill="#2b2b2b" stroke="#dcdcdc" stroke-width="2.60"/></g><path d="M2657.3,661.4 L2654.5,659.4 L2651.1,657.7 L2647.3,656.4 L2643.2,655.4 L2638.9,654.8 L2634.4,654.6 L2630.0,654.8 L2625.6,655.4 L2621.5,656.5 L2617.8,657.8 L2614.5,659.6 L2611.7,661.5 L2609.5,663.8 L2607.9,666.2 L2607.0,668.7 L2606.9,671.3 L2607.5,673.8 L2608.7,676.3 L2610.7,678.6 L2613.2,680.7 L2616.3,682.6 L2619.9,684.1 L2623.9,685.3 L2628.1,686.1 L2632.5,686.5 L2637.0,686.5 L2641.4,686.0 L2645.6,685.2 L2649.6,684.0 L2653.1,682.5 L2656.2,680.6 L2658.7,678.5 L2660.6,676.2 L2661.8,673.7 L2662.3,671.1 L2662.1,668.6 L2661.2,666.0 L2659.6,663.6 L2657.3,661.4Z" fill="none" stroke="#e6e6e6" stroke-width="2.6"/>
<path d="M2659.5,599.3 L2659.9,597.1 L2660.8,594.9 L2662.3,592.7 L2664.2,590.7 L2666.5,588.9 L2669.3,587.2 L2672.3,585.8 L2782.6,541.5 L2785.9,540.4 L2789.6,539.5 L2793.4,538.8 L2797.3,538.5 L2801.2,538.4 L2805.2,538.7 L2809.0,539.2 L2812.7,540.1 L2816.2,541.2 L2819.4,542.5 L2822.2,544.1 L2824.7,545.9 L2826.8,547.8 L2828.3,549.9 L2829.4,552.1 L2830.1,554.4 L2830.1,556.6 L2830.1,604.9 L2829.7,607.2 L2828.8,609.4 L2827.3,611.5 L2825.4,613.5 L2823.1,615.4 L2820.3,617.0 L2817.2,618.4 L2707.1,662.7 L2703.7,663.9 L2700.0,664.8 L2696.2,665.4 L2692.3,665.8 L2688.4,665.8 L2684.4,665.6 L2680.6,665.0 L2676.9,664.2 L2673.4,663.1 L2670.2,661.7 L2667.4,660.2 L2664.9,658.4 L2662.8,656.4 L2661.3,654.3 L2660.2,652.2 L2659.6,649.9 L2659.5,647.6Z" fill="#2b2b2b"/>
<path d="M2659.6,601.6 L2660.2,603.9 L2661.3,606.0 L2662.9,608.1 L2664.9,610.1 L2667.4,611.9 L2670.2,613.4 L2673.4,614.8 L2676.9,615.9 L2680.6,616.7 L2684.4,617.3 L2688.4,617.5 L2692.3,617.5 L2696.2,617.1 L2700.0,616.5 L2703.7,615.6 L2707.1,614.4 L2817.3,570.1 L2820.3,568.7 L2823.1,567.1 L2825.4,565.2 L2827.3,563.2 L2828.8,561.1 L2829.7,558.9 L2830.1,556.6" fill="none" stroke="#e6e6e6" stroke-width="2.5" stroke-linejoin="round"/>
<path d="M2722.5,640.2 L2722.2,642.7 L2721.3,645.3 L2719.8,647.7 L2717.7,650.0 L2715.1,652.1 L2712.1,654.0 L2708.6,655.6 L2704.8,656.9 L2700.7,657.9 L2696.4,658.6 L2691.9,659.0 L2687.5,659.0 L2683.0,658.6 L2678.7,657.9 L2674.6,656.9 L2670.8,655.5 L2667.3,653.9 L2664.3,652.0 L2661.7,649.9 L2659.6,647.6 L2658.1,645.2 L2657.2,642.7 L2656.9,640.1" fill="none" stroke="#e6e6e6" stroke-width="1.6"/>
<path d="M2722.5,608.4 L2722.2,611.0 L2721.3,613.5 L2719.8,616.0 L2717.7,618.2 L2715.1,620.3 L2712.1,622.2 L2708.6,623.8 L2704.8,625.2 L2700.7,626.2 L2696.4,626.9 L2691.9,627.2 L2687.5,627.2 L2683.0,626.9 L2678.7,626.2 L2674.6,625.1 L2670.8,623.8 L2667.3,622.2 L2664.3,620.3 L2661.7,618.2 L2659.6,615.9 L2658.1,613.5 L2657.2,610.9 L2656.9,608.4" fill="none" stroke="#e6e6e6" stroke-width="1.6"/>
<path d="M2693.1,655.8 L2693.1,626.1" stroke="#e6e6e6" stroke-width="1.5"/>
<path d="M2702.1,652.2 L2702.1,622.5" stroke="#e6e6e6" stroke-width="1.5"/>
<path d="M2711.0,648.6 L2711.0,618.9" stroke="#e6e6e6" stroke-width="1.5"/>
<path d="M2719.3,645.3 L2719.3,615.6" stroke="#e6e6e6" stroke-width="1.5"/>
<path d="M2832.7,595.9 L2832.4,598.5 L2831.5,601.0 L2830.0,603.4 L2827.9,605.7 L2825.3,607.8 L2822.3,609.7 L2818.8,611.3 L2815.0,612.6 L2810.9,613.7 L2806.6,614.3 L2802.1,614.7 L2797.7,614.7 L2793.2,614.3 L2788.9,613.6 L2784.8,612.6 L2781.0,611.3 L2777.5,609.6 L2774.5,607.7 L2771.9,605.6 L2769.8,603.3 L2768.3,600.9 L2767.4,598.4 L2767.1,595.8" fill="none" stroke="#e6e6e6" stroke-width="1.6"/>
<path d="M2832.7,564.2 L2832.4,566.7 L2831.5,569.2 L2830.0,571.7 L2827.9,574.0 L2825.3,576.1 L2822.3,577.9 L2818.8,579.6 L2815.0,580.9 L2810.9,581.9 L2806.6,582.6 L2802.1,583.0 L2797.7,582.9 L2793.2,582.6 L2788.9,581.9 L2784.8,580.9 L2781.0,579.5 L2777.5,577.9 L2774.5,576.0 L2771.9,573.9 L2769.8,571.6 L2768.3,569.2 L2767.4,566.7 L2767.1,564.1" fill="none" stroke="#e6e6e6" stroke-width="1.6"/>
<path d="M2803.3,611.5 L2803.3,581.8" stroke="#e6e6e6" stroke-width="1.5"/>
<path d="M2812.3,607.9 L2812.3,578.2" stroke="#e6e6e6" stroke-width="1.5"/>
<path d="M2821.2,604.3 L2821.2,574.6" stroke="#e6e6e6" stroke-width="1.5"/>
<path d="M2829.5,601.0 L2829.5,571.3" stroke="#e6e6e6" stroke-width="1.5"/>
<path d="M2784.9,609.0 L2784.7,605.7 L2783.9,602.7 L2782.5,600.1 L2780.7,597.9 L2778.4,596.2 L2775.7,595.1 L2772.8,594.6 L2769.5,594.7 L2766.2,595.3 L2762.7,596.6 L2759.3,598.4 L2756.0,600.7 L2752.9,603.4 L2750.1,606.5 L2747.6,609.9 L2745.6,613.4 L2744.0,617.1 L2742.9,620.8 L2742.3,624.4 L2742.3,627.9 L2742.9,631.1 L2744.0,633.9 L2745.6,636.3 L2747.6,638.2 L2750.1,639.6 L2752.9,640.4 L2756.0,640.7 L2759.3,640.3 L2762.7,639.3 L2766.2,637.8 L2769.5,635.8 L2772.8,633.3 L2775.7,630.3 L2778.4,627.1 L2780.7,623.6 L2782.5,620.0 L2783.9,616.2 L2784.7,612.6 L2784.9,609.0Z" fill="#2b2b2b" stroke="#e6e6e6" stroke-width="2.2"/>
<path d="M2781.5,610.4 L2781.3,607.6 L2780.6,605.1 L2779.5,602.9 L2777.9,601.1 L2776.0,599.7 L2773.8,598.8 L2771.3,598.3 L2768.6,598.4 L2765.8,598.9 L2762.9,600.0 L2760.0,601.5 L2757.2,603.4 L2754.6,605.7 L2752.3,608.3 L2750.2,611.1 L2748.5,614.1 L2747.1,617.2 L2746.2,620.3 L2745.7,623.3 L2745.7,626.2 L2746.2,628.9 L2747.1,631.3 L2748.5,633.3 L2750.2,634.9 L2752.3,636.1 L2754.6,636.7 L2757.2,636.9 L2760.0,636.6 L2762.9,635.8 L2765.8,634.6 L2768.6,632.8 L2771.3,630.7 L2773.8,628.3 L2776.0,625.6 L2777.9,622.6 L2779.5,619.6 L2780.6,616.5 L2781.3,613.4 L2781.5,610.4Z" fill="#222" stroke="#e6e6e6" stroke-width="1.6"/>
<path d="M2819.5,545.9 L2821.8,548.1 L2823.4,550.5 L2824.3,553.0 L2824.5,555.6 L2824.0,558.1 L2822.8,560.6 L2820.9,562.9 L2818.4,565.1 L2815.3,566.9 L2811.8,568.5 L2807.8,569.7 L2803.6,570.5 L2799.2,570.9 L2794.7,570.9 L2790.3,570.5 L2786.1,569.7 L2782.1,568.6 L2778.5,567.0 L2775.4,565.2 L2772.9,563.1 L2770.9,560.7 L2769.7,558.3 L2769.1,555.7 L2769.2,553.2 L2770.1,550.6 L2771.7,548.2 L2773.9,546.0 L2776.7,544.0 L2780.0,542.3 L2783.8,540.9 L2787.8,539.9 L2792.2,539.3 L2796.6,539.0 L2801.1,539.2 L2805.4,539.8 L2809.5,540.8 L2813.3,542.2 L2816.7,543.9 L2819.5,545.9Z" fill="#2b2b2b" stroke="#e6e6e6" stroke-width="2.2"/>
<path d="M2776.2,497.6 L2776.3,495.7 L2777.0,493.8 L2778.1,492.0 L2779.8,490.4 L2781.8,488.9 L2784.3,487.6 L2787.1,486.6 L2790.2,485.8 L2793.4,485.4 L2796.7,485.2 L2800.0,485.3 L2803.2,485.8 L2806.2,486.5 L2809.1,487.5 L2811.6,488.8 L2813.7,490.3 L2815.3,491.9 L2816.6,493.7 L2817.2,495.6 L2817.4,497.5 L2817.4,557.5 L2817.0,559.4 L2816.1,561.2 L2814.7,563.0 L2812.8,564.5 L2810.6,565.9 L2807.9,567.1 L2805.0,568.0 L2801.9,568.6 L2798.6,568.9 L2795.3,568.9 L2792.0,568.6 L2788.8,568.0 L2785.9,567.1 L2783.2,566.0 L2780.9,564.6 L2779.0,563.1 L2777.6,561.3 L2776.7,559.5 L2776.2,557.6Z" fill="#2b2b2b"/>
<path d="M2817.4,557.1 L2817.2,558.7 L2816.6,560.3 L2815.7,561.8 L2814.4,563.3 L2812.8,564.6 L2810.9,565.8 L2808.7,566.8 L2806.3,567.6 L2803.7,568.3 L2801.0,568.7 L2798.2,568.9 L2795.4,568.9 L2792.6,568.7 L2789.9,568.3 L2787.3,567.6 L2784.9,566.8 L2782.7,565.7 L2780.8,564.6 L2779.2,563.2 L2777.9,561.8 L2777.0,560.3 L2776.4,558.7 L2776.2,557.1" fill="none" stroke="#e6e6e6" stroke-width="2.2"/>
<path d="M2817.4,557.1 L2817.4,497.1" stroke="#e6e6e6" stroke-width="2.2"/>
<path d="M2776.2,557.1 L2776.2,497.0" stroke="#e6e6e6" stroke-width="2.2"/>
<path d="M2815.8,561.6 L2815.8,501.6" stroke="#e6e6e6" stroke-width="1.7600000000000002"/>
<path d="M2804.7,568.0 L2804.7,508.0" stroke="#e6e6e6" stroke-width="1.7600000000000002"/>
<path d="M2788.9,568.0 L2788.9,508.0" stroke="#e6e6e6" stroke-width="1.7600000000000002"/>
<path d="M2777.8,561.6 L2777.8,501.6" stroke="#e6e6e6" stroke-width="1.7600000000000002"/>
<path d="M2813.7,490.3 L2815.4,491.9 L2816.5,493.7 L2817.2,495.6 L2817.4,497.5 L2817.0,499.4 L2816.1,501.2 L2814.7,502.9 L2812.8,504.5 L2810.6,505.9 L2807.9,507.0 L2805.0,507.9 L2801.9,508.6 L2798.6,508.9 L2795.3,508.9 L2792.0,508.6 L2788.9,508.0 L2785.9,507.1 L2783.2,506.0 L2780.9,504.6 L2779.0,503.0 L2777.6,501.3 L2776.6,499.5 L2776.2,497.6 L2776.3,495.7 L2777.0,493.8 L2778.1,492.0 L2779.8,490.4 L2781.9,488.9 L2784.3,487.6 L2787.1,486.6 L2790.2,485.8 L2793.4,485.4 L2796.7,485.2 L2800.0,485.3 L2803.2,485.8 L2806.3,486.5 L2809.1,487.5 L2811.6,488.8 L2813.7,490.3Z" fill="#2b2b2b" stroke="#e6e6e6" stroke-width="2.2"/>
<path d="M2784.2,507.3 L2795.0,503.0 L2802.5,509.2 L2814.7,504.3 L2807.1,498.1 L2817.9,493.8 L2809.4,486.8 L2798.6,491.1 L2791.1,484.9 L2778.9,489.8 L2786.5,496.0 L2775.7,500.3Z" fill="#1a1a1a" stroke="#e6e6e6" stroke-width="1.8" stroke-linejoin="round"/>
<path d="M2709.3,590.2 L2711.6,592.4 L2713.2,594.8 L2714.1,597.3 L2714.3,599.9 L2713.8,602.4 L2712.6,604.9 L2710.7,607.2 L2708.2,609.3 L2705.1,611.2 L2701.6,612.8 L2697.6,614.0 L2693.4,614.8 L2689.0,615.2 L2684.5,615.2 L2680.1,614.8 L2675.9,614.0 L2671.9,612.8 L2668.3,611.3 L2665.2,609.5 L2662.7,607.3 L2660.7,605.0 L2659.5,602.6 L2658.9,600.0 L2659.0,597.4 L2659.9,594.9 L2661.5,592.5 L2663.7,590.3 L2666.5,588.3 L2669.8,586.6 L2673.6,585.2 L2677.6,584.2 L2682.0,583.5 L2686.4,583.3 L2690.9,583.5 L2695.2,584.1 L2699.3,585.1 L2703.1,586.5 L2706.5,588.2 L2709.3,590.2Z" fill="#2b2b2b" stroke="#e6e6e6" stroke-width="2.2"/>
<path d="M2666.0,541.9 L2666.1,540.0 L2666.8,538.1 L2667.9,536.3 L2669.6,534.6 L2671.7,533.2 L2674.1,531.9 L2676.9,530.9 L2679.9,530.1 L2683.2,529.6 L2686.5,529.5 L2689.8,529.6 L2693.0,530.1 L2696.1,530.8 L2698.9,531.8 L2701.4,533.1 L2703.5,534.5 L2705.2,536.2 L2706.3,538.0 L2707.0,539.9 L2707.2,541.8 L2707.2,601.8 L2706.8,603.7 L2705.9,605.5 L2704.5,607.2 L2702.6,608.8 L2700.4,610.2 L2697.7,611.4 L2694.8,612.2 L2691.7,612.9 L2688.4,613.2 L2685.1,613.2 L2681.8,612.9 L2678.7,612.3 L2675.7,611.4 L2673.0,610.3 L2670.7,608.9 L2668.8,607.3 L2667.4,605.6 L2666.4,603.8 L2666.0,601.9Z" fill="#2b2b2b"/>
<path d="M2707.2,601.4 L2707.0,603.0 L2706.4,604.6 L2705.5,606.1 L2704.2,607.5 L2702.6,608.9 L2700.7,610.0 L2698.5,611.1 L2696.1,611.9 L2693.5,612.5 L2690.8,613.0 L2688.0,613.2 L2685.2,613.2 L2682.4,613.0 L2679.7,612.5 L2677.1,611.9 L2674.7,611.0 L2672.5,610.0 L2670.6,608.8 L2669.0,607.5 L2667.7,606.1 L2666.8,604.5 L2666.2,603.0 L2666.0,601.3" fill="none" stroke="#e6e6e6" stroke-width="2.2"/>
<path d="M2707.2,601.4 L2707.2,541.4" stroke="#e6e6e6" stroke-width="2.2"/>
<path d="M2666.0,601.3 L2666.0,541.3" stroke="#e6e6e6" stroke-width="2.2"/>
<path d="M2705.6,605.9 L2705.6,545.9" stroke="#e6e6e6" stroke-width="1.7600000000000002"/>
<path d="M2694.5,612.3 L2694.5,552.3" stroke="#e6e6e6" stroke-width="1.7600000000000002"/>
<path d="M2678.7,612.3 L2678.7,552.3" stroke="#e6e6e6" stroke-width="1.7600000000000002"/>
<path d="M2667.6,605.9 L2667.6,545.9" stroke="#e6e6e6" stroke-width="1.7600000000000002"/>
<path d="M2703.5,534.6 L2705.2,536.2 L2706.3,538.0 L2707.0,539.9 L2707.2,541.8 L2706.8,543.7 L2705.9,545.5 L2704.5,547.2 L2702.6,548.8 L2700.4,550.2 L2697.7,551.3 L2694.8,552.2 L2691.7,552.8 L2688.4,553.1 L2685.1,553.2 L2681.8,552.9 L2678.7,552.3 L2675.7,551.4 L2673.0,550.2 L2670.7,548.9 L2668.8,547.3 L2667.4,545.6 L2666.4,543.8 L2666.0,541.9 L2666.1,540.0 L2666.8,538.1 L2667.9,536.3 L2669.6,534.6 L2671.7,533.2 L2674.1,531.9 L2676.9,530.9 L2680.0,530.1 L2683.2,529.6 L2686.5,529.5 L2689.8,529.6 L2693.0,530.1 L2696.1,530.8 L2698.9,531.8 L2701.4,533.1 L2703.5,534.6Z" fill="#2b2b2b" stroke="#e6e6e6" stroke-width="2.2"/>
<path d="M2674.0,551.6 L2684.8,547.3 L2692.3,553.5 L2704.5,548.6 L2696.9,542.4 L2707.7,538.1 L2699.2,531.1 L2688.4,535.4 L2680.9,529.2 L2668.7,534.0 L2676.3,540.3 L2665.5,544.6Z" fill="#1a1a1a" stroke="#e6e6e6" stroke-width="1.8" stroke-linejoin="round"/>
<ellipse cx="2584.5" cy="696.7" rx="24.7" ry="14.5" fill="#9cc0f0"/>
<path d="M2562.8,578.7 L2562.8,693.7 A21.7,12.5 0 0 0 2606.2,693.7 L2606.2,578.7 Z" fill="#2a6fd6" stroke="#0b1f4d" stroke-width="2.5"/>
<path d="M2562.8,688.7 A21.7,12.5 0 0 0 2606.2,688.7" fill="none" stroke="#0b1f4d" stroke-width="2"/>
<path d="M2562.8,586.7 A21.7,12.5 0 0 0 2606.2,586.7" fill="none" stroke="#0b1f4d" stroke-width="2.2"/>
<ellipse cx="2584.5" cy="578.7" rx="21.7" ry="12.5" fill="#3f82e0" stroke="#0b1f4d" stroke-width="2.5"/>
<ellipse cx="2584.5" cy="579.7" rx="13.5" ry="7.7" fill="#2563c4" stroke="#0b1f4d" stroke-width="2"/>
<path d="M2581.2,566.2 L2581.2,573.1 M2587.8,566.2 L2587.8,573.1" stroke="#0b1f4d" stroke-width="2"/>
<path d="M2596.4,581.2 L2606.2,581.2" stroke="#0b1f4d" stroke-width="2"/>
<rect x="2566.3" y="582.7" width="5.2" height="32" fill="#0b1f4d" rx="2"/>
<rect x="2591.0" y="619.7" width="9.1" height="50.0" fill="#0b1f4d" rx="4"/>
<rect x="2594.0" y="623.7" width="2.6" height="42.0" fill="#4d7fc9" rx="1"/>
<ellipse cx="2474.3" cy="741.0" rx="24.7" ry="14.5" fill="#9cc0f0"/>
<path d="M2452.6,623.0 L2452.6,738.0 A21.7,12.5 0 0 0 2496.0,738.0 L2496.0,623.0 Z" fill="#2a6fd6" stroke="#0b1f4d" stroke-width="2.5"/>
<path d="M2452.6,733.0 A21.7,12.5 0 0 0 2496.0,733.0" fill="none" stroke="#0b1f4d" stroke-width="2"/>
<path d="M2452.6,631.0 A21.7,12.5 0 0 0 2496.0,631.0" fill="none" stroke="#0b1f4d" stroke-width="2.2"/>
<ellipse cx="2474.3" cy="623.0" rx="21.7" ry="12.5" fill="#3f82e0" stroke="#0b1f4d" stroke-width="2.5"/>
<ellipse cx="2474.3" cy="624.0" rx="13.5" ry="7.7" fill="#2563c4" stroke="#0b1f4d" stroke-width="2"/>
<path d="M2471.0,610.5 L2471.0,617.4 M2477.6,610.5 L2477.6,617.4" stroke="#0b1f4d" stroke-width="2"/>
<path d="M2486.2,625.5 L2496.0,625.5" stroke="#0b1f4d" stroke-width="2"/>
<rect x="2456.1" y="627.0" width="5.2" height="32" fill="#0b1f4d" rx="2"/>
<rect x="2480.8" y="664.0" width="9.1" height="50.0" fill="#0b1f4d" rx="4"/>
<rect x="2483.8" y="668.0" width="2.6" height="42.0" fill="#4d7fc9" rx="1"/>
<ellipse cx="2419.2" cy="763.1" rx="24.7" ry="14.5" fill="#9cc0f0"/>
<path d="M2397.5,645.1 L2397.5,760.1 A21.7,12.5 0 0 0 2440.9,760.1 L2440.9,645.1 Z" fill="#2a6fd6" stroke="#0b1f4d" stroke-width="2.5"/>
<path d="M2397.5,755.1 A21.7,12.5 0 0 0 2440.9,755.1" fill="none" stroke="#0b1f4d" stroke-width="2"/>
<path d="M2397.5,653.1 A21.7,12.5 0 0 0 2440.9,653.1" fill="none" stroke="#0b1f4d" stroke-width="2.2"/>
<ellipse cx="2419.2" cy="645.1" rx="21.7" ry="12.5" fill="#3f82e0" stroke="#0b1f4d" stroke-width="2.5"/>
<ellipse cx="2419.2" cy="646.1" rx="13.5" ry="7.7" fill="#2563c4" stroke="#0b1f4d" stroke-width="2"/>
<path d="M2415.9,632.7 L2415.9,639.5 M2422.5,632.7 L2422.5,639.5" stroke="#0b1f4d" stroke-width="2"/>
<path d="M2431.1,647.6 L2440.9,647.6" stroke="#0b1f4d" stroke-width="2"/>
<rect x="2401.0" y="649.1" width="5.2" height="32" fill="#0b1f4d" rx="2"/>
<rect x="2425.7" y="686.1" width="9.1" height="50.0" fill="#0b1f4d" rx="4"/>
<rect x="2428.7" y="690.1" width="2.6" height="42.0" fill="#4d7fc9" rx="1"/>
<ellipse cx="2198.8" cy="851.7" rx="24.7" ry="14.5" fill="#9cc0f0"/>
<path d="M2177.1,733.7 L2177.1,848.7 A21.7,12.5 0 0 0 2220.5,848.7 L2220.5,733.7 Z" fill="#2a6fd6" stroke="#0b1f4d" stroke-width="2.5"/>
<path d="M2177.1,843.7 A21.7,12.5 0 0 0 2220.5,843.7" fill="none" stroke="#0b1f4d" stroke-width="2"/>
<path d="M2177.1,741.7 A21.7,12.5 0 0 0 2220.5,741.7" fill="none" stroke="#0b1f4d" stroke-width="2.2"/>
<ellipse cx="2198.8" cy="733.7" rx="21.7" ry="12.5" fill="#3f82e0" stroke="#0b1f4d" stroke-width="2.5"/>
<ellipse cx="2198.8" cy="734.7" rx="13.5" ry="7.7" fill="#2563c4" stroke="#0b1f4d" stroke-width="2"/>
<path d="M2195.5,721.2 L2195.5,728.1 M2202.1,721.2 L2202.1,728.1" stroke="#0b1f4d" stroke-width="2"/>
<path d="M2210.7,736.2 L2220.5,736.2" stroke="#0b1f4d" stroke-width="2"/>
<rect x="2180.6" y="737.7" width="5.2" height="32" fill="#0b1f4d" rx="2"/>
<rect x="2205.3" y="774.7" width="9.1" height="50.0" fill="#0b1f4d" rx="4"/>
<rect x="2208.3" y="778.7" width="2.6" height="42.0" fill="#4d7fc9" rx="1"/>
<path d="M1998.3,865.0 L1998.7,862.7 L1999.6,860.5 L2001.1,858.4 L2003.0,856.4 L2005.3,854.6 L2008.1,852.9 L2011.2,851.5 L2121.3,807.2 L2124.7,806.0 L2128.4,805.1 L2132.2,804.5 L2136.1,804.2 L2140.0,804.1 L2144.0,804.4 L2147.8,804.9 L2151.5,805.8 L2155.0,806.9 L2158.2,808.2 L2161.0,809.8 L2163.5,811.6 L2165.6,813.5 L2167.1,815.6 L2168.2,817.8 L2168.8,820.0 L2168.9,822.3 L2168.9,870.6 L2168.5,872.9 L2167.6,875.1 L2166.1,877.2 L2164.2,879.2 L2161.9,881.0 L2159.1,882.7 L2156.1,884.1 L2045.8,928.4 L2042.5,929.6 L2038.8,930.5 L2035.0,931.1 L2031.1,931.5 L2027.2,931.5 L2023.2,931.2 L2019.4,930.7 L2015.7,929.9 L2012.2,928.8 L2009.0,927.4 L2006.2,925.8 L2003.7,924.1 L2001.7,922.1 L2000.1,920.0 L1999.0,917.8 L1998.3,915.6 L1998.3,913.3Z" fill="#2b2b2b"/>
<path d="M1998.4,867.3 L1999.0,869.5 L2000.1,871.7 L2001.7,873.8 L2003.7,875.8 L2006.2,877.5 L2009.0,879.1 L2012.2,880.5 L2015.7,881.6 L2019.4,882.4 L2023.2,883.0 L2027.2,883.2 L2031.1,883.2 L2035.0,882.8 L2038.8,882.2 L2042.5,881.3 L2045.9,880.1 L2156.1,835.8 L2159.1,834.4 L2161.9,832.7 L2164.2,830.9 L2166.1,828.9 L2167.6,826.8 L2168.5,824.6 L2168.9,822.3" fill="none" stroke="#e6e6e6" stroke-width="2.5" stroke-linejoin="round"/>
<path d="M2061.3,905.9 L2061.0,908.4 L2060.1,910.9 L2058.6,913.4 L2056.5,915.7 L2053.9,917.8 L2050.9,919.6 L2047.4,921.3 L2043.6,922.6 L2039.5,923.6 L2035.2,924.3 L2030.7,924.7 L2026.3,924.6 L2021.8,924.3 L2017.5,923.6 L2013.4,922.6 L2009.6,921.2 L2006.1,919.6 L2003.1,917.7 L2000.5,915.6 L1998.4,913.3 L1996.9,910.9 L1996.0,908.4 L1995.7,905.8" fill="none" stroke="#e6e6e6" stroke-width="1.6"/>
<path d="M2061.3,874.1 L2061.0,876.7 L2060.1,879.2 L2058.6,881.6 L2056.5,883.9 L2053.9,886.0 L2050.9,887.9 L2047.4,889.5 L2043.6,890.9 L2039.5,891.9 L2035.2,892.6 L2030.7,892.9 L2026.3,892.9 L2021.8,892.6 L2017.5,891.9 L2013.4,890.8 L2009.6,889.5 L2006.1,887.9 L2003.1,886.0 L2000.5,883.9 L1998.4,881.6 L1996.9,879.1 L1996.0,876.6 L1995.7,874.0" fill="none" stroke="#e6e6e6" stroke-width="1.6"/>
<path d="M2031.9,921.5 L2031.9,891.8" stroke="#e6e6e6" stroke-width="1.5"/>
<path d="M2040.9,917.9 L2040.9,888.2" stroke="#e6e6e6" stroke-width="1.5"/>
<path d="M2049.8,914.3 L2049.8,884.6" stroke="#e6e6e6" stroke-width="1.5"/>
<path d="M2058.1,911.0 L2058.1,881.3" stroke="#e6e6e6" stroke-width="1.5"/>
<path d="M2171.5,861.6 L2171.2,864.1 L2170.3,866.7 L2168.8,869.1 L2166.7,871.4 L2164.1,873.5 L2161.1,875.4 L2157.6,877.0 L2153.8,878.3 L2149.7,879.3 L2145.4,880.0 L2140.9,880.4 L2136.5,880.4 L2132.0,880.0 L2127.7,879.3 L2123.6,878.3 L2119.8,876.9 L2116.3,875.3 L2113.3,873.4 L2110.7,871.3 L2108.6,869.0 L2107.1,866.6 L2106.2,864.1 L2105.9,861.5" fill="none" stroke="#e6e6e6" stroke-width="1.6"/>
<path d="M2171.5,829.8 L2171.2,832.4 L2170.3,834.9 L2168.8,837.4 L2166.7,839.6 L2164.1,841.7 L2161.1,843.6 L2157.6,845.2 L2153.8,846.6 L2149.7,847.6 L2145.4,848.3 L2140.9,848.6 L2136.5,848.6 L2132.0,848.3 L2127.7,847.6 L2123.6,846.5 L2119.8,845.2 L2116.3,843.6 L2113.3,841.7 L2110.7,839.6 L2108.6,837.3 L2107.1,834.9 L2106.2,832.3 L2105.9,829.8" fill="none" stroke="#e6e6e6" stroke-width="1.6"/>
<path d="M2142.1,877.2 L2142.1,847.5" stroke="#e6e6e6" stroke-width="1.5"/>
<path d="M2151.1,873.6 L2151.1,843.9" stroke="#e6e6e6" stroke-width="1.5"/>
<path d="M2160.0,870.0 L2160.0,840.3" stroke="#e6e6e6" stroke-width="1.5"/>
<path d="M2168.3,866.7 L2168.3,837.0" stroke="#e6e6e6" stroke-width="1.5"/>
<path d="M2123.7,874.7 L2123.5,871.4 L2122.7,868.4 L2121.3,865.8 L2119.5,863.6 L2117.2,861.9 L2114.5,860.8 L2111.6,860.3 L2108.3,860.4 L2105.0,861.0 L2101.5,862.3 L2098.1,864.1 L2094.8,866.3 L2091.7,869.1 L2088.9,872.2 L2086.4,875.5 L2084.4,879.1 L2082.8,882.8 L2081.7,886.5 L2081.1,890.1 L2081.1,893.6 L2081.7,896.7 L2082.8,899.6 L2084.4,902.0 L2086.4,903.9 L2088.9,905.3 L2091.7,906.1 L2094.8,906.3 L2098.1,906.0 L2101.5,905.0 L2105.0,903.5 L2108.3,901.5 L2111.6,898.9 L2114.5,896.0 L2117.2,892.8 L2119.5,889.3 L2121.3,885.6 L2122.7,881.9 L2123.5,878.3 L2123.7,874.7Z" fill="#2b2b2b" stroke="#e6e6e6" stroke-width="2.2"/>
<path d="M2120.3,876.1 L2120.1,873.3 L2119.4,870.8 L2118.3,868.6 L2116.7,866.8 L2114.8,865.4 L2112.6,864.4 L2110.1,864.0 L2107.4,864.1 L2104.6,864.6 L2101.7,865.7 L2098.8,867.2 L2096.0,869.1 L2093.4,871.4 L2091.1,873.9 L2089.0,876.8 L2087.3,879.8 L2085.9,882.9 L2085.0,886.0 L2084.5,889.0 L2084.5,891.9 L2085.0,894.6 L2085.9,896.9 L2087.3,899.0 L2089.0,900.6 L2091.1,901.7 L2093.4,902.4 L2096.0,902.6 L2098.8,902.3 L2101.7,901.5 L2104.6,900.2 L2107.4,898.5 L2110.1,896.4 L2112.6,894.0 L2114.8,891.2 L2116.7,888.3 L2118.3,885.3 L2119.4,882.1 L2120.1,879.1 L2120.3,876.1Z" fill="#222" stroke="#e6e6e6" stroke-width="1.6"/>
<path d="M2158.3,811.6 L2160.6,813.8 L2162.2,816.2 L2163.1,818.7 L2163.3,821.3 L2162.8,823.8 L2161.6,826.3 L2159.7,828.6 L2157.2,830.7 L2154.1,832.6 L2150.6,834.2 L2146.6,835.4 L2142.4,836.2 L2138.0,836.6 L2133.5,836.6 L2129.1,836.2 L2124.9,835.4 L2120.9,834.2 L2117.3,832.7 L2114.2,830.9 L2111.7,828.7 L2109.7,826.4 L2108.5,824.0 L2107.9,821.4 L2108.0,818.8 L2108.9,816.3 L2110.5,813.9 L2112.7,811.7 L2115.5,809.7 L2118.8,808.0 L2122.6,806.6 L2126.6,805.6 L2131.0,804.9 L2135.4,804.7 L2139.9,804.9 L2144.2,805.5 L2148.3,806.5 L2152.1,807.9 L2155.5,809.6 L2158.3,811.6Z" fill="#2b2b2b" stroke="#e6e6e6" stroke-width="2.2"/>
<path d="M2115.0,763.3 L2115.1,761.4 L2115.8,759.5 L2116.9,757.7 L2118.6,756.0 L2120.7,754.6 L2123.1,753.3 L2125.9,752.3 L2128.9,751.5 L2132.2,751.0 L2135.5,750.9 L2138.8,751.0 L2142.0,751.5 L2145.1,752.2 L2147.9,753.2 L2150.4,754.5 L2152.5,756.0 L2154.2,757.6 L2155.3,759.4 L2156.0,761.2 L2156.2,763.2 L2156.2,823.2 L2155.8,825.1 L2154.9,826.9 L2153.5,828.6 L2151.6,830.2 L2149.4,831.6 L2146.7,832.8 L2143.8,833.6 L2140.7,834.3 L2137.4,834.6 L2134.1,834.6 L2130.8,834.3 L2127.7,833.7 L2124.7,832.8 L2122.0,831.7 L2119.7,830.3 L2117.8,828.7 L2116.4,827.0 L2115.4,825.2 L2115.0,823.3Z" fill="#2b2b2b"/>
<path d="M2156.2,822.8 L2156.0,824.4 L2155.4,826.0 L2154.5,827.5 L2153.2,828.9 L2151.6,830.3 L2149.7,831.4 L2147.5,832.5 L2145.1,833.3 L2142.5,833.9 L2139.8,834.4 L2137.0,834.6 L2134.2,834.6 L2131.4,834.4 L2128.7,833.9 L2126.1,833.3 L2123.7,832.4 L2121.5,831.4 L2119.6,830.2 L2118.0,828.9 L2116.7,827.5 L2115.8,825.9 L2115.2,824.4 L2115.0,822.7" fill="none" stroke="#e6e6e6" stroke-width="2.2"/>
<path d="M2156.2,822.8 L2156.2,762.8" stroke="#e6e6e6" stroke-width="2.2"/>
<path d="M2115.0,822.7 L2115.0,762.7" stroke="#e6e6e6" stroke-width="2.2"/>
<path d="M2154.6,827.3 L2154.6,767.3" stroke="#e6e6e6" stroke-width="1.7600000000000002"/>
<path d="M2143.5,833.7 L2143.5,773.7" stroke="#e6e6e6" stroke-width="1.7600000000000002"/>
<path d="M2127.7,833.7 L2127.7,773.7" stroke="#e6e6e6" stroke-width="1.7600000000000002"/>
<path d="M2116.6,827.3 L2116.6,767.3" stroke="#e6e6e6" stroke-width="1.7600000000000002"/>
<path d="M2152.5,756.0 L2154.2,757.6 L2155.3,759.4 L2156.0,761.3 L2156.2,763.2 L2155.8,765.1 L2154.9,766.9 L2153.5,768.6 L2151.6,770.2 L2149.4,771.6 L2146.7,772.7 L2143.8,773.6 L2140.7,774.2 L2137.4,774.5 L2134.1,774.6 L2130.8,774.3 L2127.7,773.7 L2124.7,772.8 L2122.0,771.6 L2119.7,770.3 L2117.8,768.7 L2116.4,767.0 L2115.4,765.2 L2115.0,763.3 L2115.1,761.4 L2115.8,759.5 L2116.9,757.7 L2118.6,756.0 L2120.7,754.6 L2123.1,753.3 L2125.9,752.3 L2129.0,751.5 L2132.2,751.0 L2135.5,750.9 L2138.8,751.0 L2142.0,751.5 L2145.1,752.2 L2147.9,753.2 L2150.4,754.5 L2152.5,756.0Z" fill="#2b2b2b" stroke="#e6e6e6" stroke-width="2.2"/>
<path d="M2123.0,773.0 L2133.8,768.7 L2141.3,774.9 L2153.5,770.0 L2145.9,763.8 L2156.7,759.5 L2148.2,752.5 L2137.4,756.8 L2129.9,750.6 L2117.7,755.4 L2125.3,761.7 L2114.5,766.0Z" fill="#1a1a1a" stroke="#e6e6e6" stroke-width="1.8" stroke-linejoin="round"/>
<path d="M2048.1,855.8 L2050.4,858.1 L2052.0,860.5 L2052.9,863.0 L2053.1,865.5 L2052.6,868.1 L2051.4,870.6 L2049.5,872.9 L2047.0,875.0 L2043.9,876.9 L2040.4,878.4 L2036.4,879.6 L2032.2,880.5 L2027.8,880.9 L2023.3,880.9 L2018.9,880.5 L2014.7,879.7 L2010.7,878.5 L2007.1,877.0 L2004.0,875.1 L2001.5,873.0 L1999.5,870.7 L1998.3,868.2 L1997.7,865.7 L1997.8,863.1 L1998.7,860.6 L2000.3,858.2 L2002.5,856.0 L2005.3,854.0 L2008.6,852.3 L2012.4,850.9 L2016.4,849.9 L2020.8,849.2 L2025.2,849.0 L2029.7,849.2 L2034.0,849.8 L2038.1,850.8 L2041.9,852.2 L2045.3,853.9 L2048.1,855.8Z" fill="#2b2b2b" stroke="#e6e6e6" stroke-width="2.2"/>
<path d="M2004.8,807.5 L2004.9,805.6 L2005.6,803.8 L2006.7,802.0 L2008.4,800.3 L2010.5,798.8 L2012.9,797.6 L2015.7,796.5 L2018.8,795.8 L2022.0,795.3 L2025.3,795.2 L2028.6,795.3 L2031.8,795.8 L2034.8,796.5 L2037.7,797.5 L2040.2,798.8 L2042.3,800.2 L2044.0,801.9 L2045.2,803.7 L2045.8,805.5 L2046.0,807.4 L2046.0,867.5 L2045.6,869.4 L2044.7,871.2 L2043.3,872.9 L2041.4,874.5 L2039.2,875.9 L2036.5,877.0 L2033.6,877.9 L2030.5,878.5 L2027.2,878.9 L2023.9,878.9 L2020.6,878.6 L2017.5,878.0 L2014.5,877.1 L2011.8,876.0 L2009.5,874.6 L2007.6,873.0 L2006.2,871.3 L2005.2,869.5 L2004.8,867.6Z" fill="#2b2b2b"/>
<path d="M2046.0,867.1 L2045.8,868.7 L2045.2,870.3 L2044.3,871.8 L2043.0,873.2 L2041.4,874.5 L2039.5,875.7 L2037.3,876.7 L2034.9,877.6 L2032.3,878.2 L2029.6,878.7 L2026.8,878.9 L2024.0,878.9 L2021.2,878.6 L2018.5,878.2 L2015.9,877.6 L2013.5,876.7 L2011.3,875.7 L2009.4,874.5 L2007.8,873.2 L2006.5,871.7 L2005.6,870.2 L2005.0,868.6 L2004.8,867.0" fill="none" stroke="#e6e6e6" stroke-width="2.2"/>
<path d="M2046.0,867.1 L2046.0,807.0" stroke="#e6e6e6" stroke-width="2.2"/>
<path d="M2004.8,867.0 L2004.8,807.0" stroke="#e6e6e6" stroke-width="2.2"/>
<path d="M2044.4,871.6 L2044.4,811.6" stroke="#e6e6e6" stroke-width="1.7600000000000002"/>
<path d="M2033.3,878.0 L2033.3,818.0" stroke="#e6e6e6" stroke-width="1.7600000000000002"/>
<path d="M2017.5,878.0 L2017.5,818.0" stroke="#e6e6e6" stroke-width="1.7600000000000002"/>
<path d="M2006.4,871.6 L2006.4,811.5" stroke="#e6e6e6" stroke-width="1.7600000000000002"/>
<path d="M2042.3,800.2 L2044.0,801.9 L2045.1,803.7 L2045.8,805.5 L2046.0,807.4 L2045.6,809.3 L2044.7,811.2 L2043.3,812.9 L2041.4,814.5 L2039.2,815.9 L2036.5,817.0 L2033.6,817.9 L2030.5,818.5 L2027.2,818.8 L2023.9,818.8 L2020.6,818.5 L2017.5,817.9 L2014.5,817.1 L2011.8,815.9 L2009.5,814.6 L2007.6,813.0 L2006.2,811.3 L2005.2,809.4 L2004.8,807.5 L2004.9,805.6 L2005.6,803.8 L2006.7,802.0 L2008.4,800.3 L2010.5,798.8 L2012.9,797.6 L2015.7,796.5 L2018.8,795.8 L2022.0,795.3 L2025.3,795.2 L2028.6,795.3 L2031.8,795.8 L2034.9,796.5 L2037.7,797.5 L2040.2,798.8 L2042.3,800.2Z" fill="#2b2b2b" stroke="#e6e6e6" stroke-width="2.2"/>
<path d="M2012.8,817.3 L2023.6,813.0 L2031.1,819.2 L2043.3,814.3 L2035.7,808.1 L2046.5,803.7 L2038.0,796.7 L2027.2,801.1 L2019.7,794.8 L2007.5,799.7 L2015.1,806.0 L2004.3,810.3Z" fill="#1a1a1a" stroke="#e6e6e6" stroke-width="1.8" stroke-linejoin="round"/>
<path d="M1996.6,1776.2 L1997.0,1773.8 L1998.0,1771.4 L1999.5,1769.2 L2001.6,1767.1 L2004.0,1765.2 L2006.9,1763.4 L2010.2,1761.9 L2781.6,1452.0 L2785.2,1450.7 L2789.0,1449.8 L2793.0,1449.1 L2797.1,1448.7 L2801.3,1448.7 L2805.5,1448.9 L2809.5,1449.5 L2813.4,1450.4 L2817.1,1451.5 L2820.4,1453.0 L2823.5,1454.6 L2826.1,1456.5 L2828.2,1458.6 L2829.9,1460.8 L2831.1,1463.1 L2831.7,1465.5 L2831.8,1467.9 L2831.8,1525.2 L2831.4,1527.5 L2830.4,1529.9 L2828.8,1532.1 L2826.8,1534.2 L2824.4,1536.2 L2821.5,1537.9 L2818.2,1539.4 L2046.8,1849.4 L2043.2,1850.6 L2039.4,1851.6 L2035.4,1852.2 L2031.3,1852.6 L2027.1,1852.6 L2022.9,1852.4 L2018.9,1851.8 L2015.0,1850.9 L2011.3,1849.8 L2008.0,1848.3 L2004.9,1846.7 L2002.3,1844.8 L2000.2,1842.7 L1998.5,1840.5 L1997.3,1838.2 L1996.7,1835.8 L1996.6,1833.4Z" fill="#2b2b2b"/>
<path d="M1996.7,1778.6 L1997.3,1780.9 L1998.5,1783.3 L2000.2,1785.5 L2002.3,1787.5 L2004.9,1789.4 L2008.0,1791.1 L2011.3,1792.5 L2015.0,1793.7 L2018.9,1794.5 L2022.9,1795.1 L2027.1,1795.4 L2031.3,1795.3 L2035.4,1795.0 L2039.4,1794.3 L2043.2,1793.3 L2046.8,1792.1 L2818.2,1482.1 L2821.5,1480.6 L2824.4,1478.9 L2826.8,1477.0 L2828.8,1474.8 L2830.4,1472.6 L2831.4,1470.3 L2831.8,1467.9" fill="none" stroke="#e6e6e6" stroke-width="2.5" stroke-linejoin="round"/>
<clipPath id="c60"><path d="M2657.3,1524.3 L2654.5,1522.3 L2651.1,1520.6 L2647.3,1519.3 L2643.2,1518.3 L2638.9,1517.7 L2634.4,1517.5 L2630.0,1517.7 L2625.6,1518.3 L2621.5,1519.4 L2617.8,1520.7 L2614.5,1522.5 L2611.7,1524.4 L2609.5,1526.7 L2607.9,1529.1 L2607.0,1531.6 L2606.9,1534.2 L2607.5,1536.7 L2608.7,1539.2 L2610.7,1541.5 L2613.2,1543.6 L2616.3,1545.5 L2619.9,1547.0 L2623.9,1548.2 L2628.1,1549.0 L2632.5,1549.4 L2637.0,1549.4 L2641.4,1548.9 L2645.6,1548.1 L2649.6,1546.9 L2653.1,1545.4 L2656.2,1543.5 L2658.7,1541.4 L2660.6,1539.1 L2661.8,1536.6 L2662.3,1534.0 L2662.1,1531.5 L2661.2,1528.9 L2659.6,1526.5 L2657.3,1524.3Z"/></clipPath><path d="M2657.3,1524.3 L2654.5,1522.3 L2651.1,1520.6 L2647.3,1519.3 L2643.2,1518.3 L2638.9,1517.7 L2634.4,1517.5 L2630.0,1517.7 L2625.6,1518.3 L2621.5,1519.4 L2617.8,1520.7 L2614.5,1522.5 L2611.7,1524.4 L2609.5,1526.7 L2607.9,1529.1 L2607.0,1531.6 L2606.9,1534.2 L2607.5,1536.7 L2608.7,1539.2 L2610.7,1541.5 L2613.2,1543.6 L2616.3,1545.5 L2619.9,1547.0 L2623.9,1548.2 L2628.1,1549.0 L2632.5,1549.4 L2637.0,1549.4 L2641.4,1548.9 L2645.6,1548.1 L2649.6,1546.9 L2653.1,1545.4 L2656.2,1543.5 L2658.7,1541.4 L2660.6,1539.1 L2661.8,1536.6 L2662.3,1534.0 L2662.1,1531.5 L2661.2,1528.9 L2659.6,1526.5 L2657.3,1524.3Z" fill="#333"/><g clip-path="url(#c60)"><path d="M2653.9,1531.9 L2651.5,1530.2 L2648.6,1528.8 L2645.4,1527.6 L2641.9,1526.8 L2638.2,1526.3 L2634.4,1526.1 L2630.7,1526.3 L2627.0,1526.8 L2623.5,1527.7 L2620.3,1528.9 L2617.5,1530.3 L2615.1,1532.0 L2613.2,1533.9 L2611.9,1536.0 L2611.2,1538.1 L2611.0,1540.3 L2611.5,1542.4 L2612.6,1544.5 L2614.3,1546.5 L2616.4,1548.3 L2619.1,1549.9 L2622.1,1551.2 L2625.5,1552.2 L2629.1,1552.9 L2632.9,1553.2 L2636.6,1553.2 L2640.4,1552.8 L2644.0,1552.1 L2647.3,1551.1 L2650.4,1549.8 L2653.0,1548.2 L2655.1,1546.4 L2656.7,1544.4 L2657.7,1542.3 L2658.2,1540.2 L2658.0,1538.0 L2657.2,1535.8 L2655.8,1533.8 L2653.9,1531.9Z" fill="#2b2b2b" stroke="#dcdcdc" stroke-width="2.60"/></g><path d="M2657.3,1524.3 L2654.5,1522.3 L2651.1,1520.6 L2647.3,1519.3 L2643.2,1518.3 L2638.9,1517.7 L2634.4,1517.5 L2630.0,1517.7 L2625.6,1518.3 L2621.5,1519.4 L2617.8,1520.7 L2614.5,1522.5 L2611.7,1524.4 L2609.5,1526.7 L2607.9,1529.1 L2607.0,1531.6 L2606.9,1534.2 L2607.5,1536.7 L2608.7,1539.2 L2610.7,1541.5 L2613.2,1543.6 L2616.3,1545.5 L2619.9,1547.0 L2623.9,1548.2 L2628.1,1549.0 L2632.5,1549.4 L2637.0,1549.4 L2641.4,1548.9 L2645.6,1548.1 L2649.6,1546.9 L2653.1,1545.4 L2656.2,1543.5 L2658.7,1541.4 L2660.6,1539.1 L2661.8,1536.6 L2662.3,1534.0 L2662.1,1531.5 L2661.2,1528.9 L2659.6,1526.5 L2657.3,1524.3Z" fill="none" stroke="#e6e6e6" stroke-width="2.6"/>
<path d="M2659.5,1462.2 L2659.9,1460.0 L2660.8,1457.8 L2662.3,1455.6 L2664.2,1453.6 L2666.5,1451.8 L2669.3,1450.2 L2672.3,1448.7 L2782.6,1404.5 L2785.9,1403.3 L2789.6,1402.4 L2793.4,1401.7 L2797.3,1401.4 L2801.2,1401.3 L2805.2,1401.6 L2809.0,1402.1 L2812.7,1403.0 L2816.2,1404.1 L2819.4,1405.4 L2822.2,1407.0 L2824.7,1408.8 L2826.8,1410.7 L2828.3,1412.8 L2829.4,1415.0 L2830.1,1417.3 L2830.1,1419.5 L2830.1,1467.8 L2829.7,1470.1 L2828.8,1472.3 L2827.3,1474.4 L2825.4,1476.4 L2823.1,1478.3 L2820.3,1479.9 L2817.2,1481.3 L2707.1,1525.6 L2703.7,1526.8 L2700.0,1527.7 L2696.2,1528.3 L2692.3,1528.7 L2688.4,1528.7 L2684.4,1528.5 L2680.6,1527.9 L2676.9,1527.1 L2673.4,1526.0 L2670.2,1524.6 L2667.4,1523.1 L2664.9,1521.3 L2662.8,1519.3 L2661.3,1517.2 L2660.2,1515.1 L2659.6,1512.8 L2659.5,1510.5Z" fill="#2b2b2b"/>
<path d="M2659.6,1464.5 L2660.2,1466.8 L2661.3,1468.9 L2662.9,1471.0 L2664.9,1473.0 L2667.4,1474.8 L2670.2,1476.3 L2673.4,1477.7 L2676.9,1478.8 L2680.6,1479.6 L2684.4,1480.2 L2688.4,1480.4 L2692.3,1480.4 L2696.2,1480.0 L2700.0,1479.4 L2703.7,1478.5 L2707.1,1477.3 L2817.3,1433.0 L2820.3,1431.6 L2823.1,1430.0 L2825.4,1428.1 L2827.3,1426.1 L2828.8,1424.0 L2829.7,1421.8 L2830.1,1419.5" fill="none" stroke="#e6e6e6" stroke-width="2.5" stroke-linejoin="round"/>
<path d="M2722.5,1503.1 L2722.2,1505.6 L2721.3,1508.2 L2719.8,1510.6 L2717.7,1512.9 L2715.1,1515.0 L2712.1,1516.9 L2708.6,1518.5 L2704.8,1519.8 L2700.7,1520.8 L2696.4,1521.5 L2691.9,1521.9 L2687.5,1521.9 L2683.0,1521.5 L2678.7,1520.8 L2674.6,1519.8 L2670.8,1518.4 L2667.3,1516.8 L2664.3,1514.9 L2661.7,1512.8 L2659.6,1510.5 L2658.1,1508.1 L2657.2,1505.6 L2656.9,1503.0" fill="none" stroke="#e6e6e6" stroke-width="1.6"/>
<path d="M2722.5,1471.3 L2722.2,1473.9 L2721.3,1476.4 L2719.8,1478.9 L2717.7,1481.1 L2715.1,1483.2 L2712.1,1485.1 L2708.6,1486.7 L2704.8,1488.1 L2700.7,1489.1 L2696.4,1489.8 L2691.9,1490.1 L2687.5,1490.1 L2683.0,1489.8 L2678.7,1489.1 L2674.6,1488.0 L2670.8,1486.7 L2667.3,1485.1 L2664.3,1483.2 L2661.7,1481.1 L2659.6,1478.8 L2658.1,1476.4 L2657.2,1473.8 L2656.9,1471.3" fill="none" stroke="#e6e6e6" stroke-width="1.6"/>
<path d="M2693.1,1518.7 L2693.1,1489.0" stroke="#e6e6e6" stroke-width="1.5"/>
<path d="M2702.1,1515.1 L2702.1,1485.4" stroke="#e6e6e6" stroke-width="1.5"/>
<path d="M2711.0,1511.5 L2711.0,1481.8" stroke="#e6e6e6" stroke-width="1.5"/>
<path d="M2719.3,1508.2 L2719.3,1478.5" stroke="#e6e6e6" stroke-width="1.5"/>
<path d="M2832.7,1458.8 L2832.4,1461.4 L2831.5,1463.9 L2830.0,1466.3 L2827.9,1468.6 L2825.3,1470.7 L2822.3,1472.6 L2818.8,1474.2 L2815.0,1475.5 L2810.9,1476.6 L2806.6,1477.2 L2802.1,1477.6 L2797.7,1477.6 L2793.2,1477.2 L2788.9,1476.5 L2784.8,1475.5 L2781.0,1474.2 L2777.5,1472.5 L2774.5,1470.6 L2771.9,1468.5 L2769.8,1466.2 L2768.3,1463.8 L2767.4,1461.3 L2767.1,1458.7" fill="none" stroke="#e6e6e6" stroke-width="1.6"/>
<path d="M2832.7,1427.1 L2832.4,1429.6 L2831.5,1432.1 L2830.0,1434.6 L2827.9,1436.9 L2825.3,1439.0 L2822.3,1440.8 L2818.8,1442.5 L2815.0,1443.8 L2810.9,1444.8 L2806.6,1445.5 L2802.1,1445.9 L2797.7,1445.8 L2793.2,1445.5 L2788.9,1444.8 L2784.8,1443.8 L2781.0,1442.4 L2777.5,1440.8 L2774.5,1438.9 L2771.9,1436.8 L2769.8,1434.5 L2768.3,1432.1 L2767.4,1429.6 L2767.1,1427.0" fill="none" stroke="#e6e6e6" stroke-width="1.6"/>
<path d="M2803.3,1474.4 L2803.3,1444.7" stroke="#e6e6e6" stroke-width="1.5"/>
<path d="M2812.3,1470.8 L2812.3,1441.1" stroke="#e6e6e6" stroke-width="1.5"/>
<path d="M2821.2,1467.2 L2821.2,1437.5" stroke="#e6e6e6" stroke-width="1.5"/>
<path d="M2829.5,1463.9 L2829.5,1434.2" stroke="#e6e6e6" stroke-width="1.5"/>
<path d="M2784.9,1471.9 L2784.7,1468.6 L2783.9,1465.6 L2782.5,1463.0 L2780.7,1460.8 L2778.4,1459.1 L2775.7,1458.0 L2772.8,1457.5 L2769.5,1457.6 L2766.2,1458.2 L2762.7,1459.5 L2759.3,1461.3 L2756.0,1463.6 L2752.9,1466.3 L2750.1,1469.4 L2747.6,1472.8 L2745.6,1476.3 L2744.0,1480.0 L2742.9,1483.7 L2742.3,1487.3 L2742.3,1490.8 L2742.9,1494.0 L2744.0,1496.8 L2745.6,1499.2 L2747.6,1501.1 L2750.1,1502.5 L2752.9,1503.3 L2756.0,1503.6 L2759.3,1503.2 L2762.7,1502.2 L2766.2,1500.7 L2769.5,1498.7 L2772.8,1496.2 L2775.7,1493.2 L2778.4,1490.0 L2780.7,1486.5 L2782.5,1482.9 L2783.9,1479.1 L2784.7,1475.5 L2784.9,1471.9Z" fill="#2b2b2b" stroke="#e6e6e6" stroke-width="2.2"/>
<path d="M2781.5,1473.3 L2781.3,1470.5 L2780.6,1468.0 L2779.5,1465.8 L2777.9,1464.0 L2776.0,1462.6 L2773.8,1461.7 L2771.3,1461.2 L2768.6,1461.3 L2765.8,1461.8 L2762.9,1462.9 L2760.0,1464.4 L2757.2,1466.3 L2754.6,1468.6 L2752.3,1471.2 L2750.2,1474.0 L2748.5,1477.0 L2747.1,1480.1 L2746.2,1483.2 L2745.7,1486.2 L2745.7,1489.1 L2746.2,1491.8 L2747.1,1494.2 L2748.5,1496.2 L2750.2,1497.8 L2752.3,1499.0 L2754.6,1499.6 L2757.2,1499.8 L2760.0,1499.5 L2762.9,1498.7 L2765.8,1497.5 L2768.6,1495.7 L2771.3,1493.6 L2773.8,1491.2 L2776.0,1488.5 L2777.9,1485.5 L2779.5,1482.5 L2780.6,1479.4 L2781.3,1476.3 L2781.5,1473.3Z" fill="#222" stroke="#e6e6e6" stroke-width="1.6"/>
<path d="M2819.5,1408.8 L2821.8,1411.0 L2823.4,1413.4 L2824.3,1415.9 L2824.5,1418.5 L2824.0,1421.0 L2822.8,1423.5 L2820.9,1425.8 L2818.4,1428.0 L2815.3,1429.8 L2811.8,1431.4 L2807.8,1432.6 L2803.6,1433.4 L2799.2,1433.8 L2794.7,1433.8 L2790.3,1433.4 L2786.1,1432.6 L2782.1,1431.5 L2778.5,1429.9 L2775.4,1428.1 L2772.9,1426.0 L2770.9,1423.6 L2769.7,1421.2 L2769.1,1418.6 L2769.2,1416.1 L2770.1,1413.5 L2771.7,1411.1 L2773.9,1408.9 L2776.7,1406.9 L2780.0,1405.2 L2783.8,1403.8 L2787.8,1402.8 L2792.2,1402.2 L2796.6,1401.9 L2801.1,1402.1 L2805.4,1402.7 L2809.5,1403.7 L2813.3,1405.1 L2816.7,1406.8 L2819.5,1408.8Z" fill="#2b2b2b" stroke="#e6e6e6" stroke-width="2.2"/>
<path d="M2776.2,1360.5 L2776.3,1358.6 L2777.0,1356.7 L2778.1,1354.9 L2779.8,1353.3 L2781.8,1351.8 L2784.3,1350.5 L2787.1,1349.5 L2790.2,1348.7 L2793.4,1348.3 L2796.7,1348.1 L2800.0,1348.2 L2803.2,1348.7 L2806.2,1349.4 L2809.1,1350.4 L2811.6,1351.7 L2813.7,1353.2 L2815.3,1354.8 L2816.6,1356.6 L2817.2,1358.5 L2817.4,1360.4 L2817.4,1420.4 L2817.0,1422.3 L2816.1,1424.1 L2814.7,1425.9 L2812.8,1427.4 L2810.6,1428.8 L2807.9,1430.0 L2805.0,1430.9 L2801.9,1431.5 L2798.6,1431.8 L2795.3,1431.8 L2792.0,1431.5 L2788.8,1430.9 L2785.9,1430.0 L2783.2,1428.9 L2780.9,1427.5 L2779.0,1426.0 L2777.6,1424.2 L2776.7,1422.4 L2776.2,1420.5Z" fill="#2b2b2b"/>
<path d="M2817.4,1420.0 L2817.2,1421.6 L2816.6,1423.2 L2815.7,1424.7 L2814.4,1426.2 L2812.8,1427.5 L2810.9,1428.7 L2808.7,1429.7 L2806.3,1430.5 L2803.7,1431.2 L2801.0,1431.6 L2798.2,1431.8 L2795.4,1431.8 L2792.6,1431.6 L2789.9,1431.2 L2787.3,1430.5 L2784.9,1429.7 L2782.7,1428.6 L2780.8,1427.5 L2779.2,1426.1 L2777.9,1424.7 L2777.0,1423.2 L2776.4,1421.6 L2776.2,1420.0" fill="none" stroke="#e6e6e6" stroke-width="2.2"/>
<path d="M2817.4,1420.0 L2817.4,1360.0" stroke="#e6e6e6" stroke-width="2.2"/>
<path d="M2776.2,1420.0 L2776.2,1359.9" stroke="#e6e6e6" stroke-width="2.2"/>
<path d="M2815.8,1424.5 L2815.8,1364.5" stroke="#e6e6e6" stroke-width="1.7600000000000002"/>
<path d="M2804.7,1430.9 L2804.7,1370.9" stroke="#e6e6e6" stroke-width="1.7600000000000002"/>
<path d="M2788.9,1430.9 L2788.9,1370.9" stroke="#e6e6e6" stroke-width="1.7600000000000002"/>
<path d="M2777.8,1424.5 L2777.8,1364.5" stroke="#e6e6e6" stroke-width="1.7600000000000002"/>
<path d="M2813.7,1353.2 L2815.4,1354.8 L2816.5,1356.6 L2817.2,1358.5 L2817.4,1360.4 L2817.0,1362.3 L2816.1,1364.1 L2814.7,1365.8 L2812.8,1367.4 L2810.6,1368.8 L2807.9,1369.9 L2805.0,1370.8 L2801.9,1371.5 L2798.6,1371.8 L2795.3,1371.8 L2792.0,1371.5 L2788.9,1370.9 L2785.9,1370.0 L2783.2,1368.9 L2780.9,1367.5 L2779.0,1365.9 L2777.6,1364.2 L2776.6,1362.4 L2776.2,1360.5 L2776.3,1358.6 L2777.0,1356.7 L2778.1,1354.9 L2779.8,1353.3 L2781.9,1351.8 L2784.3,1350.5 L2787.1,1349.5 L2790.2,1348.7 L2793.4,1348.3 L2796.7,1348.1 L2800.0,1348.2 L2803.2,1348.7 L2806.3,1349.4 L2809.1,1350.4 L2811.6,1351.7 L2813.7,1353.2Z" fill="#2b2b2b" stroke="#e6e6e6" stroke-width="2.2"/>
<path d="M2784.2,1370.2 L2795.0,1365.9 L2802.5,1372.1 L2814.7,1367.2 L2807.1,1361.0 L2817.9,1356.7 L2809.4,1349.7 L2798.6,1354.0 L2791.1,1347.8 L2778.9,1352.7 L2786.5,1358.9 L2775.7,1363.2Z" fill="#1a1a1a" stroke="#e6e6e6" stroke-width="1.8" stroke-linejoin="round"/>
<path d="M2709.3,1453.1 L2711.6,1455.3 L2713.2,1457.7 L2714.1,1460.2 L2714.3,1462.8 L2713.8,1465.3 L2712.6,1467.8 L2710.7,1470.1 L2708.2,1472.2 L2705.1,1474.1 L2701.6,1475.7 L2697.6,1476.9 L2693.4,1477.7 L2689.0,1478.1 L2684.5,1478.1 L2680.1,1477.7 L2675.9,1476.9 L2671.9,1475.7 L2668.3,1474.2 L2665.2,1472.4 L2662.7,1470.2 L2660.7,1467.9 L2659.5,1465.5 L2658.9,1462.9 L2659.0,1460.3 L2659.9,1457.8 L2661.5,1455.4 L2663.7,1453.2 L2666.5,1451.2 L2669.8,1449.5 L2673.6,1448.1 L2677.6,1447.1 L2682.0,1446.4 L2686.4,1446.2 L2690.9,1446.4 L2695.2,1447.0 L2699.3,1448.0 L2703.1,1449.4 L2706.5,1451.1 L2709.3,1453.1Z" fill="#2b2b2b" stroke="#e6e6e6" stroke-width="2.2"/>
<path d="M2666.0,1404.8 L2666.1,1402.9 L2666.8,1401.0 L2667.9,1399.2 L2669.6,1397.5 L2671.7,1396.1 L2674.1,1394.8 L2676.9,1393.8 L2679.9,1393.0 L2683.2,1392.5 L2686.5,1392.4 L2689.8,1392.5 L2693.0,1393.0 L2696.1,1393.7 L2698.9,1394.7 L2701.4,1396.0 L2703.5,1397.5 L2705.2,1399.1 L2706.3,1400.9 L2707.0,1402.8 L2707.2,1404.7 L2707.2,1464.7 L2706.8,1466.6 L2705.9,1468.4 L2704.5,1470.2 L2702.6,1471.7 L2700.4,1473.1 L2697.7,1474.3 L2694.8,1475.2 L2691.7,1475.8 L2688.4,1476.1 L2685.1,1476.1 L2681.8,1475.8 L2678.7,1475.2 L2675.7,1474.3 L2673.0,1473.2 L2670.7,1471.8 L2668.8,1470.2 L2667.4,1468.5 L2666.4,1466.7 L2666.0,1464.8Z" fill="#2b2b2b"/>
<path d="M2707.2,1464.3 L2707.0,1465.9 L2706.4,1467.5 L2705.5,1469.0 L2704.2,1470.4 L2702.6,1471.8 L2700.7,1472.9 L2698.5,1474.0 L2696.1,1474.8 L2693.5,1475.4 L2690.8,1475.9 L2688.0,1476.1 L2685.2,1476.1 L2682.4,1475.9 L2679.7,1475.4 L2677.1,1474.8 L2674.7,1473.9 L2672.5,1472.9 L2670.6,1471.7 L2669.0,1470.4 L2667.7,1469.0 L2666.8,1467.4 L2666.2,1465.9 L2666.0,1464.2" fill="none" stroke="#e6e6e6" stroke-width="2.2"/>
<path d="M2707.2,1464.3 L2707.2,1404.3" stroke="#e6e6e6" stroke-width="2.2"/>
<path d="M2666.0,1464.2 L2666.0,1404.2" stroke="#e6e6e6" stroke-width="2.2"/>
<path d="M2705.6,1468.8 L2705.6,1408.8" stroke="#e6e6e6" stroke-width="1.7600000000000002"/>
<path d="M2694.5,1475.2 L2694.5,1415.2" stroke="#e6e6e6" stroke-width="1.7600000000000002"/>
<path d="M2678.7,1475.2 L2678.7,1415.2" stroke="#e6e6e6" stroke-width="1.7600000000000002"/>
<path d="M2667.6,1468.8 L2667.6,1408.8" stroke="#e6e6e6" stroke-width="1.7600000000000002"/>
<path d="M2703.5,1397.5 L2705.2,1399.1 L2706.3,1400.9 L2707.0,1402.8 L2707.2,1404.7 L2706.8,1406.6 L2705.9,1408.4 L2704.5,1410.1 L2702.6,1411.7 L2700.4,1413.1 L2697.7,1414.2 L2694.8,1415.1 L2691.7,1415.7 L2688.4,1416.0 L2685.1,1416.1 L2681.8,1415.8 L2678.7,1415.2 L2675.7,1414.3 L2673.0,1413.1 L2670.7,1411.8 L2668.8,1410.2 L2667.4,1408.5 L2666.4,1406.7 L2666.0,1404.8 L2666.1,1402.9 L2666.8,1401.0 L2667.9,1399.2 L2669.6,1397.5 L2671.7,1396.1 L2674.1,1394.8 L2676.9,1393.8 L2680.0,1393.0 L2683.2,1392.5 L2686.5,1392.4 L2689.8,1392.5 L2693.0,1393.0 L2696.1,1393.7 L2698.9,1394.7 L2701.4,1396.0 L2703.5,1397.5Z" fill="#2b2b2b" stroke="#e6e6e6" stroke-width="2.2"/>
<path d="M2674.0,1414.5 L2684.8,1410.2 L2692.3,1416.4 L2704.5,1411.5 L2696.9,1405.3 L2707.7,1401.0 L2699.2,1394.0 L2688.4,1398.3 L2680.9,1392.1 L2668.7,1396.9 L2676.3,1403.2 L2665.5,1407.5Z" fill="#1a1a1a" stroke="#e6e6e6" stroke-width="1.8" stroke-linejoin="round"/>
<path d="M2415.4,1458.2 L2415.8,1455.8 L2416.8,1453.5 L2418.3,1451.2 L2420.3,1449.1 L2422.8,1447.2 L2425.7,1445.4 L2429.0,1443.9 L2432.5,1442.7 L2436.4,1441.7 L2440.4,1441.1 L2444.5,1440.7 L2448.7,1440.7 L2452.8,1440.9 L2456.9,1441.5 L2460.8,1442.4 L2464.4,1443.5 L2467.8,1445.0 L2470.8,1446.6 L2473.4,1448.5 L2550.6,1512.0 L2552.7,1514.1 L2554.4,1516.3 L2555.6,1518.6 L2556.2,1521.0 L2556.3,1523.4 L2556.3,1578.6 L2555.9,1581.0 L2554.9,1583.3 L2553.3,1585.5 L2551.3,1587.7 L2548.9,1589.6 L2546.0,1591.3 L2542.7,1592.8 L2539.1,1594.1 L2535.3,1595.0 L2531.3,1595.7 L2527.2,1596.1 L2523.0,1596.1 L2518.8,1595.8 L2514.8,1595.3 L2510.9,1594.4 L2507.2,1593.2 L2503.9,1591.8 L2500.8,1590.1 L2498.2,1588.3 L2421.1,1524.7 L2418.9,1522.7 L2417.3,1520.5 L2416.1,1518.2 L2415.5,1515.8 L2415.4,1513.4Z" fill="#2b2b2b"/>
<path d="M2415.5,1460.6 L2416.1,1463.0 L2417.3,1465.3 L2418.9,1467.5 L2421.1,1469.5 L2498.2,1533.1 L2500.8,1534.9 L2503.9,1536.6 L2507.2,1538.0 L2510.9,1539.2 L2514.8,1540.1 L2518.8,1540.6 L2523.0,1540.9 L2527.2,1540.9 L2531.3,1540.5 L2535.3,1539.8 L2539.1,1538.9 L2542.7,1537.6 L2546.0,1536.1 L2548.9,1534.4 L2551.3,1532.5 L2553.3,1530.3 L2554.9,1528.1 L2555.9,1525.8 L2556.3,1523.4" fill="none" stroke="#e6e6e6" stroke-width="2.5" stroke-linejoin="round"/>
<clipPath id="c61"><path d="M2463.2,1472.1 L2466.6,1470.5 L2469.6,1468.6 L2471.9,1466.4 L2473.7,1464.0 L2474.7,1461.5 L2475.0,1458.9 L2474.6,1456.4 L2473.5,1453.9 L2471.8,1451.5 L2469.3,1449.4 L2466.4,1447.5 L2462.9,1445.8 L2459.0,1444.6 L2454.8,1443.7 L2450.4,1443.2 L2446.0,1443.1 L2441.6,1443.4 L2437.3,1444.1 L2433.3,1445.2 L2429.6,1446.7 L2426.4,1448.5 L2423.7,1450.5 L2421.7,1452.8 L2420.3,1455.3 L2419.6,1457.8 L2419.6,1460.4 L2420.4,1462.9 L2421.8,1465.3 L2423.9,1467.6 L2426.6,1469.7 L2429.9,1471.4 L2433.6,1472.9 L2437.6,1474.0 L2441.9,1474.7 L2446.3,1475.0 L2450.8,1474.9 L2455.2,1474.3 L2459.3,1473.4 L2463.2,1472.1Z"/></clipPath><path d="M2463.2,1472.1 L2466.6,1470.5 L2469.6,1468.6 L2471.9,1466.4 L2473.7,1464.0 L2474.7,1461.5 L2475.0,1458.9 L2474.6,1456.4 L2473.5,1453.9 L2471.8,1451.5 L2469.3,1449.4 L2466.4,1447.5 L2462.9,1445.8 L2459.0,1444.6 L2454.8,1443.7 L2450.4,1443.2 L2446.0,1443.1 L2441.6,1443.4 L2437.3,1444.1 L2433.3,1445.2 L2429.6,1446.7 L2426.4,1448.5 L2423.7,1450.5 L2421.7,1452.8 L2420.3,1455.3 L2419.6,1457.8 L2419.6,1460.4 L2420.4,1462.9 L2421.8,1465.3 L2423.9,1467.6 L2426.6,1469.7 L2429.9,1471.4 L2433.6,1472.9 L2437.6,1474.0 L2441.9,1474.7 L2446.3,1475.0 L2450.8,1474.9 L2455.2,1474.3 L2459.3,1473.4 L2463.2,1472.1Z" fill="#333"/><g clip-path="url(#c61)"><path d="M2460.8,1476.4 L2463.7,1475.0 L2466.2,1473.3 L2468.2,1471.5 L2469.7,1469.5 L2470.6,1467.3 L2470.9,1465.2 L2470.5,1463.0 L2469.6,1460.9 L2468.1,1458.9 L2466.0,1457.0 L2463.5,1455.4 L2460.5,1454.0 L2457.3,1452.9 L2453.7,1452.2 L2450.0,1451.7 L2446.2,1451.7 L2442.4,1451.9 L2438.8,1452.6 L2435.4,1453.5 L2432.2,1454.8 L2429.5,1456.3 L2427.3,1458.0 L2425.5,1460.0 L2424.3,1462.0 L2423.8,1464.2 L2423.8,1466.4 L2424.4,1468.5 L2425.6,1470.6 L2427.4,1472.5 L2429.7,1474.3 L2432.5,1475.8 L2435.6,1477.0 L2439.1,1477.9 L2442.7,1478.5 L2446.5,1478.8 L2450.3,1478.7 L2454.0,1478.3 L2457.5,1477.5 L2460.8,1476.4Z" fill="#2b2b2b" stroke="#dcdcdc" stroke-width="2.60"/></g><path d="M2463.2,1472.1 L2466.6,1470.5 L2469.6,1468.6 L2471.9,1466.4 L2473.7,1464.0 L2474.7,1461.5 L2475.0,1458.9 L2474.6,1456.4 L2473.5,1453.9 L2471.8,1451.5 L2469.3,1449.4 L2466.4,1447.5 L2462.9,1445.8 L2459.0,1444.6 L2454.8,1443.7 L2450.4,1443.2 L2446.0,1443.1 L2441.6,1443.4 L2437.3,1444.1 L2433.3,1445.2 L2429.6,1446.7 L2426.4,1448.5 L2423.7,1450.5 L2421.7,1452.8 L2420.3,1455.3 L2419.6,1457.8 L2419.6,1460.4 L2420.4,1462.9 L2421.8,1465.3 L2423.9,1467.6 L2426.6,1469.7 L2429.9,1471.4 L2433.6,1472.9 L2437.6,1474.0 L2441.9,1474.7 L2446.3,1475.0 L2450.8,1474.9 L2455.2,1474.3 L2459.3,1473.4 L2463.2,1472.1Z" fill="none" stroke="#e6e6e6" stroke-width="2.6"/>
<clipPath id="c62"><path d="M2501.7,1503.9 L2505.2,1502.2 L2508.1,1500.3 L2510.5,1498.1 L2512.2,1495.8 L2513.3,1493.3 L2513.6,1490.7 L2513.2,1488.1 L2512.1,1485.7 L2510.3,1483.3 L2507.9,1481.1 L2504.9,1479.2 L2501.5,1477.6 L2497.6,1476.3 L2493.4,1475.4 L2489.0,1474.9 L2484.5,1474.8 L2480.1,1475.1 L2475.8,1475.9 L2471.8,1477.0 L2468.2,1478.5 L2465.0,1480.2 L2462.3,1482.3 L2460.2,1484.6 L2458.9,1487.0 L2458.2,1489.6 L2458.2,1492.1 L2458.9,1494.7 L2460.4,1497.1 L2462.5,1499.4 L2465.2,1501.4 L2468.4,1503.2 L2472.1,1504.6 L2476.2,1505.7 L2480.5,1506.4 L2484.9,1506.7 L2489.4,1506.6 L2493.7,1506.1 L2497.9,1505.2 L2501.7,1503.9Z"/></clipPath><path d="M2501.7,1503.9 L2505.2,1502.2 L2508.1,1500.3 L2510.5,1498.1 L2512.2,1495.8 L2513.3,1493.3 L2513.6,1490.7 L2513.2,1488.1 L2512.1,1485.7 L2510.3,1483.3 L2507.9,1481.1 L2504.9,1479.2 L2501.5,1477.6 L2497.6,1476.3 L2493.4,1475.4 L2489.0,1474.9 L2484.5,1474.8 L2480.1,1475.1 L2475.8,1475.9 L2471.8,1477.0 L2468.2,1478.5 L2465.0,1480.2 L2462.3,1482.3 L2460.2,1484.6 L2458.9,1487.0 L2458.2,1489.6 L2458.2,1492.1 L2458.9,1494.7 L2460.4,1497.1 L2462.5,1499.4 L2465.2,1501.4 L2468.4,1503.2 L2472.1,1504.6 L2476.2,1505.7 L2480.5,1506.4 L2484.9,1506.7 L2489.4,1506.6 L2493.7,1506.1 L2497.9,1505.2 L2501.7,1503.9Z" fill="#333"/><g clip-path="url(#c62)"><path d="M2499.4,1508.1 L2502.3,1506.7 L2504.8,1505.1 L2506.8,1503.2 L2508.3,1501.2 L2509.1,1499.1 L2509.4,1496.9 L2509.1,1494.8 L2508.2,1492.6 L2506.6,1490.6 L2504.6,1488.8 L2502.1,1487.2 L2499.1,1485.8 L2495.8,1484.7 L2492.3,1483.9 L2488.5,1483.5 L2484.7,1483.4 L2481.0,1483.7 L2477.3,1484.3 L2473.9,1485.3 L2470.8,1486.5 L2468.1,1488.0 L2465.8,1489.8 L2464.1,1491.7 L2462.9,1493.8 L2462.3,1496.0 L2462.3,1498.1 L2463.0,1500.3 L2464.2,1502.4 L2466.0,1504.3 L2468.3,1506.0 L2471.0,1507.5 L2474.2,1508.8 L2477.6,1509.7 L2481.3,1510.3 L2485.0,1510.6 L2488.8,1510.5 L2492.5,1510.0 L2496.1,1509.2 L2499.4,1508.1Z" fill="#2b2b2b" stroke="#dcdcdc" stroke-width="2.60"/></g><path d="M2501.7,1503.9 L2505.2,1502.2 L2508.1,1500.3 L2510.5,1498.1 L2512.2,1495.8 L2513.3,1493.3 L2513.6,1490.7 L2513.2,1488.1 L2512.1,1485.7 L2510.3,1483.3 L2507.9,1481.1 L2504.9,1479.2 L2501.5,1477.6 L2497.6,1476.3 L2493.4,1475.4 L2489.0,1474.9 L2484.5,1474.8 L2480.1,1475.1 L2475.8,1475.9 L2471.8,1477.0 L2468.2,1478.5 L2465.0,1480.2 L2462.3,1482.3 L2460.2,1484.6 L2458.9,1487.0 L2458.2,1489.6 L2458.2,1492.1 L2458.9,1494.7 L2460.4,1497.1 L2462.5,1499.4 L2465.2,1501.4 L2468.4,1503.2 L2472.1,1504.6 L2476.2,1505.7 L2480.5,1506.4 L2484.9,1506.7 L2489.4,1506.6 L2493.7,1506.1 L2497.9,1505.2 L2501.7,1503.9Z" fill="none" stroke="#e6e6e6" stroke-width="2.6"/>
<path d="M2437.4,1543.8 L2437.8,1541.5 L2438.8,1539.1 L2440.3,1536.9 L2442.4,1534.8 L2444.8,1532.8 L2447.7,1531.1 L2451.0,1529.6 L2561.2,1485.3 L2564.8,1484.1 L2568.6,1483.1 L2572.6,1482.4 L2576.7,1482.1 L2580.9,1482.0 L2585.1,1482.3 L2589.1,1482.9 L2593.0,1483.8 L2596.7,1484.9 L2600.0,1486.3 L2603.1,1488.0 L2605.7,1489.9 L2607.8,1491.9 L2609.5,1494.2 L2610.7,1496.5 L2611.3,1498.8 L2611.4,1501.2 L2611.4,1556.4 L2611.0,1558.8 L2610.0,1561.2 L2608.4,1563.4 L2606.4,1565.5 L2604.0,1567.5 L2601.1,1569.2 L2597.8,1570.7 L2487.6,1615.0 L2484.0,1616.2 L2480.2,1617.2 L2476.2,1617.8 L2472.1,1618.2 L2467.9,1618.2 L2463.7,1618.0 L2459.7,1617.4 L2455.8,1616.5 L2452.1,1615.4 L2448.8,1613.9 L2445.7,1612.3 L2443.1,1610.4 L2441.0,1608.3 L2439.3,1606.1 L2438.1,1603.8 L2437.5,1601.4 L2437.4,1599.0Z" fill="#2b2b2b"/>
<path d="M2437.5,1546.2 L2438.1,1548.6 L2439.3,1550.9 L2441.0,1553.1 L2443.1,1555.2 L2445.7,1557.1 L2448.8,1558.7 L2452.1,1560.2 L2455.8,1561.3 L2459.7,1562.2 L2463.7,1562.8 L2467.9,1563.1 L2472.1,1563.0 L2476.2,1562.6 L2480.2,1562.0 L2484.0,1561.0 L2487.6,1559.8 L2597.8,1515.5 L2601.1,1514.0 L2604.0,1512.3 L2606.4,1510.3 L2608.4,1508.2 L2610.0,1506.0 L2611.0,1503.6 L2611.4,1501.2" fill="none" stroke="#e6e6e6" stroke-width="2.5" stroke-linejoin="round"/>
<clipPath id="c63"><path d="M2547.1,1513.4 L2544.3,1511.4 L2540.9,1509.7 L2537.1,1508.4 L2533.0,1507.4 L2528.7,1506.8 L2524.2,1506.6 L2519.8,1506.8 L2515.4,1507.4 L2511.3,1508.4 L2507.6,1509.8 L2504.3,1511.5 L2501.5,1513.5 L2499.3,1515.8 L2497.7,1518.2 L2496.8,1520.7 L2496.7,1523.3 L2497.3,1525.8 L2498.5,1528.3 L2500.5,1530.6 L2503.0,1532.7 L2506.1,1534.5 L2509.7,1536.1 L2513.7,1537.3 L2517.9,1538.1 L2522.3,1538.5 L2526.8,1538.5 L2531.2,1538.0 L2535.4,1537.2 L2539.4,1536.0 L2542.9,1534.4 L2546.0,1532.6 L2548.5,1530.5 L2550.4,1528.1 L2551.6,1525.7 L2552.1,1523.1 L2551.9,1520.5 L2551.0,1518.0 L2549.4,1515.6 L2547.1,1513.4Z"/></clipPath><path d="M2547.1,1513.4 L2544.3,1511.4 L2540.9,1509.7 L2537.1,1508.4 L2533.0,1507.4 L2528.7,1506.8 L2524.2,1506.6 L2519.8,1506.8 L2515.4,1507.4 L2511.3,1508.4 L2507.6,1509.8 L2504.3,1511.5 L2501.5,1513.5 L2499.3,1515.8 L2497.7,1518.2 L2496.8,1520.7 L2496.7,1523.3 L2497.3,1525.8 L2498.5,1528.3 L2500.5,1530.6 L2503.0,1532.7 L2506.1,1534.5 L2509.7,1536.1 L2513.7,1537.3 L2517.9,1538.1 L2522.3,1538.5 L2526.8,1538.5 L2531.2,1538.0 L2535.4,1537.2 L2539.4,1536.0 L2542.9,1534.4 L2546.0,1532.6 L2548.5,1530.5 L2550.4,1528.1 L2551.6,1525.7 L2552.1,1523.1 L2551.9,1520.5 L2551.0,1518.0 L2549.4,1515.6 L2547.1,1513.4Z" fill="#333"/><g clip-path="url(#c63)"><path d="M2543.7,1521.0 L2541.3,1519.3 L2538.4,1517.9 L2535.2,1516.7 L2531.7,1515.9 L2528.0,1515.3 L2524.2,1515.2 L2520.5,1515.4 L2516.8,1515.9 L2513.3,1516.8 L2510.1,1517.9 L2507.3,1519.4 L2504.9,1521.1 L2503.0,1523.0 L2501.7,1525.0 L2501.0,1527.2 L2500.8,1529.4 L2501.3,1531.5 L2502.4,1533.6 L2504.1,1535.6 L2506.2,1537.4 L2508.9,1539.0 L2511.9,1540.3 L2515.3,1541.3 L2518.9,1541.9 L2522.7,1542.3 L2526.4,1542.3 L2530.2,1541.9 L2533.8,1541.2 L2537.1,1540.2 L2540.2,1538.9 L2542.8,1537.3 L2544.9,1535.5 L2546.5,1533.5 L2547.5,1531.4 L2548.0,1529.2 L2547.8,1527.1 L2547.0,1524.9 L2545.6,1522.9 L2543.7,1521.0Z" fill="#2b2b2b" stroke="#dcdcdc" stroke-width="2.60"/></g><path d="M2547.1,1513.4 L2544.3,1511.4 L2540.9,1509.7 L2537.1,1508.4 L2533.0,1507.4 L2528.7,1506.8 L2524.2,1506.6 L2519.8,1506.8 L2515.4,1507.4 L2511.3,1508.4 L2507.6,1509.8 L2504.3,1511.5 L2501.5,1513.5 L2499.3,1515.8 L2497.7,1518.2 L2496.8,1520.7 L2496.7,1523.3 L2497.3,1525.8 L2498.5,1528.3 L2500.5,1530.6 L2503.0,1532.7 L2506.1,1534.5 L2509.7,1536.1 L2513.7,1537.3 L2517.9,1538.1 L2522.3,1538.5 L2526.8,1538.5 L2531.2,1538.0 L2535.4,1537.2 L2539.4,1536.0 L2542.9,1534.4 L2546.0,1532.6 L2548.5,1530.5 L2550.4,1528.1 L2551.6,1525.7 L2552.1,1523.1 L2551.9,1520.5 L2551.0,1518.0 L2549.4,1515.6 L2547.1,1513.4Z" fill="none" stroke="#e6e6e6" stroke-width="2.6"/>
<path d="M2610.4,1501.2 L2610.4,1556.4" stroke="#e6e6e6" stroke-width="2.2"/>
<path d="M1996.7,1778.6 L1997.3,1780.9 L1998.5,1783.3 L2000.2,1785.5 L2002.3,1787.5 L2004.9,1789.4 L2008.0,1791.1 L2011.3,1792.5 L2015.0,1793.7 L2018.9,1794.5 L2022.9,1795.1 L2027.1,1795.4 L2031.3,1795.3 L2035.4,1795.0 L2039.4,1794.3 L2043.2,1793.3 L2046.8,1792.1 L2818.2,1482.1 L2821.5,1480.6 L2824.4,1478.9 L2826.8,1477.0 L2828.8,1474.8 L2830.4,1472.6 L2831.4,1470.3 L2831.8,1467.9" fill="none" stroke="#e6e6e6" stroke-width="2.5" stroke-linejoin="round"/>
<ellipse cx="2584.5" cy="1504.4" rx="24.7" ry="14.5" fill="#9cc0f0"/>
<path d="M2562.8,1444.4 L2562.8,1501.4 A21.7,12.5 0 0 0 2606.2,1501.4 L2606.2,1444.4 Z" fill="#2a6fd6" stroke="#0b1f4d" stroke-width="2.5"/>
<path d="M2562.8,1496.4 A21.7,12.5 0 0 0 2606.2,1496.4" fill="none" stroke="#0b1f4d" stroke-width="2"/>
<path d="M2562.8,1452.4 A21.7,12.5 0 0 0 2606.2,1452.4" fill="none" stroke="#0b1f4d" stroke-width="2.2"/>
<ellipse cx="2584.5" cy="1444.4" rx="21.7" ry="12.5" fill="#3f82e0" stroke="#0b1f4d" stroke-width="2.5"/>
<ellipse cx="2584.5" cy="1445.4" rx="13.5" ry="7.7" fill="#2563c4" stroke="#0b1f4d" stroke-width="2"/>
<path d="M2581.2,1431.9 L2581.2,1438.8 M2587.8,1431.9 L2587.8,1438.8" stroke="#0b1f4d" stroke-width="2"/>
<path d="M2596.4,1446.9 L2606.2,1446.9" stroke="#0b1f4d" stroke-width="2"/>
<rect x="2566.3" y="1448.4" width="5.2" height="32" fill="#0b1f4d" rx="2"/>
<rect x="2591.0" y="1481.4" width="9.1" height="24.0" fill="#0b1f4d" rx="4"/>
<rect x="2594.0" y="1485.4" width="2.6" height="16.0" fill="#4d7fc9" rx="1"/>
<ellipse cx="2474.3" cy="1548.7" rx="24.7" ry="14.5" fill="#9cc0f0"/>
<path d="M2452.6,1488.7 L2452.6,1545.7 A21.7,12.5 0 0 0 2496.0,1545.7 L2496.0,1488.7 Z" fill="#2a6fd6" stroke="#0b1f4d" stroke-width="2.5"/>
<path d="M2452.6,1540.7 A21.7,12.5 0 0 0 2496.0,1540.7" fill="none" stroke="#0b1f4d" stroke-width="2"/>
<path d="M2452.6,1496.7 A21.7,12.5 0 0 0 2496.0,1496.7" fill="none" stroke="#0b1f4d" stroke-width="2.2"/>
<ellipse cx="2474.3" cy="1488.7" rx="21.7" ry="12.5" fill="#3f82e0" stroke="#0b1f4d" stroke-width="2.5"/>
<ellipse cx="2474.3" cy="1489.7" rx="13.5" ry="7.7" fill="#2563c4" stroke="#0b1f4d" stroke-width="2"/>
<path d="M2471.0,1476.2 L2471.0,1483.1 M2477.6,1476.2 L2477.6,1483.1" stroke="#0b1f4d" stroke-width="2"/>
<path d="M2486.2,1491.2 L2496.0,1491.2" stroke="#0b1f4d" stroke-width="2"/>
<rect x="2456.1" y="1492.7" width="5.2" height="32" fill="#0b1f4d" rx="2"/>
<rect x="2480.8" y="1525.7" width="9.1" height="24.0" fill="#0b1f4d" rx="4"/>
<rect x="2483.8" y="1529.7" width="2.6" height="16.0" fill="#4d7fc9" rx="1"/>
<path d="M2161.9,1654.5 L2162.3,1652.2 L2163.3,1649.8 L2164.8,1647.6 L2166.9,1645.5 L2169.3,1643.5 L2172.2,1641.8 L2175.5,1640.3 L2395.9,1551.7 L2399.5,1550.5 L2403.3,1549.5 L2407.3,1548.9 L2411.4,1548.5 L2415.6,1548.5 L2419.8,1548.7 L2423.8,1549.3 L2427.7,1550.2 L2431.4,1551.3 L2434.7,1552.8 L2437.8,1554.4 L2440.4,1556.3 L2442.5,1558.4 L2444.2,1560.6 L2445.4,1562.9 L2446.0,1565.3 L2446.1,1567.7 L2446.1,1622.9 L2445.7,1625.2 L2444.7,1627.6 L2443.2,1629.8 L2441.1,1631.9 L2438.7,1633.9 L2435.8,1635.6 L2432.5,1637.1 L2212.1,1725.7 L2208.5,1726.9 L2204.7,1727.9 L2200.7,1728.5 L2196.6,1728.9 L2192.4,1729.0 L2188.2,1728.7 L2184.2,1728.1 L2180.3,1727.2 L2176.6,1726.1 L2173.3,1724.6 L2170.2,1723.0 L2167.6,1721.1 L2165.5,1719.0 L2163.8,1716.8 L2162.6,1714.5 L2162.0,1712.1 L2161.9,1709.7Z" fill="#2b2b2b"/>
<path d="M2162.0,1656.9 L2162.6,1659.3 L2163.8,1661.6 L2165.5,1663.8 L2167.6,1665.9 L2170.2,1667.8 L2173.3,1669.4 L2176.6,1670.9 L2180.3,1672.0 L2184.2,1672.9 L2188.2,1673.5 L2192.4,1673.8 L2196.6,1673.7 L2200.7,1673.3 L2204.7,1672.7 L2208.5,1671.7 L2212.1,1670.5 L2432.5,1581.9 L2435.8,1580.4 L2438.7,1578.7 L2441.1,1576.7 L2443.1,1574.6 L2444.7,1572.4 L2445.7,1570.1 L2446.1,1567.7" fill="none" stroke="#e6e6e6" stroke-width="2.5" stroke-linejoin="round"/>
<clipPath id="c64"><path d="M2271.6,1624.1 L2268.8,1622.1 L2265.4,1620.4 L2261.6,1619.1 L2257.5,1618.1 L2253.2,1617.5 L2248.7,1617.3 L2244.3,1617.5 L2239.9,1618.1 L2235.8,1619.1 L2232.1,1620.5 L2228.8,1622.2 L2226.0,1624.2 L2223.8,1626.5 L2222.2,1628.9 L2221.3,1631.4 L2221.2,1634.0 L2221.8,1636.5 L2223.0,1639.0 L2225.0,1641.3 L2227.5,1643.4 L2230.6,1645.2 L2234.2,1646.8 L2238.2,1648.0 L2242.4,1648.8 L2246.8,1649.2 L2251.3,1649.2 L2255.7,1648.7 L2259.9,1647.9 L2263.9,1646.7 L2267.4,1645.1 L2270.5,1643.3 L2273.0,1641.2 L2274.9,1638.8 L2276.1,1636.4 L2276.6,1633.8 L2276.4,1631.2 L2275.5,1628.7 L2273.9,1626.3 L2271.6,1624.1Z"/></clipPath><path d="M2271.6,1624.1 L2268.8,1622.1 L2265.4,1620.4 L2261.6,1619.1 L2257.5,1618.1 L2253.2,1617.5 L2248.7,1617.3 L2244.3,1617.5 L2239.9,1618.1 L2235.8,1619.1 L2232.1,1620.5 L2228.8,1622.2 L2226.0,1624.2 L2223.8,1626.5 L2222.2,1628.9 L2221.3,1631.4 L2221.2,1634.0 L2221.8,1636.5 L2223.0,1639.0 L2225.0,1641.3 L2227.5,1643.4 L2230.6,1645.2 L2234.2,1646.8 L2238.2,1648.0 L2242.4,1648.8 L2246.8,1649.2 L2251.3,1649.2 L2255.7,1648.7 L2259.9,1647.9 L2263.9,1646.7 L2267.4,1645.1 L2270.5,1643.3 L2273.0,1641.2 L2274.9,1638.8 L2276.1,1636.4 L2276.6,1633.8 L2276.4,1631.2 L2275.5,1628.7 L2273.9,1626.3 L2271.6,1624.1Z" fill="#333"/><g clip-path="url(#c64)"><path d="M2268.2,1631.7 L2265.8,1630.0 L2262.9,1628.6 L2259.7,1627.4 L2256.2,1626.6 L2252.5,1626.0 L2248.7,1625.9 L2245.0,1626.1 L2241.3,1626.6 L2237.8,1627.5 L2234.6,1628.6 L2231.8,1630.1 L2229.4,1631.8 L2227.5,1633.7 L2226.2,1635.7 L2225.5,1637.9 L2225.3,1640.1 L2225.8,1642.2 L2226.9,1644.3 L2228.6,1646.3 L2230.7,1648.1 L2233.4,1649.7 L2236.4,1651.0 L2239.8,1652.0 L2243.4,1652.6 L2247.2,1653.0 L2250.9,1653.0 L2254.7,1652.6 L2258.3,1651.9 L2261.6,1650.9 L2264.7,1649.6 L2267.3,1648.0 L2269.4,1646.2 L2271.0,1644.2 L2272.0,1642.1 L2272.5,1639.9 L2272.3,1637.8 L2271.5,1635.6 L2270.1,1633.6 L2268.2,1631.7Z" fill="#2b2b2b" stroke="#dcdcdc" stroke-width="2.60"/></g><path d="M2271.6,1624.1 L2268.8,1622.1 L2265.4,1620.4 L2261.6,1619.1 L2257.5,1618.1 L2253.2,1617.5 L2248.7,1617.3 L2244.3,1617.5 L2239.9,1618.1 L2235.8,1619.1 L2232.1,1620.5 L2228.8,1622.2 L2226.0,1624.2 L2223.8,1626.5 L2222.2,1628.9 L2221.3,1631.4 L2221.2,1634.0 L2221.8,1636.5 L2223.0,1639.0 L2225.0,1641.3 L2227.5,1643.4 L2230.6,1645.2 L2234.2,1646.8 L2238.2,1648.0 L2242.4,1648.8 L2246.8,1649.2 L2251.3,1649.2 L2255.7,1648.7 L2259.9,1647.9 L2263.9,1646.7 L2267.4,1645.1 L2270.5,1643.3 L2273.0,1641.2 L2274.9,1638.8 L2276.1,1636.4 L2276.6,1633.8 L2276.4,1631.2 L2275.5,1628.7 L2273.9,1626.3 L2271.6,1624.1Z" fill="none" stroke="#e6e6e6" stroke-width="2.6"/>
<clipPath id="c65"><path d="M2326.7,1602.0 L2323.9,1600.0 L2320.5,1598.3 L2316.7,1596.9 L2312.6,1595.9 L2308.3,1595.3 L2303.8,1595.1 L2299.4,1595.3 L2295.0,1596.0 L2290.9,1597.0 L2287.2,1598.4 L2283.9,1600.1 L2281.1,1602.1 L2278.9,1604.3 L2277.3,1606.7 L2276.4,1609.2 L2276.3,1611.8 L2276.9,1614.4 L2278.1,1616.8 L2280.1,1619.1 L2282.6,1621.3 L2285.7,1623.1 L2289.3,1624.6 L2293.3,1625.8 L2297.5,1626.6 L2301.9,1627.0 L2306.4,1627.0 L2310.8,1626.6 L2315.0,1625.8 L2319.0,1624.6 L2322.5,1623.0 L2325.6,1621.1 L2328.1,1619.0 L2330.0,1616.7 L2331.2,1614.2 L2331.7,1611.7 L2331.5,1609.1 L2330.6,1606.6 L2329.0,1604.2 L2326.7,1602.0Z"/></clipPath><path d="M2326.7,1602.0 L2323.9,1600.0 L2320.5,1598.3 L2316.7,1596.9 L2312.6,1595.9 L2308.3,1595.3 L2303.8,1595.1 L2299.4,1595.3 L2295.0,1596.0 L2290.9,1597.0 L2287.2,1598.4 L2283.9,1600.1 L2281.1,1602.1 L2278.9,1604.3 L2277.3,1606.7 L2276.4,1609.2 L2276.3,1611.8 L2276.9,1614.4 L2278.1,1616.8 L2280.1,1619.1 L2282.6,1621.3 L2285.7,1623.1 L2289.3,1624.6 L2293.3,1625.8 L2297.5,1626.6 L2301.9,1627.0 L2306.4,1627.0 L2310.8,1626.6 L2315.0,1625.8 L2319.0,1624.6 L2322.5,1623.0 L2325.6,1621.1 L2328.1,1619.0 L2330.0,1616.7 L2331.2,1614.2 L2331.7,1611.7 L2331.5,1609.1 L2330.6,1606.6 L2329.0,1604.2 L2326.7,1602.0Z" fill="#333"/><g clip-path="url(#c65)"><path d="M2323.3,1609.5 L2320.9,1607.9 L2318.0,1606.4 L2314.8,1605.3 L2311.3,1604.4 L2307.6,1603.9 L2303.8,1603.7 L2300.1,1603.9 L2296.4,1604.5 L2292.9,1605.3 L2289.7,1606.5 L2286.9,1608.0 L2284.5,1609.7 L2282.6,1611.5 L2281.3,1613.6 L2280.6,1615.7 L2280.4,1617.9 L2280.9,1620.1 L2282.0,1622.2 L2283.7,1624.2 L2285.8,1625.9 L2288.5,1627.5 L2291.5,1628.8 L2294.9,1629.8 L2298.5,1630.5 L2302.3,1630.8 L2306.0,1630.8 L2309.8,1630.5 L2313.4,1629.8 L2316.7,1628.7 L2319.8,1627.4 L2322.4,1625.8 L2324.5,1624.0 L2326.1,1622.1 L2327.1,1620.0 L2327.6,1617.8 L2327.4,1615.6 L2326.6,1613.5 L2325.2,1611.4 L2323.3,1609.5Z" fill="#2b2b2b" stroke="#dcdcdc" stroke-width="2.60"/></g><path d="M2326.7,1602.0 L2323.9,1600.0 L2320.5,1598.3 L2316.7,1596.9 L2312.6,1595.9 L2308.3,1595.3 L2303.8,1595.1 L2299.4,1595.3 L2295.0,1596.0 L2290.9,1597.0 L2287.2,1598.4 L2283.9,1600.1 L2281.1,1602.1 L2278.9,1604.3 L2277.3,1606.7 L2276.4,1609.2 L2276.3,1611.8 L2276.9,1614.4 L2278.1,1616.8 L2280.1,1619.1 L2282.6,1621.3 L2285.7,1623.1 L2289.3,1624.6 L2293.3,1625.8 L2297.5,1626.6 L2301.9,1627.0 L2306.4,1627.0 L2310.8,1626.6 L2315.0,1625.8 L2319.0,1624.6 L2322.5,1623.0 L2325.6,1621.1 L2328.1,1619.0 L2330.0,1616.7 L2331.2,1614.2 L2331.7,1611.7 L2331.5,1609.1 L2330.6,1606.6 L2329.0,1604.2 L2326.7,1602.0Z" fill="none" stroke="#e6e6e6" stroke-width="2.6"/>
<clipPath id="c66"><path d="M2381.8,1579.8 L2379.0,1577.8 L2375.6,1576.1 L2371.8,1574.8 L2367.7,1573.8 L2363.4,1573.2 L2358.9,1573.0 L2354.5,1573.2 L2350.1,1573.8 L2346.0,1574.9 L2342.3,1576.2 L2339.0,1578.0 L2336.2,1579.9 L2334.0,1582.2 L2332.4,1584.6 L2331.5,1587.1 L2331.4,1589.7 L2332.0,1592.2 L2333.2,1594.7 L2335.2,1597.0 L2337.7,1599.1 L2340.8,1601.0 L2344.4,1602.5 L2348.4,1603.7 L2352.6,1604.5 L2357.0,1604.9 L2361.5,1604.9 L2365.9,1604.4 L2370.1,1603.6 L2374.1,1602.4 L2377.6,1600.9 L2380.7,1599.0 L2383.2,1596.9 L2385.1,1594.6 L2386.3,1592.1 L2386.8,1589.5 L2386.6,1587.0 L2385.7,1584.4 L2384.1,1582.0 L2381.8,1579.8Z"/></clipPath><path d="M2381.8,1579.8 L2379.0,1577.8 L2375.6,1576.1 L2371.8,1574.8 L2367.7,1573.8 L2363.4,1573.2 L2358.9,1573.0 L2354.5,1573.2 L2350.1,1573.8 L2346.0,1574.9 L2342.3,1576.2 L2339.0,1578.0 L2336.2,1579.9 L2334.0,1582.2 L2332.4,1584.6 L2331.5,1587.1 L2331.4,1589.7 L2332.0,1592.2 L2333.2,1594.7 L2335.2,1597.0 L2337.7,1599.1 L2340.8,1601.0 L2344.4,1602.5 L2348.4,1603.7 L2352.6,1604.5 L2357.0,1604.9 L2361.5,1604.9 L2365.9,1604.4 L2370.1,1603.6 L2374.1,1602.4 L2377.6,1600.9 L2380.7,1599.0 L2383.2,1596.9 L2385.1,1594.6 L2386.3,1592.1 L2386.8,1589.5 L2386.6,1587.0 L2385.7,1584.4 L2384.1,1582.0 L2381.8,1579.8Z" fill="#333"/><g clip-path="url(#c66)"><path d="M2378.4,1587.4 L2376.0,1585.7 L2373.1,1584.3 L2369.9,1583.1 L2366.4,1582.3 L2362.7,1581.8 L2358.9,1581.6 L2355.2,1581.8 L2351.5,1582.3 L2348.0,1583.2 L2344.8,1584.4 L2342.0,1585.8 L2339.6,1587.5 L2337.7,1589.4 L2336.4,1591.5 L2335.7,1593.6 L2335.5,1595.8 L2336.0,1597.9 L2337.1,1600.0 L2338.8,1602.0 L2340.9,1603.8 L2343.6,1605.4 L2346.6,1606.7 L2350.0,1607.7 L2353.6,1608.4 L2357.4,1608.7 L2361.1,1608.7 L2364.9,1608.3 L2368.5,1607.6 L2371.8,1606.6 L2374.9,1605.3 L2377.5,1603.7 L2379.6,1601.9 L2381.2,1599.9 L2382.2,1597.8 L2382.7,1595.7 L2382.5,1593.5 L2381.7,1591.3 L2380.3,1589.3 L2378.4,1587.4Z" fill="#2b2b2b" stroke="#dcdcdc" stroke-width="2.60"/></g><path d="M2381.8,1579.8 L2379.0,1577.8 L2375.6,1576.1 L2371.8,1574.8 L2367.7,1573.8 L2363.4,1573.2 L2358.9,1573.0 L2354.5,1573.2 L2350.1,1573.8 L2346.0,1574.9 L2342.3,1576.2 L2339.0,1578.0 L2336.2,1579.9 L2334.0,1582.2 L2332.4,1584.6 L2331.5,1587.1 L2331.4,1589.7 L2332.0,1592.2 L2333.2,1594.7 L2335.2,1597.0 L2337.7,1599.1 L2340.8,1601.0 L2344.4,1602.5 L2348.4,1603.7 L2352.6,1604.5 L2357.0,1604.9 L2361.5,1604.9 L2365.9,1604.4 L2370.1,1603.6 L2374.1,1602.4 L2377.6,1600.9 L2380.7,1599.0 L2383.2,1596.9 L2385.1,1594.6 L2386.3,1592.1 L2386.8,1589.5 L2386.6,1587.0 L2385.7,1584.4 L2384.1,1582.0 L2381.8,1579.8Z" fill="none" stroke="#e6e6e6" stroke-width="2.6"/>
<path d="M2445.1,1567.7 L2445.1,1622.9" stroke="#e6e6e6" stroke-width="2.2"/>
<ellipse cx="2419.2" cy="1570.8" rx="24.7" ry="14.5" fill="#9cc0f0"/>
<path d="M2397.5,1510.8 L2397.5,1567.8 A21.7,12.5 0 0 0 2440.9,1567.8 L2440.9,1510.8 Z" fill="#2a6fd6" stroke="#0b1f4d" stroke-width="2.5"/>
<path d="M2397.5,1562.8 A21.7,12.5 0 0 0 2440.9,1562.8" fill="none" stroke="#0b1f4d" stroke-width="2"/>
<path d="M2397.5,1518.8 A21.7,12.5 0 0 0 2440.9,1518.8" fill="none" stroke="#0b1f4d" stroke-width="2.2"/>
<ellipse cx="2419.2" cy="1510.8" rx="21.7" ry="12.5" fill="#3f82e0" stroke="#0b1f4d" stroke-width="2.5"/>
<ellipse cx="2419.2" cy="1511.8" rx="13.5" ry="7.7" fill="#2563c4" stroke="#0b1f4d" stroke-width="2"/>
<path d="M2415.9,1498.4 L2415.9,1505.2 M2422.5,1498.4 L2422.5,1505.2" stroke="#0b1f4d" stroke-width="2"/>
<path d="M2431.1,1513.3 L2440.9,1513.3" stroke="#0b1f4d" stroke-width="2"/>
<rect x="2401.0" y="1514.8" width="5.2" height="32" fill="#0b1f4d" rx="2"/>
<rect x="2425.7" y="1547.8" width="9.1" height="24.0" fill="#0b1f4d" rx="4"/>
<rect x="2428.7" y="1551.8" width="2.6" height="16.0" fill="#4d7fc9" rx="1"/>
<ellipse cx="2198.8" cy="1659.4" rx="24.7" ry="14.5" fill="#9cc0f0"/>
<path d="M2177.1,1599.4 L2177.1,1656.4 A21.7,12.5 0 0 0 2220.5,1656.4 L2220.5,1599.4 Z" fill="#2a6fd6" stroke="#0b1f4d" stroke-width="2.5"/>
<path d="M2177.1,1651.4 A21.7,12.5 0 0 0 2220.5,1651.4" fill="none" stroke="#0b1f4d" stroke-width="2"/>
<path d="M2177.1,1607.4 A21.7,12.5 0 0 0 2220.5,1607.4" fill="none" stroke="#0b1f4d" stroke-width="2.2"/>
<ellipse cx="2198.8" cy="1599.4" rx="21.7" ry="12.5" fill="#3f82e0" stroke="#0b1f4d" stroke-width="2.5"/>
<ellipse cx="2198.8" cy="1600.4" rx="13.5" ry="7.7" fill="#2563c4" stroke="#0b1f4d" stroke-width="2"/>
<path d="M2195.5,1586.9 L2195.5,1593.8 M2202.1,1586.9 L2202.1,1593.8" stroke="#0b1f4d" stroke-width="2"/>
<path d="M2210.7,1601.9 L2220.5,1601.9" stroke="#0b1f4d" stroke-width="2"/>
<rect x="2180.6" y="1603.4" width="5.2" height="32" fill="#0b1f4d" rx="2"/>
<rect x="2205.3" y="1636.4" width="9.1" height="24.0" fill="#0b1f4d" rx="4"/>
<rect x="2208.3" y="1640.4" width="2.6" height="16.0" fill="#4d7fc9" rx="1"/>
<path d="M1998.3,1727.9 L1998.7,1725.6 L1999.6,1723.4 L2001.1,1721.3 L2003.0,1719.3 L2005.3,1717.5 L2008.1,1715.8 L2011.2,1714.4 L2121.3,1670.1 L2124.7,1669.0 L2128.4,1668.0 L2132.2,1667.4 L2136.1,1667.1 L2140.0,1667.0 L2144.0,1667.3 L2147.8,1667.8 L2151.5,1668.7 L2155.0,1669.8 L2158.2,1671.1 L2161.0,1672.7 L2163.5,1674.5 L2165.6,1676.4 L2167.1,1678.5 L2168.2,1680.7 L2168.8,1682.9 L2168.9,1685.2 L2168.9,1733.5 L2168.5,1735.8 L2167.6,1738.0 L2166.1,1740.1 L2164.2,1742.1 L2161.9,1744.0 L2159.1,1745.6 L2156.1,1747.0 L2045.8,1791.3 L2042.5,1792.5 L2038.8,1793.4 L2035.0,1794.0 L2031.1,1794.4 L2027.2,1794.4 L2023.2,1794.2 L2019.4,1793.6 L2015.7,1792.8 L2012.2,1791.7 L2009.0,1790.3 L2006.2,1788.7 L2003.7,1787.0 L2001.7,1785.0 L2000.1,1782.9 L1999.0,1780.7 L1998.3,1778.5 L1998.3,1776.2Z" fill="#2b2b2b"/>
<path d="M1998.4,1730.2 L1999.0,1732.4 L2000.1,1734.6 L2001.7,1736.7 L2003.7,1738.7 L2006.2,1740.4 L2009.0,1742.0 L2012.2,1743.4 L2015.7,1744.5 L2019.4,1745.3 L2023.2,1745.9 L2027.2,1746.1 L2031.1,1746.1 L2035.0,1745.7 L2038.8,1745.1 L2042.5,1744.2 L2045.9,1743.0 L2156.1,1698.7 L2159.1,1697.3 L2161.9,1695.6 L2164.2,1693.8 L2166.1,1691.8 L2167.6,1689.7 L2168.5,1687.5 L2168.9,1685.2" fill="none" stroke="#e6e6e6" stroke-width="2.5" stroke-linejoin="round"/>
<path d="M2061.3,1768.8 L2061.0,1771.3 L2060.1,1773.8 L2058.6,1776.3 L2056.5,1778.6 L2053.9,1780.7 L2050.9,1782.5 L2047.4,1784.2 L2043.6,1785.5 L2039.5,1786.5 L2035.2,1787.2 L2030.7,1787.6 L2026.3,1787.5 L2021.8,1787.2 L2017.5,1786.5 L2013.4,1785.5 L2009.6,1784.1 L2006.1,1782.5 L2003.1,1780.6 L2000.5,1778.5 L1998.4,1776.2 L1996.9,1773.8 L1996.0,1771.3 L1995.7,1768.7" fill="none" stroke="#e6e6e6" stroke-width="1.6"/>
<path d="M2061.3,1737.0 L2061.0,1739.6 L2060.1,1742.1 L2058.6,1744.5 L2056.5,1746.8 L2053.9,1748.9 L2050.9,1750.8 L2047.4,1752.4 L2043.6,1753.8 L2039.5,1754.8 L2035.2,1755.5 L2030.7,1755.8 L2026.3,1755.8 L2021.8,1755.5 L2017.5,1754.8 L2013.4,1753.7 L2009.6,1752.4 L2006.1,1750.8 L2003.1,1748.9 L2000.5,1746.8 L1998.4,1744.5 L1996.9,1742.0 L1996.0,1739.5 L1995.7,1736.9" fill="none" stroke="#e6e6e6" stroke-width="1.6"/>
<path d="M2031.9,1784.4 L2031.9,1754.7" stroke="#e6e6e6" stroke-width="1.5"/>
<path d="M2040.9,1780.8 L2040.9,1751.1" stroke="#e6e6e6" stroke-width="1.5"/>
<path d="M2049.8,1777.2 L2049.8,1747.5" stroke="#e6e6e6" stroke-width="1.5"/>
<path d="M2058.1,1773.9 L2058.1,1744.2" stroke="#e6e6e6" stroke-width="1.5"/>
<path d="M2171.5,1724.5 L2171.2,1727.0 L2170.3,1729.6 L2168.8,1732.0 L2166.7,1734.3 L2164.1,1736.4 L2161.1,1738.3 L2157.6,1739.9 L2153.8,1741.2 L2149.7,1742.2 L2145.4,1742.9 L2140.9,1743.3 L2136.5,1743.3 L2132.0,1742.9 L2127.7,1742.2 L2123.6,1741.2 L2119.8,1739.8 L2116.3,1738.2 L2113.3,1736.3 L2110.7,1734.2 L2108.6,1731.9 L2107.1,1729.5 L2106.2,1727.0 L2105.9,1724.4" fill="none" stroke="#e6e6e6" stroke-width="1.6"/>
<path d="M2171.5,1692.7 L2171.2,1695.3 L2170.3,1697.8 L2168.8,1700.3 L2166.7,1702.5 L2164.1,1704.6 L2161.1,1706.5 L2157.6,1708.1 L2153.8,1709.5 L2149.7,1710.5 L2145.4,1711.2 L2140.9,1711.5 L2136.5,1711.5 L2132.0,1711.2 L2127.7,1710.5 L2123.6,1709.4 L2119.8,1708.1 L2116.3,1706.5 L2113.3,1704.6 L2110.7,1702.5 L2108.6,1700.2 L2107.1,1697.8 L2106.2,1695.2 L2105.9,1692.7" fill="none" stroke="#e6e6e6" stroke-width="1.6"/>
<path d="M2142.1,1740.1 L2142.1,1710.4" stroke="#e6e6e6" stroke-width="1.5"/>
<path d="M2151.1,1736.5 L2151.1,1706.8" stroke="#e6e6e6" stroke-width="1.5"/>
<path d="M2160.0,1732.9 L2160.0,1703.2" stroke="#e6e6e6" stroke-width="1.5"/>
<path d="M2168.3,1729.6 L2168.3,1699.9" stroke="#e6e6e6" stroke-width="1.5"/>
<path d="M2123.7,1737.6 L2123.5,1734.3 L2122.7,1731.3 L2121.3,1728.7 L2119.5,1726.5 L2117.2,1724.8 L2114.5,1723.7 L2111.6,1723.2 L2108.3,1723.3 L2105.0,1723.9 L2101.5,1725.2 L2098.1,1727.0 L2094.8,1729.2 L2091.7,1732.0 L2088.9,1735.1 L2086.4,1738.4 L2084.4,1742.0 L2082.8,1745.7 L2081.7,1749.4 L2081.1,1753.0 L2081.1,1756.5 L2081.7,1759.6 L2082.8,1762.5 L2084.4,1764.9 L2086.4,1766.8 L2088.9,1768.2 L2091.7,1769.0 L2094.8,1769.2 L2098.1,1768.9 L2101.5,1767.9 L2105.0,1766.4 L2108.3,1764.4 L2111.6,1761.8 L2114.5,1758.9 L2117.2,1755.7 L2119.5,1752.2 L2121.3,1748.5 L2122.7,1744.8 L2123.5,1741.2 L2123.7,1737.6Z" fill="#2b2b2b" stroke="#e6e6e6" stroke-width="2.2"/>
<path d="M2120.3,1739.0 L2120.1,1736.2 L2119.4,1733.7 L2118.3,1731.5 L2116.7,1729.7 L2114.8,1728.3 L2112.6,1727.3 L2110.1,1726.9 L2107.4,1727.0 L2104.6,1727.5 L2101.7,1728.6 L2098.8,1730.1 L2096.0,1732.0 L2093.4,1734.3 L2091.1,1736.8 L2089.0,1739.7 L2087.3,1742.7 L2085.9,1745.8 L2085.0,1748.9 L2084.5,1751.9 L2084.5,1754.8 L2085.0,1757.5 L2085.9,1759.8 L2087.3,1761.9 L2089.0,1763.5 L2091.1,1764.6 L2093.4,1765.3 L2096.0,1765.5 L2098.8,1765.2 L2101.7,1764.4 L2104.6,1763.1 L2107.4,1761.4 L2110.1,1759.3 L2112.6,1756.9 L2114.8,1754.1 L2116.7,1751.2 L2118.3,1748.2 L2119.4,1745.0 L2120.1,1742.0 L2120.3,1739.0Z" fill="#222" stroke="#e6e6e6" stroke-width="1.6"/>
<path d="M2158.3,1674.5 L2160.6,1676.7 L2162.2,1679.1 L2163.1,1681.6 L2163.3,1684.2 L2162.8,1686.7 L2161.6,1689.2 L2159.7,1691.5 L2157.2,1693.6 L2154.1,1695.5 L2150.6,1697.1 L2146.6,1698.3 L2142.4,1699.1 L2138.0,1699.5 L2133.5,1699.5 L2129.1,1699.1 L2124.9,1698.3 L2120.9,1697.1 L2117.3,1695.6 L2114.2,1693.8 L2111.7,1691.6 L2109.7,1689.3 L2108.5,1686.9 L2107.9,1684.3 L2108.0,1681.7 L2108.9,1679.2 L2110.5,1676.8 L2112.7,1674.6 L2115.5,1672.6 L2118.8,1670.9 L2122.6,1669.5 L2126.6,1668.5 L2131.0,1667.8 L2135.4,1667.6 L2139.9,1667.8 L2144.2,1668.4 L2148.3,1669.4 L2152.1,1670.8 L2155.5,1672.5 L2158.3,1674.5Z" fill="#2b2b2b" stroke="#e6e6e6" stroke-width="2.2"/>
<path d="M2115.0,1626.2 L2115.1,1624.3 L2115.8,1622.4 L2116.9,1620.6 L2118.6,1619.0 L2120.7,1617.5 L2123.1,1616.2 L2125.9,1615.2 L2128.9,1614.4 L2132.2,1613.9 L2135.5,1613.8 L2138.8,1613.9 L2142.0,1614.4 L2145.1,1615.1 L2147.9,1616.1 L2150.4,1617.4 L2152.5,1618.9 L2154.2,1620.5 L2155.3,1622.3 L2156.0,1624.2 L2156.2,1626.1 L2156.2,1686.1 L2155.8,1688.0 L2154.9,1689.8 L2153.5,1691.5 L2151.6,1693.1 L2149.4,1694.5 L2146.7,1695.7 L2143.8,1696.5 L2140.7,1697.2 L2137.4,1697.5 L2134.1,1697.5 L2130.8,1697.2 L2127.7,1696.6 L2124.7,1695.7 L2122.0,1694.6 L2119.7,1693.2 L2117.8,1691.6 L2116.4,1689.9 L2115.4,1688.1 L2115.0,1686.2Z" fill="#2b2b2b"/>
<path d="M2156.2,1685.7 L2156.0,1687.3 L2155.4,1688.9 L2154.5,1690.4 L2153.2,1691.8 L2151.6,1693.2 L2149.7,1694.3 L2147.5,1695.4 L2145.1,1696.2 L2142.5,1696.8 L2139.8,1697.3 L2137.0,1697.5 L2134.2,1697.5 L2131.4,1697.3 L2128.7,1696.8 L2126.1,1696.2 L2123.7,1695.3 L2121.5,1694.3 L2119.6,1693.1 L2118.0,1691.8 L2116.7,1690.4 L2115.8,1688.8 L2115.2,1687.3 L2115.0,1685.6" fill="none" stroke="#e6e6e6" stroke-width="2.2"/>
<path d="M2156.2,1685.7 L2156.2,1625.7" stroke="#e6e6e6" stroke-width="2.2"/>
<path d="M2115.0,1685.6 L2115.0,1625.6" stroke="#e6e6e6" stroke-width="2.2"/>
<path d="M2154.6,1690.2 L2154.6,1630.2" stroke="#e6e6e6" stroke-width="1.7600000000000002"/>
<path d="M2143.5,1696.6 L2143.5,1636.6" stroke="#e6e6e6" stroke-width="1.7600000000000002"/>
<path d="M2127.7,1696.6 L2127.7,1636.6" stroke="#e6e6e6" stroke-width="1.7600000000000002"/>
<path d="M2116.6,1690.2 L2116.6,1630.2" stroke="#e6e6e6" stroke-width="1.7600000000000002"/>
<path d="M2152.5,1618.9 L2154.2,1620.5 L2155.3,1622.3 L2156.0,1624.2 L2156.2,1626.1 L2155.8,1628.0 L2154.9,1629.8 L2153.5,1631.5 L2151.6,1633.1 L2149.4,1634.5 L2146.7,1635.6 L2143.8,1636.5 L2140.7,1637.1 L2137.4,1637.4 L2134.1,1637.5 L2130.8,1637.2 L2127.7,1636.6 L2124.7,1635.7 L2122.0,1634.5 L2119.7,1633.2 L2117.8,1631.6 L2116.4,1629.9 L2115.4,1628.1 L2115.0,1626.2 L2115.1,1624.3 L2115.8,1622.4 L2116.9,1620.6 L2118.6,1618.9 L2120.7,1617.5 L2123.1,1616.2 L2125.9,1615.2 L2129.0,1614.4 L2132.2,1613.9 L2135.5,1613.8 L2138.8,1613.9 L2142.0,1614.4 L2145.1,1615.1 L2147.9,1616.1 L2150.4,1617.4 L2152.5,1618.9Z" fill="#2b2b2b" stroke="#e6e6e6" stroke-width="2.2"/>
<path d="M2123.0,1635.9 L2133.8,1631.6 L2141.3,1637.8 L2153.5,1632.9 L2145.9,1626.7 L2156.7,1622.4 L2148.2,1615.4 L2137.4,1619.7 L2129.9,1613.5 L2117.7,1618.3 L2125.3,1624.6 L2114.5,1628.9Z" fill="#1a1a1a" stroke="#e6e6e6" stroke-width="1.8" stroke-linejoin="round"/>
<path d="M2048.1,1718.7 L2050.4,1721.0 L2052.0,1723.4 L2052.9,1725.9 L2053.1,1728.4 L2052.6,1731.0 L2051.4,1733.5 L2049.5,1735.8 L2047.0,1737.9 L2043.9,1739.8 L2040.4,1741.3 L2036.4,1742.5 L2032.2,1743.4 L2027.8,1743.8 L2023.3,1743.8 L2018.9,1743.4 L2014.7,1742.6 L2010.7,1741.4 L2007.1,1739.9 L2004.0,1738.0 L2001.5,1735.9 L1999.5,1733.6 L1998.3,1731.1 L1997.7,1728.6 L1997.8,1726.0 L1998.7,1723.5 L2000.3,1721.1 L2002.5,1718.9 L2005.3,1716.9 L2008.6,1715.2 L2012.4,1713.8 L2016.4,1712.8 L2020.8,1712.1 L2025.2,1711.9 L2029.7,1712.1 L2034.0,1712.7 L2038.1,1713.7 L2041.9,1715.1 L2045.3,1716.8 L2048.1,1718.7Z" fill="#2b2b2b" stroke="#e6e6e6" stroke-width="2.2"/>
<path d="M2004.8,1670.5 L2004.9,1668.5 L2005.6,1666.7 L2006.7,1664.9 L2008.4,1663.2 L2010.5,1661.7 L2012.9,1660.5 L2015.7,1659.4 L2018.8,1658.7 L2022.0,1658.2 L2025.3,1658.1 L2028.6,1658.2 L2031.8,1658.7 L2034.8,1659.4 L2037.7,1660.4 L2040.2,1661.7 L2042.3,1663.1 L2044.0,1664.8 L2045.2,1666.6 L2045.8,1668.4 L2046.0,1670.3 L2046.0,1730.4 L2045.6,1732.3 L2044.7,1734.1 L2043.3,1735.8 L2041.4,1737.4 L2039.2,1738.8 L2036.5,1739.9 L2033.6,1740.8 L2030.5,1741.4 L2027.2,1741.8 L2023.9,1741.8 L2020.6,1741.5 L2017.5,1740.9 L2014.5,1740.0 L2011.8,1738.9 L2009.5,1737.5 L2007.6,1735.9 L2006.2,1734.2 L2005.2,1732.4 L2004.8,1730.5Z" fill="#2b2b2b"/>
<path d="M2046.0,1730.0 L2045.8,1731.6 L2045.2,1733.2 L2044.3,1734.7 L2043.0,1736.1 L2041.4,1737.4 L2039.5,1738.6 L2037.3,1739.6 L2034.9,1740.5 L2032.3,1741.1 L2029.6,1741.6 L2026.8,1741.8 L2024.0,1741.8 L2021.2,1741.5 L2018.5,1741.1 L2015.9,1740.5 L2013.5,1739.6 L2011.3,1738.6 L2009.4,1737.4 L2007.8,1736.1 L2006.5,1734.6 L2005.6,1733.1 L2005.0,1731.5 L2004.8,1729.9" fill="none" stroke="#e6e6e6" stroke-width="2.2"/>
<path d="M2046.0,1730.0 L2046.0,1669.9" stroke="#e6e6e6" stroke-width="2.2"/>
<path d="M2004.8,1729.9 L2004.8,1669.9" stroke="#e6e6e6" stroke-width="2.2"/>
<path d="M2044.4,1734.5 L2044.4,1674.5" stroke="#e6e6e6" stroke-width="1.7600000000000002"/>
<path d="M2033.3,1740.9 L2033.3,1680.9" stroke="#e6e6e6" stroke-width="1.7600000000000002"/>
<path d="M2017.5,1740.9 L2017.5,1680.9" stroke="#e6e6e6" stroke-width="1.7600000000000002"/>
<path d="M2006.4,1734.5 L2006.4,1674.4" stroke="#e6e6e6" stroke-width="1.7600000000000002"/>
<path d="M2042.3,1663.1 L2044.0,1664.8 L2045.1,1666.6 L2045.8,1668.4 L2046.0,1670.3 L2045.6,1672.2 L2044.7,1674.1 L2043.3,1675.8 L2041.4,1677.4 L2039.2,1678.8 L2036.5,1679.9 L2033.6,1680.8 L2030.5,1681.4 L2027.2,1681.7 L2023.9,1681.7 L2020.6,1681.4 L2017.5,1680.8 L2014.5,1680.0 L2011.8,1678.8 L2009.5,1677.5 L2007.6,1675.9 L2006.2,1674.2 L2005.2,1672.3 L2004.8,1670.4 L2004.9,1668.5 L2005.6,1666.7 L2006.7,1664.9 L2008.4,1663.2 L2010.5,1661.7 L2012.9,1660.5 L2015.7,1659.4 L2018.8,1658.7 L2022.0,1658.2 L2025.3,1658.1 L2028.6,1658.2 L2031.8,1658.7 L2034.9,1659.4 L2037.7,1660.4 L2040.2,1661.7 L2042.3,1663.1Z" fill="#2b2b2b" stroke="#e6e6e6" stroke-width="2.2"/>
<path d="M2012.8,1680.2 L2023.6,1675.9 L2031.1,1682.1 L2043.3,1677.2 L2035.7,1671.0 L2046.5,1666.6 L2038.0,1659.6 L2027.2,1664.0 L2019.7,1657.7 L2007.5,1662.6 L2015.1,1668.9 L2004.3,1673.2Z" fill="#1a1a1a" stroke="#e6e6e6" stroke-width="1.8" stroke-linejoin="round"/>
<path d="M2342.0,1398.0 L2342.0,1447.2 A21.3,12.2 0 0 0 2384.6,1447.2 L2384.6,1398.0 Z" fill="#2a6fd6" stroke="#0b1f4d" stroke-width="2.5"/>
<path d="M2342.0,1441.2 A21.3,12.2 0 0 0 2384.6,1441.2" fill="none" stroke="#0b1f4d" stroke-width="2"/>
<rect x="2372.9" y="1429.2" width="6.4" height="22" fill="#0b1f4d" rx="3"/>
<path d="M2338.5,1392.0 L2338.5,1402.0 A24.8,14.2 0 0 0 2388.1,1402.0 L2388.1,1392.0 A24.8,14.2 0 0 0 2338.5,1392.0 Z" fill="#2a6fd6" stroke="#0b1f4d" stroke-width="3"/>
<path d="M2343.1,1337.0 L2343.1,1392.0 A20.2,12.2 0 0 0 2383.5,1392.0 L2383.5,1337.0 Z" fill="#2a6fd6" stroke="#0b1f4d" stroke-width="2.5"/>
<path d="M2351.6,1344.3 L2351.6,1401.8" stroke="#0b1f4d" stroke-width="1.6" opacity="0.8"/>
<path d="M2359.0,1344.3 L2359.0,1401.8" stroke="#0b1f4d" stroke-width="1.6" opacity="0.8"/>
<path d="M2368.6,1344.3 L2368.6,1401.8" stroke="#0b1f4d" stroke-width="1.6" opacity="0.8"/>
<path d="M2376.1,1344.3 L2376.1,1401.8" stroke="#0b1f4d" stroke-width="1.6" opacity="0.8"/>
<path d="M2354.8,1346.8 L2354.8,1399.3" stroke="#5b92e6" stroke-width="3"/>
<path d="M2372.2,1346.8 L2372.2,1399.3" stroke="#5b92e6" stroke-width="3"/>
<path d="M2338.5,1392.0 A24.8,14.2 0 0 0 2388.1,1392.0" fill="none" stroke="#0b1f4d" stroke-width="4"/>
<ellipse cx="2363.3" cy="1337.0" rx="20.2" ry="12.2" fill="#2a6fd6" stroke="#0b1f4d" stroke-width="2.5"/>
<path d="M2350.2,1347.6 L2361.4,1343.1 L2369.2,1349.5 L2381.8,1344.5 L2374.0,1338.1 L2385.2,1333.6 L2376.4,1326.4 L2365.2,1330.9 L2357.4,1324.5 L2344.8,1329.5 L2352.6,1335.9 L2341.4,1340.4Z" fill="#3d80de" stroke="#0b1f4d" stroke-width="2"/>
<path d="M2362.5,1462 L2362.5,1550" stroke="#d42a2a" stroke-width="6"/>
<path d="M2350,1545 L2375.5,1545 L2362.5,1599 Z" fill="#d42a2a"/>
<rect x="2228.55" y="1536.55" width="50.60" height="50.60" fill="#fff" stroke="#000" stroke-width="3.1"/>
<path d="M2260.81,1553.20 H2249.15 V1559.74 H2253.88 A6.53,6.53 0 1 1 2248.34,1569.73" stroke="#000" stroke-width="2.40" fill="none"/>
<path d="M2075,434 L2731,434" stroke="#fff" stroke-width="10"/>
<path d="M2075,431 L2075,770 M2731,380 L2731,510" stroke="#fff" stroke-width="10"/>
<path d="M2075,431 L2075,766" stroke="#fff" stroke-width="10"/>
<path d="M2053,759 L2097,759 L2075,818 Z" fill="#fff"/>
<path d="M2075,431 L2075,766" stroke="#000" stroke-width="6"/>
<path d="M2055,761 L2095,761 L2075,815 Z" fill="#000"/>
<path d="M2731,380 L2731,507" stroke="#fff" stroke-width="10"/>
<path d="M2709,500 L2753,500 L2731,559 Z" fill="#fff"/>
<path d="M2731,380 L2731,507" stroke="#000" stroke-width="6"/>
<path d="M2711,502 L2751,502 L2731,556 Z" fill="#000"/>
<path d="M2072,434 L2734,434" stroke="#000" stroke-width="6"/>
</svg></body></html>
